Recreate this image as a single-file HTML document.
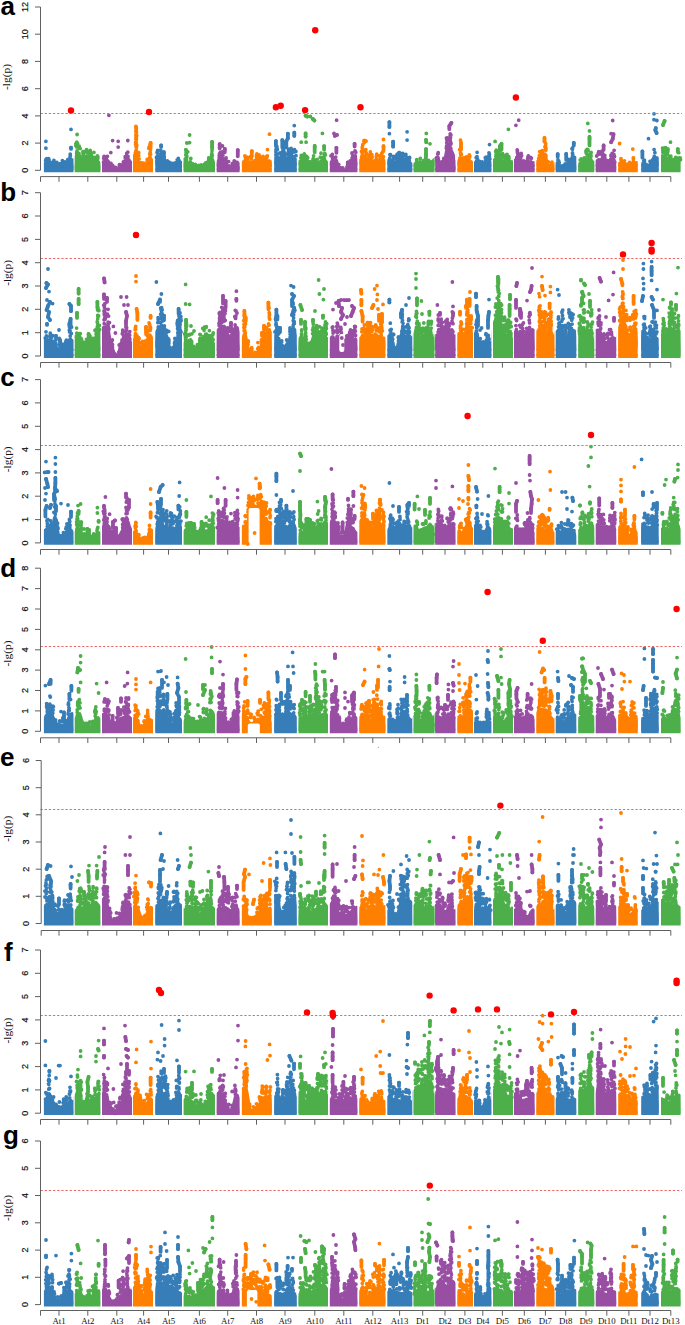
<!DOCTYPE html><html><head><meta charset="utf-8"><style>html,body{margin:0;padding:0;background:#fff;overflow:hidden;}svg{display:block}</style></head><body>
<svg width="685" height="1325" viewBox="0 0 685 1325">
<rect width="685" height="1325" fill="#fff"/>
<defs>
<clipPath id="c0"><rect x="43.9" y="0" width="29.6" height="1325"/></clipPath>
<clipPath id="c1"><rect x="74.7" y="0" width="25.7" height="1325"/></clipPath>
<clipPath id="c2"><rect x="102" y="0" width="30" height="1325"/></clipPath>
<clipPath id="c3"><rect x="133" y="0" width="20" height="1325"/></clipPath>
<clipPath id="c4"><rect x="155.3" y="0" width="26.7" height="1325"/></clipPath>
<clipPath id="c5"><rect x="183.6" y="0" width="31.4" height="1325"/></clipPath>
<clipPath id="c6"><rect x="216.7" y="0" width="22.9" height="1325"/></clipPath>
<clipPath id="c7"><rect x="241.9" y="0" width="29.9" height="1325"/></clipPath>
<clipPath id="c8"><rect x="274.2" y="0" width="22.6" height="1325"/></clipPath>
<clipPath id="c9"><rect x="298.5" y="0" width="29.5" height="1325"/></clipPath>
<clipPath id="c10"><rect x="329.8" y="0" width="27.6" height="1325"/></clipPath>
<clipPath id="c11"><rect x="359.3" y="0" width="26.1" height="1325"/></clipPath>
<clipPath id="c12"><rect x="387.3" y="0" width="25" height="1325"/></clipPath>
<clipPath id="c13"><rect x="413.5" y="0" width="21" height="1325"/></clipPath>
<clipPath id="c14"><rect x="435.2" y="0" width="20.3" height="1325"/></clipPath>
<clipPath id="c15"><rect x="457.4" y="0" width="15.6" height="1325"/></clipPath>
<clipPath id="c16"><rect x="474" y="0" width="17.4" height="1325"/></clipPath>
<clipPath id="c17"><rect x="493" y="0" width="19.9" height="1325"/></clipPath>
<clipPath id="c18"><rect x="514" y="0" width="20.6" height="1325"/></clipPath>
<clipPath id="c19"><rect x="536.3" y="0" width="18.2" height="1325"/></clipPath>
<clipPath id="c20"><rect x="555.7" y="0" width="20.6" height="1325"/></clipPath>
<clipPath id="c21"><rect x="578.2" y="0" width="16.1" height="1325"/></clipPath>
<clipPath id="c22"><rect x="595.7" y="0" width="20.5" height="1325"/></clipPath>
<clipPath id="c23"><rect x="618.2" y="0" width="19.5" height="1325"/></clipPath>
<clipPath id="c24"><rect x="641.2" y="0" width="17.5" height="1325"/></clipPath>
<clipPath id="c25"><rect x="661" y="0" width="19.6" height="1325"/></clipPath>
</defs>
<defs><path id="ea" d="M43.8 170.3L43.8 164.2L45.4 163.8L47 163.8L49.5 163.6L51.1 164.6L52.7 166.6L54.3 166.2L55.9 165.4L57.5 166.6L59.1 167L60.7 165.8L62.3 165L63.9 165.6L65.5 165.4L67.1 165L68.7 163.8L69.5 160.2L70.6 159.4L71.9 160.2L73.2 163.4L73.9 166.6L75.1 160.2L76.4 156.2L78 155.8L80 157.4L80.8 159.4L81.6 162.6L82.9 164.2L84 163.4L85.6 159.4L86.7 157.6L88 157.8L89.6 159.4L91.2 160.2L92.8 161L94.4 159.8L96 160.2L97.6 162.6L98.9 163.8L100 166.6L101.6 163.8L104.1 163L106.5 162.2L108.1 161.6L108.9 162.6L110.5 165.8L112.1 168.3L113.7 167.5L115.3 168.3L116.9 170.3L118.5 169.1L120.1 167L121.7 165.8L123.3 164.6L124.9 162.6L126.5 161L127.8 159.4L128.9 160.2L130.5 164.2L131.8 166.6L133.8 160.2L134.6 156.2L135.4 153.4L136.2 150.2L137 155.4L137.8 160.2L139.4 165.8L141 166.2L144.8 166.6L145 166.6L146.6 165.8L148.2 160.2L149.8 157.8L151.4 160.2L153 166.6L155 160.2L155.4 160.2L157 159.4L159.5 159L161.1 158.6L162.3 160.2L163.5 161.8L164.6 162.6L165.9 164.2L167.5 165.4L169.1 166.2L170.7 166.6L172.3 166.2L173.9 166.6L175.5 165.8L177.1 164.2L178.7 162.6L180 162.2L181.1 164.2L182.3 166.6L183.9 160.2L184.3 160.2L185.1 159.4L185.9 160.2L187.1 162.6L188.4 163.8L190 165L191.6 165.8L193.2 166.2L194.8 167L196.4 168.3L198 167.5L199.6 167L201.2 167L202.8 167.5L204.4 167L206 166.6L207.6 165.8L209.2 162.6L210.8 160.2L212.1 159.4L213.2 162.6L214.4 166.6L216 163.4L216.6 163.4L218.1 161.8L219.7 159.4L220.8 160.2L222.1 161L223.7 160.2L225.3 161.8L226.6 165L227.7 167.5L229.3 169.1L230.9 168.3L232.5 166.6L234.1 165L235.7 163.8L237.3 162.6L238.1 163.8L239.7 166.6L241.4 163.4L242.2 163.4L243.8 161.8L245.4 162.2L247 163.4L248.6 165L250.2 164.2L251.8 163.4L253.4 165L254.8 165.8L255 165.6L256.6 161.6L258.2 160.4L259.8 160L261.4 162L263 163.2L264.6 162.8L266.2 162.4L267.8 161.6L269.5 161.2L271.1 162.4L272.3 164.8L273.9 161.6L274.3 161.6L275.1 158.4L276.7 158L279.1 158.4L281.5 158.8L283.9 159.2L286.3 158.8L288.7 159L291.1 159.2L293.5 158.8L295.1 159.2L296.8 163.2L298 162.4L298.7 162.4L300 161.6L301.6 161.2L303.2 161.6L304.8 162.8L306.4 163.2L308 164L309.6 164.8L311.2 165.6L312.8 163.2L314.4 160.8L316 163.2L317.6 164L319.2 162.8L320.8 161.6L322.4 160.8L324.1 160L325.7 161.6L327.3 164.8L328.9 163.2L329.7 163.2L331.3 162.4L333.7 162L335.3 162.4L336.1 160.4L336.9 163.2L338.5 168.8L340.1 170.3L342.5 170.3L344.9 170.3L346.5 169.6L348.1 167.2L349.7 166.4L351 163.2L352.2 160L353.8 158.8L355.4 158L356.5 160.8L358.1 163.2L359.4 160.8L360.2 160.8L361.8 159.2L364.2 156.4L364.8 156.8L365 161.6L366.6 160.8L368.2 161.2L369.8 160.4L371.4 160.8L373 161.6L374.6 161.2L376.2 160.4L377.8 160.8L379.5 161.2L381.1 160.8L382.7 160L384.3 161.2L385.9 163.2L387.5 161.6L388 161.6L389.1 160L390.7 160.8L392.3 163.2L393.9 162.4L396.3 162L398.7 161.6L401.1 161.2L403.5 160.8L405.9 161.6L408.4 162.4L410 163.2L411.2 164.8L412.9 164.8L413.2 164.8L414.8 164.4L416.4 164.8L418.8 164L420.4 164.8L422 165.2L423.6 164.8L425.2 163.2L426.8 164L428.4 164.4L430 164.8L431.6 165.6L432.8 166.4L434.1 160L434.5 160L435.7 159.2L437.3 160L438.9 161.6L440.5 164.8L442.1 166.4L443.7 166.4L445 161.6L446.1 155.2L447.2 149.6L448.5 149.2L450.1 150.4L451.7 152L453 155.2L454.1 164.8L455.2 166.4L456.9 161.6L457.3 161.6L458.9 161.2L460.5 159.2L461.4 160L463 162.4L464.6 162.8L466.2 162L467.8 162L469.4 162.4L471 162L472.3 164.8L473.9 164L474.8 163.6L475 163.2L476.6 162.8L478.2 164L479.8 164.8L481.4 165.6L483 164.8L484.6 164L486.2 163.2L487.8 162.4L489.5 162L491.4 164.8L493 162.4L493.5 162.4L494.6 160L495.9 159.6L497.5 160.8L499.1 160.4L500.7 159.2L502.3 160.8L503.9 161.6L505.5 162L507.1 162.4L508.7 162L510.3 161.6L511.9 162.4L512.9 164.8L513.9 161.6L514.3 161.6L515.9 160L517.6 159.2L519.2 159.6L520.8 160.8L521.6 162.4L523.2 164L524.8 164L526.4 163.2L528 162.8L530.4 162.4L532 162.8L533.6 163.2L534.7 164.8L536 163.2L536.5 163.2L537.6 161.6L539.2 160.8L540.8 160L542.4 158.4L543.7 155.2L544.9 154.8L545.7 157.6L546.5 163.2L547.3 165.6L548.9 166L550.5 165.6L552.1 166L553.4 167.2L554.3 168.8L555.3 164L555.8 164L556.9 163.2L558.5 164L560.1 167.2L561.7 168L563.3 167.2L564.9 166.4L566.5 164.8L568.1 163.2L569.7 161.6L571.4 160L573 158.4L574.2 157.6L575 157.6L575.4 164.8L575.8 158.4L576.5 167.2L576.6 164.8L577.8 165.6L577.9 164.8L578.2 164.8L578.6 165.6L579.8 164L581 164L581.4 163.6L583 164.8L583.4 163.2L584.6 164L584.8 162.4L586.2 161.6L587.8 159.2L589.1 157.6L590.3 158.4L591.1 160.8L592.7 162.4L593.9 163.2L594.9 165.6L595.9 161.6L596.4 161.6L598.3 160.4L600.7 160L602.3 160.4L603.9 160L605.5 163.2L607.1 165.6L608.7 163.2L610.3 160.4L611.9 160.8L613.5 161.6L615.1 164.8L616.4 166.4L617.6 164L618.4 164L620 163.6L621.6 164L623.2 165.2L624.8 164.8L626.4 166.4L628 167.2L629.6 166.4L631.2 164.8L632.8 164L635.2 163.2L636.8 162.8L638.4 164.8L639.2 166.4L640 164.8L640.5 164.8L642.4 164L644.1 164.8L645.7 166.4L647.3 167.2L648.9 166.8L650.5 165.6L652.1 160.8L653.7 158.8L655.3 158.4L656.9 158L658.2 158.8L659.3 164.8L660.1 165.6L660.9 160L661.4 160L662.5 156L664.1 156.8L665.7 158.4L667.3 160.8L668.9 161.6L670.5 163.2L672.2 164L673.8 163.6L675.4 163.2L677 161.6L678.6 160.8L680.2 161.6L680.2 170.3Z" stroke-width="3.8" stroke-linejoin="round"/></defs>
<g clip-path="url(#c0)" fill="#377EB8" stroke="#377EB8"><use href="#ea"/></g>
<path d="M71 147.7L71 148.9" stroke="#377EB8" stroke-width="3.8" stroke-linecap="round"/>
<path d="M45.9 141.3h0M45.9 148.2h0M71 129.4h0M71 147.7h0M46.3 163.1h0M46.1 159.2h0M45.8 160.7h0M45.6 160.6h0M46.8 158.7h0M49 159.6h0M48.6 163.1h0M48.3 162.6h0M48.6 158.7h0M51.6 163.1h0M52.3 164.6h0M51.8 164.3h0M50.9 162.3h0M54.8 165.5h0M53.5 165h0M55.3 165.8h0M54.7 162.5h0M53.9 160.4h0M56.7 164.3h0M57.3 165.5h0M56.2 166.1h0M56.8 162.5h0M61.1 166h0M59.3 164.5h0M60.1 163.6h0M62.7 161.4h0M61.6 165h0M62.1 163.5h0M62.4 160.6h0M64.9 162.7h0M65.3 163.9h0M64.6 164.1h0M64.8 161.8h0M68.3 163.5h0M67.7 159.6h0M67.9 161.6h0M68.5 161.9h0M68.3 159.5h0M70.3 155.2h0M70.1 156.7h0M70.2 154.2h0" stroke="#377EB8" stroke-width="3.8" stroke-linecap="round"/>
<g clip-path="url(#c1)" fill="#4DAF4A" stroke="#4DAF4A"><use href="#ea"/></g>
<path d="M83.2 151.7L83.2 157.6" stroke="#4DAF4A" stroke-width="3.8" stroke-linecap="round"/>
<path d="M83.2 151.7h0M76.8 143h0M76.9 155.9h0M76.6 146.9h0M76.8 143.3h0M77.6 143.6h0M76.8 154h0M75.9 145.7h0M76.7 153.5h0M76.7 152.7h0M75.8 143.8h0M77.6 143.7h0M77 150.9h0M76.8 144.7h0M76.8 142.1h0M77.1 134.5h0M78.4 155.5h0M79.7 156.1h0M79.2 155.4h0M79.1 146.4h0M78.9 153.3h0M79.2 148.1h0M79.6 156.1h0M80.2 148.6h0M79.2 146.2h0M82.3 161h0M82.3 161.2h0M82.5 160h0M86.9 150.9h0M86.2 152.1h0M86.8 156.7h0M86.5 156.2h0M87.2 152.7h0M86.5 149.7h0M91.3 158.1h0M89.8 156.5h0M90.4 159h0M90.3 151.1h0M89.8 155h0M90.5 153.3h0M91.4 155.4h0M90.2 150.5h0M94.3 158.1h0M94.3 157.4h0M94.9 158.9h0M94.6 158.9h0M94 158.2h0M93.9 152.4h0M97.6 158.8h0M97.9 156.9h0M97.8 158.6h0M97.2 160.5h0M97.5 160.8h0M98.2 162.1h0M97.4 155.9h0" stroke="#4DAF4A" stroke-width="3.8" stroke-linecap="round"/>
<g clip-path="url(#c2)" fill="#984EA3" stroke="#984EA3"><use href="#ea"/></g>
<path d="M108.9 115.3h0M112.6 140.6h0M118.2 141.3h0M118.2 147.1h0M127.8 140.5h0M104.9 160.9h0M103.9 157h0M103.6 162.4h0M103.7 158.3h0M103.8 162.1h0M103.7 161.7h0M104.1 156.5h0M106.4 158.1h0M106.2 161h0M106.7 160.6h0M107.5 160.9h0M107.4 156.3h0M110.6 163.8h0M110.3 165.1h0M111 163.5h0M110.8 152.6h0M112.4 167.6h0M112.8 167.6h0M112.7 165.4h0M115.5 168h0M115.5 167.5h0M119.6 165h0M119.2 166.3h0M120.3 164.9h0M119.4 164.6h0M123.8 162.7h0M123.3 162.1h0M123.9 161.5h0M125.6 161.5h0M125.9 161.2h0M125.3 157.9h0M125.2 156.7h0M128 156.4h0M127.8 158.7h0M126.7 159.7h0M126.7 153.4h0M127.8 152.2h0" stroke="#984EA3" stroke-width="3.8" stroke-linecap="round"/>
<g clip-path="url(#c3)" fill="#FF7F00" stroke="#FF7F00"><use href="#ea"/></g>
<path d="M136.2 127.6L136.2 130M136.2 139.3L136.2 134.5M150.6 143L150.6 147.7M149 148.2L150.6 143" stroke="#FF7F00" stroke-width="3.8" stroke-linecap="round"/>
<path d="M136.2 127.6h0M136.2 134.5h0M136.2 139.3h0M150.6 143h0M149 148.2h0M136.5 132.3h0M136.3 142.8h0M136.7 135.6h0M136.3 132.8h0M136.2 135.3h0M136.3 137.9h0M136.1 145.4h0M136.3 139.7h0M135.7 144.5h0M135.6 142.5h0M136.5 147.2h0M136.3 146.8h0M136.8 145.3h0M136.3 134.7h0M136.1 138.5h0M136 146.7h0M136.4 146.1h0M135.9 131.4h0M135.9 126.3h0M139.1 159.1h0M137.9 157.7h0M138.5 161.7h0M138.3 158.1h0M138.8 159.3h0M138.2 160.8h0M138.7 155.7h0M138.7 152.7h0M141.1 162.8h0M141.9 163.4h0M141.2 162.9h0M141.9 162.8h0M144.1 165h0M142.1 163.3h0M143.9 163.2h0M147.3 160.7h0M147.5 161h0M147.5 162.4h0M147.2 159.3h0M149.7 153.9h0M150.6 154.4h0M150.5 149.5h0M150 154.2h0M149.9 157.2h0M150.3 152.1h0M150.5 149.3h0" stroke="#FF7F00" stroke-width="3.8" stroke-linecap="round"/>
<g clip-path="url(#c4)" fill="#377EB8" stroke="#377EB8"><use href="#ea"/></g>
<path d="M161.1 145.4L161.1 146.9M163.9 152.2L163.9 154" stroke="#377EB8" stroke-width="3.8" stroke-linecap="round"/>
<path d="M161.1 145.4h0M163.9 152.2h0M156.8 157.8h0M156.5 157.5h0M157.4 155.9h0M157.1 152.4h0M157.5 152.5h0M157.7 157.7h0M157.6 150.5h0M161.3 152h0M160.6 155.9h0M160.8 150.5h0M161.5 156.4h0M160.5 154.5h0M159.9 156.6h0M160.7 150.1h0M163.1 158.8h0M164.2 160h0M164 155.9h0M163.9 155.7h0M164.3 159.1h0M163.5 156.6h0M164.3 156.8h0M163.7 154.2h0M167 164.3h0M167.3 163.9h0M167.3 161h0M168.7 163.3h0M168.8 163.3h0M170.3 162.9h0M169 162.8h0M169.1 162.2h0M171.7 164.8h0M172.5 163.5h0M173.9 165.7h0M175.5 166h0M175.2 162.9h0M178.9 160.3h0M178.2 160.5h0M177.2 159.8h0M178.3 158.4h0" stroke="#377EB8" stroke-width="3.8" stroke-linecap="round"/>
<g clip-path="url(#c5)" fill="#4DAF4A" stroke="#4DAF4A"><use href="#ea"/></g>
<path d="M185.9 149.8L185.9 150.1M212.1 141.8L212.1 148.5M212.1 146.6L212.1 141.8M212.1 146.6L212.1 148.5" stroke="#4DAF4A" stroke-width="3.8" stroke-linecap="round"/>
<path d="M189.6 135h0M186.8 143h0M189.6 142.6h0M185.9 149.8h0M212.1 141.8h0M212.1 146.6h0M187.8 151.8h0M186.1 152.7h0M186.5 159.4h0M185.5 158.8h0M186.9 156.2h0M185.8 155.1h0M186.6 158.1h0M186.1 154.5h0M186.3 153.8h0M186.5 151.7h0M189.3 164.8h0M190.3 162.2h0M190.2 162h0M190.8 158.5h0M192.5 164.8h0M192.4 163.7h0M194.8 166.2h0M195.3 164.4h0M197.8 167.1h0M198.7 165.4h0M201.2 166.7h0M201.4 164.9h0M205 165.7h0M205.4 166.3h0M204.8 163.8h0M205.7 162.9h0M209.9 160.2h0M208.7 159.7h0M209 159.5h0M207.8 161.9h0M208.7 157.8h0M211.7 159.2h0M212.3 155.8h0M211.8 157.1h0M211.5 155.3h0M211.9 153.4h0M211.9 154.4h0M212 150.8h0" stroke="#4DAF4A" stroke-width="3.8" stroke-linecap="round"/>
<g clip-path="url(#c6)" fill="#984EA3" stroke="#984EA3"><use href="#ea"/></g>
<path d="M219.7 144.2L219.7 148.5M219.7 147.4L219.7 144.2M219.7 147.4L219.7 148.5M224.8 149L224.8 152.3M237.8 150.1L237.8 156.3" stroke="#984EA3" stroke-width="3.8" stroke-linecap="round"/>
<path d="M219.7 144.2h0M219.7 147.4h0M224.8 149h0M237.8 150.1h0M219.2 155.6h0M219.2 157.8h0M219.5 153.7h0M220.1 153.5h0M220.3 152.5h0M221.7 154.2h0M221.7 155.2h0M221.7 158.5h0M223.3 158.9h0M221.9 154.5h0M222.8 153.6h0M222.1 159.1h0M222.9 155.2h0M222.2 151.9h0M222.7 151.6h0M222.5 145.9h0M225.8 159.7h0M225.9 160.7h0M226 158.4h0M226.1 162.1h0M226.1 157.9h0M228.3 166.3h0M228.2 168.3h0M228.9 165.8h0M228.6 161.6h0M232.8 166.5h0M232.1 165.3h0M232.3 163.6h0M233.8 163.6h0M234.9 161.3h0M234.2 161h0" stroke="#984EA3" stroke-width="3.8" stroke-linecap="round"/>
<g clip-path="url(#c7)" fill="#FF7F00" stroke="#FF7F00"><use href="#ea"/></g>
<path d="M251.8 151.1L251.8 156.5" stroke="#FF7F00" stroke-width="3.8" stroke-linecap="round"/>
<path d="M251.8 151.1h0M269.5 134.2h0M244.8 161.1h0M245.6 159.5h0M245.3 157.4h0M244.9 155.8h0M247.5 163.6h0M247.7 161.6h0M247.4 162h0M247.6 159.8h0M247 158.9h0M247.2 157.5h0M247.6 157.3h0M250.8 162.2h0M250.4 162.2h0M251.4 162.1h0M252.5 162.3h0M251.2 158.3h0M250.5 156.7h0M254.4 164.2h0M254.2 162.2h0M255.1 162.2h0M254.2 164.1h0M254 161.2h0M254.2 160.9h0M256.4 156.1h0M257.5 155.4h0M256.6 158.6h0M257.1 154.8h0M256.8 157.5h0M256.7 154.7h0M256.9 154h0M258.9 158.3h0M260.1 156.8h0M258.8 157.1h0M259.1 154.9h0M261.9 157.8h0M262.1 158.3h0M262.1 159.2h0M261.3 157.8h0M263.6 161.5h0M262.3 159.5h0M264.6 161.1h0M263.6 158.7h0M264.2 161.1h0M263.1 156.5h0M266.5 160.1h0M266.8 156.5h0M266.8 156.4h0M266.9 157.7h0M267.3 156h0M267.5 149.6h0" stroke="#FF7F00" stroke-width="3.8" stroke-linecap="round"/>
<g clip-path="url(#c8)" fill="#377EB8" stroke="#377EB8"><use href="#ea"/></g>
<path d="M275.9 141.1L275.9 146.1M282.3 140.1L282.3 147.6M286.3 141.4L287.9 138.2M286.3 141.4L286.3 147.3M287.9 138.2L287.9 133.7M294.3 135.8L294.3 132.6M285.5 142.2L286.3 141.4M285.5 142.2L285.5 147.6" stroke="#377EB8" stroke-width="3.8" stroke-linecap="round"/>
<path d="M275.9 141.1h0M282.3 140.1h0M286.3 141.4h0M287.9 138.2h0M287.9 133.7h0M294.3 125.6h0M294.3 132.6h0M294.3 135.8h0M285.5 142.2h0M276.7 156.5h0M277 148h0M277 148.3h0M277.4 149.4h0M276.1 149.2h0M275.9 152h0M277.3 156.6h0M276 150.1h0M275.9 154.9h0M276.9 154.9h0M276.4 149.1h0M276.8 146.4h0M281.2 156h0M280.7 158.4h0M279.5 153.1h0M280.5 152.9h0M282.8 159h0M283.4 158.6h0M283.6 150.7h0M283.6 154.2h0M283.5 151.5h0M282.8 155.4h0M282.9 150.4h0M283.3 149.1h0M284.7 157.1h0M285 157.4h0M285.4 153.9h0M284.9 152.9h0M288.2 155.2h0M289.2 155h0M288.5 149.4h0M289.4 156h0M288.7 154.8h0M289 158.9h0M288.5 150.7h0M288.7 153h0M288.5 149.2h0M291.3 151.9h0M291.4 152.2h0M291.4 151.6h0M291.1 154.4h0M291.5 151.9h0M291.3 151.7h0M290.7 157.5h0M291.7 157.5h0M291.3 154.4h0M291.2 152.2h0M291.1 148.4h0M293.9 152.1h0M295.9 151.5h0M294.6 151.4h0M296 155.7h0M293.8 156.7h0M294 151.2h0M294.5 149.7h0" stroke="#377EB8" stroke-width="3.8" stroke-linecap="round"/>
<g clip-path="url(#c9)" fill="#4DAF4A" stroke="#4DAF4A"><use href="#ea"/></g>
<path d="M305.6 136.6L305.6 133.4M314.7 145.9L314.7 152.3M324.1 146.2L324.1 149.7M307.2 116.5L305.6 115.7M314.4 120.5L312.8 118.9" stroke="#4DAF4A" stroke-width="3.8" stroke-linecap="round"/>
<path d="M301.2 142.2h0M306.1 142.2h0M305.6 133.4h0M305.6 136.6h0M314.7 145.9h0M322.4 133.4h0M324.1 146.2h0M305.6 115.7h0M307.2 116.5h0M310.4 116.5h0M312.8 118.9h0M314.4 120.5h0M302.7 161h0M300.9 157.9h0M301.7 160.9h0M301.7 156.4h0M301.3 155.3h0M304.4 162.6h0M304.7 156.6h0M304.8 160.6h0M303.9 156.4h0M303.9 159.3h0M304.9 159.5h0M304.8 155.5h0M304.3 153.9h0M306.6 158.6h0M308.6 161.6h0M306.8 160.4h0M306.9 160.9h0M307 162.1h0M307.7 157.7h0M306.7 156.4h0M310.9 164.9h0M310.9 163.2h0M310.1 162h0M312.5 161.8h0M313.2 158.7h0M312.9 160h0M313.6 159.3h0M313.2 159.6h0M313.6 155.8h0M316.5 161.1h0M316.2 163.1h0M316.4 160.4h0M317.1 159.4h0M321.5 157.6h0M320.6 157.8h0M320.3 157.2h0M321 153.2h0M324.4 158.6h0M324.3 155.5h0M323.9 159.7h0M325.4 154.9h0M324.8 153.4h0" stroke="#4DAF4A" stroke-width="3.8" stroke-linecap="round"/>
<g clip-path="url(#c10)" fill="#984EA3" stroke="#984EA3"><use href="#ea"/></g>
<path d="M334.8 135.8L336.9 135M336.4 147.8L336.4 152.8M347.8 162.3L347.8 164.6M354.6 143.8L354.6 146.5" stroke="#984EA3" stroke-width="3.8" stroke-linecap="round"/>
<path d="M336.6 120.2h0M334 133.4h0M334.8 135.8h0M336.9 135h0M336.4 147.8h0M347.8 162.3h0M354.6 143.8h0M332.7 159.3h0M332.6 159.1h0M332.3 156.8h0M332.5 160.3h0M331 155.8h0M332.2 162h0M332.8 157.4h0M332.7 162.3h0M332.3 154.4h0M335.3 161.5h0M335.6 161.2h0M335.7 157.2h0M338 166.2h0M338.7 166.8h0M338.8 164.6h0M337.8 164.3h0M340.3 168.6h0M340.9 167.8h0M343 169.7h0M342.8 167.8h0M346.9 168h0M347 167h0M347.6 166.2h0M350.4 162.3h0M349.7 163h0M349.9 161.6h0M350.2 161h0M353.3 158.2h0M352.1 157.8h0M353.1 157.7h0M352.8 155.6h0M352 153.2h0M352.1 152.9h0M355.8 152.3h0M355.3 155.9h0M355.2 151.1h0M355 155.8h0M355 151h0" stroke="#984EA3" stroke-width="3.8" stroke-linecap="round"/>
<g clip-path="url(#c11)" fill="#FF7F00" stroke="#FF7F00"><use href="#ea"/></g>
<path d="M364.2 140.6L364.2 142.5M365.8 141.1L364.2 140.6M383.5 146.2L383.5 150.9" stroke="#FF7F00" stroke-width="3.8" stroke-linecap="round"/>
<path d="M364.2 140.6h0M365.8 141.1h0M383.5 139.5h0M383.5 146.2h0M362.5 151h0M361.9 152.3h0M363.5 151.4h0M362.7 151.7h0M362.3 148.2h0M362.4 153.8h0M362.3 151.7h0M362.4 150.5h0M361.6 157.5h0M362.1 155.4h0M361.5 151.3h0M362.2 152.3h0M362.3 147h0M362.8 144.7h0M366.7 160.3h0M365.3 157h0M367.3 158.6h0M366.3 154.3h0M365.8 158.7h0M366.5 158.4h0M366.2 152.9h0M365.8 149.6h0M369.8 158h0M369.3 154.9h0M369.8 160.2h0M369.8 159.3h0M370.6 153.9h0M369.2 156.9h0M370.5 156.1h0M370.3 151.9h0M371.9 156.7h0M372.1 157.3h0M371.9 156.8h0M372 156.3h0M371.9 154.6h0M376.4 159.5h0M376.3 159.2h0M376.3 156.3h0M376.7 154.2h0M380.7 158.1h0M380.4 156.8h0M378.9 159.8h0M379.6 156h0M382.4 160.2h0M382.5 158.7h0M382.7 159.1h0M381.7 153.4h0M383.4 156.7h0M382.6 152.1h0" stroke="#FF7F00" stroke-width="3.8" stroke-linecap="round"/>
<g clip-path="url(#c12)" fill="#377EB8" stroke="#377EB8"><use href="#ea"/></g>
<path d="M389.4 126.9L389.4 122.1M393.1 146.5L393.1 141.7" stroke="#377EB8" stroke-width="3.8" stroke-linecap="round"/>
<path d="M389.4 122.1h0M389.4 126.9h0M389.4 133.7h0M393.1 141.7h0M393.1 146.5h0M407.1 131.8h0M407.1 140.1h0M390.4 155.4h0M390.5 160.4h0M390.5 154.7h0M389.7 158.2h0M389.9 154.6h0M394.4 158.4h0M394 156.9h0M393.6 157.6h0M393 160h0M393.7 156.3h0M396.9 157.9h0M397.8 157.7h0M397.3 158.7h0M396.8 155.2h0M398.9 157.4h0M397.1 159.4h0M397.2 154.2h0M399.7 158h0M399.2 158.1h0M398.7 153.1h0M400.3 155.2h0M399.6 160.6h0M398.8 153.7h0M400.1 157.4h0M400 155.9h0M400.5 157.2h0M399.5 152.7h0M399 152.7h0M402.8 154.4h0M402.2 158.5h0M403.1 156.7h0M401.7 160.5h0M402.4 160.8h0M403.1 158.7h0M402.7 153.3h0M406.1 161.2h0M405.7 154.9h0M405.9 161.5h0M405.9 159.5h0M405.5 155.8h0M406.9 157.5h0M405.9 154.5h0M409.2 160.9h0M408.7 160.5h0M409.6 158h0M409.6 157.5h0" stroke="#377EB8" stroke-width="3.8" stroke-linecap="round"/>
<g clip-path="url(#c13)" fill="#4DAF4A" stroke="#4DAF4A"><use href="#ea"/></g>
<path d="M426.3 142.2L426 139.8M426 149.1L426 156.9M426 154.2L426 149.1M426 154.2L426 156.9" stroke="#4DAF4A" stroke-width="3.8" stroke-linecap="round"/>
<path d="M426.3 133.4h0M426 139.8h0M426.3 142.2h0M430 143.8h0M426 149.1h0M426 154.2h0M416.7 160h0M416.9 161.2h0M417.6 162.5h0M416.4 162.8h0M416.7 159.6h0M419.7 163h0M420 162h0M420.3 158.4h0M423.9 160.6h0M423.2 161.6h0M422.7 163.8h0M423.5 160.6h0M426 160.5h0M426.4 162.6h0M425.5 162.1h0M426.4 163.4h0M425.9 158.3h0M425.7 158h0M429.7 162h0M428.6 160.9h0M429.3 163.8h0M428.6 160.4h0M431.3 164.3h0M432.4 165.4h0M432.2 164.7h0M432.2 163.5h0M432.3 161.7h0" stroke="#4DAF4A" stroke-width="3.8" stroke-linecap="round"/>
<g clip-path="url(#c14)" fill="#984EA3" stroke="#984EA3"><use href="#ea"/></g>
<path d="M449.3 126.1L451.4 122.9M449.3 126.1L449.3 129.2" stroke="#984EA3" stroke-width="3.8" stroke-linecap="round"/>
<path d="M451.4 122.9h0M449.3 126.1h0M437.9 158.8h0M437.7 154.1h0M437.9 157.4h0M436.4 158h0M438.1 153.7h0M438.4 158.9h0M438.2 152.7h0M441.3 163.2h0M440.7 164.5h0M441.5 164.2h0M441.7 161.9h0M445.3 158.6h0M444.4 161.1h0M445.2 161.6h0M443.8 159.6h0M444.7 162.4h0M443.8 158.4h0M447.1 140.6h0M446.8 142.7h0M446.3 148.1h0M447.6 146.9h0M447.4 144.2h0M447.3 140.8h0M446.8 138.3h0M446.9 140h0M446.6 146h0M446.4 138.1h0M447.4 137.8h0M451 143.3h0M450.3 141h0M450.9 144h0M450.2 135.5h0M450.2 137.5h0M450.5 143h0M450.9 135h0M450.2 139.1h0M450.9 142.8h0M450.5 137.8h0M450.8 148.4h0M450.9 150h0M450 145.6h0M450.2 134h0" stroke="#984EA3" stroke-width="3.8" stroke-linecap="round"/>
<g clip-path="url(#c15)" fill="#FF7F00" stroke="#FF7F00"><use href="#ea"/></g>
<path d="M461 142.7L461 149.1M461 146.5L461 142.7M461 146.5L461 149.1" stroke="#FF7F00" stroke-width="3.8" stroke-linecap="round"/>
<path d="M461 142.7h0M461 146.5h0M459.9 158.2h0M460.7 153.1h0M460.9 149.7h0M461.1 154h0M461.4 154.7h0M460.5 153.1h0M459.6 149.7h0M460.8 154.9h0M460.9 158.7h0M460.9 148.8h0M460.5 140.2h0M464.9 159.6h0M463.5 160.1h0M464.4 159.1h0M463.5 158.1h0M463.8 158h0M466.4 157.5h0M466.9 159h0M466.4 160.7h0M466.3 157h0M469.6 157.2h0M468.8 158.4h0M469 159.1h0M469.8 156.2h0M468.8 157h0M468.6 159.9h0M468.8 159.3h0M469.3 154.9h0" stroke="#FF7F00" stroke-width="3.8" stroke-linecap="round"/>
<g clip-path="url(#c16)" fill="#377EB8" stroke="#377EB8"><use href="#ea"/></g>
<path d="M489.5 144.6h0M477.3 163h0M477.5 158.9h0M476.2 157.6h0M476.8 157.7h0M476.6 160.9h0M477 156.6h0M477.1 152.3h0M480.5 163.2h0M479.3 164.3h0M479.6 161.4h0M482.4 165.1h0M481.7 163.8h0M482.2 162h0M485.7 157.9h0M485.9 162.2h0M485.8 163.5h0M485.6 157.6h0M485.6 159.8h0M485.3 157.7h0M485.8 160.9h0M486.1 157.1h0M489 155.1h0M488.8 158.7h0M489.2 159.1h0M489.3 156.9h0M489.2 162h0M488.7 156.8h0M489.9 159.1h0M489.4 156.4h0M489.4 154h0M489 152.8h0" stroke="#377EB8" stroke-width="3.8" stroke-linecap="round"/>
<g clip-path="url(#c17)" fill="#4DAF4A" stroke="#4DAF4A"><use href="#ea"/></g>
<path d="M501.5 143.8L501.5 149.7M499.9 146.2L501.5 143.8M499.9 146.2L499.9 149.3" stroke="#4DAF4A" stroke-width="3.8" stroke-linecap="round"/>
<path d="M495.1 141.4h0M501.5 143.8h0M499.9 146.2h0M508.4 129.3h0M496.2 154.2h0M496.7 159.8h0M495.9 156.4h0M495.7 151.4h0M495.9 159.8h0M496.1 154.5h0M496.3 150.8h0M496.4 155.6h0M496.8 157.3h0M496.3 150.1h0M499.2 156.1h0M499.4 150.8h0M499.1 153.1h0M499.5 154.2h0M500 157h0M498.7 156.6h0M499.8 158.4h0M498.7 154.2h0M499.8 156.7h0M500.2 150.5h0M502.8 154.3h0M503.3 155.4h0M502.6 154.6h0M503.8 157.4h0M503.8 157h0M502.5 154.9h0M502.6 153.7h0M505.7 160.2h0M506.5 156.9h0M506.4 157.5h0M506.8 157h0M506.8 157.1h0M506.4 154.9h0M506.5 158.9h0M507 154.3h0M508.8 162h0M509 158.6h0M508.2 160.2h0M508.8 156.8h0M508.4 156.3h0" stroke="#4DAF4A" stroke-width="3.8" stroke-linecap="round"/>
<g clip-path="url(#c18)" fill="#984EA3" stroke="#984EA3"><use href="#ea"/></g>
<path d="M515.9 125.3h0M518.7 120.2h0M517.3 151.1h0M517.6 152.9h0M518 154.6h0M516.7 157.6h0M517.4 152.6h0M517.5 151h0M517.8 155.3h0M517 157.3h0M517.2 149.8h0M520.8 156.5h0M520 156h0M521 156.6h0M520.7 158.3h0M521 153.6h0M521.6 155.7h0M521.2 153.5h0M524.7 161.4h0M523.7 160.8h0M528.2 162.7h0M527.6 158.6h0M527.1 162.4h0M527.7 160.8h0M528 156.8h0M528.3 155.9h0M531.4 158.1h0M531.1 158.7h0M530.5 162.2h0M530.5 157.3h0" stroke="#984EA3" stroke-width="3.8" stroke-linecap="round"/>
<g clip-path="url(#c19)" fill="#FF7F00" stroke="#FF7F00"><use href="#ea"/></g>
<path d="M544.5 137.9L544.5 139.5M544.5 141.4L544.5 137.9" stroke="#FF7F00" stroke-width="3.8" stroke-linecap="round"/>
<path d="M544.5 137.9h0M544.5 141.4h0M539.6 159.7h0M539.4 156.9h0M539.4 155.6h0M538.7 158.6h0M539.7 155.7h0M540.6 159.5h0M539.9 160.4h0M540.2 152.2h0M539.7 151.6h0M541.7 153.2h0M542.3 152.6h0M542.1 155.6h0M542.3 152.5h0M542.4 151.2h0M542.2 150.7h0M544.8 156.5h0M545.9 155.6h0M545.7 143.7h0M544.9 155.2h0M545.7 148.1h0M544.9 146.8h0M545.6 147.7h0M544.8 154.1h0M546 148.5h0M545.6 145h0M545.5 149.3h0M545.8 150.2h0M545.2 155.9h0M545.5 143.4h0M547.1 165.4h0M547.4 162.2h0M547.4 163.5h0M548.3 161.9h0M552 165.2h0M551.2 165.1h0M551.7 162.7h0M552 162.2h0" stroke="#FF7F00" stroke-width="3.8" stroke-linecap="round"/>
<g clip-path="url(#c20)" fill="#377EB8" stroke="#377EB8"><use href="#ea"/></g>
<path d="M557.7 154.2L557.7 156.9M566.2 153.9L566.2 160M573.8 143L573.8 145.5" stroke="#377EB8" stroke-width="3.8" stroke-linecap="round"/>
<path d="M557.7 154.2h0M566.2 153.9h0M573.8 143h0M559.2 162.6h0M558.4 161h0M558.7 160.8h0M558 160h0M562.3 166h0M562.2 165.8h0M564.4 165.3h0M565.1 163.9h0M568.5 160.1h0M568.7 162h0M568.7 159.3h0M572.2 158.1h0M572.5 158h0M572 148.8h0M572.6 155h0M572.5 153.6h0M572.5 153h0M572.5 148.3h0M572.3 157.7h0M572 157.8h0M572.4 149.3h0M572.8 155h0M572.5 147.8h0" stroke="#377EB8" stroke-width="3.8" stroke-linecap="round"/>
<g clip-path="url(#c21)" fill="#4DAF4A" stroke="#4DAF4A"><use href="#ea"/></g>
<path d="M589.5 139L589.5 136.9M589.5 139L589.5 145.4M586.2 151L586.2 152.9" stroke="#4DAF4A" stroke-width="3.8" stroke-linecap="round"/>
<path d="M587.8 123.4h0M589.5 130.9h0M589.5 136.9h0M589.5 139h0M586.2 151h0M580.9 163.5h0M580.2 160.1h0M581 159.3h0M581.1 158.9h0M584.6 163.1h0M583.4 161.1h0M584.3 161.2h0M584.3 162.2h0M584.5 158.6h0M584.3 158h0M587.2 155.3h0M588.1 150.6h0M587.3 158.7h0M587.1 153.8h0M588 155.3h0M587 150.4h0M587.3 154.6h0M587.9 149.6h0M587.5 150.6h0M587 149.5h0M590.8 153.6h0M591.1 156h0M591.1 152.8h0M590 158.2h0M591.1 152.5h0M590.6 160.5h0M591.1 152.5h0" stroke="#4DAF4A" stroke-width="3.8" stroke-linecap="round"/>
<g clip-path="url(#c22)" fill="#984EA3" stroke="#984EA3"><use href="#ea"/></g>
<path d="M612.7 139L613.5 134.2M611.1 142.2L612.7 139M603.6 145.4L603.6 149.9" stroke="#984EA3" stroke-width="3.8" stroke-linecap="round"/>
<path d="M612.7 120.5h0M611.1 133.7h0M613.5 134.2h0M612.7 139h0M611.1 142.2h0M603.6 145.4h0M598.8 154.2h0M598.7 154.2h0M599.2 153.4h0M596.7 156h0M598.2 153.4h0M599.4 153.2h0M598.8 159.9h0M598.7 151.7h0M602.5 153.1h0M602.4 158.2h0M602.8 154.8h0M603.4 154.7h0M602.3 153.7h0M602 152.4h0M602.1 154.9h0M602.2 151.9h0M601.9 151.1h0M604.2 159.6h0M604.9 158.2h0M603.9 156.9h0M604.8 155.5h0M607.4 163.8h0M607.8 163.3h0M607.2 162.6h0M607.6 160.9h0M607.4 160.7h0M611 155.2h0M611.5 157.6h0M611 156.1h0M610.7 159.4h0M611.2 156.1h0M612.1 153.5h0M613.2 161.4h0M613.9 160.2h0M614.5 156.4h0M614.7 161.9h0M614.1 157.2h0M613.6 162.1h0M612.9 162.1h0M613.9 154.3h0M614.1 150.3h0" stroke="#984EA3" stroke-width="3.8" stroke-linecap="round"/>
<g clip-path="url(#c23)" fill="#FF7F00" stroke="#FF7F00"><use href="#ea"/></g>
<path d="M619.6 143.5h0M632.8 149.1h0M621.4 161.2h0M621 159.7h0M621.3 162.2h0M621.2 162.2h0M621 158.7h0M624.5 162.9h0M624.3 162.5h0M624.4 160.8h0M627.3 164.4h0M627.5 164.4h0M629.7 166h0M629.9 162.6h0M629.5 163.8h0M629.4 165h0M629.7 162.4h0M633.3 162.7h0M633.5 162.7h0M633.3 158h0M633.4 159.8h0M633.5 157.9h0" stroke="#FF7F00" stroke-width="3.8" stroke-linecap="round"/>
<g clip-path="url(#c24)" fill="#377EB8" stroke="#377EB8"><use href="#ea"/></g>
<path d="M642.4 151.5L642.4 157.7M656.6 133L655.3 130.1M655.3 130.1L655.8 128.2" stroke="#377EB8" stroke-width="3.8" stroke-linecap="round"/>
<path d="M642.4 151.5h0M648.5 138.7h0M654 113.8h0M654 119.7h0M656.9 120.5h0M655.8 128.2h0M656.6 133h0M655.3 130.1h0M644 163.9h0M644.3 160.5h0M644.6 162.5h0M643.7 160.8h0M644.4 160.2h0M647.2 166.1h0M647 165h0M650.4 164.4h0M651 162h0M650 161.3h0M654.3 156.5h0M654.2 157.5h0M653.8 158.4h0M654.9 152.7h0M654.1 149.6h0" stroke="#377EB8" stroke-width="3.8" stroke-linecap="round"/>
<g clip-path="url(#c25)" fill="#4DAF4A" stroke="#4DAF4A"><use href="#ea"/></g>
<path d="M663 125L664.6 121M667.8 149.1L667.8 151.8M677.8 149.1L677.8 152.1" stroke="#4DAF4A" stroke-width="3.8" stroke-linecap="round"/>
<path d="M663 125h0M664.6 121h0M670.5 142.2h0M667.8 149.1h0M677.8 149.1h0M662.8 150.5h0M663.3 152.5h0M662.6 148.2h0M663.6 151.3h0M662.9 152.3h0M663.2 148.1h0M665.9 151.5h0M665.8 155.5h0M665.2 156.6h0M666.1 154.3h0M665.4 156.2h0M665.6 147.9h0M665.6 155.6h0M666.4 154.4h0M665.8 152.9h0M665.6 147.7h0M666.7 159.3h0M668.2 159.6h0M666.6 158.1h0M667.9 158.5h0M667.7 159.3h0M667.1 153.7h0M667.3 153.4h0M669.9 158.9h0M670.7 157.7h0M670.9 162.8h0M669.9 160.5h0M670.2 163h0M670 158.5h0M669.8 156.2h0M670.8 156.1h0M672.6 162.3h0M672.4 161.6h0M672.8 163.7h0M672.5 159.3h0M675 162.7h0M675.2 160h0M675.7 158.9h0M675.7 157.4h0M680.5 159.7h0M677.7 158.2h0M679.2 158.2h0M678.8 160.6h0M680.1 158h0M678.8 158.8h0M678.7 152.7h0" stroke="#4DAF4A" stroke-width="3.8" stroke-linecap="round"/>
<line x1="40.5" y1="113.5" x2="682" y2="113.5" stroke="#ea6a6a" stroke-width="1" stroke-dasharray="2.3 1.86"/>
<circle cx="315.2" cy="30.2" r="3.2" fill="#f00"/>
<circle cx="71" cy="110.4" r="3.2" fill="#f00"/>
<circle cx="149" cy="112" r="3.2" fill="#f00"/>
<circle cx="275.9" cy="107.3" r="3.2" fill="#f00"/>
<circle cx="280.7" cy="105.7" r="3.2" fill="#f00"/>
<circle cx="305.1" cy="110.1" r="3.2" fill="#f00"/>
<circle cx="360.5" cy="107.3" r="3.2" fill="#f00"/>
<circle cx="515.9" cy="97.5" r="3.2" fill="#f00"/>
<g stroke="#606060" stroke-width="1" fill="none">
<path d="M40.5 7V170.3"/>
<path d="M35 170.3H40.5"/>
<path d="M35 143.1H40.5"/>
<path d="M35 115.9H40.5"/>
<path d="M35 88.7H40.5"/>
<path d="M35 61.4H40.5"/>
<path d="M35 34.2H40.5"/>
<path d="M35 7H40.5"/>
<path d="M40.5 176.6H670.8"/>
<path d="M40.5 176.6v5.2"/>
<path d="M59 176.6v5.2"/>
<path d="M87.8 176.6v5.2"/>
<path d="M116.8 176.6v5.2"/>
<path d="M143.6 176.6v5.2"/>
<path d="M168.5 176.6v5.2"/>
<path d="M199.4 176.6v5.2"/>
<path d="M227.7 176.6v5.2"/>
<path d="M256.5 176.6v5.2"/>
<path d="M285 176.6v5.2"/>
<path d="M314.8 176.6v5.2"/>
<path d="M343.8 176.6v5.2"/>
<path d="M372.8 176.6v5.2"/>
<path d="M399.6 176.6v5.2"/>
<path d="M422.7 176.6v5.2"/>
<path d="M445 176.6v5.2"/>
<path d="M464.9 176.6v5.2"/>
<path d="M482.8 176.6v5.2"/>
<path d="M502.4 176.6v5.2"/>
<path d="M524.3 176.6v5.2"/>
<path d="M545.4 176.6v5.2"/>
<path d="M565.7 176.6v5.2"/>
<path d="M586 176.6v5.2"/>
<path d="M606.8 176.6v5.2"/>
<path d="M628.9 176.6v5.2"/>
<path d="M650 176.6v5.2"/>
<path d="M670.8 176.6v5.2"/>
</g>
<text transform="translate(28 170.3) rotate(-90)" text-anchor="middle" font-family="Liberation Sans" font-size="9" fill="#111" stroke="#111" stroke-width="0.2">0</text>
<text transform="translate(28 143.1) rotate(-90)" text-anchor="middle" font-family="Liberation Sans" font-size="9" fill="#111" stroke="#111" stroke-width="0.2">2</text>
<text transform="translate(28 115.9) rotate(-90)" text-anchor="middle" font-family="Liberation Sans" font-size="9" fill="#111" stroke="#111" stroke-width="0.2">4</text>
<text transform="translate(28 88.7) rotate(-90)" text-anchor="middle" font-family="Liberation Sans" font-size="9" fill="#111" stroke="#111" stroke-width="0.2">6</text>
<text transform="translate(28 61.4) rotate(-90)" text-anchor="middle" font-family="Liberation Sans" font-size="9" fill="#111" stroke="#111" stroke-width="0.2">8</text>
<text transform="translate(28 34.2) rotate(-90)" text-anchor="middle" font-family="Liberation Sans" font-size="9" fill="#111" stroke="#111" stroke-width="0.2">10</text>
<text transform="translate(28 7) rotate(-90)" text-anchor="middle" font-family="Liberation Sans" font-size="9" fill="#111" stroke="#111" stroke-width="0.2">12</text>
<text transform="translate(10 77) rotate(-90)" text-anchor="middle" font-family="Liberation Serif" font-size="11.4" fill="#111">-lg(p)</text>
<text x="0.6" y="15.4" font-family="Liberation Sans" font-weight="bold" font-size="26" fill="#000">a</text>
<defs><path id="eb" d="M44 356L44 356L44.4 340.9L46 339.9L48 340.9L50 342.9L52 343.9L54 344.9L56 347.9L58 348.9L60 349.9L62 350.9L64 348.9L66 346.9L68 342.9L70 339.9L72 340.9L73.4 348.9L75 348.9L75.6 340.9L77 336.9L78.6 338.9L80 342.9L82 346.9L84 348.9L86 347.9L88 346.4L90 346.9L92 347.9L94 345.9L96 340.9L97.4 331.9L98.6 329.9L99.4 334.9L100.6 348.9L102 338.9L102.6 331.9L104 327.4L106 327.9L108 329.9L109.4 338.9L111 345.9L113 350.9L115 356L117 356L119 354.9L121 343.9L123 340.9L125 339.9L127 340.9L129 341.9L130.6 342.9L131.8 348.9L133 348.9L134 343.9L135 338.9L137 335.9L138 340.9L139 345.9L141 347.9L143 346.9L145 345.9L147 342.9L149 338.9L150.6 336.9L152 338.9L153.8 346.9L155 343.9L155.8 336.9L157 331.9L158.6 328.9L160.6 328.9L162 330.9L163.4 336.9L165.4 340.9L168 345.9L170 350.9L171.8 351.9L172 351.9L174 346.9L176 344.9L177.6 338.9L179 333.4L180 333.9L181 340.9L182.4 348.9L184 348.9L184.6 344.9L186 340.9L188 342.9L190 345.9L192 348.9L194 350.9L196 351.9L198 348.9L200 342.9L201.6 338.9L203.6 337.9L206 338.4L208 338.9L210 339.9L212 341.9L214.8 348.9L216.4 348.9L217 331.9L218.4 330.4L221 328.9L223.6 329.9L225.6 331.9L227 338.9L228.6 340.9L230 341.9L232 340.9L234 334.9L235.6 328.9L237 327.9L238 331.9L240 348.9L241 348.9L242 342.9L243.6 337.9L245 334.9L246 339.9L247.6 347.9L250 352.9L252 355.9L254 356L256 354.9L258 351.9L260 348.9L262 345.9L264 342.9L266 338.9L267.6 334.9L269 330.9L270.4 332.9L272 348.9L274 348.9L274.6 342.9L275.6 335.9L277 336.9L279 340.9L281 346.9L283 349.9L285 350.4L287 347.9L289 344.9L290.4 338.9L291.6 331.9L293 328.9L294.4 330.9L295.6 338.9L296.8 348.9L298 348.9L298.6 340.9L300 338.9L302 340.9L304 341.9L306 342.9L308.8 343.9L309 354.9L311 348.9L313 338.9L315 339.9L317 340.9L319 339.9L321 337.9L323 336.9L325 337.9L327 338.9L328.6 348.9L330 348.9L330.6 338.9L332.6 336.9L334.6 340.9L336.6 338.9L338.6 336.9L340.6 340.9L342.6 343.9L344.6 346.9L347 344.9L349 341.9L351.4 340.9L354 339.9L356.6 340.9L358 348.9L359 348.9L359.6 338.9L361 338.4L363 338.9L365 339.4L367 338.9L369 338.9L371 338.9L373 338.9L375 338.9L377 338.4L379 338.4L381 338.9L383.4 338.4L385 338.9L387 348.9L388 348.9L388.6 336.9L390 336.4L391.4 338.9L393 344.9L395 351.9L397 350.9L399 340.9L400.6 337.9L402 333.9L403 334.9L405 340.9L407 338.9L408.6 335.9L410 336.9L411.4 340.9L412.6 348.9L413.4 348.9L414 336.9L415 333.9L416.6 328.9L418 334.9L420 338.9L422 340.9L424 340.9L426 340.9L428 336.9L430 334.9L431.4 336.9L433 348.9L434 348.9L434.6 338.9L436 335.9L438 334.9L440 335.4L442 337.9L444 338.9L445.8 338.9L446 336.9L448 337.9L450 336.9L452 335.9L454 335.9L455.6 348.9L457 348.9L457.6 334.9L459 333.9L460.4 335.9L462 344.9L463.6 342.9L465 336.9L466 331.9L468 329.9L469.6 330.9L471 332.9L472.8 348.9L474 348.9L474.6 340.9L476 332.9L477 333.9L478 340.9L480 344.9L482 347.9L484 344.9L486 342.9L488 341.9L490 342.9L491.6 348.9L493 348.9L493.6 330.9L495 321.9L497 317.9L499 320.9L500.4 324.9L502 330.9L504 335.9L506 336.9L508 336.4L510 335.9L512.8 348.9L514 348.9L514.6 332.9L516 331.9L517.6 332.9L519 334.9L521 336.9L523 338.9L525 339.9L527 337.9L529 333.9L531 330.9L532.4 329.9L533.6 330.9L535.2 348.9L536.4 348.9L537 332.9L538.4 330.9L540 328.9L541.6 327.9L543 329.9L545 332.9L547 334.9L549 332.9L550.4 330.9L552 334.9L554.8 348.9L555.6 348.9L556.2 332.9L558 330.9L560 330.9L562 330.9L564 334.9L566 338.9L568 335.9L570 331.9L572 330.9L574 330.9L576.8 348.9L578.4 348.9L579 336.9L581 330.9L582.8 328.9L583 330.9L585 330.9L587 332.9L589 330.9L591 331.9L593.6 348.9L596 348.9L596.6 330.9L598 330.4L599.6 332.9L601 339.9L603 340.9L605 342.9L607 343.9L609 340.9L611 338.9L613 337.9L615 338.9L616.8 348.9L618 348.9L618.6 331.9L620 326.9L621.6 322.9L623 318.9L624.4 323.9L626 330.9L627.6 335.9L629 340.9L630.4 336.9L632 331.9L633.6 329.9L635.6 330.9L637 335.9L639.6 348.9L640.4 348.9L641 335.9L642.4 331.9L643.6 330.9L645 336.9L647 344.9L649 342.9L651 338.9L653 334.9L655 338.9L657 338.9L659.2 348.9L660.4 348.9L661 338.9L662.4 335.9L664 336.9L666 338.9L668 335.9L670 330.9L672 329.9L674 330.9L676 332.9L678 330.9L679.6 331.9L680.8 348.9L680.8 356Z" stroke-width="3.8" stroke-linejoin="round"/></defs>
<g clip-path="url(#c0)" fill="#377EB8" stroke="#377EB8"><use href="#eb"/></g>
<path d="M48 284.4L46.4 283M46 288L48 284.4M48 306L50 302M46.6 310L48 306M48 317L49 312M50 320L48 317M47 324L47 324.9M71 306L69.4 304M71 311L71 306M70.6 319L70.6 324.5M69.4 324L70.6 319M69.4 324L69.4 325.7M71.4 327L69.4 324M56 336L56 339.9M60 340L60 343.9M61 345L60 340" stroke="#377EB8" stroke-width="3.8" stroke-linecap="round"/>
<path d="M48 269h0M46.4 283h0M48 284.4h0M46 288h0M49 291.6h0M47 300h0M50 302h0M52.6 303.6h0M48 306h0M46.6 310h0M49 312h0M48 317h0M50 320h0M47 324h0M69.4 304h0M71 306h0M71 311h0M70.6 319h0M69.4 324h0M71.4 327h0M59 330h0M56 336h0M60 340h0M61 345h0M46.3 337.3h0M45.3 337.9h0M46.4 335.9h0M46.8 339.9h0M46 331.8h0M50.1 339h0M50.3 335.8h0M49.8 336.5h0M50.7 339.8h0M49.7 342.5h0M50 341.7h0M50.2 335.2h0M50.3 333.2h0M53.8 341.3h0M52.2 335.9h0M51.7 337.6h0M52.2 341.5h0M52.3 343.2h0M51.7 336.3h0M52.8 335.6h0M56 344.4h0M55.7 346.1h0M55.9 343.4h0M60.2 348.9h0M60.8 346.2h0M60.8 345.9h0M59.5 345.3h0M59.3 338.4h0M62.8 347h0M63.9 347.6h0M63.3 345.6h0M64 348.3h0M63.2 344.3h0M67 342.5h0M65.7 342.3h0M66.1 344.1h0M65.9 341.4h0M66.4 340.1h0M70.1 330.8h0M69.3 330.1h0M70 327.4h0M70.3 327.8h0M70.4 339.1h0M71.1 327.3h0M70.2 335.9h0M69.6 331.9h0M71.3 333.5h0M69.5 327.1h0" stroke="#377EB8" stroke-width="3.8" stroke-linecap="round"/>
<g clip-path="url(#c1)" fill="#4DAF4A" stroke="#4DAF4A"><use href="#eb"/></g>
<path d="M78.6 293.6L78.6 289M78.6 304L78.6 299M77 313L77 317.9M97.4 302L97.4 307.9M88.6 334L88.6 337.2" stroke="#4DAF4A" stroke-width="3.8" stroke-linecap="round"/>
<path d="M78.6 289h0M78.6 293.6h0M78.6 299h0M78.6 304h0M77 313h0M97.4 302h0M98 309h0M98.6 316h0M88.6 334h0M85 344h0M76.6 337.4h0M76.4 337.2h0M77.2 334h0M76.5 336.1h0M76.8 333.1h0M76.6 328.1h0M79.6 333.7h0M81.5 338.9h0M80.1 333.9h0M79.9 337.3h0M80 341.6h0M80.5 343.1h0M79.5 334.8h0M80.3 333.6h0M83.8 348.1h0M84 345.4h0M83.1 344.7h0M83 343.4h0M83.5 342.2h0M86.6 342.4h0M87.1 344.2h0M87 342.1h0M86.7 342h0M86.4 343.6h0M87.3 340.2h0M86.5 339.3h0M90.9 340.8h0M90.4 344.1h0M89.6 339h0M90.4 342.7h0M90.1 344.7h0M90.5 341.2h0M90.7 343.7h0M90.3 346.3h0M90.4 339.6h0M91 338.3h0M90 335.9h0M93.7 341.7h0M93.4 344.3h0M93.3 343.9h0M93.6 345.3h0M93.4 344.2h0M93.2 343.5h0M92.9 338.4h0M94.5 340.8h0M94.9 338.1h0M95 330.1h0M96.1 340.5h0M95.1 330.5h0M95.5 338.5h0M96.5 333.6h0M96.1 334.2h0M96.1 330h0M99.6 329.6h0M98 315.3h0M97.6 323.6h0M97.7 315.3h0M97.8 316.1h0M97.7 318.8h0M99.4 325.4h0M98 327.5h0M97.3 321.6h0M98 330.9h0M97.4 326.3h0M98.9 310.6h0M98.1 327.2h0M98.3 310.6h0M97.3 322.6h0M96.6 328.8h0M97.6 310h0M98 309.4h0M97.6 307.2h0" stroke="#4DAF4A" stroke-width="3.8" stroke-linecap="round"/>
<g clip-path="url(#c2)" fill="#984EA3" stroke="#984EA3"><use href="#eb"/></g>
<path d="M104.6 282.4L104 278.4M104 294.4L104 298.9M107 298L107 301.9M127 316L126 312M126 321L127 316M126 321L126 324.9" stroke="#984EA3" stroke-width="3.8" stroke-linecap="round"/>
<path d="M104 278.4h0M104.6 282.4h0M104 294.4h0M107 298h0M113.4 326.4h0M115.4 333h0M121 297h0M126.6 297h0M124 305h0M128 305h0M126 312h0M127 316h0M126 321h0M105.4 317.8h0M104.2 314.1h0M105.6 318h0M105.7 316h0M104.8 317.7h0M105 319.3h0M104.2 323.6h0M104.5 307.7h0M103.8 305.2h0M105.2 327.3h0M104.9 314.4h0M104.9 312.5h0M104.3 312.2h0M104 319.8h0M105.1 309.1h0M104.4 314.9h0M104.5 305.3h0M104 311h0M104.9 303.6h0M108.2 324.6h0M108.2 326.6h0M108.8 328.6h0M107.7 329.8h0M107.4 325.5h0M108.1 323.5h0M109 328.9h0M107.6 329.2h0M108.4 329.7h0M108.6 316.1h0M108.1 322.2h0M109.5 322.6h0M107.4 314.1h0M108.1 309.3h0M112.5 344.8h0M112.5 347.5h0M112.1 348.2h0M111.7 344.1h0M111.1 347.1h0M112.3 344.3h0M111.6 341.7h0M112.3 340h0M115.9 355.6h0M114.8 354.5h0M115.2 354.1h0M119.2 353.1h0M118.9 352.6h0M118.8 352.2h0M119.2 345h0M123.6 336h0M123.3 338.6h0M122.3 333.8h0M123.3 340.8h0M122 340.1h0M122.5 339.8h0M122.7 332.3h0M122.7 330.2h0M126.7 340.5h0M126.3 339.4h0M126.6 327.4h0M126.1 330.9h0M126.5 328.8h0M126.1 334.8h0M126.3 333.7h0M125.7 331.5h0M125.9 327.2h0M126.4 337.2h0M126.5 329.4h0M126.1 326.8h0M129.7 340.2h0M128.5 334.4h0M129.5 335.3h0M129.3 337.2h0M129.2 334.3h0M129.7 335.2h0M128.9 339.3h0M129.9 339h0M129.8 331.6h0" stroke="#984EA3" stroke-width="3.8" stroke-linecap="round"/>
<g clip-path="url(#c3)" fill="#FF7F00" stroke="#FF7F00"><use href="#eb"/></g>
<path d="M137.4 313L136.6 309M137.4 313L137.4 319.9M146 327L146 332.9M150.6 316L150.6 317.9" stroke="#FF7F00" stroke-width="3.8" stroke-linecap="round"/>
<path d="M136 276h0M136 281.6h0M136.6 309h0M137.4 313h0M146 327h0M150.6 316h0M135.4 327.9h0M135.2 335.8h0M135.2 329.7h0M135.5 333.7h0M136.6 337.3h0M135.6 329.3h0M136 334.7h0M135.7 326.5h0M137.9 342.5h0M139.5 342.6h0M139.1 338.5h0M138.7 342.3h0M137.5 339.7h0M138.5 337.6h0M142.6 346.4h0M142.2 341.8h0M142.6 344.6h0M142.5 341.5h0M144.7 342h0M144.5 342.8h0M144.7 343.1h0M145.1 341.2h0M147.3 340h0M147.3 341.5h0M147.2 335.4h0M147.5 341.2h0M146.9 333.9h0M148.1 337h0M146.7 341h0M146.2 334.4h0M147.1 332h0M150.4 335.8h0M150.5 327.4h0M150.3 330.2h0M149.4 330.5h0M149.8 325h0M150.5 328.2h0M148.9 337.4h0M149.7 329.7h0M149.7 335.1h0M149.8 335.7h0M149.9 326.9h0M149.4 324h0M149.1 323h0" stroke="#FF7F00" stroke-width="3.8" stroke-linecap="round"/>
<g clip-path="url(#c4)" fill="#377EB8" stroke="#377EB8"><use href="#eb"/></g>
<path d="M160 299.6L160 301.9M158 304L160 299.6M158 304L158 304.1M164 315.6L164 320.3M178.6 309L178.6 314M179 314L178.6 309M179.6 319L179 314" stroke="#377EB8" stroke-width="3.8" stroke-linecap="round"/>
<path d="M156.4 282h0M161.4 294h0M160 299.6h0M158 304h0M164 315.6h0M178.6 309h0M179 314h0M179.6 319h0M157.8 322.6h0M158.3 327h0M159.2 322.4h0M158.2 318.9h0M158.1 319.5h0M158.4 327.4h0M158.1 317.6h0M161.6 316.2h0M162 327.2h0M161.7 325.7h0M161.4 325.5h0M161.1 310.1h0M162.2 321.2h0M162.2 309.8h0M160.6 314.3h0M160.7 330.2h0M161.9 329h0M161.3 318.6h0M162 317.1h0M162.2 314h0M160.6 308.1h0M161 322.1h0M160.7 329.8h0M161.5 312.5h0M161.2 328.2h0M161.6 307.6h0M163.9 333.9h0M164.3 328.5h0M163.7 337.6h0M164 336.3h0M164 330.9h0M163.7 327.9h0M164.4 325.9h0M166.6 338.2h0M166.1 338h0M167.4 331.8h0M166.5 336.5h0M166.6 330.5h0M166.8 341.7h0M166.4 341.5h0M166.3 333h0M166 332.1h0M166.7 331.8h0M166.2 330.4h0M168.8 346h0M167.9 345h0M168.8 346.1h0M168.7 343.9h0M167.7 339.6h0M168.9 341.4h0M168.9 342.9h0M169 346.6h0M168.9 339.7h0M168 338.5h0M168.7 331.4h0M171.2 351.3h0M171.8 349h0M171.4 351h0M171.6 348.1h0M174.6 343.5h0M175.2 345.7h0M174.5 343.1h0M174.8 342h0M175.8 342.3h0M174.9 338.4h0M177.8 332.9h0M178.5 323.5h0M177.2 322.7h0M177.5 326h0M177.9 323.6h0M178.2 334.7h0M177.8 322.5h0M177.8 324.1h0M177.6 325.2h0M178.1 330.3h0M178.3 322.6h0M177.8 329.3h0M178.6 323h0M177.6 328.7h0M177.2 323.7h0M178.3 320.7h0M177.2 324h0M177.6 320.5h0M179.9 317.2h0M180.7 318.2h0M179.6 327.2h0M179.6 321.2h0M180.1 322.2h0M179.6 325.4h0M180.2 330h0M179.8 327.3h0M179.8 325.5h0M181 332h0M179.5 323.2h0M180.1 316.2h0M180 322.9h0M180.1 324.8h0M179.5 320.3h0M179.3 315.4h0M180.9 316.6h0M181.1 320.5h0M178.8 328.1h0M180 312.9h0" stroke="#377EB8" stroke-width="3.8" stroke-linecap="round"/>
<g clip-path="url(#c5)" fill="#4DAF4A" stroke="#4DAF4A"><use href="#eb"/></g>
<path d="M186 320L186 325.9M186.4 325L186 320M186.4 325L186.4 326.7M197 351L199 349" stroke="#4DAF4A" stroke-width="3.8" stroke-linecap="round"/>
<path d="M185.6 284.4h0M185.6 304h0M189.6 304.4h0M186 320h0M186.4 325h0M191 326h0M194 331h0M199 349h0M202 348h0M197 351h0M185.5 338.1h0M186.2 330h0M185.7 331.3h0M186.1 337.4h0M185.6 331.8h0M186.2 341.6h0M185.8 333.4h0M185.6 339.9h0M185.6 333.5h0M185.4 336.2h0M184.7 334h0M186 340.3h0M185.9 328.5h0M186.2 326h0M189.3 343.8h0M189.4 342.5h0M189.1 342.7h0M189.1 342.9h0M189.1 335h0M189.4 340.5h0M189 342.5h0M188.7 335h0M190.5 339.9h0M189.7 334.5h0M191.8 346.2h0M191.6 341.5h0M192.2 347h0M191.7 342.9h0M191.9 346h0M191.5 347.4h0M191.3 341.2h0M191.9 333.8h0M194 350.1h0M194.5 347.5h0M193.6 349.5h0M193 350.6h0M193.8 346.3h0M196.5 348.6h0M197.2 347.1h0M197.4 344.6h0M200.4 334.7h0M200.1 341.4h0M200 338.4h0M199.7 340.1h0M200.4 342.1h0M199.9 334.3h0M203.7 329.7h0M204 330.3h0M203.6 336.7h0M203.4 329.1h0M203.6 336.6h0M202.7 328.3h0M204.4 327.1h0M205.7 334.2h0M206.5 334.2h0M205 336.6h0M206.6 337.8h0M206.1 327.6h0M205 338.1h0M206 336.8h0M206.3 326.6h0M209.5 338.1h0M209.6 337.9h0M209.8 339.6h0M209.3 338.5h0M209.4 335.6h0M209.4 330.6h0M212.4 342h0M211.8 342.1h0M213.1 339.6h0M212.1 338.3h0M212.9 334.4h0M211.9 340.1h0M212.2 335.4h0M213.2 332.9h0" stroke="#4DAF4A" stroke-width="3.8" stroke-linecap="round"/>
<g clip-path="url(#c6)" fill="#984EA3" stroke="#984EA3"><use href="#eb"/></g>
<path d="M223 296L223 303.4M236.4 299L236.4 300.8M225.6 301L225.6 307.9M231 323L231 326.9" stroke="#984EA3" stroke-width="3.8" stroke-linecap="round"/>
<path d="M223 296h0M236.4 291.2h0M236.4 299h0M225.6 301h0M229 329h0M231 323h0M232 341h0M219.5 328.8h0M219.9 317h0M219.5 318.4h0M219.8 315h0M220 318.1h0M220.2 313.9h0M219.3 323.9h0M219.6 320.9h0M219.1 325.3h0M219 323.3h0M219.2 313.3h0M219.9 312.3h0M222.3 328.6h0M222.2 326.8h0M222.7 309.9h0M221.8 322.4h0M221.2 315h0M221.9 318.8h0M221.2 312.4h0M221.1 318.9h0M221.9 318.5h0M221.7 319.9h0M221.5 315.3h0M221.4 326.1h0M222.3 321h0M221.4 328h0M221.6 314.8h0M221.6 322h0M221.7 307.3h0M225 310.6h0M225.3 320.3h0M223.9 316.8h0M224.4 310.8h0M224.1 315.1h0M225 313.4h0M224.2 318.8h0M224 312.3h0M225.5 310.7h0M224.6 327.7h0M224.1 310.8h0M223.8 311.6h0M224.3 321.1h0M224 326.5h0M224.3 310.5h0M224 308.1h0M227.1 334h0M227.6 329.8h0M228 331.8h0M226.9 335.7h0M227.5 329h0M227.9 335.7h0M227.9 331h0M227.4 327.9h0M230.6 341.1h0M229.4 336.9h0M229.8 336.5h0M229.4 337.7h0M228.8 340.8h0M228.7 331.2h0M230.8 339.3h0M229.7 338.8h0M229.5 336.1h0M230.3 336.3h0M229.6 337.1h0M229.9 329h0M230.2 327.2h0M232.2 329.2h0M231.6 330.4h0M231.7 332.3h0M232 336.3h0M232.2 333.6h0M232 337.4h0M232.2 337.3h0M232.1 329.2h0M234.3 329.2h0M235.9 315.8h0M235.5 327.1h0M234.9 317.1h0M235.6 317.2h0M235.5 328.5h0M234.8 316.6h0M236.5 328.9h0M235.6 318.4h0M235.1 325h0M237 313h0M236 311h0M235.3 310.3h0" stroke="#984EA3" stroke-width="3.8" stroke-linecap="round"/>
<g clip-path="url(#c7)" fill="#FF7F00" stroke="#FF7F00"><use href="#eb"/></g>
<path d="M244.4 311L244.4 316.5M245.6 319L245.6 319.9M245.6 321L245.6 319M251.6 348L251.6 352.3M262 333L262 335.9M264 326L264 329.9M268.4 302.6L268.4 309.3" stroke="#FF7F00" stroke-width="3.8" stroke-linecap="round"/>
<path d="M244.4 311h0M245.6 319h0M245.6 321h0M251.6 348h0M262 333h0M264 326h0M268.4 302.6h0M269 308h0M244.6 324.2h0M244.8 327.1h0M244.6 318.3h0M244.2 331h0M244.3 335h0M244.8 330.9h0M245.9 317.7h0M244.6 319.5h0M244.2 335.4h0M245.3 333.1h0M245.5 324.1h0M243.7 320.6h0M243.9 327.4h0M244.9 321.7h0M244 324.2h0M244.4 325.8h0M244.7 316.8h0M245.2 320.8h0M244.2 330.1h0M245 318.8h0M244.5 315.6h0M244.6 314.8h0M248 344.4h0M248.3 341.9h0M247.3 341.8h0M247.6 343.3h0M248 341.8h0M247.8 343.5h0M248 341.3h0M248.2 340.9h0M250.5 352.3h0M250.6 353.8h0M251.4 354.3h0M251 351.6h0M254.7 355h0M254.9 353.9h0M254.9 352.5h0M257.7 348.6h0M259 348h0M258.2 349.6h0M258.7 347.3h0M257.9 342.6h0M262.4 345.2h0M261.5 344.5h0M261.5 341.3h0M262.1 345.5h0M261.7 340.4h0M261.4 339.8h0M263.7 335.1h0M263.9 335.9h0M263.1 333.2h0M264 336.4h0M263.2 335.2h0M262.7 340.6h0M263.6 336.2h0M263.4 339.2h0M263.8 332.9h0M266.2 329h0M267.1 337.1h0M267.2 332.2h0M266.2 335.9h0M266.2 335.2h0M266.1 335.4h0M266.6 327.3h0M269.3 317h0M269.4 315h0M269.5 319h0M268.6 324h0M269.2 329.9h0M269.3 329.8h0M269.1 325.1h0M268.4 330.6h0M269.1 330.8h0M269.7 319.2h0M269.6 314.7h0M269.2 312.7h0" stroke="#FF7F00" stroke-width="3.8" stroke-linecap="round"/>
<g clip-path="url(#c8)" fill="#377EB8" stroke="#377EB8"><use href="#eb"/></g>
<path d="M276.4 309.6L276.4 317M277.4 316L277.4 319.5M280 328L280 331.9M294 296L292 294M292 300L294 296M292 300L292 306.2M293 304L292 300M292 315L293.6 310" stroke="#377EB8" stroke-width="3.8" stroke-linecap="round"/>
<path d="M276.4 309.6h0M277.4 316h0M280 328h0M291 285.6h0M293.6 287h0M292 294h0M294 296h0M292 300h0M293 304h0M293.6 310h0M292 315h0M290 328h0M276.7 326.9h0M276.8 330.5h0M277.1 330.3h0M276.2 324.2h0M275.9 324.5h0M275.8 320.2h0M275.8 331.3h0M276.2 330.4h0M275 331.9h0M276.6 333.9h0M276 325.2h0M277.5 327.1h0M276.7 329.3h0M276.1 325h0M276.1 323.3h0M276.2 319.7h0M276.8 333.6h0M275.6 331.4h0M275.5 318.9h0M276.3 333h0M276 316.8h0M278.6 329.5h0M279.3 331.3h0M278.9 331h0M279.4 332.7h0M278.8 340.3h0M278.4 334.1h0M278.7 338.7h0M278.5 329.3h0M281.6 342.2h0M282.1 345.4h0M280.8 346.2h0M281.9 346.8h0M281.7 340.8h0M285.5 349.6h0M283.6 348.9h0M284.1 347.9h0M284.8 346.3h0M286.8 344.6h0M286.3 346.1h0M287.3 344.4h0M286.9 346.7h0M287.3 346h0M287.6 343h0M287.2 340.4h0M286.7 340h0M289.9 339.5h0M289.9 331.5h0M290.5 336.3h0M290.1 334.3h0M290 329.6h0M290.2 337h0M291.1 330.7h0M290.1 328.9h0M293.4 321.2h0M293.7 314.4h0M293.6 328.6h0M294.2 321.6h0M293.8 323.8h0M293.9 330h0M294.3 323.5h0M294.2 311.4h0M293.7 312.8h0M293.7 309.7h0M294.5 329.9h0M293.2 320.6h0M294.9 310.2h0M293.8 321.2h0M294.2 310.5h0M293.2 325.4h0M293.3 329.5h0M293.6 317.7h0M294.3 307.7h0" stroke="#377EB8" stroke-width="3.8" stroke-linecap="round"/>
<g clip-path="url(#c9)" fill="#4DAF4A" stroke="#4DAF4A"><use href="#eb"/></g>
<path d="M302 310L300.4 305M301 320L301 323.9M305 322L305 328.9M305.6 328L305.6 329.5M313 320L313 321.9M323 315.6L323 317.9" stroke="#4DAF4A" stroke-width="3.8" stroke-linecap="round"/>
<path d="M300.4 305h0M302 310h0M301 320h0M305 322h0M305.6 328h0M318.6 280h0M324 289h0M319.4 294h0M323.4 299.6h0M315 311h0M313 320h0M323 315.6h0M302.7 337.9h0M301.5 333.8h0M301.7 334.5h0M301.3 338h0M301.7 330.7h0M301.1 336.9h0M301.8 337.6h0M301.7 329.8h0M306 336.4h0M305.1 341.9h0M305.6 333.7h0M305.1 338.3h0M306.2 339.4h0M305.1 339.2h0M305.4 335.6h0M305.6 332.7h0M309.4 352.6h0M308.9 353.6h0M309.5 352.2h0M311 343h0M311.1 346h0M311.2 343.3h0M311.8 343.2h0M311 342.5h0M313.3 330.7h0M313.8 329.6h0M313.5 337.2h0M312.6 333.6h0M313.8 332.4h0M313.1 329.2h0M312.6 329.9h0M313.1 330.6h0M314 338.6h0M313.9 337.2h0M313.2 327.7h0M313.5 334.7h0M313.3 324.2h0M316.3 337.8h0M316.4 336.9h0M316.8 335h0M315.9 339.2h0M316.2 332.3h0M316.7 335.7h0M316.8 338.7h0M317.1 328.9h0M316 335.1h0M316.4 328.8h0M316.6 326.9h0M315.5 327.8h0M315.5 330.6h0M317 336.1h0M316.7 325.6h0M319.7 336h0M319.7 337.6h0M321.1 337.3h0M319 334.7h0M319.6 332.6h0M319.1 331.8h0M319.7 337.2h0M319.7 326.8h0M319.3 326.7h0M321.7 330.7h0M321.9 334.5h0M322.4 336.9h0M323.1 332.5h0M322.8 331.3h0M322.2 328.2h0M325 325.2h0M325.6 329.2h0M324.7 328.8h0M326.3 334h0M325 336.5h0M326.4 328.4h0M325.6 326.7h0M325.5 335.5h0M325.4 323.8h0M325.2 327.5h0M326.7 323.7h0M325.7 332.1h0M324.8 336.2h0M326.1 326h0M325.5 321.8h0" stroke="#4DAF4A" stroke-width="3.8" stroke-linecap="round"/>
<g clip-path="url(#c10)" fill="#984EA3" stroke="#984EA3"><use href="#eb"/></g>
<path d="M339 306L338.6 301M341 312L342 308M343 315L341 312M341 319L343 315M354 308L352 306M352.6 312L354 308M351 316L352.6 312" stroke="#984EA3" stroke-width="3.8" stroke-linecap="round"/>
<path d="M333 309.6h0M336 303h0M338.6 301h0M341 300h0M344 300h0M346.6 300h0M349 300h0M339 306h0M342 308h0M341 312h0M343 315h0M341 319h0M347 317h0M352 306h0M354 308h0M352.6 312h0M351 316h0M345 324h0M341.4 333h0M333 330.3h0M333.7 331.5h0M333.2 331.8h0M332.3 327.5h0M333.1 333.1h0M332.9 330.3h0M332.8 327h0M337 336.7h0M336.5 331.8h0M337 331.3h0M337.7 337.8h0M337.3 332.8h0M337.2 329.6h0M336.8 326.5h0M336.4 331.7h0M337.6 324.1h0M336.1 331.1h0M337.9 326h0M337.1 326.1h0M337.3 323.1h0M341 332h0M340.9 338h0M340.7 337.6h0M340.8 335.3h0M341 340.7h0M341.1 329.3h0M340.1 330h0M340.8 340.8h0M340.3 330.9h0M340.5 337.9h0M341.1 339.9h0M340.9 328.2h0M340.8 327.3h0M345.1 342.9h0M344.9 344.4h0M344.9 344.4h0M344.3 346.2h0M344.8 340.3h0M346.9 344.6h0M346.8 339.4h0M347.3 341.5h0M346.1 343.8h0M346.7 343.6h0M346.9 337.1h0M346.8 335.8h0M351.7 333.8h0M350.3 335.4h0M350.4 331.6h0M349.7 337.5h0M350.2 332.3h0M350.3 331.8h0M349.4 334h0M349.8 332.1h0M349 339.7h0M350.5 330h0M352.7 333h0M352.3 337.8h0M351.6 340.4h0M351.9 340.4h0M352.4 334.8h0M352.2 338.1h0M352.3 330.9h0M353.7 334.8h0M354.3 334h0M354.7 329.2h0M355.6 335.4h0M355.4 326.7h0M355.3 331.2h0M354.8 340.1h0M354.8 326.9h0M355.3 339.1h0M354.7 332.6h0M355 339.7h0M354.6 326.5h0" stroke="#984EA3" stroke-width="3.8" stroke-linecap="round"/>
<g clip-path="url(#c11)" fill="#FF7F00" stroke="#FF7F00"><use href="#eb"/></g>
<path d="M361.4 293.6L361 290M361.4 305L361.4 300M362.6 316L361.4 311M362.6 316L362.6 321.7M372 308L373.4 305M382 314L382 321.5M379 315L379 320.9" stroke="#FF7F00" stroke-width="3.8" stroke-linecap="round"/>
<path d="M361 290h0M361.4 293.6h0M361.4 300h0M361.4 305h0M361.4 311h0M362.6 316h0M377 285.6h0M374.6 289h0M377.4 294.4h0M377 300h0M373.4 305h0M372 308h0M383 304.4h0M378 309h0M382 314h0M379 315h0M362.3 330.2h0M362.2 336.8h0M361.8 331.8h0M362.2 330.9h0M362.5 335.6h0M362 329h0M365.4 334h0M364.9 331.7h0M365.7 333h0M364.8 338.8h0M363.4 328.3h0M364.7 330.8h0M364 329.9h0M364.9 337.3h0M364.7 328.8h0M364.8 332.4h0M364.3 336.9h0M364.4 325h0M368 334.3h0M367.8 329.1h0M367.7 332.7h0M367.4 323.2h0M367.2 337.5h0M367.4 322.6h0M367.9 324.5h0M367.4 330.8h0M367.7 328.1h0M368.1 323h0M367.7 330.3h0M367.7 332h0M367.5 325.3h0M367.9 332.3h0M367.8 323.9h0M368.2 322.6h0M369.9 330.5h0M369.1 330.2h0M370.3 323.3h0M369.5 333.8h0M369.3 329h0M370 326.3h0M369.7 329.9h0M368.7 330.4h0M369.9 325.7h0M370.1 324.9h0M370.4 335.4h0M370.6 330.7h0M369.8 336.5h0M370.3 329.3h0M370.5 322.7h0M372 328.2h0M371.9 331.5h0M372.7 329.4h0M372.3 335.7h0M371.5 331.3h0M372.6 336h0M372.9 326.9h0M372.2 336.8h0M372.3 326.7h0M376.4 330.5h0M375.9 337.7h0M375.4 326.3h0M376 327.4h0M376.1 326h0M375.3 326.6h0M376.3 335.2h0M375.9 327.2h0M376.1 336.2h0M375.1 334.2h0M375.7 326.7h0M375.7 324.8h0M380 330.3h0M378.1 336.4h0M379.2 329.1h0M379.5 330.1h0M379.1 331.7h0M379 328.3h0M379.3 328h0M381.3 327.4h0M381.9 328.1h0M381 330.3h0M381.3 325.4h0M381.6 330.6h0M381.9 337.8h0M382.4 330.8h0M381.6 325.5h0M381.2 328.5h0M381.3 323h0M381.2 335.2h0M381.8 330.3h0M381.3 330.5h0M380.9 338.7h0M380.7 324.1h0M381 332.9h0M382 322.4h0" stroke="#FF7F00" stroke-width="3.8" stroke-linecap="round"/>
<g clip-path="url(#c12)" fill="#377EB8" stroke="#377EB8"><use href="#eb"/></g>
<path d="M389.4 302.4L389.4 299.6M402 310L402 311.9M401 313.6L402 310M401 313.6L401 317.6" stroke="#377EB8" stroke-width="3.8" stroke-linecap="round"/>
<path d="M389.4 299.6h0M389.4 302.4h0M406 305h0M409 298h0M402 310h0M401 313.6h0M390.1 335.6h0M390.1 330.2h0M390.3 331h0M391.2 329.3h0M390.1 335h0M390.2 334.7h0M391.2 336.6h0M390.6 331h0M390.2 334.9h0M390.8 336.1h0M390.3 323.2h0M392 342.5h0M393.7 334.5h0M392 337.6h0M392.7 339.2h0M392.7 335h0M392.7 343.1h0M392.1 333.9h0M394.9 348.3h0M394.6 347.7h0M394.7 347.6h0M398.5 340.8h0M398.8 339.2h0M398.3 337.4h0M398.5 336.8h0M402.9 329.1h0M402.5 329.3h0M402.5 320.6h0M402.4 333.2h0M402.7 329.1h0M401.8 331.5h0M402.1 331.4h0M403.5 333h0M402.6 333.8h0M403.9 330.5h0M402.2 316.9h0M402.7 326.4h0M402.2 321.9h0M402.5 320.3h0M402.7 327.9h0M403 323.3h0M402.3 317.2h0M402.3 314.8h0M402.3 314.5h0M406.3 336.2h0M406 337.8h0M406.4 332.3h0M405.7 332.4h0M405.6 331.5h0M405.7 326.9h0M409.4 331.6h0M408.7 333.8h0M407.8 324.6h0M408.4 330.5h0M408.7 327.3h0M408.6 320.7h0M409.1 327.9h0M408 327.8h0M408.7 333.8h0M408.9 333.2h0M408.3 326.6h0M409.3 332.7h0M409.1 319.7h0M408.8 318.9h0" stroke="#377EB8" stroke-width="3.8" stroke-linecap="round"/>
<g clip-path="url(#c13)" fill="#4DAF4A" stroke="#4DAF4A"><use href="#eb"/></g>
<path d="M417 298.4L417 305.3M429.4 311.6L429.4 315.1" stroke="#4DAF4A" stroke-width="3.8" stroke-linecap="round"/>
<path d="M416 273.6h0M416 279h0M416 288h0M417 298.4h0M421.4 301h0M422 314h0M429.4 311.6h0M417.3 321.2h0M416.6 323.3h0M416.6 314.1h0M416.5 329.1h0M416.5 327.2h0M416.4 317h0M415.8 316.5h0M416.5 327.3h0M416.9 313.3h0M416.5 327.7h0M416.2 314h0M416.5 317.3h0M416.5 311.3h0M419.2 327.9h0M419.3 330.4h0M419.1 324.9h0M418.9 333.7h0M418.9 332.9h0M419.7 328.2h0M419 331.6h0M418.8 324.6h0M418.9 323.7h0M421.9 331.2h0M421.7 333h0M421.5 339h0M421.7 334.3h0M422.2 334.8h0M420.6 332h0M422 339.5h0M421.5 329.4h0M423.8 330h0M424 331.4h0M423.1 336.7h0M424.2 330.6h0M423.7 338.6h0M423.4 330.1h0M422.8 336.4h0M423.9 335.8h0M423.6 335.4h0M423.3 339.4h0M422.9 328.1h0M423.8 323h0M426.2 336.9h0M426.4 336.2h0M425.9 334h0M425.2 336.1h0M425.9 328.6h0M426.8 331.9h0M427.3 334.8h0M426 339.3h0M425.1 339.6h0M426.1 327.8h0M428.1 327.3h0M428.2 322.4h0M428.2 324.4h0M429.4 322.7h0M428.7 331.9h0M428 330.4h0M429.5 321.7h0M428.6 322.4h0M428.4 333.9h0M428.6 335.7h0M428.5 321.3h0M431.2 335.5h0M431.1 324h0M431 323.9h0M430.7 323.1h0M431.8 335.1h0M430.9 332.8h0M430.6 331h0M431.2 322.7h0M431.2 328.1h0M431.4 321.4h0" stroke="#4DAF4A" stroke-width="3.8" stroke-linecap="round"/>
<g clip-path="url(#c14)" fill="#984EA3" stroke="#984EA3"><use href="#eb"/></g>
<path d="M440 313L440 314.9M453 313L453 315.9" stroke="#984EA3" stroke-width="3.8" stroke-linecap="round"/>
<path d="M437.4 305h0M440 313h0M452.4 282h0M453 306.4h0M453 313h0M438.3 320.4h0M438.5 319.9h0M438.1 331.8h0M438.3 331.9h0M439.2 333.7h0M439.2 333.9h0M438.8 329.6h0M438.1 335.1h0M438.2 325.4h0M438.9 321.9h0M438.1 320.2h0M438.2 319h0M438.3 315h0M441.5 334h0M441.3 335.7h0M440.9 335.5h0M442.5 327.3h0M441.3 321.4h0M441.3 327.8h0M440.6 336.1h0M441.3 325.6h0M441.4 336.3h0M441.3 334.7h0M441.6 328.2h0M441.2 330.5h0M442.2 334.4h0M441.6 335.6h0M441.6 323.3h0M441.6 329.4h0M441.9 332.7h0M442.4 322.3h0M441.2 319.1h0M443.4 331h0M444.1 335h0M444.4 328.5h0M443.7 336h0M444.4 335.7h0M443.5 328.6h0M444 328.1h0M444.6 326.9h0M446.3 324.4h0M446.6 322.3h0M446.3 335h0M446.3 320.9h0M446 322.2h0M446.9 332.1h0M447.5 326.4h0M446.7 330.2h0M447.4 330.5h0M445.9 332.7h0M447.5 322.2h0M446.6 323.7h0M445.7 328.6h0M446.8 333.5h0M446.1 322.8h0M445.8 321h0M447.2 319.5h0M448.8 329.3h0M449.2 330.9h0M449.2 325.9h0M448.9 325.5h0M449 335.5h0M448.9 329.9h0M448.7 333.8h0M449.8 330.1h0M448.6 326.6h0M448.8 323.5h0M452 321.1h0M452.2 333.9h0M451.8 329.9h0M452.5 331h0M452.6 332.1h0M453 323.7h0M452.9 331.9h0M451.8 323.1h0M452.1 331.9h0M452.5 323.1h0M451.7 330.4h0M452.7 331.3h0M452.9 331.7h0M452 335.3h0M452.4 318h0M452.3 311.8h0" stroke="#984EA3" stroke-width="3.8" stroke-linecap="round"/>
<g clip-path="url(#c15)" fill="#FF7F00" stroke="#FF7F00"><use href="#eb"/></g>
<path d="M469.6 299L469.6 305.9M467 299.6L467 305.9M466 306L466 307.9M460 312L460 314.8" stroke="#FF7F00" stroke-width="3.8" stroke-linecap="round"/>
<path d="M470 292h0M469.6 299h0M467 299.6h0M466 306h0M460 312h0M460.8 328h0M461.8 337.2h0M461.2 329.5h0M461.1 322.9h0M461 336.8h0M461.6 324.1h0M460.9 328.3h0M460.5 335.4h0M460.5 325.9h0M459.5 334.4h0M461.3 332h0M460.7 330.6h0M460.4 328.2h0M461.2 322.3h0M461 321.8h0M464.4 333.9h0M463.6 341.4h0M463.7 341.6h0M463.7 338.6h0M464.1 333.6h0M463.2 338.8h0M463.4 339.8h0M463.4 339.2h0M463.2 341h0M463 336h0M462.1 335.3h0M464.3 337.5h0M464.1 341h0M463.5 329.4h0M467.9 310.1h0M466.9 314.9h0M468 325.7h0M466.9 323.6h0M467.6 313.5h0M468 318.8h0M467.1 320.6h0M466.6 327.9h0M468.5 315.5h0M467.1 322.5h0M466.9 326.9h0M467.4 310.9h0M466.6 323.8h0M467 312.1h0M467.5 312.6h0M466.8 313.9h0M468.2 326.9h0M467.9 312.4h0M467.4 314.2h0M467.8 326.4h0M466.9 319.6h0M467.3 307.2h0M470.8 323.5h0M470.6 327.3h0M471 330.8h0M472.2 327.7h0M471.2 319.4h0M470.6 323.4h0M470.4 332.1h0M470.4 317.1h0M470.6 321.9h0M470.2 319.5h0M471.2 317.6h0M471.2 316h0" stroke="#FF7F00" stroke-width="3.8" stroke-linecap="round"/>
<g clip-path="url(#c16)" fill="#377EB8" stroke="#377EB8"><use href="#eb"/></g>
<path d="M476 297L476 293.6M476.6 306L476.6 311.1M478 316L477 312M478 320L478 316M478 320L478 325.9M488.4 316L489 312M488 320L488.4 316M488 320L488 327.9" stroke="#377EB8" stroke-width="3.8" stroke-linecap="round"/>
<path d="M476 293.6h0M476 297h0M476.6 306h0M477 312h0M478 316h0M478 320h0M481.6 328h0M489 299.6h0M489 312h0M488.4 316h0M488 320h0M476.7 323.6h0M476.7 327.7h0M476.5 321.7h0M476.4 331h0M476.7 325.8h0M476 324.6h0M477.1 322.9h0M476.6 325.3h0M476.9 320h0M479.6 340.2h0M480 343.9h0M480.5 341.8h0M480.7 342.1h0M480.3 338.6h0M480.1 330.1h0M482.3 344.2h0M483.2 345.2h0M482.7 346h0M483.3 341.8h0M486.4 340.2h0M486 333.8h0M486.4 341.7h0M485.8 334.5h0M486 342h0M487.2 336.9h0M486 333.7h0M488.3 336.1h0M488.4 342h0M489.1 338.9h0M488.8 340.4h0M488.3 335.4h0" stroke="#377EB8" stroke-width="3.8" stroke-linecap="round"/>
<g clip-path="url(#c17)" fill="#4DAF4A" stroke="#4DAF4A"><use href="#eb"/></g>
<path d="M498 277L498 282.9M498.4 279L498 277M498.4 279L498.4 284.1M498.4 290.4L497.6 286M510 299L510 295M509.6 309L509.6 305M509.6 309L509.6 316.1" stroke="#4DAF4A" stroke-width="3.8" stroke-linecap="round"/>
<path d="M498 277h0M498.4 279h0M497.6 286h0M498.4 290.4h0M510 295h0M510 299h0M509.6 305h0M509.6 309h0M495.4 307h0M495.9 319.5h0M496.2 317.2h0M495.4 315.1h0M495.8 315.4h0M496.7 311.7h0M496.6 317.2h0M495.9 304h0M498.4 312.5h0M499.3 293.3h0M497.3 305.9h0M498.6 316.6h0M498.7 296h0M498.3 310.2h0M498.5 314h0M498 309.1h0M498.7 308.3h0M498.9 302.9h0M498.1 305.1h0M498.8 300.7h0M497.2 298.1h0M497.8 312.6h0M497.9 312.4h0M498.8 318h0M498.5 315.3h0M499.4 308.6h0M498.7 296.5h0M498.5 292.6h0M498.3 292.1h0M500.9 317.5h0M500.9 323.9h0M501.6 305h0M500.2 320.1h0M501.1 316.6h0M500.2 310.5h0M500.6 305.9h0M501.4 316.3h0M501 314.2h0M500.8 319.1h0M501.5 309.6h0M501.2 320.3h0M501.9 326.9h0M501.5 312.7h0M500.5 315.3h0M500.9 305.6h0M501 315.2h0M500.5 317.1h0M500.7 303.6h0M503.9 326.8h0M504.4 325.1h0M504.1 336h0M504.2 318.6h0M503.8 333.1h0M504.2 317.3h0M503.4 334.9h0M504.4 330.5h0M503.9 325.6h0M504.4 318.5h0M504 328.2h0M504.5 327.7h0M503.9 320.7h0M503.7 330.4h0M504.2 329.8h0M505.1 328.4h0M504 335.9h0M504.6 333.5h0M504.6 317.2h0M507.5 329.5h0M508.1 325.6h0M507.7 321.4h0M508.2 334.5h0M508.8 323.4h0M508.1 323.6h0M506.7 323.8h0M507.2 327.5h0M507.1 320.9h0M507.8 331.5h0M507.9 323.1h0M508.6 320.2h0M507.4 335.6h0M508 319.9h0M510.3 333.8h0M510.1 331.3h0M510.9 333.6h0M509.9 324h0M511.2 326.5h0M510.6 335.2h0M510.7 333.3h0M509.4 327.2h0M509.7 325.2h0M510.3 336.7h0M510.6 322.4h0" stroke="#4DAF4A" stroke-width="3.8" stroke-linecap="round"/>
<g clip-path="url(#c18)" fill="#984EA3" stroke="#984EA3"><use href="#eb"/></g>
<path d="M516.4 286L517 283M516 300L516 307.9M520 309L520 315.9M521 313L520 309M521 313L521 317.9M530 292L531 290M531 290L531.6 286" stroke="#984EA3" stroke-width="3.8" stroke-linecap="round"/>
<path d="M532 268h0M517 283h0M516.4 286h0M516 300h0M520 309h0M521 313h0M527 300.6h0M531.6 286h0M530 292h0M531 290h0M516.4 319.5h0M516.4 330.6h0M516.6 320.6h0M515.9 325.6h0M516.6 320.3h0M516.4 329.7h0M516 319.2h0M520.5 327.1h0M519.9 332.9h0M519.7 334.7h0M520.4 331.4h0M520 334.3h0M520.4 332.4h0M519.7 325.3h0M524.9 338.7h0M522.4 335.7h0M522.6 333.9h0M522.6 328.3h0M522.9 337.1h0M523 338.1h0M523.8 331.4h0M522.6 335h0M522.9 332.6h0M523.3 335h0M523 336.7h0M523.3 339h0M523.1 331.7h0M522.7 332.2h0M522.4 324.7h0M523.4 322.9h0M525.5 335.7h0M526.7 338.2h0M526.5 334.3h0M526.9 332.8h0M527.1 336.7h0M526.9 331.6h0M526.6 328.3h0M529.3 320.1h0M529.9 332h0M529.1 332.2h0M529.6 322.9h0M529.5 327.5h0M529.3 332.5h0M529.6 313.5h0M529.9 329.8h0M529.5 329h0M530.1 332.5h0M529.2 320.3h0M530.2 314.6h0M530.6 331.7h0M529.1 316.5h0M529.4 328.3h0M530 312.9h0M529.9 312.6h0" stroke="#984EA3" stroke-width="3.8" stroke-linecap="round"/>
<g clip-path="url(#c19)" fill="#FF7F00" stroke="#FF7F00"><use href="#eb"/></g>
<path d="M542.6 290L542 286M549.6 303.6L549.6 308.2" stroke="#FF7F00" stroke-width="3.8" stroke-linecap="round"/>
<path d="M542 276.6h0M542 286h0M542.6 290h0M539 293.6h0M545 295.6h0M550.4 286.6h0M550.4 292.4h0M549.6 303.6h0M539.5 315.5h0M540 318.2h0M540.3 322.5h0M539.1 311.4h0M539.2 310.2h0M539.6 328.7h0M540.1 327.9h0M539.4 306.4h0M539.3 314.4h0M539.8 328.6h0M539.7 325.6h0M539.7 308.3h0M539.5 321h0M540.3 322.4h0M538.7 310.3h0M540.2 318.2h0M539.3 308h0M539.3 310.1h0M539.4 321.9h0M540.1 305.8h0M539.6 296.7h0M541.6 326.7h0M542.2 325.5h0M541.4 317.6h0M542.3 327.2h0M541 324.1h0M541.7 315.7h0M542 313.7h0M541.4 325.1h0M541.4 321.8h0M541.6 311.8h0M544.4 331.1h0M544.6 313.7h0M544.9 313.5h0M545.3 322.4h0M544.3 325.3h0M543.7 316.8h0M544.8 319h0M545.5 312.5h0M545.4 314.7h0M543.9 321.2h0M544.3 326h0M545.1 316.5h0M544.8 328.4h0M546.4 315.6h0M544.9 326.2h0M544.6 315.4h0M544.9 312h0M544.8 312h0M548.2 327.8h0M548.3 333.3h0M547.7 323.7h0M549.1 332.6h0M548.5 325.3h0M548.7 319.1h0M548.5 327.3h0M548.4 321.3h0M548.2 326h0M549.1 329.1h0M548.7 329.6h0M549.2 327.1h0M548.7 322.6h0M547.8 330.8h0M547.8 325.3h0M548.7 314.1h0M551.2 323.9h0M550.6 318.8h0M550.4 323.5h0M551.3 325.3h0M550.7 327.2h0M550.5 318.8h0M550.6 318.8h0M551.2 312.3h0M551.2 321.3h0M550.9 323.1h0M551 315.3h0M550.8 329h0M550.2 327.9h0M550.5 317.7h0M550.9 317h0M551 311.8h0" stroke="#FF7F00" stroke-width="3.8" stroke-linecap="round"/>
<g clip-path="url(#c20)" fill="#377EB8" stroke="#377EB8"><use href="#eb"/></g>
<path d="M557.6 289.6h0M559 295h0M559.2 329.3h0M559.5 326.2h0M558.6 330.6h0M559.3 323h0M558.3 319h0M558.5 326.8h0M558.9 323.5h0M558.5 316.9h0M562.5 315.6h0M562 312.5h0M561.4 325.8h0M562.3 319.4h0M563.1 330.8h0M562.5 327.4h0M562.5 315.3h0M562 331.5h0M562.2 319.2h0M562.1 325.7h0M562 328.8h0M563.1 318.6h0M562 327.8h0M561.8 321.3h0M561.9 311.9h0M562.7 310.2h0M565.4 333.2h0M566.1 326.9h0M565.8 336.8h0M565.8 330.9h0M565.3 337.3h0M565.6 332.5h0M565.9 329h0M565.3 326.2h0M565.2 325.3h0M569.9 313h0M569.9 316.3h0M569.4 326.8h0M568.3 323.5h0M570.3 324.8h0M569.7 329.1h0M568.8 327.8h0M569.6 332.6h0M569.2 324.7h0M569.2 313.4h0M569.6 324.6h0M569.2 313.2h0M569.5 331.6h0M568.9 312.4h0M569.3 327.5h0M570.1 317.4h0M569.9 312.5h0M569.3 312.3h0M568.9 309.8h0M572.1 324.1h0M572.6 317.9h0M571.5 319h0M573.1 314.5h0M571.9 318.3h0M571.7 320.2h0M571.6 318.3h0M571.5 328.5h0M571.8 315.1h0M572.1 324.1h0M571.8 313.7h0" stroke="#377EB8" stroke-width="3.8" stroke-linecap="round"/>
<g clip-path="url(#c21)" fill="#4DAF4A" stroke="#4DAF4A"><use href="#eb"/></g>
<path d="M581 280.4L581 280M582 298L583.6 296M582 298L582 303.7M581 305L581 305.9M585 285L584 283.6M583.6 296L582 292M590 301L590 306.9" stroke="#4DAF4A" stroke-width="3.8" stroke-linecap="round"/>
<path d="M581 280.4h0M582 292h0M582 298h0M581 305h0M581 280h0M584 283.6h0M585 285h0M582.4 292h0M583.6 296h0M589 294h0M590 301h0M581 317h0M588 312h0M579.5 333.6h0M579.9 325.1h0M580.3 326.6h0M579.6 332.9h0M579.3 323.4h0M579 316.1h0M581.2 320.6h0M580.2 325.8h0M580.8 319.3h0M579.8 324.2h0M579.2 330.7h0M579.4 328.1h0M579.9 328.9h0M579.8 315.6h0M584 310.4h0M583 320.2h0M583.7 310.2h0M583.5 330.6h0M583.8 312.9h0M583.8 320.6h0M584.1 320.4h0M583.4 322.2h0M584.2 312.7h0M584.4 321.5h0M583.6 318.1h0M583.6 327.6h0M584 310.5h0M583.4 310.1h0M584 318.3h0M584.1 321.8h0M584.2 310h0M583.6 303.3h0M588.4 330.3h0M587.4 326.6h0M587.1 329h0M587 330.5h0M587.9 323.5h0M587.3 322h0M591.1 327.2h0M591 325.2h0M591.4 330.6h0M592.5 322.1h0M591.7 314.6h0M590.8 315.8h0M590.8 314.9h0M590.9 331.5h0M591.1 324.8h0M592.1 324.1h0M591.5 313.4h0M591.3 312.9h0M591.8 323.8h0M591.4 324.3h0M592.1 333.2h0M591.1 315.8h0M591.7 314.5h0M591.8 332.6h0M591.2 315.7h0M590.7 325.7h0M591.7 312.8h0M591.7 309.8h0" stroke="#4DAF4A" stroke-width="3.8" stroke-linecap="round"/>
<g clip-path="url(#c22)" fill="#984EA3" stroke="#984EA3"><use href="#eb"/></g>
<path d="M601 281.6L599.6 278M614 318L614 320.9" stroke="#984EA3" stroke-width="3.8" stroke-linecap="round"/>
<path d="M599.6 278h0M601 281.6h0M613.6 272.4h0M613 294.6h0M608.6 300.4h0M606 317h0M599 310h0M599.6 316h0M614 318h0M598.6 325.3h0M598.2 323.7h0M598.1 322.1h0M599.2 319.7h0M599 318h0M599 323.8h0M598.1 318.2h0M598.4 317.5h0M599.8 334.8h0M600.5 333.5h0M599.8 336.6h0M600.7 328.4h0M599.8 324.6h0M600.9 337.1h0M600.6 336.9h0M600 330.6h0M599.6 331.8h0M600.8 325h0M600.4 323h0M601 322.9h0M603.8 339.9h0M603.5 339.1h0M603.9 338.8h0M603.6 335.9h0M604 334h0M607.8 335.2h0M607 337.8h0M606.7 343h0M607.6 335.5h0M607.6 337.8h0M606.9 335.1h0M607.8 333.5h0M611.2 333.9h0M611.2 332.7h0M611.7 334.8h0M609.5 329.7h0M610 333.4h0M611.5 332.5h0M610.6 329.6h0" stroke="#984EA3" stroke-width="3.8" stroke-linecap="round"/>
<g clip-path="url(#c23)" fill="#FF7F00" stroke="#FF7F00"><use href="#eb"/></g>
<path d="M622.4 284L621 279M622.4 284L622.4 285.3M633.6 296L633.6 303.9M630 317.6L630 320.2" stroke="#FF7F00" stroke-width="3.8" stroke-linecap="round"/>
<path d="M623 260h0M623 269h0M621 279h0M622.4 284h0M633.6 296h0M630 317.6h0M621 312.8h0M620.7 307.6h0M620.9 317.9h0M620.1 311.9h0M619.5 309.1h0M619.7 312.4h0M620.8 312.8h0M621.4 322.2h0M620.2 315.4h0M619.6 320.7h0M620.1 307.3h0M621.2 306.3h0M623.4 311.5h0M622.7 303.5h0M623.1 293.7h0M623 303.2h0M622.4 303.5h0M622.7 297.5h0M623.1 312.4h0M622.6 298.6h0M623.4 313.5h0M622.9 298.4h0M623.7 316.6h0M622.8 294.9h0M622.3 296.7h0M622.6 306.5h0M623.6 310h0M623.3 319.8h0M622.1 311.8h0M623.5 306.4h0M622.7 304.4h0M622.6 291.8h0M626.9 320.4h0M625.8 316.6h0M625.5 315h0M626.4 316.1h0M625.9 326.8h0M626.1 329.1h0M626.6 331.4h0M626.6 319.5h0M625.8 317.3h0M625.5 326.1h0M626.7 318.4h0M626.7 314.7h0M625.9 310.4h0M629.8 337.7h0M629.1 335h0M630.3 329.4h0M629.5 329.9h0M630.3 330h0M629.7 337.3h0M630 327.3h0M630.3 327.2h0M632.3 318.9h0M632.4 318.6h0M633.1 315.3h0M633.8 326.2h0M632 318.5h0M633.9 316.7h0M632.7 314.9h0M633.5 329.8h0M633.6 318.9h0M634.1 326.9h0M633.6 314.4h0M636.4 313.9h0M636 316.3h0M635.5 328.8h0M635.7 329.1h0M634.7 329.8h0M635.9 323.1h0M635.4 317.9h0M635.3 311.6h0M635.8 315.4h0M635.4 311.7h0M634.2 311.5h0M634.9 323.4h0M635.5 324.7h0M635.3 315.5h0M635.2 323.6h0M635.8 310.3h0" stroke="#FF7F00" stroke-width="3.8" stroke-linecap="round"/>
<g clip-path="url(#c24)" fill="#377EB8" stroke="#377EB8"><use href="#eb"/></g>
<path d="M642 301L643 296M651.6 271L651.6 267M651.6 275L651.6 271M653 299.6L651.6 297M654 310L652 305M654 310L654 317.9" stroke="#377EB8" stroke-width="3.8" stroke-linecap="round"/>
<path d="M643.4 263.6h0M643.4 269h0M643 278.4h0M643.6 283.6h0M643.6 289h0M643 296h0M642 301h0M651.6 261.6h0M651.6 267h0M651.6 271h0M651.6 275h0M651.6 280.4h0M657 289.6h0M651.6 297h0M653 299.6h0M652 305h0M654 310h0M657 310.4h0M644 330.7h0M645.7 327.9h0M644.3 329.6h0M644 316.6h0M644.5 332.3h0M644.3 325.3h0M644.3 324.1h0M643.5 324.7h0M645.1 332.4h0M644.6 326.3h0M644.6 318.6h0M644 327.7h0M644.2 317.9h0M644.7 316.6h0M647.6 340.5h0M647 339.8h0M646.4 340.4h0M646.7 339.1h0M647.3 343.1h0M647.5 337.9h0M646.9 342.1h0M647.1 337.9h0M646.3 344.2h0M646.9 333.8h0M649.9 332.7h0M650.3 335.4h0M650.4 333.2h0M650.2 340.3h0M650.2 327.9h0M650.2 329.9h0M650 326.9h0M650.4 333.2h0M650.1 340.4h0M650.4 335h0M651.3 329.4h0M649.7 331.9h0M649.7 326.7h0M650.4 326.1h0M652.7 330.5h0M653.3 329.5h0M653 322.4h0M652.6 333.5h0M652.2 334.8h0M652.5 332.4h0M653.5 329.4h0M651.7 335.1h0M652.6 329.9h0M652 321.8h0M652.6 321.6h0M656.3 327.9h0M655.5 325.6h0M655.6 332.2h0M655.9 326.8h0M655.1 325.7h0M655.1 335h0M656.5 325.3h0M655.1 336.5h0M656.9 332h0M655.8 334h0M654.4 333.3h0M656 333.9h0M655.9 332.8h0M655.7 327.7h0M654.5 323h0M655.1 322.3h0M655.4 322.1h0" stroke="#377EB8" stroke-width="3.8" stroke-linecap="round"/>
<g clip-path="url(#c25)" fill="#4DAF4A" stroke="#4DAF4A"><use href="#eb"/></g>
<path d="M671 302.4L671 304.9M676 305L676 309.9" stroke="#4DAF4A" stroke-width="3.8" stroke-linecap="round"/>
<path d="M678 267.6h0M676.4 293.6h0M663 299.6h0M671 302.4h0M676 305h0M663.5 327.9h0M663.3 327.8h0M663.6 328.2h0M663.4 330.4h0M662.8 334.1h0M662.9 331.5h0M663.5 330.6h0M663.7 334.3h0M663.1 329.8h0M663 323.9h0M663.4 328.4h0M663 330.7h0M664.2 325.3h0M662.7 335.3h0M663.5 320.5h0M664.1 322.8h0M663.3 318.6h0M666.3 330h0M667.1 331.7h0M665.9 333.6h0M667.1 329.8h0M666 335.2h0M666.3 328.8h0M669.7 326h0M670.8 316.9h0M669.3 316.9h0M670.3 329.2h0M669.9 316.2h0M670 328.4h0M670 317.7h0M669.4 322.1h0M669.9 330.2h0M670.2 321.1h0M670.3 327.9h0M670.1 330h0M669.7 308.1h0M669.9 327.8h0M669.5 329.4h0M669.2 313.1h0M669.3 323.8h0M670.1 317.7h0M669.8 317h0M669.7 323.4h0M670.2 329.4h0M669.9 324.2h0M669.8 328.6h0M669.9 320.3h0M669.6 307.4h0M671.8 315.7h0M671.8 311.7h0M671.6 309.8h0M672.3 316.7h0M672.1 314.3h0M672.4 323.9h0M672.7 312.6h0M672.6 320.8h0M672 310.3h0M672 309.6h0M672.7 316.1h0M671.8 318.9h0M671.8 329.3h0M670.8 320h0M671.9 318.6h0M672.2 309h0M674.4 327.8h0M674.4 322.5h0M675.4 325.6h0M674.2 327.1h0M675.2 326.4h0M674.5 327.8h0M673.9 328.9h0M675.1 318.1h0M674.6 313.6h0M678.1 327.1h0M678.1 317.4h0M678.7 325.5h0M678.7 324.5h0M678.5 320.9h0M677.9 324.3h0M678.1 328.9h0M678.4 321.3h0M678.4 325.6h0M678.5 315.7h0" stroke="#4DAF4A" stroke-width="3.8" stroke-linecap="round"/>
<rect x="339.3" y="334" width="5" height="18" rx="2" fill="#fff"/>
<circle cx="341.8" cy="338" r="1.9" fill="#984EA3"/>
<circle cx="343" cy="345" r="1.9" fill="#984EA3"/>
<line x1="40.5" y1="258.5" x2="682" y2="258.5" stroke="#ea6a6a" stroke-width="1" stroke-dasharray="2.3 1.86"/>
<circle cx="136" cy="235" r="3.2" fill="#f00"/>
<circle cx="623" cy="254.4" r="3.2" fill="#f00"/>
<circle cx="651.6" cy="243" r="3.2" fill="#f00"/>
<circle cx="651.6" cy="249.6" r="3.2" fill="#f00"/>
<circle cx="651.6" cy="251.6" r="3.2" fill="#f00"/>
<g stroke="#606060" stroke-width="1" fill="none">
<path d="M40.5 192.7V356"/>
<path d="M35 356H40.5"/>
<path d="M35 332.7H40.5"/>
<path d="M35 309.3H40.5"/>
<path d="M35 286H40.5"/>
<path d="M35 262.7H40.5"/>
<path d="M35 239.4H40.5"/>
<path d="M35 216H40.5"/>
<path d="M35 192.7H40.5"/>
<path d="M40.5 362.5H670.8"/>
<path d="M40.5 362.5v5.2"/>
<path d="M59 362.5v5.2"/>
<path d="M87.8 362.5v5.2"/>
<path d="M116.8 362.5v5.2"/>
<path d="M143.6 362.5v5.2"/>
<path d="M168.5 362.5v5.2"/>
<path d="M199.4 362.5v5.2"/>
<path d="M227.7 362.5v5.2"/>
<path d="M256.5 362.5v5.2"/>
<path d="M285 362.5v5.2"/>
<path d="M314.8 362.5v5.2"/>
<path d="M343.8 362.5v5.2"/>
<path d="M372.8 362.5v5.2"/>
<path d="M399.6 362.5v5.2"/>
<path d="M422.7 362.5v5.2"/>
<path d="M445 362.5v5.2"/>
<path d="M464.9 362.5v5.2"/>
<path d="M482.8 362.5v5.2"/>
<path d="M502.4 362.5v5.2"/>
<path d="M524.3 362.5v5.2"/>
<path d="M545.4 362.5v5.2"/>
<path d="M565.7 362.5v5.2"/>
<path d="M586 362.5v5.2"/>
<path d="M606.8 362.5v5.2"/>
<path d="M628.9 362.5v5.2"/>
<path d="M650 362.5v5.2"/>
<path d="M670.8 362.5v5.2"/>
</g>
<text transform="translate(28 356) rotate(-90)" text-anchor="middle" font-family="Liberation Sans" font-size="9" fill="#111" stroke="#111" stroke-width="0.2">0</text>
<text transform="translate(28 332.7) rotate(-90)" text-anchor="middle" font-family="Liberation Sans" font-size="9" fill="#111" stroke="#111" stroke-width="0.2">1</text>
<text transform="translate(28 309.3) rotate(-90)" text-anchor="middle" font-family="Liberation Sans" font-size="9" fill="#111" stroke="#111" stroke-width="0.2">2</text>
<text transform="translate(28 286) rotate(-90)" text-anchor="middle" font-family="Liberation Sans" font-size="9" fill="#111" stroke="#111" stroke-width="0.2">3</text>
<text transform="translate(28 262.7) rotate(-90)" text-anchor="middle" font-family="Liberation Sans" font-size="9" fill="#111" stroke="#111" stroke-width="0.2">4</text>
<text transform="translate(28 239.4) rotate(-90)" text-anchor="middle" font-family="Liberation Sans" font-size="9" fill="#111" stroke="#111" stroke-width="0.2">5</text>
<text transform="translate(28 216) rotate(-90)" text-anchor="middle" font-family="Liberation Sans" font-size="9" fill="#111" stroke="#111" stroke-width="0.2">6</text>
<text transform="translate(28 192.7) rotate(-90)" text-anchor="middle" font-family="Liberation Sans" font-size="9" fill="#111" stroke="#111" stroke-width="0.2">7</text>
<text transform="translate(10.8 272.9) rotate(-90)" text-anchor="middle" font-family="Liberation Serif" font-size="11.4" fill="#111">-lg(p)</text>
<text x="0.3" y="201.2" font-family="Liberation Sans" font-weight="bold" font-size="26" fill="#000">b</text>
<defs><path id="ec" d="M44 542.9L44 542.9L44.4 531.1L46 530.2L48 530.2L50 532.1L52 533L53.4 526.4L54.6 518.9L56 519.9L57 530.2L58.6 537.7L60.6 539.6L62.6 538.7L64.6 536.8L66.6 532.1L68.6 531.1L70.6 530.2L72 532.1L73.8 542.9L75 542.9L75.6 533L77 530.2L78.6 529.3L80 530.2L81.4 534L83 537.7L85 538.7L87 539.6L89 539.6L91 539.1L93 538.7L95 535.9L97 534L98.6 533L100.6 542.9L102 542.9L102.6 528.3L104 526.4L105.4 528.3L107 532.1L109 534L111 534.9L113 535.9L115 537.7L117 539.6L119 540.9L121 534L123 530.2L125 522.7L126.6 520.8L128 522.7L129 526.4L130.6 530.2L131.8 542.9L133 542.9L133.6 533L135 532.1L136.6 534L138 537.7L140 539.6L142 540.1L144 540.1L146 539.6L148 537.7L150 532.1L151 530.2L152 531.1L153.8 542.9L155 542.9L155.6 530.2L157 528.3L158.6 526.4L160 526.4L161.4 524.6L163 527.4L165 528.3L167 528.3L169 528.3L171.8 529.3L172 528.3L174 529.3L176 530.2L178 527.4L179.6 526.4L181 528.3L182.4 542.9L184 542.9L184.6 532.1L186 530.2L187.6 532.1L189 534L191 534.9L193 535.9L195 536.8L197 537.7L199 536.8L201 535.9L203 534.9L205 534L207 532.1L209 530.2L211 526.4L212 525.5L213.6 528.3L214.8 542.9L216.4 542.9L217 530.2L218.4 528.3L220 527.4L222 526.4L224 524.6L225.6 525.5L227 530.2L229 534.9L231 534L233 530.2L235 528.3L237 527.4L238.4 528.3L240 542.9L241 542.9L242 528.3L243.6 526.4L245 526.4L246.4 528.3L247.6 523.6L249 519.4L252 518.9L255 518.9L257 518.9L258.4 518L260 517L261.6 520.8L263.6 522.7L265.6 521.8L267.6 521.8L269.6 523.6L272 542.9L274 542.9L274.6 528.3L276 526.4L278 524.6L280 523.6L282 523.6L284 526.4L286 528.3L288 527.4L290 526.4L292 525.5L293.6 524.6L295 528.3L296.8 542.9L298 542.9L298.6 535.9L300 534L302 533L304 534L306 534.9L308.8 535.9L309 535.9L311 534.9L313 532.1L315 531.1L317 531.1L319 533L321 530.2L323 525.5L324.6 522.7L326 523.6L327.4 530.2L328.6 542.9L330 542.9L330.6 524.6L332 521.8L333.4 522.7L335 527.4L337 530.2L339 535.9L341 537.7L343 536.8L345 537.7L346.6 530.2L348 522.7L350 526.4L352 528.3L353.4 530.2L355 532.1L356.6 534L358 542.9L359 542.9L359.6 534L360.6 521.8L362.6 518.9L364.6 522.7L366 528.3L368 530.2L370 531.1L372 532.1L374 531.1L376 528.3L378 524.6L379.4 523.6L381 526.4L383 528.3L384.6 530.2L387 542.9L388 542.9L388.6 531.1L390 529.3L391.4 528.3L393 530.2L395 533L397 531.1L399 528.3L401 530.2L403 532.1L405 531.1L407 526.4L409 525.5L411 530.2L412.6 542.9L413.4 542.9L414 528.3L415 526.4L416.6 528.3L418 532.1L420 534.9L422 534L424 531.1L426 528.3L428 527.4L430 524.6L431.4 526.4L433 542.9L434 542.9L434.6 528.3L436 524.6L438 525.5L440 527.4L442 530.2L444 533L445.8 534L446 529.3L448 526.4L450 525.5L452 526L454 527.4L455.6 542.9L457 542.9L457.6 532.1L459 531.1L460.4 533L462 534.9L464 534L466 529.3L467.6 523.6L469 521.8L470.4 527.4L471.6 529.3L472.8 542.9L474 542.9L474.6 529.3L476 525.5L477.6 528.3L479 531.1L480.4 533L482 537.7L484 536.8L486 531.1L488 527.4L489.6 529.3L491.6 542.9L493 542.9L493.6 530.2L495 525.5L497 522.7L499 518L500.4 518.9L502 523.6L504 531.1L506 532.1L508 530.2L510 529.3L511.6 530.2L512.8 542.9L514 542.9L514.6 529.3L516 528.3L517.6 531.1L519 534L521 535.9L523 534.9L525 533L527 531.1L528.4 530.2L530 528.3L531.6 529.3L533 533L535.2 542.9L536.4 542.9L537 530.2L538.4 528.3L540 528.8L542 529.3L544 531.1L546 529.3L548 528.3L549.6 527.4L551 529.3L552.4 533L554.8 542.9L555.6 542.9L556.2 533L558 532.1L560 533L562 534L564 532.1L566 531.1L568 532.1L570 533L572 532.1L574 533L576.8 542.9L578.4 542.9L579 531.1L581 529.3L582.8 529.3L583 531.1L585 529.3L587 527.4L589 525.5L590.4 524.1L592 525.5L593.6 533L595.2 542.9L596 542.9L596.6 525.5L598 524.6L599.6 525.5L601 527.4L603 530.2L605 532.1L607 533L609 531.1L611 527.4L612.4 526.4L614 529.3L615.6 533L617.2 542.9L618 542.9L618.6 529.3L620 527.4L621.6 527.4L623.6 528.3L625.6 531.1L627.6 534.9L629.6 536.8L631.6 534.9L633.6 533L635 531.1L637 534.9L639.6 542.9L640.4 542.9L641 527.4L642 524.6L643.6 525.5L645 529.3L647 531.1L649 530.2L651 527.4L653 526.4L655 525.5L657 527.4L659.2 542.9L660.4 542.9L661 530.2L662.4 529.3L664 531.1L666 532.1L668 531.1L670 529.3L672 523.6L673.6 520.8L675 520.8L677 523.6L679 529.3L680.8 542.9L680.8 542.9Z" stroke-width="3.8" stroke-linejoin="round"/></defs>
<g clip-path="url(#c0)" fill="#377EB8" stroke="#377EB8"><use href="#ec"/></g>
<path d="M47.4 484L46 479M48 487L47.4 484M45.4 510L46.6 506M45.4 510L45.4 516.6M55.4 483L55.4 478M55 488L55.4 483M55 488L55 492.5M57 491L55 488M54 494L54 499.9M55 499L54 494M56 510L56 506M50 508L51 505M71 511.6L71 517" stroke="#377EB8" stroke-width="3.8" stroke-linecap="round"/>
<path d="M46 461.6h0M44.6 472.4h0M47 472h0M48.6 472h0M46 479h0M47.4 484h0M45 488h0M48 487h0M46 493.6h0M45 500h0M46.6 506h0M45.4 510h0M55.4 457.6h0M55.4 464h0M55.4 472h0M55.4 478h0M55.4 483h0M55 488h0M57 491h0M54 494h0M55 499h0M56 506h0M56 510h0M51 505h0M50 508h0M61 503.6h0M68 505h0M71 511.6h0M56 522h0M57 532h0M46.9 520.7h0M47.5 526.7h0M47.3 526.4h0M46.9 529.3h0M47.3 523.4h0M47.7 526.4h0M47.4 526.5h0M47.8 519.5h0M50.5 528.3h0M50.7 529.6h0M50.7 520.9h0M50.7 525.2h0M51.6 525.1h0M51 524.7h0M50.7 530h0M51.5 525.3h0M50.7 524.9h0M51.6 523.8h0M51.9 524.2h0M50.7 530h0M50.4 520.8h0M54.8 507h0M55 504h0M55.1 512.8h0M54.7 518.6h0M55.1 512h0M55 517.4h0M53.9 512.3h0M56 511.2h0M55.2 507.5h0M55.3 514.3h0M55 511.9h0M54.8 500.9h0M57.1 526.1h0M57.5 532h0M55.5 523.9h0M58 528h0M58 528.8h0M57 530.6h0M57.6 523.2h0M61.4 536.9h0M59.7 536.1h0M61.1 538.8h0M60 535.7h0M62.9 535.4h0M63.4 537.8h0M63.7 535.6h0M63.8 533.8h0M63.4 532.7h0M66.8 526.8h0M65.8 528.8h0M67.8 529.6h0M66.4 529h0M66.3 527.1h0M66.9 523.8h0M69.5 526.6h0M69.4 523h0M69.8 521.6h0M69.4 528.2h0M69.8 527.6h0M70.1 525.3h0M68.7 527.3h0M69.5 520.8h0M70.2 530.8h0M69.4 519.4h0" stroke="#377EB8" stroke-width="3.8" stroke-linecap="round"/>
<g clip-path="url(#c1)" fill="#4DAF4A" stroke="#4DAF4A"><use href="#ec"/></g>
<path d="M78.6 511L78.6 513.9M87.4 529L87.4 535.9M89 530L87.4 529M89 530L89 535.9M98.6 521L98.6 521.9" stroke="#4DAF4A" stroke-width="3.8" stroke-linecap="round"/>
<path d="M78 505.6h0M80.6 504h0M78.6 511h0M97.4 507.6h0M97.4 513h0M87.4 529h0M89 530h0M98.6 521h0M76.7 524.6h0M77.9 520.4h0M76.9 524.6h0M77.4 529.8h0M77 519.2h0M77.4 526.7h0M77.3 528.9h0M77.8 524.2h0M77.5 525.5h0M76.7 522h0M77 529h0M77.2 518.5h0M77.7 518.7h0M77.3 516.1h0M77.5 512.9h0M79.9 531.8h0M81.1 524.7h0M81.4 522.3h0M80.9 526.4h0M80.8 530.5h0M81.3 528h0M81 525.3h0M80.8 524.5h0M81.1 523.8h0M80.8 522.5h0M81.2 521.9h0M84.1 534.7h0M84.3 533.9h0M84.2 534.7h0M83.7 535.2h0M84.6 533.8h0M84 529h0M86.7 539.2h0M86.1 539.1h0M87.7 537.6h0M86.2 538.6h0M86.4 535.4h0M88.6 537.7h0M88.8 537h0M88.7 535.9h0M90.3 536.5h0M90.9 536.6h0M90.6 536.2h0M93.6 536h0M94.8 535.9h0M93.7 534h0M97 530.7h0M97.3 533.4h0M97.4 528.7h0M97.8 527.5h0" stroke="#4DAF4A" stroke-width="3.8" stroke-linecap="round"/>
<g clip-path="url(#c2)" fill="#984EA3" stroke="#984EA3"><use href="#ec"/></g>
<path d="M104 506L104 507.9M113 522L115 520.4M113 522L113 527.9M116 528L116 533.9M126 493.6L126 497.4M129 500L129 507.9" stroke="#984EA3" stroke-width="3.8" stroke-linecap="round"/>
<path d="M105.4 497h0M104 506h0M115 520.4h0M113 522h0M116 528h0M114 537h0M126 493.6h0M129 500h0M128 510h0M103.9 511.4h0M104.9 513.2h0M103.3 511.3h0M104.2 511.5h0M104.5 517h0M104.2 521.1h0M104.3 518.9h0M103.8 511.2h0M103.8 512.9h0M104 513.9h0M104.2 523.8h0M104.7 525.4h0M104.8 515.7h0M104.8 511.3h0M103.8 519.9h0M104.3 525.7h0M104.8 526.9h0M104.7 509.6h0M107.2 525.2h0M106.5 528.6h0M106.1 520.4h0M105.8 522.9h0M106 530.4h0M106.7 518.3h0M105.7 519.1h0M107.2 518.4h0M107 521.2h0M106.9 522.4h0M105.9 524.5h0M106.1 518.3h0M109.6 530.3h0M109.9 533.9h0M109.4 533h0M109.7 528.6h0M109.1 533.4h0M108.7 526.6h0M109.6 514.2h0M111.3 532.9h0M111.7 531.5h0M112.2 531.3h0M112.7 526.5h0M114 537.1h0M114.5 533.1h0M114.8 533.1h0M114.3 531h0M117.3 537.6h0M117.4 539h0M117.6 536.6h0M116.8 536h0M120.2 535.8h0M120 535.5h0M123 519.9h0M123.3 525.8h0M123.5 524.8h0M124 519.4h0M123.2 521h0M122.7 524.4h0M122.6 524.5h0M122.7 527.4h0M122.2 519.2h0M123.1 518.8h0M127.1 513.4h0M126.5 510.1h0M126.4 502.2h0M126.1 513.7h0M126.5 508h0M127 512.7h0M126.5 517.9h0M126 507.4h0M127 513.5h0M127.3 519.5h0M126.7 510h0M126.6 520.7h0M126.7 510.7h0M126.3 519.3h0M126.6 501.2h0M126.9 497.9h0" stroke="#984EA3" stroke-width="3.8" stroke-linecap="round"/>
<g clip-path="url(#c3)" fill="#FF7F00" stroke="#FF7F00"><use href="#ec"/></g>
<path d="M150.6 512.4L150.6 517.5" stroke="#FF7F00" stroke-width="3.8" stroke-linecap="round"/>
<path d="M150.6 489h0M150.6 504h0M150.6 512.4h0M135.1 526.2h0M135.4 527.9h0M136.2 530.8h0M136.2 526.6h0M135.6 524.7h0M136.1 531h0M136.1 523.1h0M135.8 525.3h0M135.6 525.4h0M135.7 531.2h0M135.8 522.5h0M138.2 535h0M138.9 535.6h0M138.9 537.7h0M138.9 534.7h0M142.5 538.5h0M142.9 539.2h0M143.1 537.8h0M145.7 539.4h0M145.3 537.7h0M144.9 537.3h0M149.5 525.8h0M149.7 532.6h0M149.4 534.2h0M149.5 532.2h0M149 534h0M149.4 529.4h0M149.5 532.8h0M149.5 525.3h0" stroke="#FF7F00" stroke-width="3.8" stroke-linecap="round"/>
<g clip-path="url(#c4)" fill="#377EB8" stroke="#377EB8"><use href="#ec"/></g>
<path d="M160.6 487L162.6 485M159 492L160.6 487M161 499L161 505M158 506L157.4 502M158 506L158 509.4M178.4 505.6L178.4 509.4" stroke="#377EB8" stroke-width="3.8" stroke-linecap="round"/>
<path d="M162.6 485h0M160.6 487h0M159 492h0M157.4 502h0M161 499h0M158 506h0M179.6 482.4h0M179.2 496h0M178.4 505.6h0M157.7 521.9h0M158.4 512.8h0M157.9 526.5h0M156.1 516.5h0M157.2 524.1h0M158.3 519h0M158.2 518.3h0M157.5 526.3h0M158.2 521.4h0M157 517.9h0M157 517.5h0M157.4 512.6h0M160.6 514.1h0M160.6 513.3h0M161.5 520.9h0M160.4 521.6h0M160.1 517.8h0M160.4 512.7h0M160.5 524h0M160.6 521.9h0M160.2 524.1h0M161 516.1h0M160.8 517.4h0M160.8 523.2h0M160.7 509.6h0M160.5 506.9h0M162.4 524.4h0M164 513.5h0M163.4 520.4h0M162.3 514.4h0M163 527.1h0M163.3 516h0M163.3 515.1h0M162.9 521.2h0M163 512.3h0M162.5 511.1h0M163.1 515.6h0M163.1 513.6h0M163.7 526.6h0M163.6 516.9h0M163.1 515.3h0M162.9 515.1h0M162.8 510.1h0M163 509.7h0M167 516.5h0M166.7 521.7h0M166.6 522.2h0M167.1 520.3h0M166.6 523h0M166.9 527.7h0M166.1 518.5h0M166.7 527.1h0M166.5 518.5h0M166.7 524.8h0M166.9 517.7h0M166.6 514.1h0M166.7 510.8h0M171.3 524.3h0M170.9 522.6h0M169.9 521h0M170.7 527h0M169.9 522.2h0M170.6 513.9h0M170.3 525.5h0M171.2 528.6h0M170.9 524.4h0M170.4 515.4h0M170.8 515.4h0M171.4 513.4h0M171.4 520.6h0M171.3 517.1h0M170.1 522h0M170.4 526.2h0M170.5 512.9h0M173.7 528.7h0M174 528.8h0M173.8 521.4h0M173.1 528.1h0M174.3 516.1h0M173.1 521h0M173.2 523.5h0M174.2 521.1h0M173 516.9h0M172.9 517.7h0M173.3 516.1h0M176.9 525.7h0M176.5 528.2h0M176.8 519.2h0M177.8 517.4h0M176.9 525.6h0M177 520.3h0M177.2 522.7h0M177.2 517.4h0M180 521.1h0M180.3 511.1h0M180.4 513.4h0M179.6 514.9h0M179.5 525.8h0M181 521.1h0M179.6 515h0M180 523.3h0M180.2 514.9h0M179.9 524.1h0M179.8 514.2h0M179.4 517.3h0M178.6 524.8h0M180 510.3h0M179.7 506.8h0" stroke="#377EB8" stroke-width="3.8" stroke-linecap="round"/>
<g clip-path="url(#c5)" fill="#4DAF4A" stroke="#4DAF4A"><use href="#ec"/></g>
<path d="M186.4 512L186.4 516.9M191 523L191 525.9M194 524L194 528.9M201.6 522L201.6 527.3M204 524L204 524.9" stroke="#4DAF4A" stroke-width="3.8" stroke-linecap="round"/>
<path d="M186.4 500h0M186.4 512h0M191 523h0M194 524h0M201.6 522h0M204 524h0M201 539h0M211 496.4h0M186.3 530.1h0M186.3 525.9h0M187 524h0M187.5 528.8h0M186.7 523.4h0M188.8 532.7h0M189.3 529.3h0M189.6 528.6h0M189.8 527.4h0M190.2 531h0M189.8 525.6h0M189.9 528.1h0M189.6 529.3h0M189.2 525h0M188.9 522.9h0M192.4 535.4h0M193 532.5h0M192.6 531.2h0M193 531.6h0M192.2 529h0M192.5 531.8h0M192.4 527.8h0M195.2 532.5h0M194.9 536.6h0M195.1 534h0M195.3 533.3h0M194.8 533.6h0M195 530.6h0M194.7 527.7h0M198.4 534.3h0M197.4 534h0M198.6 533.4h0M197.9 531.9h0M198 536h0M197.2 531.9h0M199.9 530.3h0M200.4 535.1h0M200.7 534.3h0M200.5 533.6h0M201.1 528.8h0M200.9 531h0M199.8 531.7h0M200.2 531h0M200.8 528.4h0M203.5 529.6h0M203.4 531.7h0M202.2 531.3h0M202.7 530.2h0M202.9 531.9h0M203.3 527.8h0M206.2 524.2h0M205.4 525.8h0M206.5 531.2h0M206.6 532.5h0M206.2 525.3h0M205.9 523.6h0M205.4 532.2h0M206 523.3h0M206.2 517.2h0M209.7 528.9h0M209.2 525.2h0M209.1 529.4h0M208.3 526.3h0M209.4 525.4h0M209.2 520.2h0M213 520.5h0M212.6 518.2h0M212.7 519.4h0M213.6 514.5h0M212.3 521.1h0M212.2 523.6h0M213.2 515.3h0M213.2 523.3h0M212.9 516.7h0M213 513.6h0M212.4 513.1h0" stroke="#4DAF4A" stroke-width="3.8" stroke-linecap="round"/>
<g clip-path="url(#c6)" fill="#984EA3" stroke="#984EA3"><use href="#ec"/></g>
<path d="M217.6 503L217.6 500M225.6 500L225.6 505.9" stroke="#984EA3" stroke-width="3.8" stroke-linecap="round"/>
<path d="M217.6 478h0M224.4 488h0M237.6 490h0M237.6 497.6h0M217.6 500h0M217.6 503h0M225.6 500h0M231 513.6h0M218.6 524.6h0M218.8 523.5h0M218.5 520.8h0M217.2 527.6h0M218.6 525.7h0M219 527.2h0M218.9 517.4h0M218.8 515.3h0M218.3 513h0M218.7 518.3h0M218.7 518.5h0M218.8 527.2h0M219.2 514.9h0M218.6 520.1h0M219.7 520.8h0M218.2 518.6h0M218.7 511.7h0M218.7 510.8h0M220.4 520.3h0M221.6 520.7h0M221 524.1h0M221.4 516.4h0M220.9 513.9h0M221.1 513.9h0M222.2 524.3h0M221.3 525.7h0M221.2 524.4h0M222 513.5h0M221.2 512.7h0M223.4 511.4h0M223.5 508.6h0M224.2 524.2h0M223.4 524h0M224 517.8h0M224 509.6h0M224.2 510h0M223.5 521.6h0M223.5 509.7h0M223.8 515.4h0M223.7 513.3h0M224.4 513.2h0M223.8 508.1h0M227 526.8h0M226.2 528.5h0M226.4 523.5h0M226.9 527.1h0M226.7 519.6h0M226 523.1h0M226.9 527.2h0M226.4 521.1h0M227 522.9h0M227.1 522.1h0M227 517h0M229.7 529.8h0M229.1 526.6h0M229.8 528.2h0M230.9 533.1h0M230 532.3h0M229.9 529.2h0M230.8 533.4h0M229.9 533.8h0M230 529.5h0M229.7 525.3h0M229.6 522.4h0M232.6 523.5h0M232.5 528.1h0M232.4 523.1h0M232.4 526.4h0M233.2 530.2h0M232.5 521.7h0M235.1 519.1h0M235.1 525.9h0M236.6 518.3h0M235.2 528.1h0M235 524.4h0M234.5 524.3h0M235.2 523.4h0M234.8 515.8h0M234.9 515.7h0M234.9 512.6h0M237.4 524.3h0M237.5 521.6h0M237.8 513.6h0M238.1 518.7h0M237.1 518.9h0M237.5 514h0M236.6 513.9h0M237.6 519.2h0M237.5 515.7h0M237.2 517.3h0M237.8 520.4h0M237.7 513.3h0M237.4 510.4h0" stroke="#984EA3" stroke-width="3.8" stroke-linecap="round"/>
<g clip-path="url(#c7)" fill="#FF7F00" stroke="#FF7F00"><use href="#ec"/></g>
<path d="M259.6 483.6L259.6 488.4M260 487L259.6 483.6M260 487L260 487.9" stroke="#FF7F00" stroke-width="3.8" stroke-linecap="round"/>
<path d="M256 478.4h0M259.6 483.6h0M260 487h0M254.4 533h0M248 512h0M253 512.4h0M245.9 516.5h0M245.1 516.1h0M245.2 522h0M245.7 523h0M245.3 522.1h0M245.9 521.8h0M245.5 515.7h0M248.7 515h0M250.3 505.2h0M249 518.3h0M248.8 498.4h0M249.5 512.4h0M249.1 497h0M249.4 501.8h0M249.3 506.7h0M249.6 511.4h0M249.9 514.6h0M248.9 502.1h0M249.9 500.1h0M249.7 498h0M249.7 512h0M248.5 502.4h0M249.6 499h0M248 505.4h0M249.3 508.8h0M248.3 509.5h0M248.9 495.8h0M251 515.9h0M251.9 516h0M250.2 511.9h0M250.5 501.9h0M250.7 505.3h0M252.1 513.4h0M250.8 497.9h0M251.2 511.5h0M250.6 501.6h0M251.9 499.8h0M251.5 506h0M251.3 504.9h0M250.9 500.3h0M251.6 511.3h0M251.3 497.8h0M254.8 499.5h0M254.4 516h0M254.1 500.7h0M253.6 507.3h0M253.9 517.9h0M253.9 515.8h0M254.8 511.2h0M253.9 509.5h0M254.6 508.4h0M252.7 503.4h0M254 511.5h0M253.4 500.2h0M254.4 506.2h0M253.8 499.2h0M253.5 496.3h0M257.6 515.2h0M258.3 509.2h0M257.8 514.8h0M258 503h0M258.1 517.1h0M257.4 506.4h0M257.5 499.3h0M257.8 515.8h0M258.6 507.4h0M258.7 503.4h0M257.5 497.7h0M257.1 516.2h0M257.1 517.4h0M257.8 510.3h0M257.8 515.1h0M258.3 498.7h0M257.5 508.1h0M257.9 495.5h0M259.7 505.8h0M261.4 501.4h0M260.5 511.8h0M261.2 504.1h0M261.2 508.7h0M260 498.7h0M260.8 511.3h0M260.9 514.9h0M260.3 514.3h0M260.5 513h0M260.6 506.1h0M261 507.6h0M261.3 496.7h0M260.2 510.7h0M260.6 504.7h0M260.5 513.7h0M260.8 504.3h0M260.3 517.1h0M260.3 509.1h0M260.7 494.7h0M262.6 511.6h0M264 513h0M264.1 508.1h0M263.3 521.1h0M263.2 519.3h0M263.1 504.6h0M263.4 508.2h0M263.9 518.4h0M263.2 516.6h0M263.2 518.9h0M263.7 508.8h0M263.1 510.3h0M264.1 509.4h0M263.4 516.6h0M263.3 519.7h0M264.2 506.7h0M263.6 522h0M263.9 502.2h0M265.5 520.6h0M266.1 519h0M266.1 519.4h0M266 518.6h0M265.4 513.2h0M266.2 506h0M266.1 514h0M266.5 520.4h0M266.7 511.9h0M265.4 510.7h0M265.9 520.7h0M265.5 507.6h0M265.6 503.2h0M266.5 502.9h0M269.7 513.1h0M270.3 522.9h0M270.1 510.2h0M270 517.5h0M270 524.6h0M269.7 510.4h0M270.4 515.6h0M269.3 524.8h0M269.3 523.3h0M270.5 523.9h0M269.8 509.9h0M270.2 509.7h0" stroke="#FF7F00" stroke-width="3.8" stroke-linecap="round"/>
<g clip-path="url(#c8)" fill="#377EB8" stroke="#377EB8"><use href="#ec"/></g>
<path d="M276.4 476L276.4 473.6M276.4 481L276.4 476M281 500L281 501.9M286.4 505.6L286.4 511.5" stroke="#377EB8" stroke-width="3.8" stroke-linecap="round"/>
<path d="M276.4 473.6h0M276.4 476h0M276.4 481h0M276.4 495h0M281 500h0M286.4 505.6h0M293 491h0M277.3 522.5h0M276 518.7h0M276.3 519.1h0M275.8 521.6h0M277.8 516.5h0M276.7 520.2h0M277.6 519.6h0M276.3 511.2h0M276.8 518.7h0M277.1 518.4h0M277.1 511.2h0M276 510.3h0M276.5 509.7h0M280.1 515h0M279.5 509.2h0M279.9 508.6h0M280.3 523.3h0M280 509.5h0M279.9 511.3h0M278.7 508.8h0M279.5 505.8h0M280.7 516.3h0M280.4 517h0M281.6 514.1h0M281.3 508.5h0M279.6 516.7h0M280.7 504.9h0M280.2 522h0M280 508.2h0M280.3 516.3h0M280.2 516.3h0M280.7 520.2h0M279.8 512.8h0M279.5 502.5h0M284 515.8h0M283.3 518h0M283.7 514.1h0M284.4 522.9h0M282.4 522.3h0M284 517.1h0M283.4 518.1h0M283.6 521.7h0M283.2 513.2h0M283.7 511.4h0M286.1 520.3h0M286.3 515.1h0M285.9 519.3h0M286.1 516.2h0M286.8 519.9h0M286.2 518h0M286.4 517.9h0M285.9 517.1h0M285.4 516.4h0M286.5 517.6h0M286.5 528.2h0M286.3 519h0M286.3 517.9h0M286.5 514.1h0M286 526.7h0M285.8 512h0M286.7 509.8h0M290.1 524.9h0M289.2 515.4h0M290 514.9h0M289.7 520.2h0M290.1 512.2h0M289.6 514.8h0M290.3 517.2h0M289.4 521.5h0M289.2 513.5h0M289.3 519h0M289.8 511.8h0M293.3 521.9h0M292.6 523.3h0M294.1 519.4h0M293.5 517.8h0M293.7 516.6h0M292.9 521.8h0M293.1 513.2h0M293.9 511.9h0" stroke="#377EB8" stroke-width="3.8" stroke-linecap="round"/>
<g clip-path="url(#c9)" fill="#4DAF4A" stroke="#4DAF4A"><use href="#ec"/></g>
<path d="M301 456L300 453.6M300 506L300 502M300 510L300 506M300.4 515L300 510M300 520L300.4 515M300 520L300 523.9M306.4 519L306.4 526.2M325 497L325 500.5M326 502L325 497M325 507L326 502M325.4 512L325 507M310 520L308 519M310 520L310 526.9" stroke="#4DAF4A" stroke-width="3.8" stroke-linecap="round"/>
<path d="M300 453.6h0M301 456h0M300 471h0M300 502h0M300 506h0M300 510h0M300.4 515h0M300 520h0M306.4 519h0M308 519h0M317.4 501.6h0M318.6 511h0M325 497h0M326 502h0M325 507h0M325.4 512h0M310 520h0M310 528h0M300.3 530.3h0M300.8 532.4h0M301.6 525.3h0M300.8 523h0M301.2 523.5h0M301.6 525.9h0M301.7 527.4h0M300.4 524.7h0M300 526.3h0M300.7 526.1h0M301.3 522.9h0M304.9 526.5h0M303.4 527.8h0M304.7 528.9h0M304.3 527.8h0M304.7 528.5h0M304.1 532h0M304.3 530.2h0M303.6 525.5h0M304.1 525h0M307.2 530.9h0M306.6 527.3h0M307.2 528.4h0M306.8 533.7h0M307.5 534.9h0M307.2 532h0M307.3 527.2h0M307.9 533.1h0M306.9 526.7h0M309.3 534.5h0M308.3 530.6h0M309.6 531.2h0M309.6 535.5h0M309 532.7h0M309.3 532.1h0M309.3 528.2h0M309.5 526.5h0M312.4 528.2h0M311.3 530h0M312 530.7h0M311.6 532.3h0M312.5 531.3h0M312.3 531.7h0M313.2 529.4h0M312.2 525.4h0M312 526.1h0M312.4 531h0M312.5 522.9h0M313.7 525.2h0M314 528h0M314.3 527.3h0M314.4 524h0M314.1 523.6h0M317.8 527.6h0M318.7 527.9h0M317.3 520.9h0M318 529h0M318.3 529.1h0M317.4 526.7h0M317.1 529.5h0M318.5 524h0M318.1 523.5h0M318 529.5h0M318 520.3h0M317.7 514h0M321 525.3h0M320.7 526.9h0M321.3 528.1h0M321 523.9h0M321 518.7h0M320.6 524.1h0M321.5 519.9h0M321.2 518.5h0M326 520.2h0M326 517.8h0M325.5 507.3h0M325.2 512.2h0M325.9 522.4h0M325.9 516.3h0M325 510.6h0M325.3 516.7h0M325.3 514.8h0M325.4 507.6h0M325.6 516.1h0M324.8 515h0M324.8 517.2h0M325.5 504.7h0M325.5 504.6h0" stroke="#4DAF4A" stroke-width="3.8" stroke-linecap="round"/>
<g clip-path="url(#c10)" fill="#984EA3" stroke="#984EA3"><use href="#ec"/></g>
<path d="M332.6 494.4L332.6 498.8M342.6 522.4L342.6 530.3M353.4 496L353.4 491.6M348 499L348 499.9M354.6 516L354.6 518.9" stroke="#984EA3" stroke-width="3.8" stroke-linecap="round"/>
<path d="M331.4 469h0M332.6 494.4h0M342.6 522.4h0M353.4 491.6h0M353.4 496h0M348 499h0M353.4 506h0M354.6 516h0M332.6 500h0M332 504h0M332.9 503h0M333.2 521.4h0M332.6 517.5h0M332 521.3h0M332.1 516.8h0M332 509.3h0M333.3 500.1h0M332.3 513.3h0M332.2 520.7h0M333.5 521.5h0M332.9 521.5h0M332.4 515.6h0M333.1 511.8h0M333.2 502.8h0M332.5 504.8h0M332.8 506.1h0M332.7 511.3h0M332.8 507.3h0M332.4 520.8h0M333.5 506.1h0M332.4 506.6h0M332.9 499.2h0M334.1 517.9h0M334.5 517.1h0M335.3 516.1h0M334.6 525h0M334.9 522.3h0M335.1 524.1h0M335.2 517.4h0M333.8 519.8h0M334.7 526.4h0M335.2 512.9h0M334.6 512.2h0M338.8 529h0M338.3 528h0M339 526.8h0M338 526h0M338.8 530.1h0M337.6 531.3h0M337.2 526.1h0M337.6 524.4h0M337.9 530.1h0M338 523h0M341.6 536.6h0M341.3 537.3h0M341.7 533.1h0M341.6 532.6h0M344.8 533.3h0M344.9 537.2h0M343.9 536.6h0M344.8 533.6h0M344.9 532.3h0M348.7 511.6h0M347.3 522.5h0M348.7 512.1h0M347.3 518.1h0M348.7 523.1h0M348.7 520.7h0M348.5 512h0M347.9 514.5h0M349 522.8h0M348.5 509h0M348.5 505.5h0M351.1 523.1h0M350.7 512.2h0M350.3 512.7h0M350.1 520.1h0M350.1 517h0M350.5 514.2h0M350.1 519.4h0M350.1 509.2h0M351.1 513.8h0M350.7 514.1h0M350.7 515.6h0M350.7 518.5h0M350.8 522h0M351.1 509.5h0M350.7 509.9h0M351 510.6h0M350.4 511.6h0M350.9 509.1h0M353 528.6h0M353.2 522.3h0M353.2 529.9h0M353.7 519.9h0M352.9 522.7h0M352.9 529.2h0M352.5 519.9h0M353 518.6h0M353.4 518.6h0" stroke="#984EA3" stroke-width="3.8" stroke-linecap="round"/>
<g clip-path="url(#c11)" fill="#FF7F00" stroke="#FF7F00"><use href="#ec"/></g>
<path d="M363.4 495L363.4 495.1M373 513.6L373 518.9M380 499.6L380 504.2" stroke="#FF7F00" stroke-width="3.8" stroke-linecap="round"/>
<path d="M361.4 486h0M364.6 488h0M363.4 495h0M373 513.6h0M380 499.6h0M382 510h0M365 520h0M361.9 516.1h0M362.7 497.8h0M362.9 507h0M362.7 515.4h0M363 513.9h0M363.6 516h0M361.9 508.3h0M361.9 512.9h0M362.1 515.2h0M362 502.8h0M362.2 500.1h0M362.2 508.6h0M362.7 514.9h0M362.7 505.8h0M362.2 516.6h0M362.1 500.5h0M361.5 508.1h0M362.9 497.1h0M361.9 494.5h0M364.5 506.3h0M364.5 508.1h0M364.8 522.2h0M365.3 505.3h0M364.4 513h0M364.8 520.3h0M364.4 508h0M364.8 515.2h0M364.8 518.7h0M364 504.4h0M365.1 504.2h0M363.6 517.9h0M365.4 507.3h0M364.9 509.7h0M364.9 503.5h0M367.9 524.8h0M367.2 527h0M367.2 520.9h0M366.6 522.1h0M367.5 520.8h0M367.2 520h0M369.8 529.8h0M370.3 529h0M369.5 527h0M369.3 525.1h0M370.4 526.4h0M370 522.3h0M372.8 523.5h0M372.5 522.8h0M372 527.9h0M371.5 527.9h0M372.3 530.8h0M372.6 523.6h0M372.6 522.3h0M374.9 521.7h0M374.6 520.6h0M374.8 525.1h0M375.4 528.9h0M374.2 527.5h0M374.7 530.1h0M375.5 530.4h0M374.5 523.2h0M375.1 518.4h0M374.9 524.6h0M374.2 525.8h0M374.6 517.3h0M376.5 520.8h0M376.7 514.1h0M377.1 513.6h0M377.4 513.7h0M376.2 523.1h0M377.1 524.9h0M377.2 523.3h0M377 515.8h0M376.8 512.8h0M376.1 516.2h0M376 522.6h0M376.8 525.2h0M376.1 519.7h0M376.8 519.3h0M376.5 515.2h0M376.8 520.8h0M376.4 510.4h0M379 510.4h0M379.5 515.4h0M378.9 519.4h0M379.7 503.3h0M380.6 503.6h0M379.5 516.7h0M379.6 517h0M379.7 516h0M379.5 510.7h0M378.8 519.8h0M379.5 508.2h0M379.9 517.8h0M379.6 512.9h0M379.6 519.8h0M378.8 516.2h0M378.7 523.5h0M379.8 517.6h0M380.8 504.8h0M379.4 511.7h0M379.6 513.9h0M379.5 503h0M384 521.4h0M383.3 527h0M383.6 524.5h0M383.7 526.5h0M383.3 517h0M383.3 523.6h0M384.1 516.3h0M383.4 519.1h0M383.7 524.6h0M383.3 526.8h0M383.3 515.2h0M383.5 512.3h0" stroke="#FF7F00" stroke-width="3.8" stroke-linecap="round"/>
<g clip-path="url(#c12)" fill="#377EB8" stroke="#377EB8"><use href="#ec"/></g>
<path d="M399 507L399 511.9M407.4 505L409 503M407.4 505L407.4 507.5M409 503L409 505.9" stroke="#377EB8" stroke-width="3.8" stroke-linecap="round"/>
<path d="M389.4 483h0M393 506h0M399 507h0M407.4 505h0M409 503h0M406.6 511.6h0M390.3 525.2h0M390.6 520.6h0M389.5 528.8h0M390.5 527h0M390.6 523.6h0M390.8 526.4h0M390.7 525.4h0M390.2 528.8h0M390.3 526.7h0M389.9 518.6h0M390.5 516.1h0M390.7 515.1h0M393.4 528.4h0M392.7 530.1h0M392.8 522.4h0M392.8 520.3h0M392.7 526.4h0M391.9 529.5h0M392.6 527h0M393.2 522.8h0M393.1 519.5h0M392.3 518.1h0M394.7 531.8h0M395.4 531.3h0M395.2 527.6h0M394.7 532.4h0M395.2 528h0M394.8 523.4h0M395 530.5h0M395.1 523.1h0M397.2 523.2h0M397 525.7h0M397.2 524.6h0M397.3 528.8h0M398.1 522.7h0M397.5 522.2h0M400.6 528.2h0M400.4 526.2h0M398.6 521h0M400 526.8h0M400.2 528.5h0M400.5 524.9h0M399.5 523.3h0M400 517.7h0M400.8 526.2h0M400.1 519.6h0M399.9 516.3h0M403.8 531.4h0M403.4 528h0M404.2 528.6h0M404.8 526.4h0M404.3 525.2h0M403.9 524h0M403.9 526.3h0M404.1 521.5h0M407.2 514.4h0M408.7 522h0M407.6 514.9h0M408.1 511.7h0M408.1 513.4h0M407.1 516.8h0M407.7 512.8h0M407.4 510.5h0M407.7 519.2h0M407.7 520.1h0M407.8 512.3h0M407.5 520.4h0M407.4 522.9h0M408.1 520.4h0M407.3 517.4h0M408 508.6h0" stroke="#377EB8" stroke-width="3.8" stroke-linecap="round"/>
<g clip-path="url(#c13)" fill="#4DAF4A" stroke="#4DAF4A"><use href="#ec"/></g>
<path d="M414.6 504L414.6 509.5M430 498L430 503.9M425 510L425 514.9" stroke="#4DAF4A" stroke-width="3.8" stroke-linecap="round"/>
<path d="M417.4 496.4h0M414.6 504h0M419 509h0M430 498h0M425 510h0M417.4 524.4h0M416.8 521.7h0M416.3 526.3h0M417.3 522.2h0M416.7 521.2h0M420.8 531.4h0M420.2 530.5h0M420.7 532.2h0M421.1 529.9h0M423.5 528.9h0M423.2 524.4h0M422.4 531.5h0M423.4 530.8h0M422.5 523.9h0M423.3 523.6h0M425.1 528.2h0M425.9 523.3h0M426 521.7h0M425.9 520.9h0M429.1 518h0M429.2 515.2h0M429.1 517.7h0M430.2 516.6h0M429.1 518h0M429.8 514.8h0M430.1 511.9h0M432.4 533.8h0M432 532.6h0M433.3 534.3h0M432.5 533.1h0M432.1 532.2h0" stroke="#4DAF4A" stroke-width="3.8" stroke-linecap="round"/>
<g clip-path="url(#c14)" fill="#984EA3" stroke="#984EA3"><use href="#ec"/></g>
<path d="M436 480.6h0M436 488h0M452.4 486.4h0M437.9 520.7h0M438.8 514.9h0M438.1 518.1h0M438.3 514.6h0M438.4 516.1h0M438.7 511h0M438.5 511.7h0M438 525.2h0M438.2 521.7h0M438.3 521.9h0M438.9 515.1h0M437.9 514.5h0M438.3 509.4h0M441.1 523.7h0M441.4 516.8h0M441 527.4h0M441.8 517.3h0M441.5 520.3h0M440.6 524.1h0M441.3 525.2h0M441.9 525.7h0M441.5 525.9h0M442.4 520.9h0M441.8 516.1h0M444.6 531.1h0M444.3 527.9h0M444.6 530.5h0M444 527.5h0M444.7 525.4h0M448.1 519.3h0M448.9 523.1h0M447 518.6h0M448.2 521.8h0M447.2 518.1h0M450 508.7h0M450.2 524.7h0M450.5 524.1h0M450.7 513.8h0M451.4 509h0M450.7 513.7h0M449.9 520.9h0M450.7 515.3h0M450.5 519.6h0M450.9 524.9h0M450.6 509.7h0M451 516.1h0M450.6 508.7h0M450.5 518.5h0M450.5 508h0M452.7 513.5h0M452.4 518.6h0M452.8 526.3h0M452.4 514.2h0M453.1 523.6h0M453.8 524.4h0M452.9 514.8h0M453.5 514h0M452.8 516.8h0M453.8 524.2h0M453.2 512.2h0" stroke="#984EA3" stroke-width="3.8" stroke-linecap="round"/>
<g clip-path="url(#c15)" fill="#FF7F00" stroke="#FF7F00"><use href="#ec"/></g>
<path d="M469 480L468.4 476M468.4 491L468.4 486M468.4 498L468.4 499.6" stroke="#FF7F00" stroke-width="3.8" stroke-linecap="round"/>
<path d="M468.4 465h0M468.4 476h0M469 480h0M468.4 486h0M468.4 491h0M468.4 498h0M459 499h0M463 501h0M459 508h0M468 504h0M459.7 525.7h0M459.5 527.5h0M461.1 526.3h0M460.6 524.1h0M460.6 526.8h0M460.4 526.3h0M460.6 527.4h0M460.1 525.4h0M460.6 523.8h0M461.1 523.4h0M463.3 531.6h0M463.8 533.2h0M464.1 533.2h0M463.9 528.6h0M466.2 527.3h0M465.7 519.5h0M466 520.4h0M466.7 522.2h0M466.2 519.2h0M466.8 518.7h0M468.4 518.4h0M469.3 513h0M469.9 523h0M470.2 510h0M468.8 517h0M468.8 512.5h0M468.2 514.1h0M469 513.3h0M469.5 508.7h0" stroke="#FF7F00" stroke-width="3.8" stroke-linecap="round"/>
<g clip-path="url(#c16)" fill="#377EB8" stroke="#377EB8"><use href="#ec"/></g>
<path d="M477 491.6L476 487M476.4 505.6L476.4 507.4" stroke="#377EB8" stroke-width="3.8" stroke-linecap="round"/>
<path d="M476 487h0M477 491.6h0M477.6 499h0M476.4 505.6h0M488.4 496h0M482 514h0M477.4 524.3h0M477.6 517.9h0M476.6 522.4h0M477.2 516.4h0M478.2 521.1h0M477.3 522.9h0M477.5 518.1h0M476.5 522.1h0M477 520.1h0M475.9 518.4h0M477.1 513.4h0M479.2 526h0M481.1 530.8h0M479.8 528.1h0M480.8 526.9h0M480.1 525.5h0M484.5 532.1h0M483.2 533.7h0M484.4 532.5h0M484.1 531.7h0M487.8 515.3h0M487.7 524.3h0M487.2 524.1h0M487.1 521.6h0M488.2 515.7h0M487.6 526.3h0M487.9 515.5h0M487 524h0M487.5 524.1h0M487.8 514.9h0" stroke="#377EB8" stroke-width="3.8" stroke-linecap="round"/>
<g clip-path="url(#c17)" fill="#4DAF4A" stroke="#4DAF4A"><use href="#ec"/></g>
<path d="M499.6 487L499.6 490.8M499.6 492L499.6 487" stroke="#4DAF4A" stroke-width="3.8" stroke-linecap="round"/>
<path d="M495 468.6h0M499.6 487h0M499.6 492h0M509 493h0M509 503.6h0M494.7 519.2h0M495 521.6h0M495.6 522.9h0M494.8 522.3h0M494.8 519.6h0M495.6 514.6h0M497.6 506.2h0M497.6 507.4h0M497.6 505.3h0M497.9 508.5h0M496.4 510.9h0M497.8 514.2h0M498.4 508.1h0M497.6 502.6h0M496.9 518.2h0M498.2 509.7h0M497.1 514.2h0M498 517.8h0M497 507.1h0M497.2 518.8h0M498.4 501.2h0M501.5 511.8h0M501.7 510.8h0M501.9 505.4h0M501.2 511.3h0M502.5 511.8h0M501.3 519.1h0M502.6 508.6h0M501.7 520.3h0M501.7 512.2h0M501.5 518.9h0M500.9 504.8h0M504.3 529.2h0M504.9 523.4h0M506.2 527.7h0M505.4 527.8h0M505.6 525.6h0M504.2 525.1h0M504.8 521.8h0M505 521.4h0M508.8 523.5h0M508.3 517.9h0M507.5 527.4h0M507.2 521.5h0M508.9 529.8h0M508.4 527.7h0M508 523.4h0M508.8 518h0M508.1 527h0M508.1 517.8h0M508.5 517.2h0" stroke="#4DAF4A" stroke-width="3.8" stroke-linecap="round"/>
<g clip-path="url(#c18)" fill="#984EA3" stroke="#984EA3"><use href="#ec"/></g>
<path d="M516 504L517 501M516 504L516 511.9M529.6 459L529.6 456M529.6 464L529.6 459M531 496L530.4 492M532 499L531 496M531.6 504L532 499M531 509L531.6 504M531 509L531 513.1" stroke="#984EA3" stroke-width="3.8" stroke-linecap="round"/>
<path d="M516 483h0M517 501h0M516 504h0M529.6 456h0M529.6 459h0M529.6 464h0M529.6 475h0M530 480.6h0M530.4 492h0M531 496h0M532 499h0M531.6 504h0M531 509h0M517.5 529.6h0M516.4 526.7h0M516.3 518.5h0M515.8 518.3h0M516.9 526.2h0M517.1 519.9h0M517.5 520.4h0M517.2 529.6h0M517.1 517.9h0M517.3 514.9h0M519.1 531.8h0M518.5 529.3h0M519.4 531.8h0M520 529.1h0M523.4 529.1h0M521.6 532.8h0M522.3 533.2h0M522.9 531.1h0M522.2 529.1h0M525.1 529.3h0M524.9 532.8h0M525.3 523.6h0M524.7 524.4h0M524.3 530.8h0M524.7 524.3h0M524.8 523.2h0M525.9 526.2h0M524.4 523.4h0M524.9 522.6h0M527.4 524.2h0M527.7 527h0M527.8 527.8h0M527.2 527.3h0M528.2 522.2h0M527.5 522.2h0M526.6 523.1h0M527.5 529.7h0M527.8 520h0M527.5 513h0M530.6 522.7h0M530.1 524h0M529.5 520.1h0M529.8 527.2h0M530.5 526.4h0M529.3 521.7h0M529.9 518.4h0M529.7 517.6h0M532.6 527.6h0M532.7 528.3h0M532.7 524.8h0M532.2 525.3h0M532.1 524.3h0" stroke="#984EA3" stroke-width="3.8" stroke-linecap="round"/>
<g clip-path="url(#c19)" fill="#FF7F00" stroke="#FF7F00"><use href="#ec"/></g>
<path d="M549.6 509L549.6 509.9" stroke="#FF7F00" stroke-width="3.8" stroke-linecap="round"/>
<path d="M550 471.6h0M550.4 490h0M538.4 500h0M549.6 509h0M539.2 526.1h0M540.2 527.9h0M538.2 526.1h0M539.5 524h0M539.3 521.7h0M539 527.9h0M538.7 522h0M539.4 517h0M542.1 528.6h0M541.9 523.6h0M542.5 524.7h0M541.9 521.7h0M542.1 522.9h0M542.4 518.6h0M541.2 519.6h0M542.2 517.4h0M541.2 518.3h0M541.5 515.3h0M543.1 515.5h0M542.2 522.5h0M542 517.2h0M542.2 514.7h0M544.6 524.4h0M544.9 519.5h0M545.6 524.4h0M544.7 521.1h0M544.8 521.7h0M544.7 524.2h0M544.6 520.1h0M544.7 525h0M545 526.4h0M544.3 518.6h0M545.8 520.8h0M544.5 522.2h0M544.3 517.3h0M548.2 518.5h0M548 518h0M548.5 520.1h0M547.8 526.4h0M547.6 520.9h0M547.1 521.4h0M548.2 517.7h0M551 527.1h0M551.2 525h0M551.5 525.7h0M551.6 524.2h0" stroke="#FF7F00" stroke-width="3.8" stroke-linecap="round"/>
<g clip-path="url(#c20)" fill="#377EB8" stroke="#377EB8"><use href="#ec"/></g>
<path d="M573 501L572.4 497.6" stroke="#377EB8" stroke-width="3.8" stroke-linecap="round"/>
<path d="M562 492h0M565.6 492h0M567 497.6h0M572.4 497.6h0M573 501h0M567 509h0M572 511.6h0M557.8 528.6h0M556.8 529.2h0M558.9 531.4h0M558.4 525.6h0M562.4 529.5h0M561.5 532.6h0M561.5 533.4h0M561.9 527.9h0M561 527.7h0M562 527.4h0M561.2 525.7h0M561.4 522.6h0M565.1 529.1h0M565.2 530.7h0M563.8 529h0M564.7 530.5h0M564.6 528.9h0M564.8 524h0M568.1 529.4h0M567.9 523.7h0M568.1 521.5h0M567.8 531.1h0M568.1 523.2h0M568.6 520.2h0M567.7 530h0M567.2 524.8h0M568.1 530.2h0M567.9 522h0M567.9 531.5h0M569.1 523.1h0M568 519.9h0M570.6 524.3h0M571.1 529.5h0M570.4 525.9h0M571.3 527.4h0M571.7 526.5h0M571.5 531.3h0M570.3 530.2h0M571.4 523.6h0M574 530.6h0M572.4 530.4h0M572.5 526.2h0M573 530.9h0M573.4 525.2h0" stroke="#377EB8" stroke-width="3.8" stroke-linecap="round"/>
<g clip-path="url(#c21)" fill="#4DAF4A" stroke="#4DAF4A"><use href="#ec"/></g>
<path d="M580 505.6L580 505.4M582.4 512.4L582.4 513.9M590 502.4L590 503.8" stroke="#4DAF4A" stroke-width="3.8" stroke-linecap="round"/>
<path d="M580 505.6h0M591 446.6h0M591 457.4h0M588.4 466h0M589.6 486.6h0M580 505.4h0M582.4 512.4h0M590 502.4h0M580.6 518h0M581.1 529.4h0M580.2 518.4h0M581 527.4h0M580.8 523.7h0M581.1 518.3h0M580.2 524.3h0M580.6 518.3h0M580.5 522.8h0M581.1 517h0M585.7 525.5h0M584.4 528h0M584 519.7h0M584.1 517.3h0M584.4 525.7h0M584.7 527.7h0M583.8 518.5h0M584.2 517.7h0M584.7 525.6h0M584.4 522.5h0M585.5 516.5h0M585 515.5h0M588.9 516.8h0M589.7 525h0M589 519.3h0M588.2 521.2h0M587.9 516.4h0M588.1 518.5h0M588.6 518.8h0M588.6 513.7h0M591.8 509.2h0M591.1 512.1h0M590.9 513.3h0M591.3 511.3h0M591.7 513.2h0M591.8 516.7h0M590.7 523.2h0M590.8 524.4h0M590.4 524.6h0M591.5 523.4h0M591.7 509h0" stroke="#4DAF4A" stroke-width="3.8" stroke-linecap="round"/>
<g clip-path="url(#c22)" fill="#984EA3" stroke="#984EA3"><use href="#ec"/></g>
<path d="M599.2 498.4L599.2 505.4M612.4 503L612.4 507.9" stroke="#984EA3" stroke-width="3.8" stroke-linecap="round"/>
<path d="M599.2 498.4h0M612.4 503h0M598.9 517.1h0M598.8 510.5h0M598.9 521.9h0M598.6 511.3h0M599 516.1h0M598.6 513.5h0M598.1 514.3h0M598.9 515.9h0M598.5 521.1h0M599.2 515.7h0M599 509.5h0M601.3 517.4h0M601.1 520.8h0M602.2 518.5h0M600.7 518.9h0M601.8 523.2h0M600.5 515.2h0M601.1 515.9h0M600.8 514.6h0M604.5 530.3h0M602.6 523.8h0M603.6 522.8h0M603.9 530h0M603.8 527.1h0M604.3 523.5h0M603.7 528.1h0M603.5 527.2h0M603.8 519.8h0M603.4 514.4h0M606 528.2h0M606.8 531.4h0M606.9 532.3h0M606.5 530h0M606.6 526.7h0M610.5 519.6h0M609.8 528h0M610.6 528.5h0M609.8 520.8h0M610.4 528.7h0M609.7 527.3h0M609.3 527.1h0M609.8 518.2h0M610 515.4h0M612.2 524.4h0M612.6 516.2h0M611.8 518.4h0M611.8 522.9h0M611.5 518.5h0M611.8 516.5h0M611.4 516h0M612.4 507.8h0M614 529.7h0M614.2 520.2h0M614.1 521.6h0M614.7 515.5h0M614.7 522.5h0M613.4 519.6h0M613.4 529.2h0M613.8 527.1h0M614 527.1h0M614.4 515.6h0M614.6 523.8h0M614.1 516.3h0M614.4 529.7h0M615 519.9h0M615 519h0M613.9 515.3h0M614.8 512.6h0" stroke="#984EA3" stroke-width="3.8" stroke-linecap="round"/>
<g clip-path="url(#c23)" fill="#FF7F00" stroke="#FF7F00"><use href="#ec"/></g>
<path d="M621 501.6L621 499.4M625 509.6L625 516.1M634.4 516L634.4 519.6" stroke="#FF7F00" stroke-width="3.8" stroke-linecap="round"/>
<path d="M621 479.6h0M621 485.4h0M621 491.4h0M621 499.4h0M621 501.6h0M625 509.6h0M634.4 467h0M634.4 516h0M620.7 517.5h0M620.8 521.2h0M620.7 518.1h0M621.1 517.6h0M620.6 526.7h0M621.2 523.6h0M621.1 516.6h0M621.9 525.8h0M621 521.4h0M621.1 514.4h0M621 513.3h0M624.8 525.8h0M624.7 520h0M624.5 523.4h0M625.5 519.1h0M624.8 525.6h0M625.7 522.7h0M625.3 522.3h0M624.7 518.3h0M625.9 529.8h0M624.4 518.6h0M624.9 525.1h0M624.9 522.2h0M624.5 517h0M628.1 534.9h0M627.2 532.2h0M626.8 527.8h0M627.6 529.8h0M627.4 533.6h0M628.1 527.7h0M628 526.9h0M631.8 534.8h0M631.6 532.9h0M631.1 530.4h0M631.4 529.4h0M633.3 524.5h0M634.1 528.5h0M634.2 523.6h0M634.4 526.3h0M634.9 531.7h0M634.4 528.4h0M633.4 525.7h0M633.9 522.9h0" stroke="#FF7F00" stroke-width="3.8" stroke-linecap="round"/>
<g clip-path="url(#c24)" fill="#377EB8" stroke="#377EB8"><use href="#ec"/></g>
<path d="M643 495L643 492.4M653.6 504L653.6 507.3M657 503L657 509.9" stroke="#377EB8" stroke-width="3.8" stroke-linecap="round"/>
<path d="M641.6 459.4h0M643 492.4h0M643 495h0M652 492h0M653.6 504h0M657 503h0M644.9 515.2h0M644.2 525h0M644 517.6h0M644.3 526.1h0M644.4 527h0M645.3 526.6h0M644.9 523.8h0M644.1 523.5h0M644.7 513.6h0M644.6 524.2h0M644.7 513.5h0M648.5 519.4h0M648.2 527.8h0M648 528.2h0M648.4 529.6h0M647.9 527.2h0M647.9 519h0M648.1 521.9h0M648 529.5h0M648.4 518.5h0M647 520h0M648.4 523.1h0M647.4 518.1h0M648.1 515.2h0M652.1 520.2h0M651.7 519.6h0M651 519.4h0M652.7 523.9h0M651.7 516.6h0M651.5 523h0M652.1 515.8h0M652.1 509.1h0M654.7 520.3h0M654.1 521.6h0M654.2 516.9h0M654.9 520.2h0M654.3 516.8h0M656.8 521.5h0M656.6 516.9h0M656.7 516h0M656.7 512.9h0M656.9 521.8h0M656.6 525h0M656.3 523.2h0M656.4 515.8h0M657.3 525h0M656 520.5h0M656.6 516.9h0M656.4 514.1h0M655.9 519h0M657.1 519.9h0M656.1 510.6h0M656.3 506.5h0" stroke="#377EB8" stroke-width="3.8" stroke-linecap="round"/>
<g clip-path="url(#c25)" fill="#4DAF4A" stroke="#4DAF4A"><use href="#ec"/></g>
<path d="M674.4 481.6L675 479M662.4 513L662.4 513.9" stroke="#4DAF4A" stroke-width="3.8" stroke-linecap="round"/>
<path d="M678 464.4h0M678 470h0M677.6 477.6h0M675 479h0M674.4 481.6h0M666 479.6h0M664.6 485h0M662.4 513h0M663.6 524.7h0M664.2 522h0M665.1 523.8h0M663.4 524.2h0M663.6 525.9h0M663.6 528.5h0M664.1 522h0M663.6 522h0M666.7 521.7h0M667.4 530.3h0M667.8 524.3h0M667.4 523.6h0M666.7 528.3h0M668.3 525.7h0M667.4 530.2h0M667 521.3h0M670.7 509.9h0M669.3 518h0M670.4 517.4h0M671.3 518.8h0M669.9 514h0M670.2 511.7h0M670.8 523.3h0M671.2 516.7h0M670.3 524.5h0M670.5 514.1h0M670.8 519.6h0M670.2 512h0M671.8 522.4h0M671 514.7h0M670.4 524.7h0M670.7 509.7h0M670.7 507.8h0M675.1 514.4h0M674.3 519.2h0M673.9 516.6h0M673.2 504.5h0M674.8 520.6h0M674.3 509.4h0M674.1 509h0M674.4 507.8h0M674.8 502.4h0M674.9 516.1h0M673.7 505.4h0M673.2 520h0M673.7 502.4h0M673.7 497.6h0M677.3 517.1h0M677.8 515.5h0M677.4 511.6h0M677.1 521.4h0M678.2 519.8h0M676.8 523.4h0M676.2 522.5h0M676.7 522.1h0M676.6 519.5h0M676.7 524.2h0M676.9 518h0M677.5 508.6h0" stroke="#4DAF4A" stroke-width="3.8" stroke-linecap="round"/>
<rect x="248.6" y="508" width="11" height="40" rx="2" fill="#fff"/>
<circle cx="254.6" cy="533" r="1.9" fill="#FF7F00"/>
<circle cx="247.8" cy="544" r="1.9" fill="#FF7F00"/>
<line x1="40.5" y1="445.5" x2="682" y2="445.5" stroke="#ea6a6a" stroke-width="1" stroke-dasharray="2.3 1.86"/>
<circle cx="467.6" cy="416" r="3.2" fill="#f00"/>
<circle cx="591" cy="435" r="3.2" fill="#f00"/>
<g stroke="#606060" stroke-width="1" fill="none">
<path d="M40.5 379.6V542.9"/>
<path d="M35 542.9H40.5"/>
<path d="M35 519.6H40.5"/>
<path d="M35 496.2H40.5"/>
<path d="M35 472.9H40.5"/>
<path d="M35 449.6H40.5"/>
<path d="M35 426.3H40.5"/>
<path d="M35 402.9H40.5"/>
<path d="M35 379.6H40.5"/>
<path d="M40.5 549.5H670.8"/>
<path d="M40.5 549.5v5.2"/>
<path d="M59 549.5v5.2"/>
<path d="M87.8 549.5v5.2"/>
<path d="M116.8 549.5v5.2"/>
<path d="M143.6 549.5v5.2"/>
<path d="M168.5 549.5v5.2"/>
<path d="M199.4 549.5v5.2"/>
<path d="M227.7 549.5v5.2"/>
<path d="M256.5 549.5v5.2"/>
<path d="M285 549.5v5.2"/>
<path d="M314.8 549.5v5.2"/>
<path d="M343.8 549.5v5.2"/>
<path d="M372.8 549.5v5.2"/>
<path d="M399.6 549.5v5.2"/>
<path d="M422.7 549.5v5.2"/>
<path d="M445 549.5v5.2"/>
<path d="M464.9 549.5v5.2"/>
<path d="M482.8 549.5v5.2"/>
<path d="M502.4 549.5v5.2"/>
<path d="M524.3 549.5v5.2"/>
<path d="M545.4 549.5v5.2"/>
<path d="M565.7 549.5v5.2"/>
<path d="M586 549.5v5.2"/>
<path d="M606.8 549.5v5.2"/>
<path d="M628.9 549.5v5.2"/>
<path d="M650 549.5v5.2"/>
<path d="M670.8 549.5v5.2"/>
</g>
<text transform="translate(28 542.9) rotate(-90)" text-anchor="middle" font-family="Liberation Sans" font-size="9" fill="#111" stroke="#111" stroke-width="0.2">0</text>
<text transform="translate(28 519.6) rotate(-90)" text-anchor="middle" font-family="Liberation Sans" font-size="9" fill="#111" stroke="#111" stroke-width="0.2">1</text>
<text transform="translate(28 496.2) rotate(-90)" text-anchor="middle" font-family="Liberation Sans" font-size="9" fill="#111" stroke="#111" stroke-width="0.2">2</text>
<text transform="translate(28 472.9) rotate(-90)" text-anchor="middle" font-family="Liberation Sans" font-size="9" fill="#111" stroke="#111" stroke-width="0.2">3</text>
<text transform="translate(28 449.6) rotate(-90)" text-anchor="middle" font-family="Liberation Sans" font-size="9" fill="#111" stroke="#111" stroke-width="0.2">4</text>
<text transform="translate(28 426.3) rotate(-90)" text-anchor="middle" font-family="Liberation Sans" font-size="9" fill="#111" stroke="#111" stroke-width="0.2">5</text>
<text transform="translate(28 402.9) rotate(-90)" text-anchor="middle" font-family="Liberation Sans" font-size="9" fill="#111" stroke="#111" stroke-width="0.2">6</text>
<text transform="translate(28 379.6) rotate(-90)" text-anchor="middle" font-family="Liberation Sans" font-size="9" fill="#111" stroke="#111" stroke-width="0.2">7</text>
<text transform="translate(11.2 459.3) rotate(-90)" text-anchor="middle" font-family="Liberation Serif" font-size="11.4" fill="#111">-lg(p)</text>
<text x="0.2" y="386.2" font-family="Liberation Sans" font-weight="bold" font-size="26" fill="#000">c</text>
<defs><path id="ed" d="M44 731.3L44 731.3L44.4 719.8L46 719L48 717.3L49.4 713.9L50.6 711.4L52 715.6L53.4 724L55 726.5L57 725.7L59 726.5L61 727.4L63 726.5L65 725.7L67 724L69 719L70.6 714.8L72 713.9L73.8 731.3L75 731.3L75.6 720.6L77 717.3L78.6 714.8L80 715.6L81.4 720.6L83 727.4L85 728.2L87 727.4L89 726.9L91 727.4L93 725.7L95 721.5L96.6 719L98 718.1L99.4 720.6L100.6 731.3L102 731.3L102.6 715.6L104 714.8L106 715.2L108 717.3L109.4 722.3L111 726.5L113 728.2L115 729L117 725.7L119 722.3L121 719L123 718.1L125 717.3L127 716.4L129 717.3L130.6 719L131.8 731.3L133 731.3L133.6 720.6L135 719L136.6 719.8L138 723.2L140 728.2L142 728.6L144 727.4L146 724.8L148 721.5L150 719.8L151.4 720.6L153.8 731.3L155 731.3L155.6 712.2L157 710.6L159 710.6L161 712.2L163 713.9L165 715.6L167 717.3L169 721.5L171.8 724.8L172 724.8L174 724L176 720.6L178 719L180 719.8L182.4 731.3L184 731.3L184.6 722.3L186 719.8L188 722.3L190 724L192 724.8L194 725.7L196 727.4L198 725.7L200 724.8L202 722.3L204 721.5L206 720.6L208 719L210 713.9L211.6 711.4L213 713.9L214.8 731.3L216.4 731.3L217 720.6L218 713.9L220 712.7L222 713.1L223.6 714.3L225 720.6L227 725.7L229 727.4L231 728.2L233 725.7L235 719L236.4 713.9L237.6 714.8L240 731.3L241 731.3L241.6 717.3L243 714.8L244.4 715.6L246 717.3L247.6 720.6L249 723.2L251 724L253 724.8L255 724.8L257 722.3L259 719.8L261 719L263 718.1L265 717.3L267 717.3L269 718.1L272 731.3L274 731.3L274.6 719L276 715.6L277.6 716.4L279 719L281 718.1L283 716.4L285 714.8L287 712.2L289 713.1L291 714.8L293 715.6L295 717.3L296.8 731.3L298 731.3L298.6 720.6L300 719L302 719.8L304 717.3L306 716.4L308.8 717.3L309 717.3L311 720.6L313 717.3L314.6 710.6L316 708.9L317.4 719L319 717.3L321 715.6L323 714.8L325 713.9L326.6 715.6L328.6 731.3L330 731.3L330.6 715.6L332 713.9L334 713.9L336 714.8L338 720.6L340 725.7L342 728.2L344 727.4L346 725.7L348 724L350 720.6L352 719L354 718.1L356 718.1L358 731.3L359 731.3L359.6 719L361 717.3L362.6 716.4L364.6 718.1L366.6 719L368.6 719.8L371 720.6L373 719L375 716.4L377 713.9L378.6 712.2L380 714.8L382 717.3L384 717.3L387 731.3L388 731.3L388.6 719.8L390 719L391.4 724L393 726.5L395 727.4L397 726.5L398.6 719L400.6 718.1L403 718.1L405 718.1L407 717.3L409 719L411 720.6L412.6 731.3L413.4 731.3L414 719L415 716.4L416.6 716.4L418 719L420 720.6L422 721.5L424 720.6L426 718.1L428 714.8L429.4 713.9L431 716.4L433 731.3L434 731.3L434.6 717.3L436 714.8L437.4 715.6L439 719L441 720.6L443 721.5L445.8 722.3L446 719L448 718.1L450 717.3L452 717.7L454 718.1L455.6 731.3L457 731.3L457.6 718.1L459 717.3L461 718.1L463 717.3L465 715.6L467 713.9L469 712.2L470.4 710.6L471.6 712.2L472.8 731.3L474 731.3L474.6 724L476 722.7L477.6 723.2L479 724L480.4 727.4L482 729L484 727.4L486 722.3L488 721.5L489.6 722.3L491.6 731.3L493 731.3L493.6 719L495 717.7L497 717.3L499 717.3L501 719L503 722.3L505 722.3L507 719L509 717.3L510.4 716.4L511.6 717.3L512.8 731.3L514 731.3L514.6 719L516 717.3L517.6 718.1L519 720.6L521 724L523 724.8L525 722.3L527 718.1L529 716.4L531 715.6L532.4 717.3L535.2 731.3L536.4 731.3L537 715.6L538.4 712.2L540 711L542 710.6L544 710.1L546 712.2L548 715.6L550 717.3L552 719L554.8 731.3L555.6 731.3L556.2 719L557.6 717.3L559 718.1L561 723.2L563 724L565 722.3L567 719L569 717.3L571 715.6L573 714.8L575 715.6L576.8 731.3L578.4 731.3L579 719L581 717.3L582.8 715.6L583 708.9L585 710.6L587 712.2L589 713.9L591 715.6L593 717.3L595.2 731.3L596 731.3L596.6 717.3L598 715.6L599.6 716.4L601 717.3L603 719L605 722.3L607 720.6L609 717.3L611 715.6L613 717.3L615 722.3L617.2 731.3L618 731.3L618.6 717.3L620 715.6L621.6 716.4L623.6 719L625.6 722.3L627.6 725.7L629.6 720.6L631.6 717.3L633.6 716.4L635.6 716.4L637.6 719L639.6 731.3L640.4 731.3L641 720.6L642.4 719L644 719L646 720.6L648 719L650 715.6L651.6 713.9L653.6 712.2L655.6 713.1L657 715.6L659.2 731.3L660.4 731.3L661 720.6L662.4 719.8L664 722.3L666 724L668 724.8L670 724L672 720.6L674 716.4L676 713.9L678 715.6L679.6 719L680.8 731.3L680.8 731.3Z" stroke-width="3.8" stroke-linejoin="round"/></defs>
<g clip-path="url(#c0)" fill="#377EB8" stroke="#377EB8"><use href="#ed"/></g>
<path d="M49 684L50.6 680M50.6 680L50.6 683.9M64 712.4L64 718.9M71.4 686L71.4 690.8M69.4 694L69.4 699.4" stroke="#377EB8" stroke-width="3.8" stroke-linecap="round"/>
<path d="M45.4 685.6h0M49 684h0M50.6 680h0M61 711.6h0M64 712.4h0M70.6 699.6h0M71.4 686h0M69.4 694h0M46.9 715.2h0M47.6 714.6h0M45.9 717h0M45.7 717.7h0M47.3 709.3h0M46.7 705.4h0M46.4 715.9h0M46.6 707h0M47.2 711.8h0M46.9 704.4h0M46.6 703.6h0M50.3 697h0M50.4 707h0M49.8 704.1h0M48.9 705.1h0M50.3 706.1h0M48.9 708.4h0M50.5 711.7h0M49.9 706.4h0M49.6 705.7h0M50.3 705.4h0M49.9 696.1h0M53.4 706.7h0M52.5 717.3h0M53.1 717.9h0M52.8 713h0M52.7 709.6h0M51.7 710.6h0M53.2 706.9h0M52.5 710h0M53.1 709.9h0M52.2 715.1h0M52.6 707.9h0M52.9 706.2h0M54.6 720.7h0M56 723.1h0M55.7 723h0M55.3 721.8h0M55.8 724.9h0M55.8 723.7h0M55.5 719.8h0M59.5 721.1h0M59.5 726.6h0M58.8 725.8h0M59.2 724.5h0M59.8 725.3h0M59.8 720.8h0M61.9 726.5h0M62.9 726.5h0M61.8 721.4h0M62.1 725.4h0M62.1 725.7h0M61.9 720.8h0M62.8 718h0M64.9 723.1h0M66 720.6h0M65.2 720.3h0M69.2 708.7h0M69.5 716.8h0M68.3 713.3h0M68.6 710.7h0M68.6 704.7h0M68.9 718.3h0M68.9 707.6h0M68.8 718.8h0M68.3 704.5h0M68.1 714.1h0M69.2 710.4h0M68.9 709.9h0M69.6 714.9h0M69.2 718h0M68.5 702.9h0" stroke="#377EB8" stroke-width="3.8" stroke-linecap="round"/>
<g clip-path="url(#c1)" fill="#4DAF4A" stroke="#4DAF4A"><use href="#ed"/></g>
<path d="M80 670L78 668M77.4 672.4L78 668M78.6 689L78.6 691.9" stroke="#4DAF4A" stroke-width="3.8" stroke-linecap="round"/>
<path d="M80.6 656h0M80.6 662.6h0M78 668h0M80 670h0M77.4 672.4h0M80.6 682.4h0M78.6 689h0M96.6 683.6h0M98.6 693h0M83 728h0M77.6 704h0M78.1 708h0M77.4 715.3h0M77.8 704.1h0M77.5 710h0M77.2 712.3h0M77.7 705.5h0M78.2 713.6h0M77.2 709.8h0M77.7 701.9h0M80 702.8h0M80.1 707.9h0M78.6 704.4h0M79.1 700.3h0M79.6 707.4h0M79.1 714.1h0M79.5 713.8h0M79.1 706h0M79.5 702.6h0M79.1 700.1h0M79.3 699.6h0M83 723.3h0M82.8 722.6h0M83.6 725h0M81.9 722h0M85.5 726.2h0M86.7 725.2h0M85.9 724.8h0M86.2 725.3h0M85.9 723.3h0M86.1 723.3h0M88.8 723.7h0M90.2 722.6h0M89.7 723.1h0M89.2 722.4h0M89.8 722h0M92.5 722.9h0M92.6 725.8h0M92.7 721.6h0M92.9 721.5h0M95.6 720.2h0M95 712.5h0M94.8 711.2h0M95.5 711.1h0M95.4 709.3h0M95.6 713.2h0M97.2 718.9h0M95.2 715.8h0M96.3 711.6h0M95.8 713.7h0M95.6 717.1h0M95.8 706.9h0" stroke="#4DAF4A" stroke-width="3.8" stroke-linecap="round"/>
<g clip-path="url(#c2)" fill="#984EA3" stroke="#984EA3"><use href="#ed"/></g>
<path d="M121 698.4L121 701.9M118 708L118 713.9M117 717.6L117 717.9M112.6 716L112.6 723.1M114 723L114 724.9" stroke="#984EA3" stroke-width="3.8" stroke-linecap="round"/>
<path d="M106.6 682.4h0M127.6 672.4h0M127.4 683.6h0M124.6 686h0M121 698.4h0M118 708h0M117 717.6h0M112.6 716h0M114 723h0M104.1 714.1h0M104.4 709.1h0M104.9 701.5h0M105.4 712.6h0M104.7 713.9h0M104.3 710.5h0M104.1 701.9h0M104.6 700.4h0M104.9 698.8h0M107.8 703.9h0M108.7 709.9h0M108.8 710.7h0M109 701.3h0M107.3 709.6h0M107.7 701.8h0M108.1 702.4h0M107.6 700.3h0M107 702.5h0M107.2 706.1h0M108.3 711.4h0M108.1 701.1h0M108.3 703.3h0M109 714.7h0M108.2 702.8h0M107.9 699.8h0M112.4 723h0M112.4 727.2h0M111.8 723.5h0M111.9 726.9h0M111.8 722.3h0M115.2 727.1h0M115.1 727.3h0M115.1 728.7h0M115.1 725.7h0M117.9 721.7h0M117.5 717.2h0M117.6 720.9h0M118 721h0M117.2 722h0M117.9 716.9h0M120.2 714.7h0M120.7 719.3h0M120.8 713.8h0M120.6 711.3h0M120.3 712.6h0M121.1 709.9h0M124.1 711.5h0M124.2 707.2h0M124.5 707.5h0M123.7 710.3h0M124.6 713.3h0M123.8 707.1h0M126.4 715.7h0M125.1 707.1h0M125.4 710.1h0M126.6 713.1h0M125.6 701.7h0M125.8 714.6h0M126.5 706.8h0M126.7 713.4h0M126.4 709.9h0M126.9 704.5h0M125.7 708.7h0M126.2 714.9h0M126.2 708.5h0M126.1 701.8h0M126 698.3h0M126.1 702.7h0M126.1 698h0M127.5 705.9h0M128.2 706h0M126.9 712.5h0M128.1 710.4h0M128.8 711.7h0M127.8 712.5h0M128.2 713h0M129 711.5h0M127.6 716.6h0M128.3 704.4h0M128.3 709.1h0M128.5 711.6h0M129.5 711.8h0M128.7 711.8h0M128.1 713.1h0M128.6 699h0M128.6 698h0" stroke="#984EA3" stroke-width="3.8" stroke-linecap="round"/>
<g clip-path="url(#c3)" fill="#FF7F00" stroke="#FF7F00"><use href="#ed"/></g>
<path d="M136 679h0M136 684.4h0M136 689.6h0M150.6 682.4h0M135.7 716.5h0M135.6 719h0M135.1 715.3h0M135.1 717.3h0M136.3 714.8h0M136 708.4h0M135.1 717.7h0M135.6 707h0M135.2 710.6h0M135.7 707.6h0M136 705.8h0M135.1 705.2h0M137.4 716h0M137.9 712.6h0M137.4 714.5h0M138.6 713.9h0M136.6 717.3h0M138.1 712.9h0M137.8 720.8h0M137.6 715h0M138 720.9h0M138 712.4h0M137.7 710.7h0M141.8 727.2h0M141.6 726h0M144.9 724h0M144.2 726.3h0M144 721.4h0M144.6 721.2h0M144.8 724.4h0M144.2 720.9h0M145.7 716.3h0M147.6 713.5h0M147 720.4h0M148.1 716.5h0M147.7 713.4h0M147.5 722.1h0M147.8 715.5h0M147.4 722.2h0M147.6 717.9h0M147.6 720.4h0M148 718.5h0M147.6 710.5h0" stroke="#FF7F00" stroke-width="3.8" stroke-linecap="round"/>
<g clip-path="url(#c4)" fill="#377EB8" stroke="#377EB8"><use href="#ed"/></g>
<path d="M162 680L162 687.9M167.4 694L167.4 699.9M178.4 688L177.6 683.6M177 693L178.4 688M179 697L177 693M179 697L179 702.9" stroke="#377EB8" stroke-width="3.8" stroke-linecap="round"/>
<path d="M158 671.6h0M161 671h0M162 680h0M166.6 677h0M168 685h0M167.4 694h0M170 712h0M177.6 677.4h0M177.6 683.6h0M178.4 688h0M177 693h0M179 697h0M157.3 696.4h0M157.8 704h0M157.4 701h0M157.5 701.1h0M157.7 706.5h0M157.5 707.3h0M157.5 691.6h0M157.5 693.5h0M157.3 698.3h0M157.3 697.4h0M157.2 706.8h0M159 696.7h0M157.9 706.2h0M157.9 706.8h0M158 688.5h0M160.4 696.3h0M159.4 696h0M160.2 705.3h0M160.6 701.4h0M159.8 692.5h0M160.1 704h0M160 695.2h0M159.2 705.9h0M159.7 701.1h0M159.6 706.8h0M160.3 710.8h0M160.4 695.1h0M160.2 702.1h0M159.9 706.6h0M160.2 701.5h0M159.8 690.1h0M159.3 707h0M159.7 687.9h0M163.6 695.7h0M163.4 702.6h0M163.8 697.1h0M164.1 696h0M164.6 701.1h0M164.4 711.7h0M163.6 700.5h0M162.6 704.1h0M163.6 694.4h0M163.7 709.9h0M163.6 699.8h0M164.1 704.6h0M162.8 701.7h0M164.6 714.2h0M163.1 699.7h0M164.8 712h0M163.6 694.3h0M164 682.3h0M167.4 710.5h0M166.9 705.5h0M166.3 711.8h0M167 702.7h0M167 713.9h0M167.1 707.8h0M167.7 710.5h0M166.5 712.9h0M166.8 707h0M167.2 710.4h0M167.1 701.8h0M170.1 716.1h0M170.1 715.1h0M170.6 718h0M170.4 715.6h0M170.6 720.1h0M170.3 722.7h0M170.2 714.5h0M170.6 714.3h0M174.6 719.7h0M173.9 717.5h0M174.9 714.3h0M174.6 717.4h0M174.1 720.9h0M174.9 721.3h0M173.7 720.5h0M174.6 717.1h0M174.3 718.7h0M174.3 713.4h0M177.2 710.7h0M177.2 718.1h0M176.6 720.1h0M175.9 710.9h0M176.5 706.7h0M177.1 719.9h0M175.7 711h0M176.7 711.1h0M176.7 713.8h0M176.5 719.3h0M177.3 708h0M176.5 715.1h0M176.9 706.3h0M176.2 705.6h0M176.1 702.8h0M179.3 714.4h0M179.5 712.5h0M177.8 707h0M178.9 711.6h0M179.3 709.6h0M177.8 709.1h0M178.4 715.4h0M178.2 717.1h0M179 718.4h0M179.2 705.9h0M179.4 707.2h0M179.4 706h0M179.1 708.2h0M179.4 710h0M177.9 709h0M179 703.5h0" stroke="#377EB8" stroke-width="3.8" stroke-linecap="round"/>
<g clip-path="url(#c5)" fill="#4DAF4A" stroke="#4DAF4A"><use href="#ed"/></g>
<path d="M186.4 700L186.4 705.1M203 689L203 685M205 690L203 689M203 695L205 690M212 673L212 669" stroke="#4DAF4A" stroke-width="3.8" stroke-linecap="round"/>
<path d="M185.6 659h0M186 692h0M186.4 700h0M189.6 704h0M198 705h0M203 685h0M205 685h0M203 689h0M205 690h0M203 695h0M211.6 647h0M211.6 657.4h0M212 669h0M212 673h0M210.4 694h0M186.6 714.5h0M185.6 707.7h0M186.5 715h0M186.8 718.1h0M186.2 718.2h0M185.9 708.6h0M185.8 716.4h0M185.6 708.5h0M186.8 715.6h0M187.3 708.1h0M187.1 706.6h0M186.2 703.1h0M188.6 716.5h0M188.7 722.5h0M189.6 718h0M188.5 719.1h0M188.4 720.3h0M188.1 719.8h0M187.8 721.5h0M188.3 719.1h0M187.8 711.9h0M189.8 721.5h0M188.5 711.7h0M191.4 722.6h0M191.2 723.5h0M191.5 721.2h0M190.9 719h0M191.7 718.5h0M193.5 724.1h0M194.9 721.3h0M193.6 721.5h0M193.4 720.3h0M193.5 718.6h0M197.4 721.5h0M196.9 725h0M196.1 721.9h0M197.4 721.3h0M200.4 717.1h0M200.6 719.3h0M200 722.7h0M199.5 723.1h0M200.6 719.6h0M201 721.4h0M199.5 716.6h0M203.3 720.1h0M203.3 719.8h0M203.5 712.6h0M203.7 712.4h0M203 720.3h0M203.3 712.3h0M202.9 721.3h0M204.8 719.9h0M203.1 720.2h0M203.2 709.3h0M204.3 718.3h0M203.4 720.9h0M203.6 708.6h0M206.6 712.2h0M206.7 719.3h0M206.7 714.3h0M207 714.2h0M206.7 714h0M206.6 710.2h0M206.7 709.2h0M211.3 694.2h0M209.9 702.5h0M210.2 702.5h0M211.9 696.5h0M210.7 699.1h0M210.3 710.4h0M211.1 702.3h0M210.1 698.9h0M211.1 692.6h0M210.7 699.4h0M210.3 699.7h0M211.2 698h0M210.6 698.9h0M211.4 697.5h0M210.5 693.2h0M211.1 695.2h0M210.7 690.9h0M210.6 690.9h0" stroke="#4DAF4A" stroke-width="3.8" stroke-linecap="round"/>
<g clip-path="url(#c6)" fill="#984EA3" stroke="#984EA3"><use href="#ed"/></g>
<path d="M236.4 684L237 679.4M236.4 684L236.4 689.9M223 684L223 689.8" stroke="#984EA3" stroke-width="3.8" stroke-linecap="round"/>
<path d="M220 661.6h0M223 674.6h0M237 679.4h0M236.4 684h0M223 684h0M220 688h0M218.9 712.3h0M219.4 703.5h0M219.8 697.2h0M219.8 707.2h0M219.5 707.6h0M219.7 708h0M218.8 696.2h0M219.2 703h0M219.5 703.7h0M219.6 712.9h0M218.9 695.6h0M219.6 694.3h0M223.2 696.4h0M222.3 706h0M222 708.6h0M220.9 694.4h0M221.8 707.4h0M222.6 703.5h0M222.3 706.6h0M222.5 697.5h0M222.7 703.4h0M222.7 703h0M222.3 700.4h0M222.4 706.7h0M222.7 702.6h0M222.2 700.7h0M223.2 694.9h0M221.5 707.3h0M222.8 691.9h0M224.8 719.1h0M224.6 718.4h0M224.8 720.2h0M225 713.9h0M224.9 711.7h0M225.6 718.2h0M224.1 714h0M224.4 716.3h0M225.2 720.4h0M225.4 708.3h0M229.4 723.7h0M228.1 723.9h0M229.1 724.6h0M228.3 723.3h0M228.4 722.1h0M231.1 725.6h0M232.1 722.7h0M231.1 724h0M231.6 726.5h0M231.5 727.3h0M231.4 722.5h0M231.3 719.3h0M233.8 715.9h0M233.7 718.9h0M234.7 714.7h0M234 722.4h0M233.4 713h0M234 718.5h0M233.4 714.7h0M233.7 718.9h0M233.2 717.2h0M234 714.3h0M233.5 720.9h0M234.3 711h0M238 708.1h0M238.7 711.1h0M237.5 692.3h0M237.5 694.9h0M237.1 701.8h0M238.6 692.7h0M236.7 711.7h0M237.9 693.9h0M238.3 710.9h0M237.7 692.8h0M237.2 696.2h0M236.9 693h0M237.2 704.3h0M238 703h0M237.9 709.1h0M238.1 710.6h0M238.8 706.9h0M238 712.6h0M237.1 696.3h0M237.6 705.6h0M237.7 708.4h0M237.8 696.6h0M237.5 692.2h0" stroke="#984EA3" stroke-width="3.8" stroke-linecap="round"/>
<g clip-path="url(#c7)" fill="#FF7F00" stroke="#FF7F00"><use href="#ed"/></g>
<path d="M245.4 679L246.4 677M245.4 684L245.4 679M260 700L260 702.9M268.4 692.4L268.4 699.3M247.6 701L247.6 705.9" stroke="#FF7F00" stroke-width="3.8" stroke-linecap="round"/>
<path d="M245.4 655.4h0M245.4 669h0M246.4 677h0M245.4 679h0M245.4 684h0M260 700h0M268.4 692.4h0M247.6 701h0M244.1 715.2h0M244.5 714.6h0M243.7 711.5h0M244.3 706.5h0M243.9 712.2h0M243.6 708.2h0M244 706h0M244.6 701.8h0M247 713.4h0M247.5 718.1h0M247.9 711.8h0M246.9 711.9h0M246.9 717.7h0M247.6 710.1h0M250.7 717.4h0M251.2 714.6h0M250.8 716.7h0M250.6 723.6h0M251.2 714.5h0M250.7 715h0M250.5 716.3h0M250.1 723.6h0M250.3 714.1h0M254.8 720.9h0M253.7 723h0M254.2 718.1h0M253.7 723h0M254.4 718.9h0M254.2 717.5h0M257.8 720.6h0M257.2 713.3h0M257.7 719.4h0M258.4 719.9h0M257.8 714.8h0M258.1 712.8h0M258.1 711.2h0M260.5 715.7h0M262.6 717.7h0M261.6 716.8h0M261.5 717.9h0M261.3 709.3h0M264.7 704.8h0M263.5 705.3h0M265.3 711.9h0M264.3 712.5h0M265.4 706.1h0M265.9 712.3h0M265.1 714.1h0M264.6 706.7h0M263.8 707.7h0M264.4 703h0M266.3 708.9h0M266.7 715.7h0M266.9 710.2h0M266.5 706.7h0M267.2 707.5h0M266.9 706.3h0M266.8 713.4h0M267.2 711.1h0M266.9 704.2h0M269.1 712.9h0M268.8 707.5h0M269.4 712.9h0M269 707.3h0M269.6 706.5h0M269.6 718.1h0M269.5 710.2h0M268.3 713h0M269.6 706.6h0M269.5 711.5h0M269 711.6h0M268.5 704.8h0M268.4 714.9h0M269 703.8h0M269.9 715.8h0M268.6 708.7h0M269.2 702.1h0M269.3 700.2h0" stroke="#FF7F00" stroke-width="3.8" stroke-linecap="round"/>
<g clip-path="url(#c8)" fill="#377EB8" stroke="#377EB8"><use href="#ed"/></g>
<path d="M277.6 677L277 672.4M277.6 681.6L277.6 677M288 680L288 686.9M290 686L290 689.9M281 693L281 699.9" stroke="#377EB8" stroke-width="3.8" stroke-linecap="round"/>
<path d="M292.6 652.4h0M288 666.4h0M293 666.4h0M293.6 673h0M277 672.4h0M277.6 677h0M277.6 681.6h0M288 680h0M290 686h0M281 693h0M275.9 714.3h0M276.8 712.7h0M276.6 706.6h0M276.5 706.8h0M276.8 699.9h0M276.7 708.8h0M276.3 709.2h0M276 709.9h0M276.2 705.6h0M276.8 710.3h0M277 714.3h0M276.4 699.3h0M279.4 706.9h0M278.5 709.5h0M279.2 711h0M279.5 710.1h0M279.3 717.9h0M279.5 717.7h0M280.2 716.7h0M279.3 714.9h0M279.2 712h0M279.7 715.9h0M279.4 704.4h0M282.1 714.6h0M281.6 702.4h0M282.1 704h0M283.6 714.9h0M282.9 716.1h0M282.4 714.1h0M281.9 714.4h0M283.2 703.8h0M282.9 716.4h0M283 701.6h0M286.2 703.2h0M285.8 713.3h0M286 705.6h0M285.7 702.4h0M285.8 696.3h0M285.8 708.3h0M286.2 701.2h0M285.9 702.6h0M286.7 712.5h0M286.4 711h0M285.9 711.4h0M285.8 701.4h0M286.2 695.1h0M289.2 697h0M287.7 691.7h0M287.6 702.1h0M287.4 696.9h0M287.4 693.6h0M287.5 707.8h0M288 709.6h0M288.5 705.6h0M287.9 696.3h0M288.2 711.8h0M288.3 690.9h0M288.5 701.4h0M287.9 710.2h0M288.7 687.2h0M287.6 696.9h0M287.9 689h0M288.1 696.6h0M287.5 699.5h0M288.2 702.7h0M288 687.3h0M289.2 706.9h0M287.9 702.7h0M288.8 694.4h0M287.5 696.7h0M288.3 689.5h0M288 686.9h0M289.5 708.3h0M290.4 705.1h0M290.7 703.8h0M290.6 708.8h0M290 703.5h0M290.9 707.9h0M290.6 701.7h0M293.5 704.8h0M293.9 716.2h0M294.1 716h0M293.7 712.8h0M293.5 707.5h0M294.1 708.5h0M294.2 704.7h0" stroke="#377EB8" stroke-width="3.8" stroke-linecap="round"/>
<g clip-path="url(#c9)" fill="#4DAF4A" stroke="#4DAF4A"><use href="#ed"/></g>
<path d="M305.6 692L305.6 696.3M302 700L302 703.9M315.4 674L315 671.6M315.4 674L315.4 679.6M325 685L324.6 680M325 685L325 689.9M310 696L310 701.9" stroke="#4DAF4A" stroke-width="3.8" stroke-linecap="round"/>
<path d="M305.6 692h0M302 700h0M315.4 664h0M315 671.6h0M315.4 674h0M322.6 671.6h0M324.6 671.6h0M324.6 680h0M325 685h0M310 696h0M310.6 706h0M300.2 713.9h0M300.4 717.8h0M300.2 709.5h0M300.9 705.8h0M300.6 707.5h0M300.4 706.3h0M299.7 705.9h0M299.6 713h0M299.9 704.4h0M300.6 704.5h0M300.1 715.5h0M300.3 710.7h0M300.6 709.2h0M300.7 703.6h0M303.8 713.7h0M304.2 704.9h0M303.9 716.2h0M303.1 701.4h0M303.6 711.9h0M303.6 714h0M303.8 710.9h0M303.5 711.1h0M304.3 711.2h0M304 708.7h0M303.8 702.8h0M304.1 713.8h0M304 701.3h0M306.6 716h0M305.9 715.9h0M305.8 708.4h0M305.9 711.6h0M306.4 706.9h0M305.5 714.3h0M304.4 714.5h0M305.7 710.1h0M305.9 702.3h0M309.7 717.8h0M309.4 707.1h0M309.3 713.2h0M310.9 711.7h0M309.8 716.6h0M309.5 708.8h0M309.5 711.5h0M309.7 706.7h0M311.7 708.1h0M313 705.3h0M312.3 709.7h0M313 715.1h0M311.8 717.8h0M312.9 709.8h0M312.2 715.1h0M312.9 704.6h0M313.3 704.5h0M316 692.7h0M317.1 685.6h0M316.3 708.3h0M316.2 685.4h0M316.4 705.6h0M316 693h0M316 688.7h0M317 692h0M315.6 704.6h0M315.9 698.9h0M316.3 690.1h0M317 692.3h0M316 690.4h0M317 702.8h0M316.4 693h0M317.1 696.9h0M316.8 701.7h0M315.6 697.2h0M316.4 693.7h0M315.9 695.8h0M316.2 694.9h0M315.6 688.1h0M316.2 689.1h0M316.3 690.5h0M316.5 684.2h0M319.6 702.4h0M319.9 716.9h0M319.5 703.3h0M319.5 710.2h0M319.2 713h0M319 712.3h0M319 707h0M319.3 712.6h0M318.6 712.4h0M319.3 701.2h0M319 708.2h0M319.2 703.7h0M319 700.4h0M318.8 696.9h0M321.1 702.4h0M321.4 704.9h0M320.9 709.8h0M321.4 707.5h0M320.9 707.5h0M320.4 707h0M321.2 708.5h0M321.6 701.8h0M324.5 707.2h0M324.9 701.9h0M324.2 695.9h0M324.8 707.5h0M325.3 713.5h0M325.4 711.2h0M324.9 711.2h0M324.8 706.8h0M326 694.3h0M325.9 695.3h0M325.9 701.4h0M325.2 711.3h0M326.1 709.8h0M325.3 703h0M325 700.6h0M324.3 700.3h0M325 693.6h0" stroke="#4DAF4A" stroke-width="3.8" stroke-linecap="round"/>
<g clip-path="url(#c10)" fill="#984EA3" stroke="#984EA3"><use href="#ed"/></g>
<path d="M335 658L335 654.4M336 687L336 691.9M354 692.6L354 699.9M352 695.6L354 692.6M352 695.6L352 701.9" stroke="#984EA3" stroke-width="3.8" stroke-linecap="round"/>
<path d="M335 654.4h0M335 658h0M331.6 680.6h0M336 687h0M345 692.4h0M345 698h0M348 701.6h0M345 708h0M354 692.6h0M352 695.6h0M332 702.1h0M331.6 700.3h0M331.8 712.1h0M332.6 701.3h0M332.6 696.3h0M331.7 698.2h0M332.3 696.7h0M332.6 709.9h0M331.9 694.9h0M332.4 695.9h0M332.2 707.6h0M333.1 699.5h0M332.1 697h0M332.3 694.7h0M335.7 694.8h0M334.3 698.7h0M334.9 702.1h0M335 694.3h0M334.9 700.8h0M335.1 701.9h0M335.2 711.9h0M334.8 710.3h0M335.3 697.7h0M334.6 697.2h0M334 693.6h0M335.3 693.7h0M334.7 707.3h0M335.3 710.1h0M336.1 711h0M335.7 711.9h0M335 693.6h0M335.3 690.7h0M336.9 704.5h0M337.6 705.5h0M336 711.2h0M337.1 709.1h0M337.6 714.8h0M336.9 714.5h0M336.7 706.6h0M336.9 706.3h0M336.2 717.9h0M337.2 706.8h0M337 703h0M337.7 700.4h0M339.3 721.7h0M339.6 721.6h0M339.5 718.7h0M339.4 718.4h0M339.3 717.2h0M342.2 725.3h0M343 725.2h0M342.6 727.7h0M342.2 724.3h0M343 723.3h0M346.5 723.3h0M346.6 722.5h0M346.3 720.4h0M345.8 723.7h0M346.7 719.2h0M349.5 720.6h0M349 717.2h0M349.9 713.7h0M349.9 719.2h0M350.2 720.8h0M349.7 712.7h0M354.4 704.8h0M354.4 716.5h0M354.1 718.3h0M353 707.5h0M353.8 705.4h0M352.5 713.6h0M352.5 704.3h0M354.1 714.2h0M352.8 708.9h0M352.8 712.1h0M353.2 702.5h0M354 708.9h0M354 707.1h0M353.3 717h0M353.2 701.8h0" stroke="#984EA3" stroke-width="3.8" stroke-linecap="round"/>
<g clip-path="url(#c11)" fill="#FF7F00" stroke="#FF7F00"><use href="#ed"/></g>
<path d="M363 685L364.6 681.6M378 680L378 687.4M377 685.6L377 689.9M369 701L369 704.2" stroke="#FF7F00" stroke-width="3.8" stroke-linecap="round"/>
<path d="M379 649h0M364.6 669.6h0M378.6 666.4h0M364.6 681.6h0M363 685h0M378 680h0M377 685.6h0M373.4 692h0M369 701h0M361.9 714.9h0M362.2 714.4h0M362.4 708.4h0M361.4 706.3h0M361.2 709h0M361.1 708.9h0M361.9 704.7h0M365.5 716.3h0M364.8 709.5h0M364.6 710.9h0M365 715h0M364.8 711.3h0M364.3 718h0M364 706.9h0M367.6 716.4h0M366 703.2h0M367.1 716.5h0M366.9 710.2h0M366.6 705.9h0M367.4 712.3h0M367.1 715.8h0M367 705.6h0M367.3 709.9h0M366.8 706.6h0M366.6 708.7h0M366.3 717h0M367.2 709.3h0M367.1 714.5h0M367 714.2h0M367.5 711.1h0M367.2 702.4h0M369.3 711.7h0M368.3 718.2h0M369.4 710.6h0M369.5 711.9h0M368.3 718.9h0M368.1 709.6h0M369 711.9h0M369 706.5h0M368.6 716.1h0M369.6 706.6h0M369.6 715.9h0M369 708.1h0M368.8 705.7h0M372.4 705.6h0M371.3 715.7h0M372.4 717.5h0M372.4 712.7h0M372.4 709.6h0M372.9 706h0M372.2 716.2h0M372.8 706h0M372.4 710.2h0M372.9 705.7h0M372.8 717.3h0M372.5 705.4h0M374.4 706.8h0M373.6 715.3h0M374.1 707.2h0M373.8 703.1h0M373.6 708.8h0M374.8 710.6h0M373.2 699.8h0M375.1 704.8h0M374.5 707.4h0M374.4 702.4h0M375.1 714.6h0M374.7 705.4h0M374.9 703.1h0M374.2 706.8h0M374.5 699.3h0M377.4 707.9h0M376.1 712.3h0M377.4 705.3h0M377.2 705.8h0M377.4 713h0M377.2 704.5h0M377.3 708.1h0M377.5 699.1h0M376.6 712.5h0M376.5 710.9h0M377.5 707.9h0M377.4 709.3h0M376.8 695.2h0M381.2 715.3h0M381.1 714.2h0M381.1 712.1h0M380.6 708.4h0M380.7 710.7h0M380.5 703.3h0M381.4 708.8h0M381.3 702.8h0M381.3 704.7h0M381.2 701.5h0" stroke="#FF7F00" stroke-width="3.8" stroke-linecap="round"/>
<g clip-path="url(#c12)" fill="#377EB8" stroke="#377EB8"><use href="#ed"/></g>
<path d="M389.8 670L389.4 669M389.6 690L389.6 687M407 695L407 697.9" stroke="#377EB8" stroke-width="3.8" stroke-linecap="round"/>
<path d="M389.4 656h0M389.4 669h0M389.8 670h0M390 681.6h0M389.6 687h0M389.6 690h0M404.6 677h0M404.6 682.4h0M407 695h0M390 705.2h0M389.2 713.8h0M389.3 706.4h0M390.4 716h0M390 715.1h0M389.8 707.7h0M389.7 706.7h0M390 716.3h0M388.7 708h0M389.8 713.2h0M389.8 714.1h0M389.7 714.9h0M389.8 708.5h0M389.8 703.8h0M392.7 720.7h0M392.8 725.9h0M392.5 723.5h0M392.9 724.2h0M392.6 723.1h0M392.8 724.5h0M392.8 719.4h0M395.7 727h0M394.5 725.5h0M395.7 723.9h0M395 720.9h0M397.4 719.6h0M397.8 717.2h0M397 709.5h0M398.2 717.8h0M397.1 713.7h0M397.8 713.9h0M397 712.2h0M397.6 712.5h0M398.9 720.6h0M397.3 709.5h0M397.4 717.6h0M397.8 719.9h0M397.8 713.7h0M398.1 708.5h0M398 704.7h0M401.6 717.3h0M401.5 713.5h0M401.9 703.2h0M401.3 716.1h0M401.5 716.2h0M401.5 708.1h0M402.3 702.5h0M402.2 706.5h0M401.6 706.9h0M401.4 710.2h0M402.6 712.4h0M402.4 704.6h0M402.2 703.7h0M401.8 706.3h0M402.1 701.6h0M401.2 699.3h0M403 715.8h0M404.1 705.8h0M404.1 705.1h0M403.7 704.9h0M403.7 701.4h0M403 702h0M404.1 700.8h0M403.4 711.5h0M403.3 711.6h0M403.1 716.3h0M404.4 717h0M403.6 713.4h0M403.7 701h0M403.4 707.1h0M403.9 714.5h0M403.7 700.7h0M404.4 700.4h0M403.9 699.4h0M407.2 715.8h0M406.4 713.1h0M407.4 711.5h0M407.7 714.9h0M406.8 710.4h0M407.2 709.3h0M406.9 716.7h0M406.2 707h0M406.9 712.3h0M406.9 703.6h0M406.1 700.4h0M407.3 701.2h0M407.9 705.2h0M407 703.1h0M407.7 717.1h0M406.9 702.2h0M406.6 700.6h0M407 698.9h0" stroke="#377EB8" stroke-width="3.8" stroke-linecap="round"/>
<g clip-path="url(#c13)" fill="#4DAF4A" stroke="#4DAF4A"><use href="#ed"/></g>
<path d="M416.6 691L416.4 686M416.6 691L416.6 695.9M429.4 686L429.4 689.9M419 702L419 703.9" stroke="#4DAF4A" stroke-width="3.8" stroke-linecap="round"/>
<path d="M416.4 674.4h0M416.4 680h0M416.4 686h0M416.6 691h0M429.4 686h0M419 702h0M426 704h0M415.9 696.6h0M414.9 707.4h0M416.6 716.2h0M415.2 701.6h0M415.3 702.2h0M416.6 698.8h0M416 702.8h0M415.5 708.6h0M415.5 713.6h0M416.7 712.5h0M416.2 696.5h0M416.3 705.6h0M415.6 701.2h0M415.7 709.7h0M415.5 716h0M415.5 716.4h0M416.1 699.8h0M415.2 708.6h0M416.2 696.8h0M415.9 698.9h0M416.3 696h0M416 695.9h0M418.9 710.4h0M418.5 717.1h0M419 714.1h0M419.5 712h0M418.2 710.5h0M418.8 711.4h0M418.5 709.5h0M422.9 718.4h0M422.1 716.6h0M422.4 718.1h0M423 715.6h0M422.7 713.3h0M424.6 717.5h0M424.4 706.9h0M425.4 708h0M424.9 713.7h0M424.5 718.2h0M424.2 719.1h0M424.5 712.6h0M425.1 717.3h0M424.2 712h0M424.2 711h0M424.2 706.8h0M425.1 705.7h0M427 709.2h0M427.5 710.7h0M427.4 715.2h0M427.3 702.9h0M427.6 705h0M428.1 714.2h0M426.7 704.2h0M428.7 701.6h0M427.4 702.3h0M427.3 708.9h0M426.6 715.8h0M426.8 708.1h0M427.7 711h0M427.8 697.8h0M429.8 708.6h0M429.1 700.1h0M428.3 708.6h0M428.8 705.3h0M429.6 713.3h0M429.7 707.7h0M429.7 708.3h0M429.6 702.9h0M429.2 698.7h0M432.2 725.3h0M432.2 725.2h0M432.5 723.5h0M432.3 725.8h0M433 725.3h0M432.8 724.5h0M432.2 720.9h0" stroke="#4DAF4A" stroke-width="3.8" stroke-linecap="round"/>
<g clip-path="url(#c14)" fill="#984EA3" stroke="#984EA3"><use href="#ed"/></g>
<path d="M436.6 678L437 674.4M436.6 683L436.6 678M445 705L445 709.3M453.6 685.6L453 683M448 695L448 699.9" stroke="#984EA3" stroke-width="3.8" stroke-linecap="round"/>
<path d="M437 674.4h0M436.6 678h0M436.6 683h0M445 705h0M453.6 661h0M453 666.6h0M448.4 684.4h0M453 683h0M453.6 685.6h0M448.4 689.6h0M453 691h0M448 695h0M437.9 712.3h0M438.7 709.5h0M438.1 701.3h0M438.2 706.2h0M438.4 710.1h0M438 698.2h0M437.7 699.9h0M437.6 707.6h0M437.8 705h0M437.2 712.7h0M437.8 698.7h0M438 707.8h0M437.9 707.4h0M437.6 699.9h0M437.3 697.9h0M438.2 704.1h0M437.9 697.4h0M440 718.6h0M440.4 708.2h0M440 708.2h0M440 719.8h0M440.3 719.4h0M441.5 707.6h0M440 708.1h0M440.2 717.8h0M440.1 707.6h0M441.1 707.3h0M443.5 718h0M444.2 712.8h0M444.2 715.1h0M443.6 717.7h0M444.5 714.9h0M443.3 717.3h0M442.8 714.1h0M444.1 721.3h0M444.4 718.9h0M444 714.7h0M443.5 709.6h0M448.3 717h0M448.1 714.2h0M448 715.4h0M447.4 709.3h0M447.3 716.1h0M447.2 707.4h0M447.3 716.7h0M448 706.4h0M450.4 713.8h0M452.1 714.2h0M452.1 714.5h0M451.7 712.9h0M451.4 712.7h0M451.9 708.4h0M451 714.1h0M450.7 704.5h0M451 702.2h0M453.3 711.3h0M453.7 717.5h0M453.3 715.4h0M453.6 711.9h0M454.1 709h0M454.2 702.7h0M454.3 705.2h0M453.2 702.6h0M453.4 711.4h0M453.2 714.7h0M453 705.8h0M453.5 713.5h0M453.3 713.5h0M453.2 707h0M453.5 701.4h0" stroke="#984EA3" stroke-width="3.8" stroke-linecap="round"/>
<g clip-path="url(#c15)" fill="#FF7F00" stroke="#FF7F00"><use href="#ed"/></g>
<path d="M470.4 677.6L470.4 681.9" stroke="#FF7F00" stroke-width="3.8" stroke-linecap="round"/>
<path d="M459 664h0M459 675h0M459 683h0M459.6 690h0M465 683.6h0M470.4 677.6h0M460.3 715.9h0M459.8 717.1h0M459 711.3h0M460.4 716.8h0M459.8 711.2h0M459.7 707.7h0M460.3 704.3h0M463.1 704.3h0M462.8 702.6h0M464 713h0M463.8 710h0M464.3 716.4h0M464.4 714.7h0M464.2 710.1h0M463.4 702.8h0M463.5 706.3h0M463.9 702.1h0M463.1 697.8h0M466.3 695.7h0M466.8 711.4h0M466.9 708.5h0M467.6 713.2h0M467.1 705.6h0M466.7 693.7h0M467.2 709.5h0M466.3 705h0M466.3 700.1h0M466 694.1h0M467.5 708h0M466.5 708.6h0M465.9 695.8h0M467.7 700.8h0M466.9 697.3h0M467.2 701.7h0M466.9 694.8h0M468 703.2h0M466.9 692.5h0M467.3 691.5h0M469.8 705.9h0M469.3 686.3h0M469.8 696h0M469.5 693.9h0M468.8 711.4h0M469.8 706h0M470.1 703.7h0M469.5 689.2h0M469.9 690.1h0M469.1 710.4h0M469.9 706.8h0M469.8 702.1h0M469.5 688.3h0M470.3 710.8h0M469.5 701.8h0M469.6 691.2h0M469.6 702.7h0M469.7 687.9h0M469.1 702.6h0M469.7 695.9h0M470.7 691.7h0M470 687.9h0M469.4 690.1h0M469.3 706.4h0M469.7 695.9h0M469.3 684.7h0" stroke="#FF7F00" stroke-width="3.8" stroke-linecap="round"/>
<g clip-path="url(#c16)" fill="#377EB8" stroke="#377EB8"><use href="#ed"/></g>
<path d="M488 662L487.6 660M488.4 687L488 683M488.4 696L487.6 693M488.4 699.6L488.4 696" stroke="#377EB8" stroke-width="3.8" stroke-linecap="round"/>
<path d="M476 675h0M477.6 686h0M476.4 699.6h0M488 651h0M487.6 660h0M488 662h0M487.6 674h0M488 683h0M488.4 687h0M487.6 693h0M488.4 696h0M488.4 699.6h0M476.5 713.5h0M476.5 720.1h0M476.3 720.1h0M476.2 718.5h0M476.1 720.1h0M476.6 719h0M477.2 721.5h0M477 712.7h0M477.4 718h0M476.7 722.9h0M477.1 711.8h0M480.5 724.6h0M480.3 722.7h0M480.4 725.7h0M479.9 723.5h0M480.2 722.4h0M483.9 723.7h0M483.7 723.8h0M483.4 727.1h0M483.8 724.6h0M483.3 725.9h0M483.5 722.4h0M487.5 719.8h0M486.4 713.9h0M486.3 716.8h0M487.3 711.9h0M487.7 715.6h0M487.1 718h0M487.1 715.2h0M486.6 711.6h0M486.9 709.5h0M488.2 717.6h0M488.9 717.8h0M489.5 718.8h0M489.1 715.1h0M489 717h0M488.8 713.3h0M489 712.7h0" stroke="#377EB8" stroke-width="3.8" stroke-linecap="round"/>
<g clip-path="url(#c17)" fill="#4DAF4A" stroke="#4DAF4A"><use href="#ed"/></g>
<path d="M498.4 681L497 676M498.4 690L498.4 697.9M509 684L509.6 680M510 689L509 684M510 689L510 696.5M508.4 693L510 689M508.4 693L508.4 699.1" stroke="#4DAF4A" stroke-width="3.8" stroke-linecap="round"/>
<path d="M501 649h0M501 656.4h0M497 676h0M501 677.6h0M498.4 681h0M501.6 684h0M498.4 690h0M509.6 680h0M509 684h0M510 689h0M508.4 693h0M496 715.3h0M494.3 710.5h0M495.1 701.5h0M495 713h0M495.1 714.8h0M495.3 707.6h0M495.3 717h0M495 716.4h0M495.3 704.7h0M495 711.2h0M495.3 707.1h0M494.9 704.3h0M495.5 704h0M495.2 716.4h0M495 699.7h0M494.8 702.4h0M496 701.3h0M494.6 699.5h0M494.5 698.6h0M499.2 707.2h0M498.7 706.2h0M498.3 707.2h0M498.8 709.5h0M498.7 715.9h0M498.5 713.4h0M499 707.9h0M498.9 704.3h0M502.7 713.1h0M502.7 716.5h0M501.9 721.3h0M503.4 714.3h0M502.5 712.4h0M502.5 717.4h0M502.2 712.2h0M506 711.8h0M506.3 711.8h0M506.9 712.5h0M507.3 718.3h0M506.2 719.8h0M506.2 709.9h0M508.3 715.6h0M508.3 703.4h0M508.8 717.7h0M508.5 712h0M508.3 702.7h0M509 706.7h0M508.3 705h0M508.9 717.2h0M507.8 713.6h0M508.9 715.5h0M508.7 717.4h0M508.7 704.1h0M508.6 709h0M509 708.8h0M508.5 715.6h0M508.5 700.5h0M510.5 714.1h0M510.9 711.7h0M510.9 707.5h0M510.6 711.3h0M510.7 705.9h0M510.3 711h0M511.3 706.5h0M512 716.5h0M510.5 703.5h0M510.9 715.9h0M511 714.5h0M510.4 700.8h0" stroke="#4DAF4A" stroke-width="3.8" stroke-linecap="round"/>
<g clip-path="url(#c18)" fill="#984EA3" stroke="#984EA3"><use href="#ed"/></g>
<path d="M516.4 691L517.6 688M516.4 691L516.4 698.4M516.4 694.4L516.4 691M516.4 694.4L516.4 698.4M527.6 694L527.6 698.7" stroke="#984EA3" stroke-width="3.8" stroke-linecap="round"/>
<path d="M531.6 684h0M517.6 688h0M516.4 691h0M516.4 694.4h0M527.6 694h0M517.2 705.8h0M517.6 712h0M518.1 702h0M516.7 713.3h0M517 705.9h0M517.4 710h0M516.3 711.6h0M516.8 712.5h0M516.4 714.8h0M517.7 714.2h0M517.8 717.5h0M517.2 716h0M516.5 715.9h0M517.2 702h0M516.4 704.6h0M516 717.5h0M517.1 699.9h0M520.4 719.8h0M520.5 718.2h0M519.9 717.8h0M520.6 720.1h0M520.2 714.8h0M520.6 710.3h0M522.7 720.2h0M521.8 722.8h0M521.7 720.2h0M522.3 718.2h0M522.1 713.9h0M524.8 719.5h0M524.2 721.1h0M524.5 717.4h0M528 708.1h0M528 713.8h0M527.6 717.7h0M526.6 714.6h0M526.7 707.4h0M526.5 711.5h0M527 716h0M527.2 705.7h0M526.8 699.9h0M530.9 700.9h0M531.3 709.1h0M530.8 707.6h0M530.9 702.8h0M530.2 704.7h0M530.4 708.8h0M530.1 698.5h0M531.6 708.6h0M531.6 699.2h0M530.2 708.3h0M530.8 701.2h0M529.9 706.6h0M530.6 698.1h0" stroke="#984EA3" stroke-width="3.8" stroke-linecap="round"/>
<g clip-path="url(#c19)" fill="#FF7F00" stroke="#FF7F00"><use href="#ed"/></g>
<path d="M544 670L543 668.6M541.6 672.4L543 668.6M544.6 678L544.6 682.4M550.4 691L550.4 698.7M551.6 696L550.4 691M551.6 696L551.6 701.1" stroke="#FF7F00" stroke-width="3.8" stroke-linecap="round"/>
<path d="M539.6 652h0M543 668.6h0M544 670h0M541.6 672.4h0M544.6 678h0M550.4 691h0M551.6 696h0M539.7 705.4h0M539.9 702.6h0M538.6 707.7h0M539.8 695.4h0M538.8 707.2h0M540.2 692.6h0M539.5 700.9h0M538.7 710.3h0M539.5 710.9h0M540.2 697.5h0M539.9 702.7h0M539.6 704.3h0M539.7 701.5h0M539.4 694.8h0M539.7 699.4h0M539 709.8h0M539.1 689.3h0M542.6 691.1h0M541.9 694.2h0M542 709.5h0M542.6 696.6h0M542.6 699.4h0M543 702.3h0M542.6 705.1h0M542.6 701.1h0M542.6 690h0M542.2 691.7h0M541.8 693.4h0M542.3 703.6h0M542.4 690.3h0M542.7 689.7h0M545.3 705h0M546.1 711.6h0M545.7 710.1h0M544.8 690.7h0M545.8 704.9h0M545.7 700.4h0M545.3 698.3h0M545.2 692.2h0M545.9 699.8h0M545.7 696.6h0M545.6 700.5h0M546.7 711.1h0M545.8 689.5h0M546 698.9h0M544.3 706.1h0M545.9 695.3h0M546.5 698.9h0M546.2 702.6h0M546.3 692h0M545.9 688.6h0M546 688.2h0M549.7 715.5h0M549 706.6h0M550.1 699.7h0M549.3 706.9h0M549.8 701.7h0M549.5 709h0M549.3 712h0M549.7 706.6h0M550 713.5h0M549.5 706.7h0M548.7 713.8h0M549.3 701.8h0M549.8 714.3h0M549.6 699.6h0M549.8 715.9h0M549.8 698.6h0" stroke="#FF7F00" stroke-width="3.8" stroke-linecap="round"/>
<g clip-path="url(#c20)" fill="#377EB8" stroke="#377EB8"><use href="#ed"/></g>
<path d="M558.4 681L558 678M558 694L558 698.5M574 679L572 678M573 687L571 685M573 687L573 691.9M566 705L566 705.9" stroke="#377EB8" stroke-width="3.8" stroke-linecap="round"/>
<path d="M557.6 671.6h0M558 678h0M558.4 681h0M558 694h0M569 676h0M572 678h0M574 679h0M571 685h0M573 687h0M566 705h0M558 709.9h0M558.6 706.4h0M558.1 703.1h0M557 708.5h0M557.8 706.7h0M557.4 708.8h0M558 706.4h0M556.4 709.9h0M557.5 709.4h0M557.7 712.7h0M557.9 702.5h0M561.2 715.8h0M561.5 716h0M561.9 715.7h0M560.7 719.7h0M562.5 721.6h0M561.8 715h0M563.1 717h0M564.4 713.8h0M563.9 718.1h0M563.8 718.1h0M564.3 714.7h0M564.2 717.7h0M564.1 713.8h0M564.2 709.9h0M567.5 703.1h0M567.6 705.3h0M568 714.4h0M567.9 712.5h0M568.3 710.6h0M568.1 709.3h0M567.1 713.6h0M568.4 707.2h0M568.7 706.6h0M568.4 716.7h0M568.2 708.2h0M568.2 702.4h0M572.1 701.3h0M572.1 709.7h0M572.3 710.5h0M572.3 705.3h0M571.9 706.8h0M571.8 699.7h0M571.5 713.2h0M573.1 697.4h0M572 698.9h0M572.3 707.9h0M572.9 712.4h0M572.4 711.8h0M571.7 709.4h0M571.9 697h0" stroke="#377EB8" stroke-width="3.8" stroke-linecap="round"/>
<g clip-path="url(#c21)" fill="#4DAF4A" stroke="#4DAF4A"><use href="#ed"/></g>
<path d="M582 658.6L583 658.4M582 672L583.6 671M580 696L580 699.9M583.6 671L582 666.4M585 674L583.6 671M585 674L585 681.9M591 683L590 681M580 697L580 696M580 697L580 699.9M581 702L580 697" stroke="#4DAF4A" stroke-width="3.8" stroke-linecap="round"/>
<path d="M582 658.6h0M582 666.4h0M582 672h0M582 680h0M580 696h0M583 658.4h0M582.4 666.4h0M583.6 671h0M585 674h0M584 680h0M590 681h0M591 683h0M580 697h0M581 702h0M580.5 713.5h0M580.9 710.8h0M580.7 711.4h0M581.2 708.4h0M581.1 707.2h0M581.1 704.9h0M582.2 703.1h0M582.6 701.8h0M582.3 698.6h0M583.1 707.7h0M583.7 698.1h0M582.8 705.7h0M582.4 681.7h0M582.8 708.2h0M582.7 680.7h0M582.5 694.6h0M583 685h0M582.4 694.3h0M582.3 689.8h0M582.8 696.2h0M582.5 692.9h0M583.4 682.4h0M582.4 691.7h0M582.9 705.2h0M582.7 698.5h0M583.8 683.5h0M582.9 703.4h0M582.7 681.4h0M582.6 702.6h0M583.3 707h0M584.2 705.4h0M583.2 694.8h0M583.6 680.5h0M582.7 688.6h0M583.8 708.6h0M583.1 683.4h0M583.1 678.2h0M582.7 677.6h0M586.6 701.3h0M585.9 709h0M587.4 703.6h0M585.2 697.6h0M587.3 699.9h0M586.3 710.1h0M586.5 702.3h0M585.8 711h0M586.1 711.2h0M586.9 696h0M586.6 699.9h0M585.4 704.2h0M586.2 698.7h0M586.5 704.1h0M585.8 698.3h0M586.1 708.1h0M586.4 708.4h0M586.4 688.3h0M588.8 699.8h0M587.9 713.1h0M587.1 711.6h0M588.5 700.7h0M588.2 709.4h0M588.3 702.4h0M588.5 709.8h0M587.7 707.6h0M588.2 698h0M591.2 711.7h0M590.7 709.1h0M590.9 702.6h0M590.4 707.7h0M591.1 703.8h0M590.9 708.9h0M591 708.9h0M591.2 698.4h0M591.1 706.1h0M590.9 712.1h0M591.1 704.8h0M590.4 698.3h0" stroke="#4DAF4A" stroke-width="3.8" stroke-linecap="round"/>
<g clip-path="url(#c22)" fill="#984EA3" stroke="#984EA3"><use href="#ed"/></g>
<path d="M603 679L601 674M600 689L598.4 684M600 689L600 696.5M613.6 674L612 669.6M610 694L610 695.9M609 694L609 697.9" stroke="#984EA3" stroke-width="3.8" stroke-linecap="round"/>
<path d="M598 668h0M601 674h0M603 679h0M598.4 684h0M600 689h0M604 689.6h0M612 669.6h0M613.6 674h0M612 685.6h0M610 694h0M609 694h0M598.3 714.8h0M599.2 700.8h0M598.4 704.8h0M597.6 711.7h0M597.9 708.8h0M598.4 712.6h0M597.9 705.3h0M598.5 709.5h0M598.3 698.4h0M598.5 709.8h0M598.4 710.2h0M598.6 715.2h0M598.3 710.5h0M598 712.5h0M598.3 697.5h0M600.9 705.3h0M601.8 713h0M602.1 710.5h0M601 700.7h0M601.4 715.8h0M601.6 711.2h0M601.8 711.1h0M601.1 710.6h0M601.1 715.6h0M600.4 713.8h0M601.1 715.1h0M600.7 710h0M601.5 709.6h0M600.9 700.6h0M604.4 713.8h0M604.2 710.5h0M604.4 711.3h0M604.7 710.5h0M604.6 717.8h0M605 710.8h0M604.9 713.6h0M604.5 716.4h0M603.5 709.8h0M604.5 708.9h0M608.7 718.1h0M607.7 717.9h0M609.7 707.2h0M608 703.8h0M608.3 703.7h0M608.2 717h0M608.5 709.1h0M608.8 705.5h0M609.1 714.4h0M608.2 706.4h0M608.3 716.4h0M608.3 717.3h0M608 703.3h0M611.7 699.6h0M612.2 705.7h0M611.3 703.5h0M612.2 715.7h0M612.4 712.7h0M612 706.7h0M611.4 714.1h0M611.5 712.8h0M611.7 713.4h0M611.5 714.7h0M611.6 705.4h0M612 697.8h0M611.6 701h0M610.8 702.9h0M611.7 713.9h0M611.7 704.8h0M612 700.5h0M610.7 716h0M612.1 696.9h0M611.7 696.2h0" stroke="#984EA3" stroke-width="3.8" stroke-linecap="round"/>
<g clip-path="url(#c23)" fill="#FF7F00" stroke="#FF7F00"><use href="#ed"/></g>
<path d="M621.6 673.4h0M624 675h0M624.4 681.6h0M630 681.6h0M622 689h0M621 711.2h0M620.7 715.5h0M620.3 703.1h0M620.2 715.7h0M620.9 706.5h0M620.5 704h0M620.3 711.7h0M620.5 702.8h0M620.7 702.4h0M623.2 719h0M623.2 710h0M622.8 707.6h0M623.8 713.2h0M622.8 715.7h0M623.9 718h0M623.5 713.4h0M624.2 707.3h0M623.1 701.6h0M624.7 718.5h0M624.8 715.6h0M626.1 715.9h0M626.2 718h0M625.8 720.1h0M625.9 713.3h0M625.7 718.8h0M625.8 712.9h0M628.3 719.8h0M627.2 719.8h0M627.5 723.7h0M628.2 718.4h0M627.3 717.6h0M632.3 715.6h0M631.3 710.1h0M631.9 705.5h0M631 711.6h0M631.4 705.4h0M632 715.7h0M632 712.2h0M631.8 715.9h0M630.7 714.8h0M631.7 705.4h0M632.2 702.3h0M632.2 702h0M633.1 707.4h0M633.6 715.6h0M634 707.8h0M633.6 703.4h0M634.6 713.1h0M633.2 716.4h0M633.6 707.8h0M633.3 716.1h0M633.9 702.9h0" stroke="#FF7F00" stroke-width="3.8" stroke-linecap="round"/>
<g clip-path="url(#c24)" fill="#377EB8" stroke="#377EB8"><use href="#ed"/></g>
<path d="M653 654L653 649M653 664L653 660M653 668L653 664M653 671.6L653 668M657 678L655 677.6M643 690L643.6 686M646 698L646 705.9" stroke="#377EB8" stroke-width="3.8" stroke-linecap="round"/>
<path d="M644.4 648.4h0M644.4 659h0M653 649h0M653 654h0M653 660h0M653 664h0M653 668h0M653 671.6h0M655 677.6h0M657 678h0M643.6 686h0M643 690h0M646 698h0M644.9 713.8h0M644.3 710.4h0M644.4 715h0M645.3 717.8h0M644.6 712h0M644.1 710.2h0M647.4 719.4h0M647 715h0M646.6 711h0M647.3 713.4h0M647.2 711h0M647.2 710.8h0M647.1 710.8h0M650.7 695.4h0M650.7 703.3h0M650.7 710.8h0M651.5 707.9h0M651.3 696.4h0M651.2 706.9h0M650.9 712.9h0M651.2 710.6h0M652.1 702.7h0M652 710.1h0M651.4 700.9h0M650.6 704.5h0M650.8 697.8h0M651.2 704.1h0M650.2 699.1h0M651.3 704h0M650.2 699.8h0M650.8 711.3h0M650.8 693.6h0M654.3 708.5h0M653.6 704.5h0M655.1 708.3h0M654.2 709.1h0M654.4 696.2h0M654.9 699.7h0M653.2 693.7h0M654.9 703h0M654.7 690.5h0M654 693h0M653.7 710.8h0M653.3 693.7h0M653.9 691.4h0M653.7 702.5h0M654.4 690.2h0M654.3 697.1h0M653.9 703.1h0M653.5 698.3h0M654.4 689.6h0M657 701.5h0M656 699.3h0M656.7 707.9h0M656.4 703h0M656.7 708.6h0M657.1 713h0M656.9 706.9h0M656.2 701.5h0M656.4 710.5h0M657.3 709.4h0M655.5 700.1h0M656.7 696.7h0M656.9 696.6h0M656.7 694.4h0" stroke="#377EB8" stroke-width="3.8" stroke-linecap="round"/>
<g clip-path="url(#c25)" fill="#4DAF4A" stroke="#4DAF4A"><use href="#ed"/></g>
<path d="M675.6 673.6L677 669.6M677 678.4L675.6 673.6M662.4 693L663 688" stroke="#4DAF4A" stroke-width="3.8" stroke-linecap="round"/>
<path d="M677 657.6h0M677 669.6h0M675.6 673.6h0M677 678.4h0M663 682h0M663 688h0M662.4 693h0M662.3 714.4h0M663.5 710.3h0M663.2 720h0M664.2 721.5h0M663.5 717.4h0M664.5 711.1h0M664.4 718.5h0M663.5 715.9h0M663.8 710.1h0M667.9 719.2h0M666.7 721.1h0M667.9 724.3h0M667.9 717.2h0M667.5 716.2h0M668.5 719h0M668.5 719.5h0M667 722.6h0M667.3 715.7h0M667.8 715.6h0M669.5 717.6h0M670.3 720.8h0M669.2 718.9h0M668.9 721.2h0M669.5 720.7h0M670.6 722.7h0M670.1 718.1h0M670.7 723.2h0M669.6 714.9h0M672.5 711h0M672.9 718.4h0M672.4 712.9h0M672.9 707.3h0M671.6 716.2h0M672.8 715.3h0M673.3 709.8h0M672.2 713.3h0M672.5 706.9h0M676.4 700.6h0M676.2 712.3h0M676.1 704.4h0M675.3 711.4h0M675.6 704.1h0M675.9 705.3h0M675.8 705h0M675.8 696.2h0M675.1 702.5h0M675.7 700.7h0M675.1 709.7h0M675.9 695.2h0M676.2 701.4h0M674.8 704.5h0M676.1 709.9h0M676.4 700.5h0M675.7 693.6h0M675.3 690.2h0M678.3 714.2h0M677.6 715.3h0M678.2 704.1h0M678.3 697.5h0M678.7 707.7h0M677.5 703.5h0M678.1 696.1h0M677.8 699.9h0M678.7 698.9h0M678.5 707.1h0M677.2 698.5h0M677.9 703h0M678.3 698.6h0M678.6 711.4h0M677.4 714.1h0M678.1 709.9h0M677.3 713.6h0M678.3 714.7h0M678.1 706.6h0M678.7 695.2h0" stroke="#4DAF4A" stroke-width="3.8" stroke-linecap="round"/>
<rect x="247.8" y="723.5" width="12" height="12.5" rx="2" fill="#fff"/>
<line x1="40.5" y1="646.5" x2="682" y2="646.5" stroke="#ea6a6a" stroke-width="1" stroke-dasharray="2.3 1.86"/>
<circle cx="487.6" cy="592" r="3.2" fill="#f00"/>
<circle cx="542.8" cy="640.8" r="3.2" fill="#f00"/>
<circle cx="676.6" cy="609" r="3.2" fill="#f00"/>
<g stroke="#606060" stroke-width="1" fill="none">
<path d="M40.5 568.2V731.3"/>
<path d="M35 731.3H40.5"/>
<path d="M35 710.9H40.5"/>
<path d="M35 690.5H40.5"/>
<path d="M35 670.1H40.5"/>
<path d="M35 649.8H40.5"/>
<path d="M35 629.4H40.5"/>
<path d="M35 609H40.5"/>
<path d="M35 588.6H40.5"/>
<path d="M35 568.2H40.5"/>
<path d="M40.5 737.8H670.8"/>
<path d="M40.5 737.8v5.2"/>
<path d="M59 737.8v5.2"/>
<path d="M87.8 737.8v5.2"/>
<path d="M116.8 737.8v5.2"/>
<path d="M143.6 737.8v5.2"/>
<path d="M168.5 737.8v5.2"/>
<path d="M199.4 737.8v5.2"/>
<path d="M227.7 737.8v5.2"/>
<path d="M256.5 737.8v5.2"/>
<path d="M285 737.8v5.2"/>
<path d="M314.8 737.8v5.2"/>
<path d="M343.8 737.8v5.2"/>
<path d="M372.8 737.8v5.2"/>
<path d="M399.6 737.8v5.2"/>
<path d="M422.7 737.8v5.2"/>
<path d="M445 737.8v5.2"/>
<path d="M464.9 737.8v5.2"/>
<path d="M482.8 737.8v5.2"/>
<path d="M502.4 737.8v5.2"/>
<path d="M524.3 737.8v5.2"/>
<path d="M545.4 737.8v5.2"/>
<path d="M565.7 737.8v5.2"/>
<path d="M586 737.8v5.2"/>
<path d="M606.8 737.8v5.2"/>
<path d="M628.9 737.8v5.2"/>
<path d="M650 737.8v5.2"/>
<path d="M670.8 737.8v5.2"/>
</g>
<text transform="translate(28 731.3) rotate(-90)" text-anchor="middle" font-family="Liberation Sans" font-size="9" fill="#111" stroke="#111" stroke-width="0.2">0</text>
<text transform="translate(28 710.9) rotate(-90)" text-anchor="middle" font-family="Liberation Sans" font-size="9" fill="#111" stroke="#111" stroke-width="0.2">1</text>
<text transform="translate(28 690.5) rotate(-90)" text-anchor="middle" font-family="Liberation Sans" font-size="9" fill="#111" stroke="#111" stroke-width="0.2">2</text>
<text transform="translate(28 670.1) rotate(-90)" text-anchor="middle" font-family="Liberation Sans" font-size="9" fill="#111" stroke="#111" stroke-width="0.2">3</text>
<text transform="translate(28 649.8) rotate(-90)" text-anchor="middle" font-family="Liberation Sans" font-size="9" fill="#111" stroke="#111" stroke-width="0.2">4</text>
<text transform="translate(28 629.4) rotate(-90)" text-anchor="middle" font-family="Liberation Sans" font-size="9" fill="#111" stroke="#111" stroke-width="0.2">5</text>
<text transform="translate(28 609) rotate(-90)" text-anchor="middle" font-family="Liberation Sans" font-size="9" fill="#111" stroke="#111" stroke-width="0.2">6</text>
<text transform="translate(28 588.6) rotate(-90)" text-anchor="middle" font-family="Liberation Sans" font-size="9" fill="#111" stroke="#111" stroke-width="0.2">7</text>
<text transform="translate(28 568.2) rotate(-90)" text-anchor="middle" font-family="Liberation Sans" font-size="9" fill="#111" stroke="#111" stroke-width="0.2">8</text>
<text transform="translate(10.5 653.5) rotate(-90)" text-anchor="middle" font-family="Liberation Serif" font-size="11.4" fill="#111">-lg(p)</text>
<text x="0.3" y="577.4" font-family="Liberation Sans" font-weight="bold" font-size="26" fill="#000">d</text>
<defs><path id="ee" d="M44 923.5L44 923.5L44.4 907.7L46 906L48 904.3L50 905.2L52 908.5L54 912.7L56 913.6L58 914.4L60 916.1L62 917.8L64 914.4L66 911.9L68 910.2L70 908.5L72 909.4L73.8 923.5L75 923.5L75.6 911.9L77 910.2L78.6 907.7L80.6 908.5L83 911.1L85 911.9L87 908.5L88.6 906L90.6 907.7L92.6 908.5L94.6 906L96.6 904.3L98 905.2L99 907.7L100.6 923.5L102 923.5L102.6 906L104 899.3L105.4 901L107 906L108.6 912.7L110.6 919.5L112.6 922.9L114.6 921.1L117 920.7L119 920.3L121 916.9L123 914.4L125 912.7L127 909.4L128.6 906L130 907.7L131.8 923.5L133 923.5L133.6 907.7L135 906.9L136.6 907.7L138 910.2L139.4 914.4L141 919.5L143 920.3L145 919.5L147 914.4L149 910.2L150.6 907.7L152 908.5L153.8 923.5L155 923.5L155.6 906.9L157.4 906L159 906L160.6 906L162.6 907.7L164.6 909.4L166.6 911.1L168.6 912.7L171.8 914.4L172 914.4L174 907.7L176 905.2L178 904.3L180 905.2L181.6 907.7L182.8 923.5L184 923.5L184.6 911.1L186 909.4L188 911.1L190 907.7L192 906.9L194 909.4L196 911.9L198 914.4L200 915.3L202 916.1L204 914.4L206 912.7L208 911.1L210 909.4L212 907.7L213.6 909.4L214.8 923.5L216.4 923.5L217 911.1L218.4 909.4L220 908.5L222 909.4L224 909.4L226 908.5L228 909.4L230 911.9L232 911.1L234 909.4L236 908.5L237.6 909.4L240 923.5L241 923.5L241.6 911.9L243 909.4L244.4 909.4L246 912.7L248 919.5L250 921.1L252 921.1L254 920.3L256 919.5L258 916.1L260 911.9L262 909.4L264 909.4L266 910.2L268 909.4L270 908.5L272.8 923.5L274 923.5L274.6 906L276 899.3L277.6 900.1L279 907.7L281 914.4L283 919.5L285 916.1L287 906L289 901.8L291 899.3L293 897.6L294.4 898.5L296.8 923.5L298 923.5L298.6 914.4L300 911.9L302 912.7L304 912.7L306 911.9L308.8 911.1L309 911.1L311 912.7L313 911.9L315 911.1L317 912.7L319 911.1L321 909.4L323 906.9L324.6 904.3L326 906L327.4 911.1L328.6 923.5L330 923.5L330.6 906L332 903.5L333.4 904.3L335 907.7L337 911.9L339 914.4L341 916.1L343 915.3L345 916.1L347 916.9L349 915.3L351 912.7L353 910.2L355 908.5L356.6 907.7L358 923.5L359 923.5L359.6 910.2L361 907.7L362.6 908.5L364.6 909.4L366.6 911.1L368.6 911.1L370.6 910.2L372.6 909.4L374.6 908.5L376.6 908.1L378.6 907.7L380.6 907.7L382.6 907.7L384.6 906.9L387 923.5L388 923.5L388.6 911.9L390 909.4L391.4 907.7L393 914.4L395 917.8L397 918.6L399 911.1L400.6 904.3L402 901L403.4 902.7L405 901L407 900.1L409 901L411 902.7L412.6 923.5L413.4 923.5L414 907.7L415 906L416.6 907.7L418 909.4L420 911.1L422 908.5L424 908.5L426 908.5L428 907.7L430 906L431.4 907.7L433 923.5L434 923.5L434.6 907.7L436 906.9L438 906L440 906.9L442 910.2L444 911.9L445.8 912.7L446 911.9L448 910.2L450 909.4L452 909.8L454 911.1L455.6 923.5L457 923.5L457.6 908.5L459 906L460.4 905.2L462 906.9L464 903.5L465.6 901L467.6 899.3L469.6 900.1L471 903.5L472 906.9L473.6 923.5L475 923.5L475.6 910.2L477 907.7L478.4 906.9L480 908.5L482 910.2L484 910.2L486 910.2L488 911.1L490 912.7L492 923.5L493.6 923.5L494.2 901.8L495.6 900.1L497.6 898.5L499 900.1L500.4 901.8L502.4 904.3L504.4 907.7L506.4 910.2L508.4 911.1L510.4 910.2L512 908.5L513.6 923.5L515 923.5L515.6 910.2L517 909.4L518.4 910.2L520 912.7L522 915.3L524 917.8L526 920.3L528 918.6L530 915.3L531.6 911.9L533 910.2L535.2 923.5L537 923.5L537.6 907.7L539 905.2L540.4 904.3L542 905.2L544 907.7L546 910.2L548 909.4L550 908.5L552 910.2L554 911.9L555.2 923.5L556 923.5L556.6 906.9L558 905.2L559.6 906.9L561.6 911.9L563.6 915.3L565.6 915.3L567.6 912.7L569.6 908.5L571.6 903.5L573.6 901.8L575.6 905.2L577.2 923.5L578.4 923.5L579 906.9L581 905.2L582.8 904.3L583 907.7L585 908.5L587 907.7L589 906.9L591 906.9L593 907.7L595.6 923.5L596.6 923.5L597.2 907.7L598.4 903.5L599.6 901.8L601 904.3L602.4 910.2L604.4 913.6L606.4 914.4L608.4 915.3L610.4 912.7L612.4 910.2L614.4 906.9L616 908.5L617.6 923.5L619 923.5L619.6 907.7L621 906L622.4 905.2L624 906.9L626 910.2L628 913.6L630 915.3L632 914.4L634 911.9L636 910.2L638 910.2L639.6 911.9L640.8 923.5L641.6 923.5L642.2 911.9L643.6 910.2L645.6 911.9L647.6 913.6L649.6 913.6L651.6 908.5L653.6 903.5L655.6 901.8L657.6 903.5L659.6 923.5L661 923.5L661.6 901.8L663 900.1L664.4 903.5L666 906.9L668 907.7L670 908.5L672 906.9L674 906L676 905.2L678 906.9L680 908.5L680.8 923.5L680.8 923.5Z" stroke-width="3.8" stroke-linejoin="round"/></defs>
<g clip-path="url(#c0)" fill="#377EB8" stroke="#377EB8"><use href="#ee"/></g>
<path d="M46.6 869L48 865M47.4 876.4L49 876M47.4 876.4L47.4 879.1M49 876L49 878.9M51 881L49 876M51 881L51 883.9M70.6 884L70.6 888.5M59 898.4L59 903.9" stroke="#377EB8" stroke-width="3.8" stroke-linecap="round"/>
<path d="M46.6 869h0M48 865h0M50.6 866h0M47.4 876.4h0M49 876h0M46 883h0M51 881h0M71 866.4h0M72 877h0M70.6 884h0M59 898.4h0M61 911h0M44.9 891.1h0M46.7 891.7h0M46 892.2h0M47 897.9h0M45.9 891.3h0M45.7 885.4h0M46.1 905.3h0M46.2 898h0M46.9 900.9h0M46.8 904.9h0M45.5 885.8h0M46.5 888h0M46.3 893.7h0M46 890.5h0M46.3 891.2h0M45 896.9h0M46.2 884.6h0M46.3 880.1h0M50.8 897.7h0M50.1 887.8h0M50 892.1h0M51 896.5h0M49.7 898.8h0M50.4 905.2h0M49.5 901.9h0M50.3 892.3h0M50.1 886.1h0M50.1 892.1h0M49.6 896.6h0M51 886.4h0M50.6 900.9h0M50.6 889.2h0M50.1 884.9h0M52.8 901.3h0M52.1 907.5h0M52.8 897.6h0M52.3 903.2h0M51.9 903.4h0M53.1 906.2h0M52.4 895.5h0M51.4 899.6h0M52.3 908.9h0M52 900.7h0M52.5 899.8h0M52 897.5h0M52 902.3h0M51.8 891.9h0M55.6 910.6h0M54.8 911.5h0M54.6 909.3h0M55 910.7h0M55.1 905.2h0M55 904.2h0M58.9 909.4h0M58.6 913.7h0M58.2 905.7h0M58.3 913.8h0M58 906.2h0M59.3 914.7h0M60 909.8h0M59.1 912.6h0M58.8 904.9h0M61.9 916.1h0M61.1 910.4h0M60.9 910.2h0M62.2 913.6h0M62.7 913.4h0M61 911.5h0M62 909.9h0M61.8 909.7h0M64.8 906.2h0M64.3 901.2h0M65.9 904.8h0M64.9 911.8h0M64.9 904.2h0M64.8 912.8h0M64.7 903.6h0M65.1 909.5h0M65 906.8h0M64.2 904.6h0M64.8 900.4h0M64.5 900.1h0M68.5 901.5h0M68 909.3h0M68.3 905.5h0M68.7 908.1h0M67.7 906.3h0M67.6 907.5h0M67.9 900.8h0M68.3 905.2h0M67.8 899.8h0M69.3 896.3h0M68 895h0M70.4 895.9h0M70.6 897.5h0M70.8 905h0M70.6 899h0M70.3 908.1h0M70.2 899.9h0M70 895.9h0M70.7 908.6h0M71.3 900.6h0M70.2 894.1h0M70.5 884.8h0" stroke="#377EB8" stroke-width="3.8" stroke-linecap="round"/>
<g clip-path="url(#c1)" fill="#4DAF4A" stroke="#4DAF4A"><use href="#ee"/></g>
<path d="M88.6 876L88 871M88.6 876L88.6 881.9M97 876L97.4 871M97 876L97 878.5M84 892L84 894.9" stroke="#4DAF4A" stroke-width="3.8" stroke-linecap="round"/>
<path d="M79 875h0M77.4 881h0M89 865.6h0M88 871h0M88.6 876h0M96.6 865.6h0M97.4 871h0M97 876h0M99 857h0M84 892h0M90 917h0M77.6 901h0M78.7 899.5h0M78.2 907.3h0M78.5 900.2h0M77.8 899.8h0M78.2 899.4h0M77.9 896.8h0M80.8 896.6h0M80.2 897.4h0M79.7 888.7h0M80.1 895.4h0M79.9 900h0M81.5 902.2h0M80.2 902.6h0M81.2 889.6h0M80.4 907.9h0M80.1 905h0M79.9 891.9h0M81.1 908.3h0M80.9 890.3h0M79.8 896.5h0M80.3 908h0M80.3 904.6h0M80.7 891.7h0M80.9 899.2h0M79.2 891.1h0M80.6 888.2h0M84.2 898.7h0M84.8 906.5h0M85.1 903.9h0M84.5 905.1h0M84.7 900.9h0M84.6 897.8h0M84.6 910.9h0M84.1 905.1h0M84.3 905.5h0M84.4 904.7h0M83.4 910.1h0M83.8 907.5h0M84.7 901h0M83.6 903.7h0M84.5 895.9h0M87.4 902.8h0M86.4 905h0M85.6 904h0M86.9 907.1h0M86.9 906.3h0M86.1 900.2h0M86.6 897.1h0M89.1 895.9h0M89.2 889.5h0M88 894.5h0M89.1 894.8h0M90.3 897h0M89 895.7h0M88.7 893.6h0M89.4 890.4h0M89.7 898.9h0M89.2 905.1h0M88.7 903.2h0M89.5 888.7h0M88.9 886.3h0M93 903.8h0M93 896.4h0M93.5 902.5h0M92.8 896.2h0M93.9 893h0M93.6 901.8h0M91.9 893.9h0M92.3 901.1h0M92.8 903h0M93 906.6h0M93.2 887.8h0M92.6 899.5h0M93.4 893.8h0M93.5 907.6h0M94 904.2h0M93 904.2h0M92.9 891.1h0M93.1 898.1h0M92.6 904.7h0M93.1 904.9h0M93.1 886.7h0M95.8 897.7h0M96.8 889h0M96.5 903.3h0M96.5 897.7h0M95.8 902.7h0M96.2 904.3h0M95.9 904h0M96.6 891.6h0M95.7 894.3h0M96.6 888.1h0" stroke="#4DAF4A" stroke-width="3.8" stroke-linecap="round"/>
<g clip-path="url(#c2)" fill="#984EA3" stroke="#984EA3"><use href="#ee"/></g>
<path d="M104.6 862L104.6 867.6M128 870L128 866M128 875L128 870" stroke="#984EA3" stroke-width="3.8" stroke-linecap="round"/>
<path d="M105 847h0M104.6 852.4h0M104.6 862h0M105 869h0M105 875h0M130 837h0M125.4 855h0M130 855h0M128 866h0M128 870h0M128 875h0M114 920h0M104.1 886.5h0M104.4 898.3h0M104.5 875h0M104.9 892.7h0M104.2 889.3h0M104.1 870.2h0M103.2 888.3h0M104.6 879.2h0M104.8 895.1h0M104 891.7h0M104 889.9h0M104.3 887h0M104.5 873.4h0M103.2 875.1h0M104 871h0M105.3 874.1h0M104.4 877.4h0M104.5 880.8h0M104.4 882h0M103.7 869.8h0M104.3 890.8h0M104.2 875.2h0M103.6 890.1h0M103.7 870h0M104 892.3h0M103.6 894.3h0M103.9 869h0M104.2 868.6h0M107.1 897h0M107.5 887.2h0M107.7 896.7h0M106 897.2h0M107.8 902.1h0M107.4 891.2h0M107.2 905.8h0M107.5 900.8h0M108.1 900.4h0M107.1 888.4h0M106.3 888.8h0M107.5 902.1h0M107.1 894.3h0M107.1 895.6h0M107.5 897.2h0M106.6 886.8h0M109.9 916.4h0M110.7 912.9h0M109.9 914.6h0M110.4 913h0M109.9 911.3h0M109.6 908.5h0M114 921.7h0M114.1 920.5h0M114.1 919h0M113.9 918.9h0M116.4 919.7h0M117 918.2h0M116.5 912.9h0M119.6 916.5h0M118.5 918.6h0M119.6 916h0M119.4 913.5h0M122.3 908.2h0M123 912.5h0M122.9 907.9h0M123.6 908.6h0M123.1 909.4h0M122.2 910.1h0M122.7 906.4h0M122.9 909.3h0M122.9 903.3h0M122.6 913.1h0M122.8 908.2h0M123 902.5h0M123.3 902.4h0M125.6 896h0M125.9 899.7h0M125.3 895h0M126 908.7h0M126.5 908.9h0M126.1 900.9h0M126.6 907.7h0M124.9 906.6h0M125.8 905h0M126.2 894.8h0M125.6 901.6h0M126.4 897.2h0M126.2 905.8h0M126.3 904.6h0M126.2 905.7h0M125.9 894.6h0M129.9 904.7h0M129 895.8h0M129.5 892.8h0M129 897.2h0M128.8 906.5h0M130.8 892.9h0M129 894.7h0M129.2 897.7h0M128.6 895.9h0M128.6 902.1h0M129.1 891.5h0M129.9 889.2h0M129.2 887.9h0" stroke="#984EA3" stroke-width="3.8" stroke-linecap="round"/>
<g clip-path="url(#c3)" fill="#FF7F00" stroke="#FF7F00"><use href="#ee"/></g>
<path d="M151 883L149 882.4M151 883L151 886.5" stroke="#FF7F00" stroke-width="3.8" stroke-linecap="round"/>
<path d="M136 875.6h0M149 882.4h0M151 883h0M135.9 891h0M135.8 896.8h0M135.1 888.6h0M134.8 895h0M135.7 900.8h0M134.4 892.4h0M134.8 902.4h0M134.9 893.2h0M135 888.3h0M135.3 887.6h0M133.8 896.4h0M135.3 905.1h0M135.1 899.9h0M134.7 897.1h0M135.3 887.3h0M135.1 883.2h0M137.7 894.5h0M137.1 898.6h0M138.3 907.3h0M137.5 898.1h0M135.6 904.1h0M136.8 908.5h0M136.7 907.3h0M137.2 900h0M137.4 907.7h0M136.9 901.9h0M137.2 893.6h0M137.2 892.4h0M140.9 918.2h0M140.8 916.7h0M144.3 916.9h0M144.3 917.1h0M144.9 915.7h0M148.2 903.7h0M147.7 908.5h0M148.3 909.2h0M147.9 899.2h0M148.1 911.7h0M147.5 905.7h0M147.3 904.5h0M148.2 899.8h0M146.8 907.3h0M147.2 908.9h0M147.6 908.5h0M147.4 907.2h0M147.2 909.2h0M147.8 899.1h0" stroke="#FF7F00" stroke-width="3.8" stroke-linecap="round"/>
<g clip-path="url(#c4)" fill="#377EB8" stroke="#377EB8"><use href="#ee"/></g>
<path d="M160.6 860L162 855M160 875L160 870M160 875L160 881.9M167 892L167 894.7M178 869L179 866" stroke="#377EB8" stroke-width="3.8" stroke-linecap="round"/>
<path d="M160.4 833.4h0M162 855h0M160.6 860h0M164 861h0M163 869h0M160 870h0M160 875h0M168.6 886h0M167 892h0M177.6 860h0M179 866h0M178 869h0M158 898.4h0M159.4 889.2h0M158.3 905.3h0M158.5 906h0M158.5 899h0M159.2 902h0M158.9 886.6h0M158.5 897.2h0M158.5 888.4h0M159.1 888.6h0M158.9 896.4h0M158.9 893.8h0M158.3 887.6h0M159.1 903.9h0M158.8 903.1h0M158.3 893h0M158.5 902.2h0M158.9 884.6h0M161.8 888.8h0M160.7 901h0M161.8 887.6h0M161.3 900.7h0M161.5 888.6h0M161.5 900.6h0M160.6 894.2h0M161.6 905.9h0M161 891.4h0M162.3 900.1h0M161.1 904.2h0M161.3 890.8h0M160.1 902.6h0M160.9 901.6h0M161 900.7h0M160.6 905.5h0M160.8 901.1h0M160.9 885h0M163.7 900.4h0M163.5 903.3h0M163.8 906.2h0M163.4 903.6h0M164.3 900.9h0M163.3 897.3h0M165.8 906.5h0M166.1 903.6h0M166.3 906.3h0M166.3 901.7h0M165.7 899.1h0M166.6 909.3h0M165.9 906.5h0M166.6 903.4h0M166.5 900.7h0M166 897.5h0M166.7 909.9h0M165.4 899.2h0M166.4 901.6h0M166.7 897.4h0M166.3 902.1h0M166.5 893.8h0M169.6 908.8h0M170 907.2h0M170.3 912.7h0M169.7 903.8h0M170.1 903.1h0M170 908.2h0M168.8 912.2h0M169.7 907.6h0M170.1 902.1h0M173.2 901.8h0M173.3 901.5h0M173.5 908.6h0M173.9 892.3h0M174.4 907.7h0M173.4 892.1h0M174.8 907.8h0M174.2 900.6h0M174.3 901.6h0M174 896.9h0M174.1 899.3h0M174 907.4h0M174.4 898.6h0M173.9 891.4h0M177.8 899.1h0M177 896.8h0M177.5 901.4h0M176.5 896.5h0M177.1 894.8h0M177.5 901.3h0M176.7 885.7h0M176.7 891.3h0M176.6 885.4h0M177.6 901.1h0M177 893.6h0M177.3 904.5h0M177.1 897.9h0M177.8 893.3h0M178 903.3h0M176.6 895.9h0M176.8 882.8h0" stroke="#377EB8" stroke-width="3.8" stroke-linecap="round"/>
<g clip-path="url(#c5)" fill="#4DAF4A" stroke="#4DAF4A"><use href="#ee"/></g>
<path d="M189.6 867L191 862.6M190.4 881.6L190.4 885.5M193 882.4L193 886.9M211 881L211 887.9" stroke="#4DAF4A" stroke-width="3.8" stroke-linecap="round"/>
<path d="M190.4 848h0M191 855h0M191 862.6h0M189.6 867h0M190.4 881.6h0M193 882.4h0M191.6 892.4h0M196.4 897.4h0M200 892h0M202.4 891h0M208.4 871.6h0M211 881h0M201 905h0M187.3 906.5h0M187.3 894.4h0M186.9 903.2h0M186.3 899.8h0M186.8 894.1h0M187 900.3h0M187.3 896.9h0M186.7 906.3h0M186.7 900.8h0M186.9 893.6h0M186.6 895.9h0M186.5 908.8h0M186.8 899.9h0M187.1 906.1h0M187.3 902.6h0M186.5 906.9h0M186.8 894.3h0M186.8 891.9h0M188.9 898.5h0M189.4 900.1h0M189.9 899.1h0M188.5 899.6h0M188.8 900.5h0M189.6 906.6h0M189.8 897.5h0M192 903.2h0M193.1 892.6h0M191.7 899h0M192.3 903.3h0M191.7 897.1h0M192.9 899.5h0M191.6 899.8h0M192.4 895.7h0M192.3 899.6h0M191.5 895.6h0M192.7 890.3h0M195.6 907.6h0M195.5 908.5h0M196.3 901.5h0M195.8 903.1h0M195.2 907.3h0M195.3 904.6h0M195.3 899.9h0M195.7 897.2h0M198.5 908h0M198.2 903.4h0M198.5 910.2h0M197.6 908.4h0M197.9 913.9h0M198.4 908.5h0M197.8 907.4h0M198.3 913.9h0M198.2 913.3h0M197.8 913.2h0M197.2 913h0M197.4 902.5h0M201.9 908.9h0M201.8 912.5h0M201.3 908.9h0M202 911.8h0M202 908.2h0M201 906.8h0M203.5 911.1h0M204.6 908.1h0M203.8 910.8h0M204.6 909.9h0M203.5 904.2h0M204.2 912.6h0M204.3 913.4h0M204.2 913.4h0M205.1 907.2h0M203.8 903.3h0M204 899.5h0M208.5 901.8h0M207.4 907.3h0M206.5 903.5h0M208.5 906.4h0M207.6 910.6h0M207.7 899.8h0M207.6 904.2h0M207.8 898.5h0M207.4 905.4h0M207.4 901.2h0M207.1 897.2h0M206.8 896.5h0M207.5 907.4h0M208 898.4h0M207.6 900.4h0M207.4 895.5h0M207.2 890.5h0M210.9 899.8h0M211.2 903h0M210.9 899.9h0M210.6 907.3h0M210.6 904.5h0M211.1 901h0M210.7 891.6h0M211.4 903.8h0M210.6 899.9h0M211 903.4h0M211.2 894.6h0M211 908.3h0M210.5 897.8h0M211.3 891.1h0M211 888.6h0" stroke="#4DAF4A" stroke-width="3.8" stroke-linecap="round"/>
<g clip-path="url(#c6)" fill="#984EA3" stroke="#984EA3"><use href="#ee"/></g>
<path d="M219 876L218.4 873M224.4 882L224 877M224.4 882L224.4 889.5M228 887L228 889.9M237 885.6L237 889.1" stroke="#984EA3" stroke-width="3.8" stroke-linecap="round"/>
<path d="M219 867h0M218.4 873h0M219 876h0M224 877h0M224.4 882h0M228 887h0M230 911h0M230 917h0M237 885.6h0M219.5 899.9h0M219.3 908.7h0M219.4 901.8h0M220.6 901.5h0M219.4 905.4h0M220.5 897.9h0M223.2 905h0M223.1 898.9h0M222.6 898.2h0M222 901.1h0M222.6 898.9h0M222.1 903.6h0M222.4 896.7h0M222.9 904.9h0M222.1 896.2h0M222.9 908h0M223.2 909.1h0M222.9 901.6h0M222 900.4h0M222.4 902.8h0M223.3 907.1h0M223.1 893.7h0M222.5 891.2h0M226.4 896.8h0M225.3 908.5h0M225.4 901.2h0M225.5 907.8h0M225.9 895.5h0M225.2 895.6h0M225.1 899.8h0M224.6 901.2h0M225.2 901.4h0M225.7 894.1h0M225.6 893.4h0M227.9 895.1h0M227.8 895.9h0M228.4 901.7h0M227.8 895.2h0M228.1 894.2h0M228.4 895.2h0M229.5 898.9h0M227.8 899h0M229 896.6h0M228 898.8h0M228.5 902.8h0M227.5 909.3h0M229.1 894.2h0M227.8 895.3h0M227.8 902.6h0M228.3 892.2h0M232.8 904.2h0M232.3 900.6h0M232.6 910.7h0M233 906.2h0M232.5 905h0M232.6 909.6h0M232.4 906.3h0M232.2 906.2h0M231.9 906.6h0M232.5 897.4h0M236.3 895.5h0M236 905.1h0M235.3 901.2h0M235.7 897.1h0M235.3 897.2h0M235.1 907.5h0M235.9 906.4h0M236.4 906.6h0M237 896.7h0M235.7 893.6h0" stroke="#984EA3" stroke-width="3.8" stroke-linecap="round"/>
<g clip-path="url(#c7)" fill="#FF7F00" stroke="#FF7F00"><use href="#ee"/></g>
<path d="M244 874L245 869.6M245 877L244 874M243.6 882L245 877M243.6 882L243.6 889.9M270 880L270 887.9M270 884L270 880M270 884L270 887.9M253 904L254 899.6" stroke="#FF7F00" stroke-width="3.8" stroke-linecap="round"/>
<path d="M245 869.6h0M244 874h0M249 874.4h0M245 877h0M243.6 882h0M263.6 863h0M270 858.4h0M270.4 865h0M262 881h0M270 880h0M270 884h0M254 899.6h0M253 904h0M244.4 906.3h0M243.7 907.9h0M244.6 898.5h0M244.7 900.8h0M243.4 899.5h0M243.5 906.1h0M243.8 898.4h0M244.2 896.5h0M244.9 905.3h0M246.3 909.1h0M246.2 901.4h0M246.6 910.5h0M246.4 909.9h0M247 904.5h0M246.1 899.9h0M246.1 909.1h0M245.8 904.3h0M247 900.2h0M246.7 909.3h0M247 903.7h0M246.1 906.2h0M246.2 899.7h0M250.2 919.4h0M249.8 920.6h0M250.1 919.3h0M249.7 917.4h0M252.8 917.6h0M252.3 918.9h0M252.2 919.4h0M253 917.6h0M254.8 917.3h0M255.4 919.3h0M255.9 916.3h0M258.1 914.2h0M257.5 915.4h0M258 914.5h0M257.3 913.5h0M257 912.3h0M257.3 908.5h0M257.5 913.2h0M257.9 914.8h0M257.7 915.9h0M258 907.7h0M260.4 907.3h0M259.5 900.1h0M260.6 909.9h0M261.6 899.2h0M260.7 902.5h0M260.4 898.8h0M260 896.8h0M261.3 900.9h0M260.6 901h0M259.8 903.3h0M260.9 901.2h0M260 906.3h0M261.6 905.5h0M260.9 895.3h0M264.5 900.4h0M265.2 895.7h0M263.4 904h0M264.2 898.3h0M264.2 897.7h0M264.2 906.6h0M264.1 900.1h0M263.3 903.9h0M264.5 895.7h0M266.4 902.3h0M266.8 905.1h0M266.6 893.9h0M265.8 897.1h0M266.5 907.9h0M265.9 902.3h0M266.3 904.3h0M266.8 899.3h0M266.7 897.9h0M267.2 896.7h0M266.2 901h0M266.1 898h0M266.9 895.7h0M266.9 893.3h0M270 904.1h0M269.7 899.8h0M269.8 900.5h0M269.6 899.7h0M269.3 893.6h0M269.4 894.6h0M269.5 899.8h0M269.5 893.3h0M269 898.9h0M268.9 893.7h0M269.7 893.8h0M269.4 892.4h0M269.9 890.3h0" stroke="#FF7F00" stroke-width="3.8" stroke-linecap="round"/>
<g clip-path="url(#c8)" fill="#377EB8" stroke="#377EB8"><use href="#ee"/></g>
<path d="M294.4 857L294.4 863.9M277 862L277 867.1M286.4 869L285.6 864M276.4 900L276 896M276 902L276.4 900" stroke="#377EB8" stroke-width="3.8" stroke-linecap="round"/>
<path d="M291 820h0M291 834h0M276.6 852.4h0M285.4 852.4h0M292 853h0M294.4 857h0M277 862h0M285.6 864h0M286.4 869h0M276 896h0M276.4 900h0M276 902h0M276 885.4h0M275.7 884.1h0M276.2 888.1h0M275.9 895.6h0M276.4 883.4h0M274.9 881.3h0M276.3 884.2h0M275.9 885.5h0M276.6 886.2h0M276.2 886.2h0M275.9 890.6h0M277 882.7h0M276.7 878.4h0M279.2 896.4h0M279 898.2h0M279.3 896.5h0M279.8 896.1h0M278.9 900.7h0M278.6 903.1h0M278.8 895.3h0M281.6 916.6h0M282.7 916.3h0M282.9 916.1h0M282.2 915.1h0M281.8 917h0M282.6 911.6h0M285.5 910.1h0M285.3 910.6h0M285.3 906.2h0M285.1 905.8h0M284.9 907.6h0M284.4 913.2h0M283.8 907.5h0M285.3 905.4h0M287.3 899h0M287.4 889.8h0M287.4 883.4h0M287.1 885.8h0M286.8 904.3h0M286.4 903.5h0M287.5 905h0M287.2 902.5h0M286.5 889.6h0M287.5 898.7h0M287 888.7h0M287.6 893.4h0M286.9 886.2h0M287.6 897.7h0M287.3 886.3h0M287.7 890.8h0M286.9 903.9h0M287.1 898.8h0M287.5 903.6h0M287.5 882.3h0M291.4 879.1h0M290.5 890.5h0M291.8 887.2h0M290.7 889.3h0M292 885.9h0M291.2 880.3h0M290.7 895.6h0M291.3 886.8h0M291.4 882.8h0M290.8 876.3h0M291.1 875.1h0M290.8 881.9h0M291.5 875.5h0M290.8 877.1h0M291 879.7h0M291.7 889.6h0M291.6 889.9h0M291.8 873h0M291.1 871.5h0M294.1 879.9h0M294.4 891h0M293.7 884.3h0M294.7 876.5h0M294.3 886.3h0M294.3 888.1h0M294.2 881.1h0M294.3 895.3h0M294.8 883.6h0M293.5 880.5h0M294.3 886.2h0M294 879.3h0M294.6 878.1h0M294.5 897.4h0M294.5 873.8h0M294.3 873h0" stroke="#377EB8" stroke-width="3.8" stroke-linecap="round"/>
<g clip-path="url(#c9)" fill="#4DAF4A" stroke="#4DAF4A"><use href="#ee"/></g>
<path d="M301 864L300.6 860M300 894L300 895.9M324.6 847.6L324.6 843M324.6 871L324.6 877.9M324 876L324.6 871M324 876L324 880.1M316 891.6L316 895.9" stroke="#4DAF4A" stroke-width="3.8" stroke-linecap="round"/>
<path d="M300.6 837h0M300.6 852h0M300.6 860h0M301 864h0M301 886h0M307.6 882.4h0M300 894h0M324.6 835.6h0M324.6 843h0M324.6 847.6h0M324.6 854h0M324.6 871h0M324 876h0M319 883h0M316 891.6h0M309 882.4h0M300.4 903.5h0M301 898.3h0M300.7 903.4h0M300.2 906.8h0M301.2 900.5h0M300 907.6h0M300.6 906.4h0M301.2 905.3h0M300.4 910.3h0M301.2 908.5h0M301 900.9h0M300.4 901.6h0M301.3 905.5h0M300.2 901.4h0M300.6 897.1h0M302.7 911.9h0M302.1 912.4h0M302.4 903.4h0M302.9 907.6h0M302.8 902.9h0M302 903.3h0M303 902.6h0M305.2 903h0M305.2 904.3h0M304.5 910.6h0M305 903.2h0M305.2 909.4h0M305.2 909.1h0M304.5 906.9h0M305.5 901.3h0M305 899.1h0M309.2 908h0M308.3 897.6h0M309.5 901.4h0M309 907.2h0M309.7 905h0M308.4 897.4h0M307.8 896.2h0M308.3 909.1h0M308.3 907.8h0M308.7 908.4h0M308.6 898.7h0M308.7 900.5h0M309.5 901.2h0M309 895.4h0M312.7 904.5h0M313.4 905.2h0M312.6 905.7h0M313.7 897.9h0M313.7 903.8h0M313 902h0M312.7 905.3h0M312.6 908.9h0M311.7 901.6h0M312.9 897.1h0M312.1 900h0M313.1 905.9h0M313.2 904.5h0M312.1 902.3h0M313.2 900h0M313.5 900.2h0M312.3 896.2h0M316.2 909.9h0M315.6 900.2h0M315.2 909.8h0M315.5 903h0M317 910.3h0M316.6 909.5h0M315.8 910.7h0M315.4 899.9h0M318.9 900.9h0M317.5 907.7h0M319.6 902.2h0M318 904.6h0M318.6 904.2h0M317.9 911.3h0M318.3 905.9h0M318.8 910.2h0M318.8 903h0M318.2 899h0M321.3 898.8h0M321.1 893.4h0M320.6 892h0M321.1 892.6h0M321.7 901.9h0M321.1 893.6h0M320.9 909.1h0M320.7 908.5h0M320.5 894.2h0M321.6 893.9h0M321.2 901h0M320.6 900.4h0M321.7 892.6h0M321.3 906.6h0M321.3 906.6h0M320.8 891.2h0M324.2 889.9h0M324.2 891.5h0M322.9 899.1h0M323.7 888.4h0M324.2 904h0M324.3 898.5h0M323.9 892.1h0M324.2 889h0M323.4 902h0M324.6 891.3h0M323.7 890.6h0M324.5 887.3h0M323.7 886.7h0" stroke="#4DAF4A" stroke-width="3.8" stroke-linecap="round"/>
<g clip-path="url(#c10)" fill="#984EA3" stroke="#984EA3"><use href="#ee"/></g>
<path d="M332.6 869L332.6 864.4M332.6 869L332.6 876.8M354.6 860L354.6 855M354 879L355.4 876" stroke="#984EA3" stroke-width="3.8" stroke-linecap="round"/>
<path d="M332.6 864.4h0M337 864h0M332.6 869h0M346 881h0M354.6 847h0M354.6 855h0M354.6 860h0M354 867h0M355.4 876h0M354 879h0M338.6 891h0M333.7 896.1h0M332.6 898h0M333.5 899.6h0M334.1 902h0M332.9 901.4h0M332.5 898.3h0M332.9 899.2h0M333.4 890.2h0M333.8 889.7h0M334.7 907.4h0M335.6 889.9h0M335.2 889.3h0M335.3 905.7h0M335 908.1h0M335 896.1h0M335.7 906.5h0M335.6 900.6h0M335.3 906.9h0M335.3 903.7h0M335.2 897.6h0M334.8 892.3h0M335.8 892.5h0M334.8 896.2h0M335.2 889.8h0M335.7 892.4h0M335.5 891.6h0M335.2 907.6h0M335.2 898h0M335 887.5h0M337.3 911h0M338.1 907h0M337.9 908.4h0M338.1 903.4h0M337.3 900.3h0M337 906.7h0M338.8 900.5h0M337.2 904.9h0M338.7 904.9h0M336.6 907.2h0M336.9 906h0M337.6 910.4h0M337.6 898.7h0M342.1 909.6h0M341.9 907.4h0M341.4 914.9h0M341.1 912.9h0M340.6 908.7h0M341.9 915.1h0M342.4 908.1h0M341.5 907h0M343.7 907h0M343.7 913.5h0M343.2 906.4h0M342.9 912.7h0M342.4 908.1h0M342.2 914.3h0M343.5 914.9h0M343.5 905.8h0M345.7 909.1h0M347 910.9h0M346.9 916.6h0M346.2 915.8h0M345.6 911h0M346 909.9h0M346.7 908.5h0M346.4 906.6h0M348.1 912.8h0M348.8 913.1h0M348.8 912.5h0M348.7 912.5h0M349.2 907.6h0M352.9 908h0M352.3 903.3h0M352.8 908.4h0M353.2 906.9h0M352.2 907.2h0M352.3 901.2h0M351.7 901.1h0" stroke="#984EA3" stroke-width="3.8" stroke-linecap="round"/>
<g clip-path="url(#c11)" fill="#FF7F00" stroke="#FF7F00"><use href="#ee"/></g>
<path d="M362.6 879L362 874.4M384 882L383 877M384 882L384 884.5" stroke="#FF7F00" stroke-width="3.8" stroke-linecap="round"/>
<path d="M362 836h0M363 860.4h0M362.6 866h0M362 874.4h0M362.6 879h0M383.4 855h0M379.4 869.6h0M374 874.4h0M378 875h0M383 877h0M384 882h0M362.1 900h0M363.2 901.6h0M362.4 895.2h0M362 905h0M362.2 895.2h0M362.6 900.9h0M362.3 902.2h0M361.8 895.6h0M363.2 908h0M362.9 892.8h0M362.7 904.4h0M362.1 901.1h0M362.5 891.9h0M365 899.4h0M364.4 900.2h0M366.1 903.8h0M365.5 904.4h0M365.4 906.6h0M366.4 904.7h0M365.8 898.7h0M367.4 903.2h0M367 904.3h0M368.6 900.2h0M368.2 907.6h0M368.6 910.3h0M368.1 906.9h0M368.3 899.6h0M370.7 901h0M370.6 909.6h0M370.7 901.3h0M370.7 899.2h0M370.9 901.7h0M370.6 909.6h0M370.1 893.7h0M370.7 894.2h0M370.7 906.6h0M370.8 893.1h0M370.2 896.5h0M370.9 906.1h0M370.3 907.7h0M370.3 898.1h0M370.8 899.3h0M371.2 903.1h0M370.5 893h0M373.2 905.8h0M373.9 902.1h0M373.2 901.3h0M373.9 898.6h0M373.5 896.6h0M373.5 906.4h0M374 897.3h0M373.6 895.6h0M373 894.3h0M377.1 894.4h0M377.1 892.8h0M377.4 906.5h0M377.2 904.5h0M376.8 898.8h0M377.1 906.6h0M377.8 896.8h0M377.1 895.3h0M377.6 894.5h0M376.5 893.7h0M377.2 893.1h0M377.4 901h0M377.5 890.2h0M377 900.5h0M378 891.2h0M376.2 902h0M376.9 906.3h0M377.3 888.3h0M379.6 905.6h0M379.5 895.3h0M379 903.1h0M380 905.2h0M379.6 900h0M380.2 901.2h0M378.7 897.6h0M378.5 894.2h0M378.2 896.2h0M379 905.7h0M378.9 891.6h0M380.5 901.9h0M382.3 893.6h0M380.5 894.1h0M381.7 904.5h0M381.8 903.9h0M381.9 906.3h0M380.8 895.3h0M381.2 900.1h0M381.8 893.2h0M381.1 892.3h0" stroke="#FF7F00" stroke-width="3.8" stroke-linecap="round"/>
<g clip-path="url(#c12)" fill="#377EB8" stroke="#377EB8"><use href="#ee"/></g>
<path d="M389.4 881L390 876M390 886L389.4 881M390 886L390 889.9" stroke="#377EB8" stroke-width="3.8" stroke-linecap="round"/>
<path d="M406.6 856h0M409 860h0M401 864.4h0M393.4 871h0M390 876h0M389.4 881h0M390 886h0M397 894h0M389.9 905.1h0M388.8 906.5h0M389.9 901.7h0M389.9 904.6h0M390.1 901.1h0M390.1 903.8h0M388 904.8h0M389.4 909.1h0M389.7 897.4h0M389.4 892.2h0M392.4 903.8h0M393.4 907.5h0M392.7 905.6h0M392.3 903.7h0M392 901.2h0M392.6 910.1h0M393 900.4h0M395.3 915.7h0M395.8 917.3h0M395.3 913.7h0M399.1 900.6h0M398.8 907h0M398.4 907.2h0M398.6 907.3h0M399.9 900.2h0M399.5 900.5h0M398.7 899.5h0M400.2 894.8h0M401.2 902.7h0M401.2 894.1h0M401.7 881.6h0M400.3 884.4h0M401.1 878.2h0M401.4 884.7h0M401.2 879.2h0M400.8 902.3h0M401.8 898.4h0M401.5 900h0M400.6 884.5h0M402.3 877.8h0M401.3 897.2h0M401.5 878.4h0M401.2 878.6h0M401.8 900.4h0M401.5 901.3h0M400.6 888.7h0M401.6 888.6h0M401.6 889.6h0M401 901.4h0M401.5 875.9h0M402.3 887.1h0M401.9 882.6h0M400.7 875.7h0M403.4 902h0M403.8 877.9h0M403.1 876.7h0M403.2 882h0M404 886.7h0M403.4 898.8h0M403.1 884.7h0M402.6 889.8h0M403.7 883.3h0M403.9 896.7h0M404.7 876.8h0M403.8 881h0M404.8 877.8h0M403.9 893.6h0M404.3 880.9h0M402.8 886.5h0M403.8 898h0M403 879.9h0M403.2 896.3h0M403.3 891.7h0M403.9 876.7h0M408.1 890.4h0M407.3 888.3h0M408.1 900.3h0M407.3 891.5h0M407.9 898.5h0M407.6 893.1h0M407.5 892.4h0M407.9 889.9h0M406.9 886.6h0M406.7 885.2h0M407.9 873.7h0M408 898.2h0M407.1 895h0M406.9 895.7h0M407.5 884.6h0M407.6 872.3h0M406.7 900h0M407.7 895.4h0M407.9 876.3h0M407.6 888.7h0M407.6 874h0M407.3 873.7h0M407.2 878.2h0M408.8 871.5h0M407.9 893.1h0M407.8 876.5h0M408.3 875.4h0M407.1 888.2h0M407.2 869.5h0" stroke="#377EB8" stroke-width="3.8" stroke-linecap="round"/>
<g clip-path="url(#c13)" fill="#4DAF4A" stroke="#4DAF4A"><use href="#ee"/></g>
<path d="M429.6 860L430 858M430.6 874.4L431 871" stroke="#4DAF4A" stroke-width="3.8" stroke-linecap="round"/>
<path d="M429.4 841.6h0M419.4 855h0M430 858h0M429.6 860h0M417 869.6h0M416.6 876h0M431 871h0M430.6 874.4h0M415.9 900.4h0M416.3 894.2h0M416.5 903.4h0M417.3 903.5h0M415.9 898.1h0M415.6 905.6h0M416.2 903.3h0M416.2 906.4h0M416.3 892.9h0M419.1 907.2h0M418.9 907.9h0M417.6 908.7h0M418.1 894.3h0M418.5 909h0M418.9 907.3h0M419.6 901.4h0M419.2 897h0M419.2 904h0M418.6 897.6h0M419.1 896.5h0M418.3 900.5h0M420.2 896.3h0M419.7 894.2h0M422.5 900.2h0M422.2 890.1h0M421.6 905.1h0M423.2 896.9h0M421.8 902.7h0M422.9 900.1h0M421.8 892.8h0M422.1 904.6h0M422.8 902.5h0M422.3 888.9h0M421.6 907.2h0M422.4 905.6h0M422.1 890.2h0M422.7 895h0M422 895.1h0M423.3 892.5h0M422.3 892.2h0M423 890.9h0M422.3 892.6h0M422.6 888.7h0M426 894.8h0M425.9 893.9h0M426.2 894.9h0M426.6 898.9h0M425.6 895.3h0M426.7 890.7h0M426.2 906h0M426 895.1h0M426 903.5h0M425.8 907.9h0M426.7 906.9h0M425.7 893.8h0M426 893.8h0M426.3 890.8h0M425.9 890.3h0M429.9 898h0M428.8 898.3h0M430 890.7h0M430.1 893.5h0M430.2 902.6h0M429.6 900.2h0M430.2 898.6h0M429.5 889.3h0M429.4 900.3h0M429.5 903.7h0M429.5 890.3h0M430.7 893.4h0M429.8 903.2h0M430.3 894.3h0M430.6 885.7h0M429.2 900.8h0M430.4 885.3h0" stroke="#4DAF4A" stroke-width="3.8" stroke-linecap="round"/>
<g clip-path="url(#c14)" fill="#984EA3" stroke="#984EA3"><use href="#ee"/></g>
<path d="M440 860L438.6 855M451.6 882.4L453 881" stroke="#984EA3" stroke-width="3.8" stroke-linecap="round"/>
<path d="M438.6 855h0M440 860h0M440 874.4h0M453.6 837.4h0M454 873h0M453 881h0M449 882.4h0M451.6 882.4h0M437.2 902.1h0M436.7 905.4h0M437.2 895.4h0M437.1 906h0M436.9 897.2h0M437.2 894.5h0M437.6 893.8h0M437 892.4h0M438.5 902.6h0M440.1 893.4h0M438.7 894.8h0M438.9 902.1h0M439.4 899.7h0M439.3 905h0M439.7 894.4h0M439.3 901.7h0M439.3 893.2h0M439 893.5h0M438.9 902.7h0M438.9 889.2h0M442.8 910.5h0M442.9 898.1h0M442.3 901h0M442.2 906.9h0M443 908h0M443.2 906h0M442.8 908.7h0M443.1 903.8h0M442.5 898.9h0M442.4 897.3h0M445.1 906.1h0M445 912.2h0M445.4 912h0M445.2 904.7h0M445 903.2h0M448 900.2h0M448.2 908.5h0M448.9 901h0M448.6 896.9h0M449.3 895.3h0M449.5 904.8h0M448.4 901.2h0M448.8 905.8h0M448.5 898h0M448.9 898.3h0M448.7 895.2h0M451.8 896.9h0M451.3 908.4h0M452 900h0M452.4 906.4h0M451.9 907.3h0M451.4 894.7h0M452.1 902.9h0M451.6 908.8h0M450.9 900.7h0M452.1 905.2h0M451.7 902.3h0M452 894.2h0" stroke="#984EA3" stroke-width="3.8" stroke-linecap="round"/>
<g clip-path="url(#c15)" fill="#FF7F00" stroke="#FF7F00"><use href="#ee"/></g>
<path d="M469.6 841.6L469.6 837.6M466 858L466 854.4M459.6 874L461 869M459.6 874L459.6 881M471.6 877L471.6 880.7" stroke="#FF7F00" stroke-width="3.8" stroke-linecap="round"/>
<path d="M469.6 837.6h0M469.6 841.6h0M469.6 848h0M463 855h0M466 854.4h0M471 854.4h0M466 858h0M461 869h0M459.6 874h0M471.6 877h0M471 883h0M466 881h0M460.3 897.5h0M460.5 894.3h0M460.8 895.8h0M460.8 891.1h0M461.1 901.6h0M460.8 893h0M460.3 903.9h0M460.3 891.4h0M460.5 890.3h0M464.6 880.1h0M465 887.8h0M464.3 900.9h0M464.3 899.5h0M463.8 881h0M464.3 876.7h0M464.4 900.6h0M463.5 877.1h0M464.6 889.8h0M464.6 878.7h0M463.7 902.6h0M464.8 884.7h0M464.6 880.5h0M463.7 896.6h0M464.4 896h0M464.2 901.7h0M465.1 888.6h0M463.7 892.9h0M464.9 902.9h0M464.3 885.3h0M464 890.5h0M464.8 901.1h0M464.3 879.5h0M464.6 893h0M464.5 875.9h0M468.6 885.9h0M466.8 873.4h0M467.3 884.4h0M467.2 885.8h0M467.1 884.7h0M467.2 873.1h0M467.5 873.1h0M466.8 875.9h0M467.8 898.3h0M467.4 886.5h0M467.4 887.1h0M467.4 882.3h0M467.1 879.8h0M467.2 881.7h0M466.7 879.5h0M467.2 877h0M467.4 896.8h0M467.6 885.5h0M467.9 872.7h0M470.4 893h0M471.1 894.1h0M469.7 900.4h0M469.7 891.8h0M471.2 900.2h0M470.6 898.7h0M471.2 902h0M470.4 883.2h0M469.2 897.5h0M470.9 897.4h0M470 880.2h0M470.6 891.8h0M470.6 888.8h0M470.3 881.9h0M471.2 899.9h0M469.6 887.5h0M470.6 896.4h0M470.2 879.5h0M470.8 882.5h0M470 876.6h0M470.5 870.1h0" stroke="#FF7F00" stroke-width="3.8" stroke-linecap="round"/>
<g clip-path="url(#c16)" fill="#377EB8" stroke="#377EB8"><use href="#ee"/></g>
<path d="M478 847L479 842.4M479 871L479.6 867M479 874L479 871" stroke="#377EB8" stroke-width="3.8" stroke-linecap="round"/>
<path d="M479 842.4h0M478 847h0M479 855h0M479.6 867h0M479 871h0M479 874h0M490 849.6h0M490 861h0M487.6 878h0M475.9 907h0M476.3 908.1h0M476.3 907.4h0M475.5 897.6h0M475.8 894h0M476.3 904.6h0M477.1 900.9h0M475.8 892.5h0M475.4 892.6h0M477.2 900.7h0M475.9 899.9h0M476.2 897.1h0M476.1 892.5h0M479.8 895.5h0M479.1 898.2h0M479.5 907.5h0M479.1 891.3h0M478.9 901.9h0M479.4 899.9h0M478.7 899.2h0M479.4 892h0M479.1 889.8h0M479.4 905.9h0M478.8 903.3h0M479.5 891.1h0M479.2 891.2h0M480.4 889.8h0M479.9 904.6h0M479.2 893.9h0M478.6 904.9h0M478.8 895.4h0M479.5 893.2h0M479.7 887.1h0M478.9 886.8h0M482.9 898.9h0M482.3 899.1h0M482.9 908.6h0M483.2 893.7h0M482.4 900.5h0M482.4 903.7h0M482.3 899.1h0M482.8 900.4h0M483.2 901.2h0M481 904h0M482.3 898.4h0M482.5 909.6h0M481.9 900.8h0M482.4 908.1h0M482.1 893.6h0M486.5 902h0M485.6 907h0M485.5 904h0M485.8 909.4h0M485.7 899.7h0M485.5 899.2h0M486.4 898.7h0M489.1 908h0M489.6 911.5h0M490.7 910.2h0M489.5 899.8h0M489.2 911h0M490.2 909.6h0M489.3 906.4h0M490 905.3h0M489.6 906.5h0M489.3 899.4h0" stroke="#377EB8" stroke-width="3.8" stroke-linecap="round"/>
<g clip-path="url(#c17)" fill="#4DAF4A" stroke="#4DAF4A"><use href="#ee"/></g>
<path d="M497 837.6L499.2 833M499 865L499 867.9M511 883L511 890.4" stroke="#4DAF4A" stroke-width="3.8" stroke-linecap="round"/>
<path d="M499.2 833h0M497 837.6h0M497 856h0M502.4 855h0M509.6 855h0M510.4 863h0M499 865h0M511 883h0M496.2 893.3h0M495.5 875.4h0M496.3 887.3h0M496.1 884h0M495.2 889.1h0M496.5 896.8h0M496 892.7h0M496.8 879h0M496.5 889.9h0M496.8 878.5h0M496 896.2h0M496.8 875.7h0M495.5 884.2h0M495.2 899.4h0M496.4 874.7h0M496 894.6h0M495.4 878.9h0M496.7 898.6h0M496.1 873.4h0M499.8 891.9h0M499.4 900.8h0M498.8 889.2h0M499.8 897.8h0M499 894.9h0M499.1 883.1h0M499.7 894.3h0M499.6 887.6h0M500 883.3h0M500.4 891h0M499.1 888.9h0M499.8 897.4h0M500.6 888.5h0M499.7 887.3h0M500.2 900.2h0M499.3 888.4h0M499.6 876.7h0M501.3 891.2h0M502.2 901h0M502 880.7h0M502.5 900.7h0M501.6 891h0M502.4 897.5h0M502.3 894.6h0M503.5 888h0M502.5 883.6h0M502.6 891.6h0M502 891.4h0M502.7 897.6h0M502.5 880.8h0M502.4 882.7h0M502.2 901h0M503.1 902.9h0M502 881.6h0M501.6 900.6h0M502.4 881h0M502.2 880.6h0M502 869.4h0M506.1 897.9h0M505.2 905.5h0M506.4 905.8h0M505.4 898.5h0M506.4 899.7h0M506 893.6h0M505.7 893.9h0M505.6 896.6h0M506.6 900.1h0M506.2 900h0M505.3 908.4h0M505.8 894.7h0M506.1 909.1h0M505.4 898.7h0M505.6 892.6h0M508.7 899.7h0M507.7 908.9h0M508.3 907.2h0M508.3 904.1h0M508.1 898.6h0M508.4 900.9h0M509.1 902h0M508.8 895.8h0M508.1 902.9h0M508.4 897.8h0M508.4 896.5h0M507.4 896.3h0M508.6 903.5h0M507 897.6h0M508.4 894.9h0" stroke="#4DAF4A" stroke-width="3.8" stroke-linecap="round"/>
<g clip-path="url(#c18)" fill="#984EA3" stroke="#984EA3"><use href="#ee"/></g>
<path d="M517.6 859L517 855M532.4 869L531.6 864.4M532.4 872.4L532.4 869" stroke="#984EA3" stroke-width="3.8" stroke-linecap="round"/>
<path d="M517 855h0M517.6 859h0M517.6 866h0M519 878h0M531.6 855h0M531.6 864.4h0M532.4 869h0M532.4 872.4h0M530 891h0M527 891.6h0M517 906.9h0M516.7 898.6h0M516.8 908.6h0M516.8 902.2h0M517.3 907.6h0M516.5 903.1h0M516.3 898.1h0M515.8 905.5h0M516.8 903.5h0M516.4 895.9h0M516 893h0M518 897.4h0M518.8 905.9h0M520.1 902.3h0M519.2 907.1h0M518.8 905.8h0M519.3 907.2h0M518.7 907.9h0M519 900.8h0M518.5 909.1h0M519.3 907.4h0M519.9 898.4h0M519 907.7h0M518.5 896.4h0M521.9 911h0M520.6 907.5h0M520.1 908.6h0M521 903.6h0M520.7 904.5h0M520.6 906h0M520.7 910.5h0M521.5 909.8h0M521.7 912.8h0M521 903h0M523.8 913h0M524.9 912.1h0M524.7 914.1h0M524.4 913.9h0M524.7 916.1h0M524 916.6h0M524.1 914.4h0M524.3 911.6h0M527.6 917.7h0M527 916.6h0M530.6 914.3h0M530.3 906.2h0M531.1 913.3h0M530.6 914.1h0M530.9 912.8h0M530.7 906h0M529.8 905.5h0" stroke="#984EA3" stroke-width="3.8" stroke-linecap="round"/>
<g clip-path="url(#c19)" fill="#FF7F00" stroke="#FF7F00"><use href="#ee"/></g>
<path d="M539 859.6L539.6 855M543 876.4L543 882.9" stroke="#FF7F00" stroke-width="3.8" stroke-linecap="round"/>
<path d="M542.6 817h0M539.2 841.6h0M539.6 855h0M539 859.6h0M543 876.4h0M538.8 891.1h0M538.6 882.7h0M539.5 892.9h0M538.9 901.3h0M539.6 893.7h0M539.5 890.2h0M539.7 898.4h0M539.2 892.3h0M539.3 890.6h0M539.6 882.4h0M539.4 881.6h0M539.1 886.8h0M538.9 887.8h0M539.1 885.1h0M539.1 893.1h0M540.1 886.3h0M539.3 891.5h0M539 899.4h0M539.3 886.2h0M539.3 895.1h0M538.8 884.8h0M539.7 888.8h0M538.9 880.1h0M539.1 880.1h0M543.2 891.7h0M543.8 892.2h0M542.9 903.3h0M543 888h0M543 892.3h0M543.7 895.3h0M543.5 892.2h0M543.7 902.9h0M543.2 886.3h0M545 900.4h0M543.2 893h0M542.4 896.9h0M543.3 891.9h0M543.4 884.8h0M543.4 896.8h0M542.2 892.3h0M544.1 896.8h0M543.9 887.3h0M543.5 906.1h0M542.8 892.5h0M543.8 894.5h0M542.9 901.9h0M543.3 902.8h0M543.1 884.1h0M543.4 881.9h0M546.3 905.8h0M545.4 895.3h0M545.5 893.7h0M545.2 899.6h0M545.1 896.7h0M545.9 896.4h0M545.8 894.9h0M546.2 897.7h0M545.5 904.2h0M546.5 902.7h0M545.3 900.1h0M546.6 895h0M546.3 908.7h0M545.5 893.6h0M545.6 893h0M547.4 902.2h0M549.1 901.1h0M548.2 901.9h0M549 899.3h0M548.5 892.5h0M547.9 906.1h0M548.3 904.4h0M549.3 907.2h0M548.7 893.9h0M548.3 902.4h0M548.2 896.3h0M549.1 900.2h0M548.4 903.5h0M549.5 892h0M551.2 907.4h0M551.5 897.6h0M551.6 904.3h0M551.5 907.3h0M550.8 896.5h0M551.4 897.7h0M551.4 900.6h0M551.1 894.8h0M551.5 901.8h0M550.6 905.6h0M552 895.7h0M551.7 900.8h0M550.9 906.1h0M550.6 892.4h0M552 901.6h0M551.6 898.5h0M551.2 899.7h0M551.8 896.4h0M551.1 890.6h0M550.7 890.3h0" stroke="#FF7F00" stroke-width="3.8" stroke-linecap="round"/>
<g clip-path="url(#c20)" fill="#377EB8" stroke="#377EB8"><use href="#ee"/></g>
<path d="M558.4 875L558.4 880.9M572 870L572 875.1" stroke="#377EB8" stroke-width="3.8" stroke-linecap="round"/>
<path d="M573.6 849h0M573 855h0M574 855h0M573 863h0M558.4 863.6h0M558.4 875h0M572 870h0M557.5 896h0M558.5 895.1h0M558.3 894.5h0M558.4 901.1h0M558.4 899.2h0M558.4 895.9h0M558.8 894.3h0M558.1 891.6h0M561.6 910.3h0M560.8 905.1h0M561.2 905.2h0M560.3 910.4h0M561.8 907h0M561.1 899.9h0M564.5 908.9h0M564.5 912.4h0M564.4 909.3h0M564.1 909.8h0M564.7 907.8h0M568.4 912.1h0M567.4 904.6h0M567.9 901.9h0M567.5 909.3h0M566.6 906.7h0M567.9 908.5h0M567.7 905.3h0M567.2 901.7h0M570.3 891.2h0M569.9 903.5h0M570.1 887.4h0M569.6 907.1h0M570.2 903.9h0M571.6 900.3h0M569.6 905.2h0M570.8 901h0M570.4 904.9h0M570.4 890.2h0M570.4 890.3h0M570.2 895.9h0M570.3 888.6h0M571.5 906.7h0M570.6 897.8h0M570.4 894.3h0M570.2 886.8h0M572.5 879.8h0M571.7 889h0M572.6 878.4h0M572.4 898.1h0M571.7 881.2h0M572.8 894.8h0M572.9 894.6h0M571.8 899.4h0M572.7 882.2h0M571.8 893.1h0M572.3 877h0M572.8 892.6h0M571.2 886.8h0M572 881.4h0M572.1 877.8h0M571.7 879.4h0M572.4 897.5h0M571.8 882.7h0M572.5 881.9h0M572.3 893.8h0M572.4 891.9h0M572.8 879.8h0M572.6 895h0M572.6 902.6h0M571.8 876.2h0M572.1 875.5h0" stroke="#377EB8" stroke-width="3.8" stroke-linecap="round"/>
<g clip-path="url(#c21)" fill="#4DAF4A" stroke="#4DAF4A"><use href="#ee"/></g>
<path d="M582 875L582 878.8M588 884L588 884.9" stroke="#4DAF4A" stroke-width="3.8" stroke-linecap="round"/>
<path d="M581 864h0M582 875h0M581 864h0M584 875h0M587 875h0M589 868h0M592.4 872h0M588 884h0M581.6 882h0M580.6 890.8h0M581.2 893.3h0M580.7 905.4h0M579.3 886.3h0M579.9 897.7h0M580.1 888.5h0M580.1 892.5h0M580.5 903.9h0M580.7 895.6h0M581.1 891.3h0M580.5 895h0M580.2 889.3h0M580.3 893.1h0M579.7 887.2h0M580.4 885.9h0M584.2 898.4h0M584.1 896.8h0M583.6 896.9h0M583.6 889.8h0M583.6 906.7h0M583.3 901.6h0M583.9 899.3h0M583.6 890.2h0M583.7 895.4h0M582.9 895.2h0M583.6 905.8h0M583.8 897h0M583.3 890.6h0M582.7 889.7h0M583.3 889.6h0M583.1 890.3h0M584.2 887.3h0M583.4 893.1h0M584 894.9h0M583.8 899.1h0M583.4 895.2h0M583 886.6h0M583.1 879.7h0M587.8 904.1h0M587.8 900.1h0M587.2 895.4h0M586.8 903.1h0M587.4 897.4h0M587.8 900.7h0M588.3 899.9h0M587.2 895.1h0M589.3 905.1h0M588.9 903.2h0M589.4 891h0M590.1 897.9h0M588.2 890h0M588.1 900.9h0M589.9 900.2h0M589.8 890.6h0M588.9 899.6h0M589.6 889.6h0M589.3 898.9h0M589.9 899.3h0M589.8 901.4h0M589.7 888.2h0M592.1 907.1h0M591.9 901.7h0M591.6 896.9h0M591.6 900.6h0M592 906.1h0M592 897.8h0M592.3 893.8h0M591.6 903.7h0M592.4 893.2h0" stroke="#4DAF4A" stroke-width="3.8" stroke-linecap="round"/>
<g clip-path="url(#c22)" fill="#984EA3" stroke="#984EA3"><use href="#ee"/></g>
<path d="M601 844.4L599.2 839.6M599.6 848L601 844.4M600.4 852L599.6 848M600 855L600.4 852M600.4 868L600.4 875.3M614 883L614 885.5M606 895L606 901.5" stroke="#984EA3" stroke-width="3.8" stroke-linecap="round"/>
<path d="M601 819.6h0M601 827.4h0M599.2 839.6h0M601 844.4h0M599.6 848h0M600.4 852h0M600 855h0M600.4 862.4h0M600.4 868h0M612 862.4h0M614 876h0M614 883h0M606 895h0M597.4 902.9h0M598.3 897.6h0M598 903.4h0M597.5 904.7h0M597.4 901.4h0M597.5 905.5h0M597.6 894.6h0M597.9 892h0M601 894.8h0M600.7 898.9h0M600.1 900.3h0M600 891.1h0M601.9 892.1h0M599.8 893.8h0M601 895.5h0M600.1 894.8h0M600.9 887.9h0M601.8 896.6h0M602.2 897.2h0M602.9 909.3h0M603.1 898.2h0M601.9 903.7h0M602.5 902h0M603 903.4h0M602.7 896.3h0M603.4 910h0M601.7 904.8h0M602.8 910.5h0M602.7 896.3h0M605.5 912.1h0M605.6 906.1h0M605 911.6h0M605.7 912.8h0M605.5 909.8h0M606.1 908.4h0M605.1 913.7h0M605.9 904.5h0M605.1 908.1h0M605 910.4h0M605.1 912.6h0M606.1 911.8h0M605 901.3h0M609 911.9h0M608 911.3h0M609.8 907.3h0M609.1 908.6h0M609.3 906.6h0M612.1 906.3h0M611.5 907.7h0M612.7 903.8h0M611.6 906.6h0M612.7 899.9h0M612.5 899.5h0M612 896.8h0M611.9 901.4h0M611.9 908.2h0M612.9 901.3h0M612.8 908.1h0M612.5 895.8h0" stroke="#984EA3" stroke-width="3.8" stroke-linecap="round"/>
<g clip-path="url(#c23)" fill="#FF7F00" stroke="#FF7F00"><use href="#ee"/></g>
<path d="M621.6 871L621.6 867M623 878L623 881.4M627 894L627 895.9" stroke="#FF7F00" stroke-width="3.8" stroke-linecap="round"/>
<path d="M621 813h0M621.6 859h0M621.6 867h0M621.6 871h0M627 870.6h0M623 878h0M627 894h0M620.6 889.1h0M620.8 900.4h0M621.4 889.9h0M620.9 901.7h0M621 889.8h0M621.8 891.9h0M620.6 897.4h0M622.1 892.3h0M620.8 903.8h0M621 899.4h0M620.7 888.7h0M623.8 890.1h0M623.8 890h0M625.1 893.6h0M623.7 894h0M622.5 900.6h0M623.6 890.6h0M623.6 902.5h0M623.9 905.5h0M624.1 905.5h0M623.3 898.4h0M624 884.8h0M623.9 896.9h0M623.8 897.2h0M623.5 890.2h0M623.1 889.9h0M624 890h0M623.9 883.3h0M623.8 883.7h0M623.7 884.2h0M624 891.1h0M623 891.5h0M624 905h0M623.5 883.2h0M626.6 907.2h0M626.1 904.9h0M625.9 900.3h0M625.2 900.5h0M626.2 909.1h0M625.4 900h0M626.2 899.4h0M628.9 910.3h0M628.3 906.9h0M628.1 910.2h0M628.3 906.6h0M627.5 911.5h0M628.2 904.8h0M631 909.3h0M630.6 914.3h0M630.6 909.4h0M631.1 908.2h0M635.3 909.9h0M634.9 910.6h0M634.3 910.7h0M634.9 910.8h0M635.3 906.6h0M634.6 910h0M635.4 905h0M635.2 907.2h0M635 897.9h0M634.6 896.9h0" stroke="#FF7F00" stroke-width="3.8" stroke-linecap="round"/>
<g clip-path="url(#c24)" fill="#377EB8" stroke="#377EB8"><use href="#ee"/></g>
<path d="M643 879L643 876M655.6 871.6L655.6 871.9M643 888L643 893.6" stroke="#377EB8" stroke-width="3.8" stroke-linecap="round"/>
<path d="M655 832.6h0M656.4 855.6h0M643 860.4h0M643.6 868h0M646.4 868.6h0M643 876h0M643 879h0M653.6 864h0M657 864h0M655.6 871.6h0M643 888h0M650.4 899h0M644.3 910.1h0M644.2 901.7h0M644.2 902.1h0M644.1 898.3h0M644 903.6h0M644 902.7h0M645 899.1h0M643.8 907.8h0M643.8 902.3h0M644.7 904.3h0M643.2 900.9h0M644.6 901.5h0M644.4 898.2h0M644.6 894.5h0M646 911.2h0M645.9 909.4h0M646.6 904.6h0M645.8 912.1h0M647.4 909.6h0M646.1 902.6h0M646.4 902.5h0M646.2 908.1h0M645.6 908.8h0M646 905.3h0M646.4 899.8h0M649.3 905.6h0M649.7 913.2h0M649.5 910.6h0M649.2 907.9h0M648.4 904.1h0M650.6 910.8h0M648.8 903.5h0M649.8 896.5h0M653.7 895.1h0M652.5 902.3h0M653.3 885.9h0M653.1 884.2h0M652.6 905h0M653.3 889.3h0M653.9 885.5h0M652.6 886.5h0M652.5 901.4h0M653 901.1h0M652.6 897.8h0M653 904.8h0M652.9 891.9h0M652.1 898.1h0M652.5 898.5h0M652.8 899h0M652.9 884h0M652.8 879.2h0M654.7 900.3h0M656 892.1h0M655.8 888.2h0M655.9 886.7h0M655.6 893.8h0M656.3 899.6h0M656.7 888.2h0M656.4 888.9h0M655.7 891h0M655.6 893.1h0M655.5 886h0M656 882.8h0M655.7 881.9h0" stroke="#377EB8" stroke-width="3.8" stroke-linecap="round"/>
<g clip-path="url(#c25)" fill="#4DAF4A" stroke="#4DAF4A"><use href="#ee"/></g>
<path d="M673.6 871.6L672 868M674.4 878L674.4 881.5M669 880L669 886.9" stroke="#4DAF4A" stroke-width="3.8" stroke-linecap="round"/>
<path d="M677 842.4h0M678 855h0M677.6 864.4h0M675 864.4h0M672 868h0M673.6 871.6h0M674.4 878h0M669 880h0M664.1 883.8h0M663.6 885h0M663.6 901.4h0M663.5 901.9h0M664.6 896.6h0M664.4 897.2h0M663.9 882h0M663.5 882.7h0M663.8 892.5h0M663.8 887.3h0M664.9 896.6h0M664 896.9h0M663.6 882h0M667 898h0M666.8 903.5h0M666.4 898.6h0M666.5 891.9h0M666.9 899.7h0M666.2 906.6h0M666 893.5h0M666.8 894.4h0M666.2 899h0M666.6 891.3h0M666.2 887.1h0M669 905.9h0M669.2 896.8h0M669.3 895.6h0M669.6 905.7h0M669.2 892.8h0M668.2 890.7h0M669.1 892.5h0M669.6 904.3h0M668.8 892.4h0M669.4 896.2h0M669.5 906h0M669 903.1h0M669.3 899.6h0M668.5 896.7h0M668.5 900.1h0M669.1 890.5h0M669.1 889.9h0M669.5 888.5h0M671.2 885.9h0M671.8 905.8h0M672.1 885.3h0M672.1 889.3h0M672.1 902.5h0M671.3 889.3h0M670.9 897.3h0M672.5 885.7h0M671.9 905.8h0M671.8 901.9h0M672.2 887.5h0M671.8 905.2h0M672.4 898.7h0M671 894.1h0M672.3 889.4h0M672.2 892.5h0M671.3 894.8h0M672 890.7h0M671.5 887.9h0M672.2 890.1h0M672.1 885h0M675.5 903h0M675.9 902.7h0M676.5 884.3h0M675.4 894.6h0M675.5 883h0M675.1 901.2h0M675.6 900.8h0M674.9 888.7h0M675.5 893.5h0M676 886.4h0M675.8 893.2h0M675.2 899.9h0M675.1 881.2h0M675.8 891.9h0M674.5 885.1h0M675.2 892.2h0M674.9 897.7h0M676.5 885.3h0M675.3 887h0M675.2 887.3h0M675.7 884.1h0M674.7 901.2h0M674.8 900.6h0M675.3 896.7h0M675.8 880.5h0" stroke="#4DAF4A" stroke-width="3.8" stroke-linecap="round"/>
<line x1="40.5" y1="809.5" x2="682" y2="809.5" stroke="#ea6a6a" stroke-width="1" stroke-dasharray="2.3 1.86"/>
<circle cx="500.4" cy="805.6" r="3.2" fill="#f00"/>
<g stroke="#606060" stroke-width="1" fill="none">
<path d="M41.2 760.5V923.5"/>
<path d="M35.7 923.5H41.2"/>
<path d="M35.7 896.3H41.2"/>
<path d="M35.7 869.2H41.2"/>
<path d="M35.7 842H41.2"/>
<path d="M35.7 814.8H41.2"/>
<path d="M35.7 787.7H41.2"/>
<path d="M35.7 760.5H41.2"/>
<path d="M41.2 930.5H670.8"/>
<path d="M41.2 930.5v5.2"/>
<path d="M59 930.5v5.2"/>
<path d="M87.8 930.5v5.2"/>
<path d="M116.8 930.5v5.2"/>
<path d="M143.6 930.5v5.2"/>
<path d="M168.5 930.5v5.2"/>
<path d="M199.4 930.5v5.2"/>
<path d="M227.7 930.5v5.2"/>
<path d="M256.5 930.5v5.2"/>
<path d="M285 930.5v5.2"/>
<path d="M314.8 930.5v5.2"/>
<path d="M343.8 930.5v5.2"/>
<path d="M372.8 930.5v5.2"/>
<path d="M399.6 930.5v5.2"/>
<path d="M422.7 930.5v5.2"/>
<path d="M445 930.5v5.2"/>
<path d="M464.9 930.5v5.2"/>
<path d="M482.8 930.5v5.2"/>
<path d="M502.4 930.5v5.2"/>
<path d="M524.3 930.5v5.2"/>
<path d="M545.4 930.5v5.2"/>
<path d="M565.7 930.5v5.2"/>
<path d="M586 930.5v5.2"/>
<path d="M606.8 930.5v5.2"/>
<path d="M628.9 930.5v5.2"/>
<path d="M650 930.5v5.2"/>
<path d="M670.8 930.5v5.2"/>
</g>
<text transform="translate(28.7 923.5) rotate(-90)" text-anchor="middle" font-family="Liberation Sans" font-size="9" fill="#111" stroke="#111" stroke-width="0.2">0</text>
<text transform="translate(28.7 896.3) rotate(-90)" text-anchor="middle" font-family="Liberation Sans" font-size="9" fill="#111" stroke="#111" stroke-width="0.2">1</text>
<text transform="translate(28.7 869.2) rotate(-90)" text-anchor="middle" font-family="Liberation Sans" font-size="9" fill="#111" stroke="#111" stroke-width="0.2">2</text>
<text transform="translate(28.7 842) rotate(-90)" text-anchor="middle" font-family="Liberation Sans" font-size="9" fill="#111" stroke="#111" stroke-width="0.2">3</text>
<text transform="translate(28.7 814.8) rotate(-90)" text-anchor="middle" font-family="Liberation Sans" font-size="9" fill="#111" stroke="#111" stroke-width="0.2">4</text>
<text transform="translate(28.7 787.7) rotate(-90)" text-anchor="middle" font-family="Liberation Sans" font-size="9" fill="#111" stroke="#111" stroke-width="0.2">5</text>
<text transform="translate(28.7 760.5) rotate(-90)" text-anchor="middle" font-family="Liberation Sans" font-size="9" fill="#111" stroke="#111" stroke-width="0.2">6</text>
<text transform="translate(11.2 828.7) rotate(-90)" text-anchor="middle" font-family="Liberation Serif" font-size="11.4" fill="#111">-lg(p)</text>
<text x="0" y="766" font-family="Liberation Sans" font-weight="bold" font-size="26" fill="#000">e</text>
<defs><path id="ef" d="M44 1113.2L44 1113.2L44.4 1102.7L46 1100.9L48 1096.4L49.4 1094.6L51 1097.3L53 1104.5L55 1107.2L57 1109L59 1109.9L61 1108.1L63 1106.3L65 1105.4L67 1104.5L69 1102.7L70.6 1100.9L72 1101.8L73.8 1113.2L75 1113.2L75.6 1097.3L77 1093.7L78.6 1092.8L80 1095.5L81.4 1102.7L83 1108.1L85 1109L87 1104.5L88.6 1103.6L90.6 1104.5L92.6 1105.4L94.6 1100.9L96.6 1097.3L98 1095.5L99.4 1096.4L100.6 1113.2L102 1113.2L102.6 1097.3L104 1093.7L105.4 1094.6L107 1099.1L109 1104.5L111 1108.1L113 1110.9L115 1113.2L117 1109.9L119 1107.2L121 1104.5L123 1100.9L125 1096.4L127 1093.7L128.6 1094.6L130 1099.1L131.8 1113.2L133 1113.2L133.6 1097.3L135 1096.4L136.6 1098.2L138 1101.8L140 1104.5L142 1106.3L144 1106.3L146 1104.5L148 1102.7L150 1100.9L151.4 1100L153.8 1113.2L155 1113.2L155.6 1099.1L157.4 1096.4L159 1094.6L161 1093.7L163 1094.6L165 1095.5L167 1099.1L169 1104.5L171.8 1108.1L172 1108.1L174 1104.5L176 1099.1L178 1095.5L179.6 1094.6L181 1096.4L182.4 1113.2L184 1113.2L184.6 1100.9L186 1099.1L188 1100L190 1100.9L192 1102.7L194 1104.5L196 1106.3L198 1107.2L200 1108.1L202 1109L204 1108.1L206 1106.3L208 1102.7L210 1098.2L212 1094.6L213.6 1096.4L214.8 1113.2L216.4 1113.2L217 1095.5L218.4 1093.7L220 1095.5L222 1099.1L224 1100.9L226 1104.5L228 1109.9L230 1110.9L232 1109.9L234 1104.5L235.6 1097.3L237 1095.5L238 1099.1L240 1113.2L241 1113.2L241.6 1097.3L243 1093.7L244.4 1088.3L245.6 1087.4L247 1094.6L249 1108.1L251 1110.9L253 1112.9L255 1110.9L257 1108.1L259 1105.4L261 1102.7L263 1099.1L265 1097.3L267 1098.2L269 1097.3L271 1099.1L272.8 1113.2L274 1113.2L274.6 1099.1L276 1096.4L277.6 1095.5L279 1099.1L281 1102.7L283 1104.5L285 1102.7L287 1099.1L289 1096.4L291 1093.7L293 1092.8L294.4 1093.7L296.8 1113.2L298 1113.2L298.6 1097.3L300 1092.8L302 1094.6L304 1100.9L306 1102.7L308.8 1104.5L309 1104.5L311 1102.7L313 1100.9L315 1100.9L317 1097.3L319 1096.4L321 1093.7L323 1091.9L324.6 1092.8L326 1095.5L327.4 1097.3L328.6 1113.2L330 1113.2L330.6 1100.9L332 1099.1L334 1100L336 1100.9L338 1102.7L340 1104.5L342 1102.7L344 1100.9L346 1102.7L348 1104.5L350 1101.8L352 1099.1L354 1098.2L356 1099.1L358 1113.2L359 1113.2L359.6 1100.9L361 1099.1L362.6 1100L364 1102.7L366 1106.3L368 1108.1L370 1107.2L372 1106.3L374 1104.5L376 1101.8L378 1100.9L380 1100.9L382 1100.9L384 1101.8L387 1113.2L388 1113.2L388.6 1097.3L390 1096.4L391.4 1098.2L393 1100.9L395 1102.7L397 1101.8L399 1100.9L401 1102.7L403 1102.7L405 1100.9L407 1100L409 1100.9L411 1102.7L412.6 1113.2L413.4 1113.2L414 1091.9L415 1091L416.6 1093.7L418 1090.1L420 1086.5L422 1085.6L424 1084.7L426 1085.6L428 1083.8L430 1081.1L431.4 1083.8L433 1113.2L434 1113.2L434.6 1095.5L436 1093.7L438 1091L440 1090.1L442 1091.9L444 1093.7L445.8 1095.5L446 1099.1L448 1097.3L450 1095.5L452 1093.7L454 1094.6L455.6 1113.2L457 1113.2L457.6 1100L459 1099.1L461 1099.1L463 1096.4L465 1096.4L467 1098.2L469 1100L470.4 1100.9L471.6 1102.7L472.8 1113.2L474 1113.2L474.6 1102.7L476 1100.9L477.6 1101.8L479 1106.3L481 1110.9L483 1109.9L485 1106.3L487 1100.9L489 1100L490.4 1101.8L491.6 1113.2L493 1113.2L493.6 1091.9L495 1090.1L497 1088.3L499 1086.5L500.4 1088.3L502 1091L504 1093.7L506 1097.3L508 1096.4L510 1097.3L511.6 1099.1L512.8 1113.2L514 1113.2L514.6 1096.4L516 1093.7L517.6 1095.5L519 1098.2L521 1100L523 1102.7L525 1103.6L527 1101.8L529 1099.1L531 1096.4L532.4 1093.7L533.6 1095.5L535.2 1113.2L536.4 1113.2L537 1095.5L538.4 1092.8L540 1090.1L541.6 1088.3L543 1093.7L545 1095.5L547 1096.4L549 1095.5L551 1096.4L553 1097.3L554.8 1113.2L555.6 1113.2L556.2 1100.9L557.6 1099.1L559.6 1097.3L561.6 1095.5L563.6 1096.4L565.6 1099.1L567.6 1100L569.6 1100.9L571.6 1100L573.6 1099.1L575 1100L576.8 1113.2L578.4 1113.2L579 1091.9L581 1090.1L582.8 1090.1L583 1091.9L585 1090.1L587 1089.2L589 1088.3L591 1087.4L593 1088.3L595.2 1113.2L596.6 1113.2L597.2 1093.7L598.4 1086.5L599.6 1082.9L601 1084.7L602.4 1091.9L604.4 1095.5L606.4 1099.1L608.4 1095.5L610.4 1091.9L612.4 1091L614.4 1091.9L616 1095.5L617.6 1113.2L619 1113.2L619.6 1095.5L621 1094.6L622.4 1094.6L624 1095.5L626 1097.3L628 1100.9L630 1103.6L632 1102.7L634 1101.8L636 1101.8L638 1102.7L639.6 1104.5L640.8 1113.2L641.6 1113.2L642.2 1098.2L643.6 1097.3L645.6 1099.1L647.6 1100.9L649.6 1099.1L651.6 1096.4L653.6 1093.7L655.6 1090.1L657.6 1087.4L659.6 1113.2L661 1113.2L661.6 1099.1L663 1100.9L665 1103.6L667 1104.5L669 1103.6L671 1102.7L673 1100.9L675 1099.1L677 1097.3L679 1095.5L680 1097.3L680.8 1113.2L680.8 1113.2Z" stroke-width="3.8" stroke-linejoin="round"/></defs>
<g clip-path="url(#c0)" fill="#377EB8" stroke="#377EB8"><use href="#ef"/></g>
<path d="M49.4 1071L49.4 1071.9" stroke="#377EB8" stroke-width="3.8" stroke-linecap="round"/>
<path d="M45.4 1041h0M45.4 1065.4h0M58.6 1065.6h0M60 1065.6h0M56 1078h0M49.4 1071h0M71 1076.4h0M46.4 1093.8h0M45.5 1099.2h0M46 1100h0M46.4 1093.9h0M46.3 1092.9h0M45.8 1092.6h0M49.6 1088.5h0M49.2 1088.5h0M48.8 1089.2h0M49.5 1080.5h0M48.5 1083.8h0M48.9 1093.8h0M48.5 1080.5h0M48.8 1084.3h0M49.4 1081.3h0M48.8 1079.3h0M49.2 1075.4h0M52.5 1100h0M52.6 1103.8h0M52.3 1101h0M53.3 1102.9h0M53.8 1103.5h0M52.5 1097.4h0M53.6 1097h0M56.4 1105.7h0M57.4 1106.3h0M56.1 1104.3h0M58.7 1108.3h0M59.2 1107h0M59.4 1102h0M63.1 1102.8h0M63.4 1102.9h0M63.7 1100.5h0M63.5 1102.2h0M63.9 1099.9h0M63.6 1099.2h0M66.4 1104.3h0M65.6 1101.6h0M66.6 1103.7h0M66.8 1099.7h0M66.8 1098.9h0M66.2 1096.8h0M69.7 1097.8h0M69.5 1094.3h0M70.3 1092h0M69.9 1091.1h0M70.6 1091h0M69.4 1093.9h0M70.6 1100.9h0M70.2 1090.9h0M70 1087.3h0" stroke="#377EB8" stroke-width="3.8" stroke-linecap="round"/>
<g clip-path="url(#c1)" fill="#4DAF4A" stroke="#4DAF4A"><use href="#ef"/></g>
<path d="M87.4 1082L88.6 1077M88 1087L87.4 1082M88 1087L88 1092.7M98.6 1050.4L98 1049M84 1101.6L84 1102.9" stroke="#4DAF4A" stroke-width="3.8" stroke-linecap="round"/>
<path d="M80.6 1051h0M80.6 1056.4h0M88.6 1077h0M87.4 1082h0M88 1087h0M98.6 1040.6h0M98 1049h0M98.6 1050.4h0M96 1056h0M96 1061.6h0M84 1101.6h0M77.2 1087.7h0M77.4 1089h0M78.4 1084.9h0M77.4 1086.1h0M77.5 1077h0M79 1085.5h0M77.9 1086.5h0M77.1 1085.5h0M77.8 1082h0M77.2 1085.2h0M77.6 1091.3h0M76.5 1081.5h0M77.4 1075.2h0M78 1069.6h0M80.3 1085.4h0M81.3 1082.1h0M80.7 1096.1h0M79.8 1095.1h0M80.5 1093.5h0M80.7 1097.9h0M80.5 1096.9h0M81.3 1090.1h0M80.7 1090.4h0M80.5 1084.4h0M80.7 1085.9h0M80.5 1085.7h0M81.3 1089.2h0M81 1095.8h0M80.6 1097.6h0M80.5 1088h0M80.6 1080.7h0M82.9 1108h0M83.1 1107.1h0M83 1104.1h0M84 1106.2h0M83.6 1103.1h0M87.9 1103.3h0M86.6 1099.1h0M87 1102.6h0M86.7 1103.2h0M86.6 1104.4h0M87.3 1103.9h0M87.4 1096.3h0M87.1 1101.6h0M87.8 1100.1h0M87.4 1097.4h0M87.2 1097.5h0M87 1093.9h0M90.6 1102.1h0M91.2 1096.8h0M90 1101.7h0M90 1100.9h0M89.6 1100.3h0M89.7 1103.8h0M89.9 1095.7h0M93.1 1100.2h0M93 1102.6h0M92.3 1102.9h0M92.2 1100.1h0M92.1 1098h0M92.9 1097.6h0M91.8 1097.6h0M92.9 1096.7h0M92.8 1096.6h0M94.9 1089.4h0M95.3 1090.8h0M94.7 1088.5h0M95.2 1099.7h0M94.9 1099h0M95.6 1089.9h0M95.2 1094.2h0M95 1091h0M95 1088.4h0M98.4 1082.4h0M99.1 1086.2h0M98.9 1093.7h0M98.1 1081.6h0M98.7 1088.4h0M97.9 1083.5h0M97.9 1094.9h0M98 1086h0M99.2 1089.8h0M98.5 1081.4h0M98.5 1081.3h0" stroke="#4DAF4A" stroke-width="3.8" stroke-linecap="round"/>
<g clip-path="url(#c2)" fill="#984EA3" stroke="#984EA3"><use href="#ef"/></g>
<path d="M104 1044.4L104 1040.6M104 1057.6L104 1056M126 1041L125.4 1037M128 1050L126 1049M128 1057.6L126.6 1056M127 1064L127 1069.9M126 1072L126 1072.9M129 1071L129 1074.8" stroke="#984EA3" stroke-width="3.8" stroke-linecap="round"/>
<path d="M104 1028.4h0M104 1040.6h0M104 1044.4h0M104 1056h0M104 1057.6h0M108 1068.4h0M113.4 1089h0M125 1025.6h0M125.4 1037h0M126 1041h0M126 1049h0M128 1050h0M126.6 1056h0M128 1057.6h0M121 1064h0M127 1064h0M126 1072h0M129 1071h0M126 1078.4h0M104.3 1081.9h0M103.9 1083.5h0M104.5 1092.3h0M104 1088.9h0M104 1092h0M104.4 1081h0M104.2 1086.3h0M104.4 1091.7h0M104.3 1077.8h0M105.5 1084.9h0M104.5 1077.4h0M103.6 1074.6h0M107.4 1084.7h0M107.5 1089.8h0M106.7 1096h0M107.2 1083.1h0M106.2 1087.7h0M107.1 1097.3h0M106.6 1094.9h0M107.5 1083.6h0M106.8 1089.6h0M106.9 1089.5h0M106.5 1084.8h0M106.3 1090.4h0M106.5 1082.4h0M111.1 1103.4h0M109.8 1104h0M110.2 1102.7h0M113.1 1109.3h0M113 1109.3h0M113.1 1109.1h0M113.7 1102.4h0M117.9 1105.9h0M117.9 1106.1h0M115.9 1106.2h0M117.2 1107.3h0M116.6 1105.8h0M119.1 1103.6h0M120.4 1105.5h0M119.5 1103.2h0M119.2 1102.1h0M119.9 1098.5h0M120.6 1098.7h0M120.6 1105.3h0M119.8 1098.1h0M120.2 1097.4h0M122.7 1095h0M123.8 1092.3h0M123.6 1097.6h0M123 1091.3h0M123.8 1098h0M123.7 1098.4h0M123.4 1089.3h0M122.9 1084.4h0M125.7 1078.2h0M125.4 1082.8h0M126.9 1080.9h0M126.7 1094h0M125 1081.8h0M125.7 1093.1h0M125.4 1095.4h0M125.3 1089.8h0M126.5 1087.8h0M125.6 1093.4h0M125.4 1077.2h0M125 1086.1h0M126 1078h0M125.9 1083.6h0M126.4 1091h0M125.4 1077h0M126 1074.5h0M128.9 1087.9h0M128.4 1087.3h0M129.1 1086.8h0M129.4 1091.8h0M127.5 1089.1h0M128.5 1084.9h0M129 1083.4h0M129.2 1081.6h0" stroke="#984EA3" stroke-width="3.8" stroke-linecap="round"/>
<g clip-path="url(#c3)" fill="#FF7F00" stroke="#FF7F00"><use href="#ef"/></g>
<path d="M150.6 1077.6L150.6 1085" stroke="#FF7F00" stroke-width="3.8" stroke-linecap="round"/>
<path d="M136.6 1049.4h0M136 1062.4h0M151 1041.6h0M151 1068.6h0M150.6 1077.6h0M136.2 1088.3h0M136 1084.6h0M136.2 1093.1h0M136.7 1095.2h0M135.9 1088.5h0M135 1088.7h0M135.7 1094h0M136.1 1094.9h0M135.9 1083.8h0M138.2 1101.4h0M137.6 1097.8h0M138.2 1098.3h0M137.7 1098h0M137.6 1097.8h0M138.1 1094.4h0M137.8 1101.7h0M138.1 1091.1h0M137.9 1090h0M140.5 1098.6h0M140.3 1100.5h0M140.6 1101.8h0M140.8 1100.1h0M140.2 1102.2h0M140.6 1103.6h0M141.2 1101.7h0M140.3 1097.2h0M140.1 1095.3h0M143.9 1103.6h0M143.7 1104.3h0M143.2 1104.3h0M144.3 1100.6h0M147.7 1097.4h0M148.4 1096.2h0M147.4 1098.6h0M149 1100.2h0M147.7 1097.9h0M146.6 1094.5h0M151.1 1094.9h0M150.2 1098.8h0M151 1092h0M149.9 1094.2h0M150.6 1093.9h0M150.8 1100.7h0M150.3 1090.7h0M150.7 1089.6h0" stroke="#FF7F00" stroke-width="3.8" stroke-linecap="round"/>
<g clip-path="url(#c4)" fill="#377EB8" stroke="#377EB8"><use href="#ef"/></g>
<path d="M164 1069L164 1072.9M179 1066.4L179 1072.7" stroke="#377EB8" stroke-width="3.8" stroke-linecap="round"/>
<path d="M161.6 1025h0M164.6 1039h0M164.6 1045.6h0M158 1052.4h0M157.4 1059.6h0M160.6 1061h0M163 1056h0M164 1069h0M179 1020.6h0M179 1030h0M177 1060.4h0M179 1066.4h0M157.9 1084.4h0M157.8 1085.8h0M158 1084.9h0M158.4 1090.5h0M158.4 1086.5h0M157.6 1094.6h0M159 1083h0M158.4 1089.8h0M158.8 1092.5h0M158.4 1080.1h0M158 1076.6h0M161.2 1086.3h0M162.3 1093.7h0M161.2 1090.5h0M161 1080.3h0M161.7 1085.7h0M160.8 1087.8h0M161.1 1073.3h0M161.5 1072.2h0M160.5 1086.2h0M160.8 1082.7h0M160.7 1093.2h0M160.7 1091.8h0M161.5 1092.6h0M161.2 1084.6h0M161.7 1073.4h0M160.8 1083.6h0M162.1 1077.1h0M160.6 1080.4h0M160.8 1078.3h0M161.1 1088.6h0M161.1 1071.2h0M164.8 1083.1h0M165.1 1087.8h0M165 1087.6h0M165.1 1094.6h0M164.3 1086.2h0M165.4 1093.5h0M165.8 1078h0M165.2 1093.3h0M165.7 1077.7h0M164.4 1084.2h0M165.4 1080.9h0M164.3 1082.3h0M164.4 1087.2h0M164.1 1079.3h0M165 1076.9h0M165.2 1080.3h0M165.5 1076.2h0M167.4 1091.8h0M167.6 1088h0M168.1 1095.5h0M167.8 1093.7h0M167.8 1098.4h0M167.4 1085.4h0M167.4 1094.1h0M166.8 1089.7h0M167.4 1098h0M167.2 1093.4h0M167.5 1092.9h0M167.2 1085h0M166.5 1099.3h0M167.2 1091.4h0M167.8 1084.6h0M170.9 1105.9h0M171.3 1105h0M170.4 1101.4h0M173.6 1102.1h0M173.3 1104.7h0M173.1 1102.7h0M173.5 1099.8h0M176.4 1095.1h0M176.7 1094.7h0M177.6 1092.8h0M176.6 1088.1h0M177.3 1086.6h0M175.9 1092.4h0M176.7 1086.5h0M176.3 1080.4h0M179.1 1082.4h0M178.8 1088.2h0M178.9 1078.9h0M178.9 1092.9h0M179.3 1082.3h0M179.4 1083.1h0M178.9 1078.9h0M179.6 1078.3h0M179.1 1088.9h0M178.3 1092h0M179 1088.5h0M178.9 1087.4h0M179.1 1077.2h0M178.8 1075.7h0" stroke="#377EB8" stroke-width="3.8" stroke-linecap="round"/>
<g clip-path="url(#c5)" fill="#4DAF4A" stroke="#4DAF4A"><use href="#ef"/></g>
<path d="M192 1083L192 1089.9M212 1069L212 1071.9" stroke="#4DAF4A" stroke-width="3.8" stroke-linecap="round"/>
<path d="M185.6 1071.6h0M194 1071.4h0M187 1090h0M192 1083h0M201 1094h0M212 1069h0M186.4 1098.6h0M187.3 1089.6h0M186.3 1096.3h0M187.9 1088.4h0M187.3 1091.4h0M186.7 1092.1h0M187.1 1088.4h0M190.1 1093.4h0M189.4 1098h0M190.4 1095.9h0M190.8 1096.7h0M189.2 1090h0M190 1098.7h0M191.1 1089.7h0M190.5 1088.6h0M189.9 1093.5h0M191.2 1092.1h0M190 1088.1h0M190.1 1087.6h0M192.1 1095.8h0M191.7 1094h0M192.5 1097.1h0M192.4 1102.2h0M192 1095.4h0M192.9 1103h0M192.9 1096.5h0M192.8 1093.3h0M195 1102.1h0M196.8 1100.3h0M196.1 1101.3h0M195.8 1100.3h0M195.9 1095h0M198.5 1107h0M198.4 1104.8h0M198.3 1103.7h0M198.8 1102.9h0M200.4 1107.9h0M200.4 1108.4h0M201.6 1104.3h0M200.5 1106.5h0M200.9 1103.4h0M200.8 1099.9h0M203.5 1106.3h0M201.6 1105.5h0M202.8 1105.1h0M205.1 1105.6h0M205.6 1105h0M205.2 1103.1h0M205.3 1101.3h0M209.3 1096.1h0M208.5 1091.4h0M208.2 1093.9h0M209.5 1096.2h0M207.3 1094.9h0M208.9 1099.3h0M207.5 1091.7h0M209.1 1093.2h0M209.1 1092.6h0M208.3 1101.6h0M209.4 1099.8h0M207.8 1097.5h0M208.9 1099.4h0M208.6 1088.5h0M208 1086.3h0M211.3 1095.8h0M211 1089.5h0M210.5 1089.4h0M210.6 1087.2h0M211.4 1093.6h0M210.9 1095.4h0M210.2 1084.9h0M210.8 1084.7h0" stroke="#4DAF4A" stroke-width="3.8" stroke-linecap="round"/>
<g clip-path="url(#c6)" fill="#984EA3" stroke="#984EA3"><use href="#ef"/></g>
<path d="M238 1025.6h0M238 1040.6h0M237 1059.6h0M218.4 1060h0M224 1075h0M236 1067.4h0M219.2 1092.9h0M219.9 1088h0M219.2 1079.7h0M220.6 1087.9h0M220 1091.8h0M219.8 1094.2h0M220.6 1094.6h0M220.4 1087.2h0M220.1 1091.3h0M219.6 1080.2h0M219.3 1080.4h0M219.7 1078.6h0M220.3 1075.3h0M222 1088.9h0M222.7 1087.4h0M222.9 1088.2h0M223.5 1098.6h0M223.4 1086.6h0M222.8 1086.4h0M222.6 1090.1h0M221.9 1086.2h0M222.2 1089.6h0M223 1099.4h0M223.3 1095.6h0M222.8 1093.9h0M222.7 1085.4h0M223 1080.4h0M225 1096.2h0M225.2 1100.3h0M223.8 1100.7h0M225.1 1093.9h0M224.7 1099.8h0M225.2 1093.5h0M225.3 1093.4h0M227.9 1108.8h0M227.8 1109.9h0M227.7 1107.6h0M227.7 1106.8h0M228.8 1104.5h0M232.1 1107.6h0M232.5 1107.1h0M232.8 1106.5h0M232.2 1105.3h0M232.1 1091.5h0M235.1 1089.3h0M235.8 1091.1h0M235.4 1093.2h0M235.8 1090.3h0M235.3 1091.8h0M235.4 1094.4h0M235.3 1088.9h0M234.9 1085.4h0" stroke="#984EA3" stroke-width="3.8" stroke-linecap="round"/>
<g clip-path="url(#c7)" fill="#FF7F00" stroke="#FF7F00"><use href="#ef"/></g>
<path d="M245.6 1041h0M245.4 1046.4h0M269.6 1044.4h0M270 1055.6h0M267.4 1060h0M245.6 1064h0M244.5 1080.9h0M244.2 1073.5h0M243.7 1077.7h0M244.3 1084.7h0M244.2 1076.3h0M244.3 1083.5h0M244.5 1084h0M244.8 1085.1h0M243.6 1088.7h0M244.1 1071.8h0M246.7 1069.5h0M247 1072.1h0M246.4 1069.4h0M246.1 1070.9h0M245.9 1091.6h0M246.7 1076h0M246.6 1069.7h0M246.3 1081.8h0M246.2 1078.9h0M246.3 1086.1h0M246.1 1092.1h0M246.7 1072.7h0M246 1084.5h0M246.8 1072.4h0M246.5 1074.5h0M247.3 1075h0M246.6 1081.8h0M247 1080.5h0M246.1 1084h0M245.9 1085.9h0M246.6 1077.5h0M247 1068.5h0M249.6 1105.8h0M249.7 1104.8h0M248.7 1105h0M249.3 1108.6h0M249.6 1104.1h0M253.9 1111.3h0M252.9 1111.9h0M253.4 1110.2h0M253.4 1106.8h0M255.9 1108.2h0M256.3 1107.8h0M257.5 1106.8h0M255.9 1108.2h0M256.5 1103.8h0M261.3 1097.7h0M260.7 1099.5h0M259.7 1098.8h0M260.3 1101h0M259.4 1097h0M261.7 1091.7h0M263.1 1093h0M262.6 1089.8h0M262.1 1098.9h0M262.1 1089.7h0M262.9 1087.2h0M262.6 1098.9h0M261.8 1092.6h0M261.4 1098.8h0M262.4 1086.8h0M261.7 1098h0M262 1092.9h0M262.3 1086.1h0M266.4 1087.7h0M265.6 1092.2h0M266.2 1096.3h0M266.4 1086.5h0M266.3 1090.7h0M265.9 1093.4h0M266.1 1086.5h0M270.5 1087.1h0M270 1095.6h0M269.6 1092.6h0M269.4 1092.2h0M270 1090.6h0M269.4 1097h0M270.3 1087h0" stroke="#FF7F00" stroke-width="3.8" stroke-linecap="round"/>
<g clip-path="url(#c8)" fill="#377EB8" stroke="#377EB8"><use href="#ef"/></g>
<path d="M291.4 1060.6L289.4 1056M294 1063.6L294 1069.3M283 1090L283 1093.9" stroke="#377EB8" stroke-width="3.8" stroke-linecap="round"/>
<path d="M289.4 1056h0M291.4 1060.6h0M289 1066h0M294 1063.6h0M288 1083h0M283 1090h0M277.8 1094.9h0M278.9 1089.2h0M278.5 1089.4h0M277.8 1089.8h0M277.6 1089h0M276.7 1093.2h0M277.4 1082.1h0M277.4 1091.9h0M276.8 1082.6h0M277.6 1084.9h0M278.5 1092h0M277.9 1093.6h0M277.6 1078.6h0M277.4 1074.7h0M282.4 1099.3h0M281.8 1098.9h0M281 1098.2h0M282 1096.7h0M284.3 1092.1h0M284.9 1102h0M284.8 1092.4h0M284.9 1098.6h0M284.6 1097.9h0M283.6 1099.9h0M284.7 1103h0M284.2 1093.6h0M284.5 1099.1h0M283.9 1100.4h0M284.3 1099.5h0M283.5 1091.4h0M286.5 1084.8h0M286.9 1096.8h0M287.1 1098.2h0M286.5 1094.5h0M286.3 1091.1h0M286.6 1097.1h0M286.7 1089.8h0M287.3 1092.9h0M286.7 1086.4h0M286.8 1098h0M287.2 1083.9h0M287.3 1086.6h0M287.3 1083h0M286.8 1082.1h0M287.1 1094h0M286.9 1087.1h0M287 1081.8h0M287.7 1077.3h0M290.6 1078.8h0M290.7 1083.3h0M290.9 1094.1h0M290.3 1073.8h0M290.9 1085.8h0M290.9 1076.7h0M291.4 1074.2h0M289.9 1090.5h0M290.5 1090.5h0M290.5 1092h0M291.2 1089.4h0M289.9 1089.1h0M290.3 1081h0M291 1091.6h0M290.7 1080.1h0M290.7 1082.2h0M290.3 1080.5h0M290.6 1090.1h0M291.2 1074.4h0M290.7 1072.5h0M294.4 1090.5h0M293.2 1088h0M292.8 1088.8h0M293.3 1091.5h0M293.5 1088.2h0M292.8 1084.5h0M293.2 1080.4h0" stroke="#377EB8" stroke-width="3.8" stroke-linecap="round"/>
<g clip-path="url(#c9)" fill="#4DAF4A" stroke="#4DAF4A"><use href="#ef"/></g>
<path d="M300 1064L300 1067.9M305.6 1083L305.6 1089.1M324 1065L324 1067.2M318 1074L318 1076.9M309 1086L309 1093.9" stroke="#4DAF4A" stroke-width="3.8" stroke-linecap="round"/>
<path d="M300.6 1056.4h0M300 1064h0M305.6 1083h0M325 1052.4h0M322.6 1058h0M324 1065h0M318 1074h0M309 1086h0M301.8 1080.9h0M302 1076.2h0M301.9 1086.7h0M302 1090.9h0M300.8 1084.6h0M299.7 1086.6h0M301.7 1087.2h0M300.9 1077.3h0M301.8 1078h0M301.2 1091.3h0M302 1084.6h0M302.6 1083.4h0M301.4 1075h0M301.3 1083.6h0M300.6 1088.2h0M300.9 1074h0M301.7 1074h0M303.4 1090.3h0M303.4 1099.1h0M303 1091.8h0M303.7 1095h0M304.6 1086.6h0M303.9 1093.8h0M304.4 1087.7h0M302.7 1096.3h0M304.3 1092.3h0M303.8 1087.4h0M303.3 1086.1h0M302.6 1086.4h0M303.3 1085h0M303.4 1083h0M306.6 1101.5h0M306.5 1103.2h0M307.3 1100.3h0M306.8 1097.1h0M306.9 1095.5h0M307.2 1089.6h0M308.5 1097.7h0M310.2 1101.8h0M308.6 1095.7h0M309 1100.7h0M310.1 1100.2h0M309.3 1099.5h0M309 1101.7h0M309.7 1103.6h0M309.2 1094.3h0M313.1 1095.9h0M312.2 1101.4h0M312.3 1092.7h0M312.3 1091.8h0M312.4 1100.6h0M312 1092.2h0M312.2 1089.6h0M312.6 1089.1h0M312.1 1100.8h0M311.9 1098.8h0M311.4 1096.2h0M312.4 1089h0M312 1088.2h0M315 1094.3h0M314.3 1096h0M314.9 1098.3h0M314.9 1096.1h0M314.3 1092.9h0M314.4 1099.4h0M314.6 1091.5h0M314.7 1089.8h0M318.6 1078.9h0M317.8 1094.4h0M317.5 1083.4h0M317.8 1087.9h0M317.7 1087.5h0M317.1 1092h0M317.2 1096.6h0M317.2 1089.4h0M317.5 1095.8h0M317.2 1079h0M318.2 1095.7h0M318.5 1095.1h0M317.6 1093.1h0M318.1 1078.5h0M317 1087.7h0M318.2 1079.2h0M317.7 1096.9h0M318.9 1085.2h0M317.2 1077.8h0M317.6 1077.4h0M321.9 1085.9h0M321 1084.2h0M320.2 1082.9h0M319.8 1085.7h0M321.6 1078.7h0M321.2 1092.4h0M321.5 1076.7h0M320.9 1076.2h0M321.7 1075.6h0M320.5 1081.8h0M321.3 1091.5h0M321.4 1090.5h0M321.3 1075.5h0M324.7 1084h0M323.7 1084.5h0M324 1084.8h0M323.3 1092.2h0M324.1 1080.4h0M324 1081.8h0M324.2 1091.7h0M322.9 1077.9h0M323.6 1076.3h0M325.7 1091.7h0M325.7 1082.1h0M325.2 1091.9h0M325.7 1080.5h0M326 1083.2h0M326.4 1088.3h0M326.4 1080.9h0M325.9 1094.5h0M325.5 1086.4h0M325.8 1077.4h0M326 1081.8h0M325.2 1086.2h0M324.7 1083.4h0M326.2 1086.6h0M325.7 1092.9h0M325.5 1079.6h0M326 1075.7h0M325.8 1063.9h0" stroke="#4DAF4A" stroke-width="3.8" stroke-linecap="round"/>
<g clip-path="url(#c10)" fill="#984EA3" stroke="#984EA3"><use href="#ef"/></g>
<path d="M333 1032.4L333 1029M333 1036.4L333 1032.4M332.6 1057L332.6 1052.4M332.6 1060L332.6 1057M332.6 1075L332.6 1082.5M354 1077L354 1079.9M343.4 1082L343.4 1087.1" stroke="#984EA3" stroke-width="3.8" stroke-linecap="round"/>
<path d="M333 1018h0M333 1029h0M333 1032.4h0M333 1036.4h0M332.6 1045h0M332.6 1052.4h0M332.6 1057h0M332.6 1060h0M331.4 1067h0M332.6 1075h0M345 1076h0M354 1077h0M343.4 1082h0M354 1084h0M332.5 1088.6h0M332.8 1091.2h0M333.2 1090.6h0M332.9 1094.8h0M332 1092h0M332.8 1086.3h0M332.4 1097.7h0M333.3 1095.6h0M332.8 1089.9h0M332.8 1092.4h0M332 1092.8h0M332.9 1085h0M334.7 1100.3h0M335 1089h0M335.4 1090.1h0M335.1 1093.3h0M335.9 1090h0M335.7 1094.1h0M334.7 1094.8h0M335 1090h0M335.7 1096.3h0M334.9 1088.5h0M335.3 1087.2h0M339.4 1097.4h0M339.7 1098.9h0M340.2 1095.1h0M339.3 1100.2h0M338.7 1099.1h0M340.6 1096.9h0M338.2 1098.5h0M339.4 1093.9h0M342.3 1093.5h0M342.3 1094h0M341.9 1096.2h0M342.4 1095.5h0M342.9 1101h0M343.3 1091h0M342.5 1092.8h0M342.5 1101.7h0M341.9 1097.6h0M342.5 1093.7h0M342.1 1089.9h0M342 1085.9h0M345.7 1098.6h0M345.5 1096.6h0M346.2 1092.9h0M346.4 1095.1h0M346.6 1097.1h0M346.6 1101.7h0M346.3 1097h0M345.9 1092.2h0M345.4 1088.5h0M348.2 1098.2h0M348.4 1104.1h0M348.1 1104.1h0M348.2 1101.2h0M348.6 1096.7h0M347.8 1096.1h0M347.6 1101.4h0M348.3 1101.4h0M348.7 1094h0M347.7 1089.2h0M349.9 1098.2h0M350.4 1093.3h0M350.9 1091.2h0M351.5 1100.5h0M351.4 1089.4h0M350.4 1093.1h0M351.1 1093.1h0M350.1 1098.4h0M350.8 1092h0M350.9 1088.2h0M350.7 1087.6h0M354.5 1088.5h0M353.1 1095.8h0M354 1098.1h0M353.5 1088h0M354.4 1091.9h0M353.1 1082h0M353.1 1093.3h0M353.9 1096.8h0M354 1094.9h0M354 1086.2h0M354 1097h0M353.1 1089.4h0M354.3 1085.7h0M353.9 1084.9h0M353.8 1088.5h0M355.3 1096.1h0M354 1080.7h0" stroke="#984EA3" stroke-width="3.8" stroke-linecap="round"/>
<g clip-path="url(#c11)" fill="#FF7F00" stroke="#FF7F00"><use href="#ef"/></g>
<path d="M362.6 1077.6L362.6 1083.9" stroke="#FF7F00" stroke-width="3.8" stroke-linecap="round"/>
<path d="M383 1021h0M380.2 1051.6h0M376.2 1056h0M380.2 1066h0M380.6 1073h0M383 1073h0M361 1069.4h0M362.6 1077.6h0M361.9 1092.8h0M361.9 1094.1h0M362.8 1099h0M362.3 1096.8h0M362.4 1091.4h0M364.5 1100.2h0M365 1100h0M364.5 1096.4h0M364.5 1099.7h0M364.7 1096.3h0M365.1 1095.6h0M366.5 1101.5h0M367.2 1105.4h0M367.4 1101.5h0M366.9 1101h0M367.8 1102.8h0M366.1 1106.6h0M366.6 1100h0M371 1105.4h0M370.2 1105.8h0M370.5 1103h0M372.4 1100.6h0M372.7 1104.5h0M372.5 1099.4h0M372.6 1103.1h0M372 1099.4h0M372.9 1104.7h0M372.3 1098.5h0M375.1 1093.9h0M374.5 1095.1h0M374.6 1098.3h0M375.1 1096.5h0M374.8 1096h0M375.5 1099.3h0M374.8 1093.8h0M378.1 1097.4h0M378.4 1095.4h0M379 1099.9h0M377.6 1098.8h0M379.4 1093.2h0M378.7 1091.5h0M381.6 1099h0M381.4 1097.5h0M380.8 1098.4h0M380.4 1099.3h0M381.6 1091.9h0M381.7 1093.8h0M381.2 1090.9h0" stroke="#FF7F00" stroke-width="3.8" stroke-linecap="round"/>
<g clip-path="url(#c12)" fill="#377EB8" stroke="#377EB8"><use href="#ef"/></g>
<path d="M408 1038L408 1033M408 1068L406.6 1067M399 1082.6L399 1085.9" stroke="#377EB8" stroke-width="3.8" stroke-linecap="round"/>
<path d="M389.4 1055h0M408 1033h0M408 1038h0M407.4 1044.6h0M406.6 1060.6h0M406.6 1067h0M408 1068h0M407 1074h0M399 1082.6h0M389.9 1081.8h0M390.5 1083.5h0M389.8 1078.2h0M390 1094.9h0M390.4 1086.1h0M389.5 1086h0M390.2 1080.5h0M389.6 1079.4h0M389.4 1080.2h0M390.1 1082.9h0M390.4 1093.4h0M390.6 1091.5h0M389.9 1091.7h0M390.1 1078.1h0M389.5 1089.9h0M389.7 1090.4h0M390.2 1094.3h0M389.5 1086.1h0M391.5 1095.2h0M389.4 1076.6h0M389.4 1074.8h0M393 1092.4h0M392.9 1093.6h0M393.8 1100h0M393.3 1092.5h0M393.4 1087.1h0M392.7 1087.1h0M392.2 1090.8h0M394 1087.7h0M392.3 1100.4h0M393.6 1100.5h0M392.8 1091.5h0M393 1087h0M396.7 1096.5h0M396.1 1100.7h0M396.3 1095h0M396.8 1092.5h0M396 1096.8h0M396.6 1100.1h0M395.7 1099h0M396.7 1101.2h0M396.5 1092.5h0M396.7 1098h0M396.6 1089.9h0M399.2 1091.9h0M400.4 1101.6h0M399.7 1094.2h0M399.2 1096h0M400 1095.5h0M400.1 1094.9h0M399.5 1091.8h0M399.6 1089.2h0M402.8 1095.7h0M402.7 1096.5h0M403.5 1098.1h0M403.1 1099.6h0M402.8 1096.8h0M404.1 1102.5h0M402.8 1096.6h0M402.2 1098.6h0M402.9 1091.9h0M405.7 1098.4h0M406.6 1099.6h0M407.4 1098.2h0M406.3 1090.6h0M406.1 1097h0M406.2 1092.2h0M406.1 1089.6h0M409.3 1097.1h0M408 1097.8h0M409.4 1100.4h0M409.1 1093h0M409.3 1092.3h0M408.6 1090.3h0" stroke="#377EB8" stroke-width="3.8" stroke-linecap="round"/>
<g clip-path="url(#c13)" fill="#4DAF4A" stroke="#4DAF4A"><use href="#ef"/></g>
<path d="M429.8 1026L430 1021M429 1042L429 1044.9M415 1062.4L415 1063.9" stroke="#4DAF4A" stroke-width="3.8" stroke-linecap="round"/>
<path d="M430 1021h0M429.8 1026h0M429.8 1032.4h0M424.4 1035.4h0M429 1042h0M415 1062.4h0M417 1074h0M415.9 1087.8h0M416.2 1090.8h0M415.5 1083.5h0M415.3 1075.2h0M416.2 1077.4h0M415.3 1080.2h0M416.3 1087.8h0M416.3 1088.1h0M415.9 1089.5h0M416 1088.9h0M416.5 1091.1h0M416.8 1082.3h0M416.4 1073.7h0M418.5 1080.8h0M417.5 1075.4h0M418.9 1078.4h0M418.2 1086.1h0M417.5 1072.2h0M418.2 1078.1h0M417.8 1080.4h0M418.2 1069.7h0M418.1 1087.2h0M418.6 1073.1h0M418 1078.3h0M418.8 1070.8h0M418.3 1069.4h0M418.1 1064.9h0M422 1065.5h0M421.8 1082.9h0M421.4 1069.5h0M422.2 1080.5h0M421.7 1073.2h0M423.1 1069.1h0M422.2 1084.5h0M422.5 1074.2h0M422.1 1079.7h0M421.9 1073.1h0M422.2 1085.3h0M422.8 1079.1h0M421.9 1084.7h0M422.2 1085.2h0M421.9 1061.9h0M424.9 1080.8h0M425.6 1075.8h0M425.1 1076.4h0M424.8 1067.8h0M425.1 1065.8h0M425.1 1067.3h0M425.3 1060.9h0M425.4 1065.9h0M425.8 1082.8h0M424.6 1066.5h0M425.4 1080.5h0M425.1 1078.4h0M425.4 1080.3h0M424.9 1075.8h0M424.8 1079.2h0M425.4 1078.1h0M424.7 1059.9h0M427.4 1081.5h0M428.3 1063.7h0M429 1082.8h0M427.9 1069.3h0M428.3 1072.1h0M428.7 1049.8h0M428 1056.8h0M428.4 1061.5h0M427.9 1053.8h0M428.2 1067.3h0M429.3 1074.5h0M428.1 1069.8h0M428.7 1068.1h0M429.7 1053.2h0M428.5 1062.9h0M428.7 1058.8h0M428.1 1066.9h0M428.9 1074.9h0M428.3 1077.9h0M429.7 1071.8h0M429.1 1064.7h0M428.7 1063.5h0M428.7 1072.8h0M428.4 1065.1h0M428.5 1057.5h0M428.4 1053.2h0M428.8 1065.8h0M428.8 1056.3h0M428 1061.8h0M428.5 1065.4h0M428.9 1075.6h0M428.2 1053.5h0M428.9 1065.5h0M428.1 1047.5h0M431.8 1071.7h0M431.5 1064.5h0M432.9 1087.1h0M431.8 1076.5h0M431.7 1064.8h0M431.7 1086.4h0M431.1 1075.8h0M432 1077.3h0M432.1 1078.7h0M431.3 1065.2h0M432.2 1065h0M431.5 1069.6h0M431.5 1068.1h0M431.5 1063.8h0M430.6 1065.4h0M432.4 1070.8h0M432 1063.7h0" stroke="#4DAF4A" stroke-width="3.8" stroke-linecap="round"/>
<g clip-path="url(#c14)" fill="#984EA3" stroke="#984EA3"><use href="#ef"/></g>
<path d="M438 1057L438 1063.9M437 1062L438 1057M437 1062L437 1066.9M436 1068L436 1069.9M453.6 1054L453.6 1050M453 1068L453 1070.9" stroke="#984EA3" stroke-width="3.8" stroke-linecap="round"/>
<path d="M441 1039.6h0M441 1055h0M438 1057h0M437 1062h0M436 1068h0M453.6 1050h0M453.6 1054h0M453 1068h0M436.8 1071.4h0M439.2 1075.6h0M438.4 1073.7h0M437.6 1081.4h0M438.3 1084h0M438.3 1077.4h0M438.2 1070h0M438.6 1067.7h0M438.2 1082.8h0M438.6 1069.7h0M437.1 1078.8h0M438.2 1064.8h0M438.2 1065.7h0M438.2 1081.3h0M437.9 1077.3h0M438.4 1089.9h0M437.6 1073.8h0M437.9 1075.5h0M438 1087.4h0M437.9 1090h0M437.9 1088.9h0M437.5 1086h0M438.3 1078.9h0M437.8 1068.8h0M437 1086.8h0M438.9 1070.5h0M437.5 1071.6h0M437.7 1064.5h0M441.2 1079.8h0M441 1081.2h0M440.9 1089h0M441.3 1071.3h0M441.2 1082.4h0M440.6 1083.5h0M440.5 1079.8h0M440.6 1082.4h0M441.7 1084.1h0M440.5 1081.9h0M440.1 1078.1h0M441.5 1074.9h0M440.6 1071.1h0M440.9 1070.7h0M444 1083.1h0M444.1 1082.3h0M444 1089.6h0M443.8 1078.2h0M444.5 1081.7h0M443.9 1080.4h0M444 1079.6h0M443.9 1092.7h0M444.3 1075.8h0M443.8 1083.7h0M444.5 1093h0M443.1 1091.9h0M443.9 1078.5h0M444 1074.8h0M446.5 1089.6h0M447.2 1084.4h0M446.3 1098h0M446.3 1086h0M446.2 1086h0M446.8 1094.3h0M446.5 1091.8h0M447 1090.1h0M446.7 1092.4h0M446.7 1085.6h0M447 1095.2h0M447.4 1085.1h0M446.2 1083.5h0M446.2 1080.2h0M449.8 1095.5h0M449.5 1081.5h0M449.3 1093.9h0M449.4 1089.1h0M449.4 1088.4h0M450.7 1089.4h0M449.1 1084.2h0M449.9 1078.3h0M448.8 1091.8h0M449.1 1094.8h0M449.3 1095.5h0M449.1 1093.7h0M450 1077.8h0M449.7 1081.8h0M448.8 1086.4h0M450 1083.6h0M448.6 1079.5h0M449.2 1083.5h0M449.4 1076.4h0M451.9 1082.7h0M451.3 1087.5h0M452.6 1082.4h0M453.1 1088.1h0M451.4 1079.9h0M451.9 1080.1h0M452.5 1072.7h0M451.2 1090.3h0M452.5 1073.2h0M450.9 1082.5h0M451.8 1093.7h0M451.9 1081.2h0M452.5 1074h0M452.3 1080.8h0M452.2 1075.1h0M452.3 1072.9h0M451.7 1077.2h0M451.1 1087.2h0M452.2 1079.6h0M452.1 1071.8h0" stroke="#984EA3" stroke-width="3.8" stroke-linecap="round"/>
<g clip-path="url(#c15)" fill="#FF7F00" stroke="#FF7F00"><use href="#ef"/></g>
<path d="M467 1075L467 1079.9" stroke="#FF7F00" stroke-width="3.8" stroke-linecap="round"/>
<path d="M459 1050.4h0M469 1031h0M469 1052.4h0M470 1058h0M470 1072h0M467 1075h0M460 1096.6h0M460.1 1091.6h0M460.3 1091.5h0M460.8 1089h0M461.1 1086.2h0M460.6 1088.5h0M460.6 1096.8h0M460.3 1098.7h0M460.4 1093.9h0M461 1085.2h0M460.5 1085h0M463.2 1079.3h0M463.4 1080.2h0M463.4 1096h0M462.9 1095.8h0M464.4 1092.6h0M463 1079.4h0M463.5 1090.4h0M462.8 1092.8h0M463.5 1090.8h0M464.1 1078.7h0M463.9 1081.5h0M463.4 1091.1h0M463.2 1092h0M462.5 1091.3h0M463.9 1088.4h0M463.8 1078.4h0M463.5 1077.8h0M466 1090h0M465.3 1086.7h0M465.5 1084.8h0M465.2 1083h0M465.6 1080.5h0M466.6 1088.1h0M466 1082.3h0M466.2 1092.1h0M466.5 1082.5h0M466.4 1097.1h0M465.7 1089.7h0M466.2 1081.4h0M465.8 1086.2h0M465.8 1080.1h0M470.1 1094.5h0M469.5 1094.5h0M470.4 1090.8h0M470 1090.6h0M469.3 1098.2h0M470.4 1091.2h0M470.8 1100.3h0M468.3 1092.7h0M469.7 1090.9h0M469.7 1087.8h0" stroke="#FF7F00" stroke-width="3.8" stroke-linecap="round"/>
<g clip-path="url(#c16)" fill="#377EB8" stroke="#377EB8"><use href="#ef"/></g>
<path d="M476.4 1062h0M477 1070h0M477 1076.8h0M488 1066.4h0M488.4 1075.6h0M476.1 1090.7h0M475.8 1098h0M475.9 1093.9h0M475.6 1092.1h0M475.9 1097.5h0M476.2 1090.2h0M476.2 1096h0M475.1 1094.6h0M475.8 1090.8h0M476.4 1094.2h0M476.6 1088.5h0M479.8 1103.3h0M479.3 1101.4h0M479.2 1104.1h0M478.7 1105.7h0M479.6 1107.2h0M479.5 1100.7h0M479.2 1100.4h0M481.5 1108h0M482.8 1107.7h0M482.8 1107.3h0M482.5 1109.8h0M482.1 1106.8h0M484.4 1106.9h0M484.8 1105.8h0M485.2 1100.9h0M484.2 1104.6h0M484.4 1105.3h0M484.7 1103.2h0M485.9 1100.8h0M484.9 1099.8h0M488.5 1090.7h0M488.8 1093.3h0M487.6 1100h0M487.4 1087.2h0M487.8 1085.4h0M489 1097.6h0M488.2 1091.9h0M488.4 1093.1h0M489 1087.9h0M488.7 1097.2h0M489 1099.5h0M487.3 1091.9h0M488 1093.7h0M487.8 1086.8h0M488.6 1097.6h0M488.4 1084.7h0M488.3 1083.7h0" stroke="#377EB8" stroke-width="3.8" stroke-linecap="round"/>
<g clip-path="url(#c17)" fill="#4DAF4A" stroke="#4DAF4A"><use href="#ef"/></g>
<path d="M509.6 1044L509.2 1042" stroke="#4DAF4A" stroke-width="3.8" stroke-linecap="round"/>
<path d="M499 1027h0M502 1032.4h0M509.6 1029.6h0M496 1042h0M501 1043.6h0M509.2 1042h0M509.6 1044h0M509.6 1054.4h0M495 1049h0M499 1056h0M509.6 1067h0M509.6 1078h0M496.1 1084.3h0M496.2 1074.9h0M495.6 1063.4h0M496.5 1073.9h0M496.2 1081.1h0M495.2 1077.9h0M495.6 1071h0M495.7 1085.6h0M496.1 1089.2h0M495.3 1087.1h0M496.3 1088.8h0M495.8 1071.5h0M495.6 1077h0M494.8 1087.2h0M495.8 1063.7h0M495.8 1069.1h0M495.4 1083.8h0M496.2 1063.2h0M496.3 1077.9h0M495.5 1075.8h0M495.7 1067.6h0M496.7 1082.9h0M496.1 1083.7h0M496.8 1074.8h0M495.1 1071.1h0M496.7 1088.2h0M496.1 1073.4h0M495.9 1068.1h0M495.5 1060.6h0M495.4 1060.4h0M498.5 1077.2h0M497.8 1074.5h0M499.2 1085h0M498.8 1078.6h0M498.7 1086.3h0M498.7 1071h0M498.5 1072.3h0M498.5 1066h0M497.6 1081.7h0M498.5 1076.7h0M498.5 1084.4h0M499 1059.7h0M498.4 1073.2h0M498.6 1082.6h0M498.9 1078.6h0M497.5 1074h0M498.8 1082.8h0M498.2 1079.6h0M498.6 1066.9h0M498.5 1075.1h0M498.3 1082.5h0M498.5 1061.9h0M498.5 1059h0M498.1 1058h0M502.3 1079.8h0M502.2 1088.5h0M502 1089.9h0M500.9 1088h0M502.5 1085.8h0M501.9 1076.2h0M502.1 1086.3h0M501.6 1077.9h0M502.1 1074h0M502.8 1085.3h0M501.8 1075.6h0M502.6 1085h0M502.1 1072.1h0M505 1086.1h0M504.5 1091.1h0M504.4 1085.4h0M504 1089.3h0M504.8 1085.8h0M504.3 1092h0M504.8 1087.2h0M505.2 1093.5h0M503.7 1090.2h0M504.8 1081.5h0M504.7 1084.1h0M504.9 1077.6h0M504.7 1074.5h0M506.3 1088.3h0M507.6 1086.3h0M507.8 1087.7h0M507.3 1096.4h0M507.7 1090.1h0M507.2 1089.9h0M506.7 1085.3h0M510.9 1096.7h0M511.9 1097.2h0M512 1091.6h0M510.6 1089h0M510.3 1087.3h0M510.8 1097.8h0M510.8 1093.8h0M510.9 1088.3h0M511.4 1085.3h0M511.7 1096.7h0M511.4 1093.5h0M510.8 1092h0M511.6 1083h0" stroke="#4DAF4A" stroke-width="3.8" stroke-linecap="round"/>
<g clip-path="url(#c18)" fill="#984EA3" stroke="#984EA3"><use href="#ef"/></g>
<path d="M531.6 1068L531.6 1073.3M532 1072L531.6 1068M527 1081L527 1087.9M526 1085L527 1081M526 1085L526 1089.9" stroke="#984EA3" stroke-width="3.8" stroke-linecap="round"/>
<path d="M520 1050.6h0M517.6 1056h0M531.6 1068h0M532 1072h0M527 1081h0M526 1085h0M516.4 1089.5h0M517 1091.9h0M517.8 1093.3h0M517.8 1090.9h0M518.1 1081.9h0M517.1 1084.4h0M517.5 1089.2h0M516.8 1083.1h0M516.6 1083.1h0M517.2 1083.5h0M517.4 1079.3h0M521.4 1095.5h0M520.8 1095.6h0M521.5 1092.7h0M520.2 1097.4h0M521.4 1092h0M523.9 1095h0M523.8 1094.9h0M525.7 1103.2h0M523.7 1103h0M525 1092.7h0M525 1102.8h0M524.9 1101.8h0M524 1102.8h0M524 1100.3h0M524.7 1094.7h0M524.8 1092.3h0M523.8 1091.5h0M525.9 1093.8h0M526.9 1093.1h0M526.8 1099.6h0M526.7 1091.3h0M526.2 1099.7h0M526.4 1093.3h0M526.7 1094.1h0M527 1092.8h0M526.6 1091.3h0M527 1091h0M527.8 1089.3h0M528 1094.9h0M528.8 1096h0M529 1093.7h0M528.4 1091.5h0M529.6 1095.3h0M528.7 1085h0M528.2 1090.7h0M527.9 1088.1h0M529.3 1091.4h0M529.1 1095.4h0M528.7 1084.7h0M530.9 1094.2h0M532.4 1094.4h0M531.6 1081.1h0M531.2 1084.3h0M531.5 1086.9h0M532.3 1081.7h0M531 1082.6h0M532 1084.4h0M532.2 1087.1h0M532.3 1079.6h0" stroke="#984EA3" stroke-width="3.8" stroke-linecap="round"/>
<g clip-path="url(#c19)" fill="#FF7F00" stroke="#FF7F00"><use href="#ef"/></g>
<path d="M540.4 1047L542 1043M542.4 1050L540.4 1047M551 1064.6L551 1060" stroke="#FF7F00" stroke-width="3.8" stroke-linecap="round"/>
<path d="M542.6 1015.6h0M539.6 1022h0M542.6 1023.6h0M551.4 1023.6h0M538.4 1039h0M542 1043h0M540.4 1047h0M542.4 1050h0M551.6 1037h0M548.4 1041.6h0M551 1060h0M551 1064.6h0M539.7 1083.9h0M539.5 1071.9h0M538.6 1080.4h0M539.9 1074.8h0M539.5 1069.9h0M539.1 1074.9h0M540.1 1088.3h0M539 1089.1h0M539.3 1077.2h0M539.9 1086.5h0M538.9 1075.1h0M539 1070.8h0M540.6 1082.3h0M540.4 1072.9h0M540.2 1069.5h0M539.3 1070.5h0M539.5 1068.7h0M538.9 1068.3h0M538.9 1084h0M539.9 1066.9h0M539.9 1066.1h0M543.6 1077.6h0M542.1 1073.9h0M543.1 1092.5h0M542.8 1077.1h0M542.4 1077h0M542.9 1082.7h0M543.1 1091.7h0M543.1 1081.3h0M543.1 1087.2h0M542.3 1079.6h0M542.6 1072.8h0M542.1 1083.8h0M542.8 1074.1h0M542.5 1091.4h0M542.8 1083.2h0M542.1 1072.1h0M545.3 1092.1h0M544.9 1082.6h0M544.7 1089.7h0M545.1 1084.7h0M545.6 1084.3h0M546 1076.5h0M544.6 1091.7h0M544.6 1079h0M543.9 1095h0M544.7 1079.3h0M546.2 1077.2h0M545.6 1080h0M545.3 1078.8h0M545.2 1080.3h0M545.1 1091.6h0M545.6 1089.5h0M545.1 1076.1h0M544.1 1079.3h0M545 1091.8h0M544.9 1074.9h0M544.8 1074.8h0M549.1 1084.1h0M548.1 1088.9h0M548.1 1094h0M548.6 1087.9h0M548.7 1082.3h0M549.2 1082.4h0M549.3 1089.1h0M548.9 1091.1h0M548.2 1083.8h0M549.9 1094.2h0M548.8 1079.5h0" stroke="#FF7F00" stroke-width="3.8" stroke-linecap="round"/>
<g clip-path="url(#c20)" fill="#377EB8" stroke="#377EB8"><use href="#ef"/></g>
<path d="M563 1057L561.6 1056M562 1068L560.4 1064M562 1068L562 1074.3M558 1077L558 1081.1M574 1029L574 1024.4M574 1033.6L574 1029M574 1055L574 1050M572.4 1078L572.4 1083.1" stroke="#377EB8" stroke-width="3.8" stroke-linecap="round"/>
<path d="M558 1057.6h0M561.6 1056h0M563 1057h0M560.4 1064h0M562 1068h0M565.6 1073h0M558 1077h0M574 1024.4h0M574 1029h0M574 1033.6h0M574 1050h0M574 1055h0M572.4 1063.6h0M572.4 1069h0M572.4 1078h0M558.8 1087.2h0M558.2 1095.8h0M558 1093.4h0M557.7 1087h0M558 1085.2h0M558.6 1096.4h0M558.7 1089.7h0M559 1089.6h0M558.7 1086.8h0M558.2 1094.8h0M559.7 1085.4h0M558.1 1097.6h0M558.3 1087.5h0M558.5 1082.3h0M561.7 1092.7h0M562.1 1082.2h0M562.4 1095.3h0M561.7 1081.5h0M561.4 1080.2h0M561.7 1093.3h0M561.9 1093.5h0M561.7 1089.1h0M561.5 1094.3h0M562.1 1080.8h0M561.5 1079.7h0M565.8 1083.7h0M565.6 1091.2h0M565.1 1091.7h0M565.4 1088.2h0M567.1 1090h0M565.1 1084.3h0M565.4 1086.6h0M566 1086.4h0M565.6 1094.8h0M565.6 1097.1h0M565.8 1093.1h0M565.4 1098.3h0M564.5 1093.8h0M565.6 1096h0M565.4 1083h0M568.2 1088.3h0M568.5 1089.3h0M568.3 1092.9h0M567.8 1092.4h0M568.2 1089.4h0M568 1093.3h0M568.2 1093.5h0M568.1 1095.9h0M568.2 1088.1h0M571.9 1097.1h0M572.3 1091.7h0M571.6 1091.8h0M572.2 1093.8h0M572.3 1092.2h0M571.7 1090.2h0" stroke="#377EB8" stroke-width="3.8" stroke-linecap="round"/>
<g clip-path="url(#c21)" fill="#4DAF4A" stroke="#4DAF4A"><use href="#ef"/></g>
<path d="M591.6 1052.4L591.6 1056.5M589 1055L589 1057.9" stroke="#4DAF4A" stroke-width="3.8" stroke-linecap="round"/>
<path d="M592.4 1033h0M592.4 1039h0M591.6 1052.4h0M589 1055h0M584 1072h0M580.7 1090.3h0M581.5 1075.8h0M580.2 1083.3h0M581.6 1081.1h0M580.3 1075.2h0M580.6 1078.6h0M580.6 1074.6h0M580.6 1088.5h0M580.6 1078.6h0M581.2 1074.2h0M583.3 1083.4h0M584.8 1087h0M583.8 1086.4h0M584.3 1084.2h0M584.9 1076.9h0M584.3 1082.2h0M584.8 1076.7h0M588 1083.3h0M588 1080h0M588.2 1088.4h0M587.9 1083.5h0M587.8 1080.5h0M587.9 1076.3h0M588.3 1085.9h0M588.3 1078.6h0M588.1 1072.9h0M588.2 1070.7h0M590.7 1067.8h0M590.6 1079.6h0M589.9 1084.3h0M589.7 1062.2h0M589.3 1068.1h0M590.6 1077.6h0M589.8 1077h0M590.8 1061.2h0M590.5 1074.8h0M589.4 1073.2h0M590.3 1076h0M589.6 1081.5h0M589.6 1065.4h0M590.5 1073.5h0M589.8 1082.9h0M590.3 1084.4h0M590.8 1085.8h0M590.8 1070.6h0M590 1067.1h0M589.9 1073.7h0M590.8 1068.5h0M590 1065.6h0M590 1068.7h0M591.1 1078.3h0M590.2 1059.2h0" stroke="#4DAF4A" stroke-width="3.8" stroke-linecap="round"/>
<g clip-path="url(#c22)" fill="#984EA3" stroke="#984EA3"><use href="#ef"/></g>
<path d="M600.4 1044L600.4 1048.2M600.4 1048L600.4 1044M600.4 1048L600.4 1048.2M614 1061.6L614 1065.5" stroke="#984EA3" stroke-width="3.8" stroke-linecap="round"/>
<path d="M600.6 1029.6h0M600.4 1044h0M600.4 1048h0M612 1042.6h0M605 1066h0M614 1061.6h0M598.9 1070.9h0M599.1 1062.2h0M598.5 1055h0M599.1 1071.5h0M598.2 1081.7h0M598.3 1061.5h0M598.5 1058.8h0M598.6 1067.6h0M598.5 1084h0M597.6 1064h0M598 1058.5h0M597.6 1059.5h0M598.4 1074.9h0M597.8 1067h0M598 1071h0M598.5 1057.2h0M598.2 1076.2h0M598.8 1074h0M598.6 1077h0M598.8 1068h0M598.4 1084.8h0M598.3 1077h0M598.8 1066.3h0M598.4 1061.7h0M598.6 1077.7h0M598.1 1080.3h0M597.9 1063.3h0M598.5 1054.8h0M598.6 1052.6h0M600.8 1083.1h0M601 1081.7h0M601 1083.1h0M600.6 1077.7h0M600.7 1072.4h0M601.9 1063.5h0M602.3 1066h0M601.6 1066.2h0M600.5 1068.1h0M600.9 1074.1h0M601.6 1083.8h0M600.9 1061.3h0M600.8 1079.9h0M601 1080.6h0M601.3 1085.4h0M601 1066.5h0M601.2 1060.6h0M601.1 1059h0M603.1 1079.3h0M603.7 1085.7h0M604.2 1093.6h0M604.2 1092.9h0M603.8 1086.5h0M604 1079.3h0M603.8 1081.7h0M603.6 1079.5h0M604.4 1089.8h0M604.2 1084.3h0M603.7 1078.9h0M608.2 1088.2h0M607.8 1091.2h0M607.8 1086.8h0M608.1 1083.7h0M608.1 1088.9h0M606.5 1094h0M608.1 1083.6h0M608.6 1090.4h0M607.9 1082.2h0M607.5 1079.8h0M611.9 1086.6h0M609.8 1083.8h0M611.6 1084h0M610.6 1075.8h0M611.4 1071.1h0M611.6 1076.5h0M610.9 1072.7h0M611.4 1083.2h0M611.3 1084.5h0M610.8 1073.5h0M611.3 1071.4h0M610.3 1073.4h0M611.3 1079.2h0M612.2 1090.6h0M611.1 1070.9h0M613.8 1082.3h0M614.7 1076.9h0M614 1085.2h0M612.8 1077.4h0M614.9 1088.4h0M613.9 1072.1h0M614.4 1084.4h0M614.1 1086.6h0M613.6 1091.4h0M613.4 1082.1h0M614 1075h0M613.8 1076.2h0M613.9 1090.3h0M613.8 1072.1h0" stroke="#984EA3" stroke-width="3.8" stroke-linecap="round"/>
<g clip-path="url(#c23)" fill="#FF7F00" stroke="#FF7F00"><use href="#ef"/></g>
<path d="M625.6 1039h0M625.6 1046.4h0M630 1047h0M620 1051.6h0M625.4 1054h0M622 1059h0M636 1068.4h0M630 1076h0M634 1075.6h0M620.4 1094.2h0M619.7 1084.1h0M620.9 1085.6h0M621.1 1089.4h0M620.5 1087.5h0M620.2 1081.8h0M619.4 1088.3h0M620 1081.3h0M620.6 1075h0M622.9 1094.1h0M621.9 1087.1h0M622.5 1094.6h0M621.9 1094.1h0M623 1090.9h0M623.5 1081.1h0M622.8 1091.8h0M622.8 1083h0M622.6 1082.5h0M623.2 1090.9h0M623 1079.1h0M625.5 1082.4h0M625.4 1086.4h0M625.4 1088.7h0M624.8 1082.1h0M625.1 1083.7h0M625.7 1089.8h0M626.6 1095.4h0M624.8 1092.1h0M625.1 1087.3h0M624.9 1081.4h0M625 1080.9h0M627.9 1096h0M627.5 1090.4h0M627.2 1087.9h0M627 1091.2h0M627 1089.8h0M626.7 1098.8h0M628.1 1088.9h0M627.1 1087.8h0M627.1 1086.2h0M629.1 1101h0M629.8 1097h0M629.1 1098.4h0M629.4 1098.6h0M629.1 1101.5h0M630.1 1102.4h0M629.5 1101.3h0M629.7 1092.9h0M632.7 1099.5h0M632.5 1100.1h0M632.7 1102.3h0M632.5 1094.5h0M633.7 1097h0M632.1 1093.4h0M634.7 1101.4h0M634.7 1089.2h0M634.9 1094.6h0M634.7 1097.6h0M634.9 1095.6h0M634.4 1101.3h0M635 1094.5h0M635.2 1097.1h0M635.4 1100.1h0M635.2 1099.7h0M635.7 1097.7h0M634.1 1101.1h0M634.1 1099.5h0M634.8 1088.2h0M634.4 1088h0" stroke="#FF7F00" stroke-width="3.8" stroke-linecap="round"/>
<g clip-path="url(#c24)" fill="#377EB8" stroke="#377EB8"><use href="#ef"/></g>
<path d="M650.4 1075L650.4 1079.5" stroke="#377EB8" stroke-width="3.8" stroke-linecap="round"/>
<path d="M656 1018.4h0M653.6 1021.6h0M656 1045.6h0M655.6 1052.4h0M651.6 1061.6h0M651 1068h0M650.4 1075h0M644.4 1087.1h0M644.3 1093.2h0M644 1097.4h0M645.4 1088.8h0M644.4 1086.5h0M644.9 1090.1h0M645.2 1096h0M644.2 1093.9h0M644.1 1085.1h0M646.8 1090.5h0M646.4 1098.1h0M646.8 1098.5h0M646.6 1088h0M646.4 1093.5h0M646.7 1092.5h0M647.1 1091.6h0M647 1094.9h0M647.3 1085.7h0M647 1092.3h0M646.2 1086h0M647.2 1097.8h0M645.9 1090.1h0M646.6 1084.9h0M647 1083.4h0M649.3 1097.9h0M650.3 1095.5h0M650.3 1098h0M649.5 1095h0M648.7 1095.1h0M649.3 1089.2h0M650.2 1088.8h0M654 1094.2h0M653.3 1091.9h0M653.1 1091.3h0M654 1075.3h0M653.5 1078.2h0M653.3 1091.1h0M653.3 1088.8h0M652.3 1075.2h0M653 1093.8h0M653.5 1075.8h0M652.2 1087.7h0M652.3 1091.6h0M652.3 1080.5h0M652.8 1090.7h0M652.8 1072.8h0M654.1 1081.8h0M652.6 1091h0M652.3 1080.8h0M654.2 1072.8h0M651.7 1083.4h0M652.7 1072.6h0M656.5 1074.7h0M655.9 1078.7h0M656.3 1069.5h0M655.9 1076.1h0M656.6 1077.5h0M656.5 1068.5h0M656.4 1086.9h0M656.8 1088h0M655.2 1070h0M656.5 1067.6h0M656.5 1087h0M655.6 1064.8h0M656.9 1085.9h0M656 1067.2h0M656.7 1077.2h0M655.6 1085h0M655.9 1072.8h0M656.8 1073.4h0M656 1082.5h0M656.2 1068.8h0M656.5 1063.5h0" stroke="#377EB8" stroke-width="3.8" stroke-linecap="round"/>
<g clip-path="url(#c25)" fill="#4DAF4A" stroke="#4DAF4A"><use href="#ef"/></g>
<path d="M677 1033.6L677 1030.4M677 1055L677 1050M675.6 1065L674 1060M663 1078L663 1085.9" stroke="#4DAF4A" stroke-width="3.8" stroke-linecap="round"/>
<path d="M677 1030.4h0M677 1033.6h0M677 1041.6h0M677 1050h0M677 1055h0M674 1060h0M675.6 1065h0M675 1071h0M663 1078h0M664.9 1100.7h0M664.3 1100.2h0M662.8 1101.9h0M664.4 1101.6h0M664.3 1101.5h0M663.8 1099.9h0M663.9 1100.4h0M664.1 1092.1h0M667.5 1097.6h0M667.4 1103.2h0M667.6 1096h0M667.1 1102.5h0M666.9 1097.5h0M666.9 1098.9h0M667.2 1104.3h0M667.1 1095.1h0M670.4 1102.8h0M670.3 1102.8h0M669.8 1099.1h0M670.6 1097.2h0M672.5 1097.3h0M673.2 1099.4h0M672.4 1094.5h0M672.5 1099.4h0M672.8 1092.9h0M672.7 1091.3h0M676.2 1084.8h0M675.9 1097.7h0M676.5 1095.3h0M676 1088.1h0M675.7 1097.9h0M676.3 1093.2h0M676.8 1085h0M676.3 1092.3h0M676.1 1091.3h0M675.9 1096.3h0M676.3 1085.9h0M676.3 1083h0M675.6 1075.3h0" stroke="#4DAF4A" stroke-width="3.8" stroke-linecap="round"/>
<line x1="40.5" y1="1015.5" x2="682" y2="1015.5" stroke="#ea6a6a" stroke-width="1" stroke-dasharray="2.3 1.86"/>
<circle cx="159" cy="990" r="3.2" fill="#f00"/>
<circle cx="161" cy="993" r="3.2" fill="#f00"/>
<circle cx="307" cy="1012.4" r="3.2" fill="#f00"/>
<circle cx="332.6" cy="1013" r="3.2" fill="#f00"/>
<circle cx="333" cy="1015.6" r="3.2" fill="#f00"/>
<circle cx="429.6" cy="995.6" r="3.2" fill="#f00"/>
<circle cx="453.6" cy="1010.4" r="3.2" fill="#f00"/>
<circle cx="478" cy="1009.4" r="3.2" fill="#f00"/>
<circle cx="497" cy="1009.4" r="3.2" fill="#f00"/>
<circle cx="551" cy="1014.4" r="3.2" fill="#f00"/>
<circle cx="574" cy="1012" r="3.2" fill="#f00"/>
<circle cx="676.6" cy="980.6" r="3.2" fill="#f00"/>
<circle cx="676.6" cy="983" r="3.2" fill="#f00"/>
<g stroke="#606060" stroke-width="1" fill="none">
<path d="M40.5 950V1113.2"/>
<path d="M35 1113.2H40.5"/>
<path d="M35 1089.9H40.5"/>
<path d="M35 1066.6H40.5"/>
<path d="M35 1043.3H40.5"/>
<path d="M35 1019.9H40.5"/>
<path d="M35 996.6H40.5"/>
<path d="M35 973.3H40.5"/>
<path d="M35 950H40.5"/>
<path d="M40.5 1119.5H670.8"/>
<path d="M40.5 1119.5v5.2"/>
<path d="M59 1119.5v5.2"/>
<path d="M87.8 1119.5v5.2"/>
<path d="M116.8 1119.5v5.2"/>
<path d="M143.6 1119.5v5.2"/>
<path d="M168.5 1119.5v5.2"/>
<path d="M199.4 1119.5v5.2"/>
<path d="M227.7 1119.5v5.2"/>
<path d="M256.5 1119.5v5.2"/>
<path d="M285 1119.5v5.2"/>
<path d="M314.8 1119.5v5.2"/>
<path d="M343.8 1119.5v5.2"/>
<path d="M372.8 1119.5v5.2"/>
<path d="M399.6 1119.5v5.2"/>
<path d="M422.7 1119.5v5.2"/>
<path d="M445 1119.5v5.2"/>
<path d="M464.9 1119.5v5.2"/>
<path d="M482.8 1119.5v5.2"/>
<path d="M502.4 1119.5v5.2"/>
<path d="M524.3 1119.5v5.2"/>
<path d="M545.4 1119.5v5.2"/>
<path d="M565.7 1119.5v5.2"/>
<path d="M586 1119.5v5.2"/>
<path d="M606.8 1119.5v5.2"/>
<path d="M628.9 1119.5v5.2"/>
<path d="M650 1119.5v5.2"/>
<path d="M670.8 1119.5v5.2"/>
</g>
<text transform="translate(28 1113.2) rotate(-90)" text-anchor="middle" font-family="Liberation Sans" font-size="9" fill="#111" stroke="#111" stroke-width="0.2">0</text>
<text transform="translate(28 1089.9) rotate(-90)" text-anchor="middle" font-family="Liberation Sans" font-size="9" fill="#111" stroke="#111" stroke-width="0.2">1</text>
<text transform="translate(28 1066.6) rotate(-90)" text-anchor="middle" font-family="Liberation Sans" font-size="9" fill="#111" stroke="#111" stroke-width="0.2">2</text>
<text transform="translate(28 1043.3) rotate(-90)" text-anchor="middle" font-family="Liberation Sans" font-size="9" fill="#111" stroke="#111" stroke-width="0.2">3</text>
<text transform="translate(28 1019.9) rotate(-90)" text-anchor="middle" font-family="Liberation Sans" font-size="9" fill="#111" stroke="#111" stroke-width="0.2">4</text>
<text transform="translate(28 996.6) rotate(-90)" text-anchor="middle" font-family="Liberation Sans" font-size="9" fill="#111" stroke="#111" stroke-width="0.2">5</text>
<text transform="translate(28 973.3) rotate(-90)" text-anchor="middle" font-family="Liberation Sans" font-size="9" fill="#111" stroke="#111" stroke-width="0.2">6</text>
<text transform="translate(28 950) rotate(-90)" text-anchor="middle" font-family="Liberation Sans" font-size="9" fill="#111" stroke="#111" stroke-width="0.2">7</text>
<text transform="translate(11.2 1030.6) rotate(-90)" text-anchor="middle" font-family="Liberation Serif" font-size="11.4" fill="#111">-lg(p)</text>
<text x="4.1" y="961.1" font-family="Liberation Sans" font-weight="bold" font-size="26" fill="#000">f</text>
<defs><path id="eg" d="M44 1304.6L44 1304.6L44.4 1292.5L46 1291.4L48 1291.1L50 1291.8L52 1293.2L53.4 1296.7L55 1299.5L57 1300.9L59 1301.6L61 1300.9L63 1299.5L65 1298.1L67 1296L69 1292.5L70.6 1291.8L72 1292.5L73.8 1304.6L75 1304.6L75.6 1295.3L77 1293.2L78.6 1292.5L80 1293.2L81.4 1295.3L83 1299.5L85 1302.3L87 1300.9L89 1299.5L91 1299.5L93 1298.1L95 1294.6L97 1291.8L98.6 1291.1L100.6 1304.6L102 1304.6L102.6 1292.5L104 1289.7L105.4 1291.1L107 1294.6L109 1298.1L111 1302.3L113 1304.6L115 1303L117 1300.9L119 1298.1L121 1296L123 1295.3L125 1293.9L127 1291.8L128.6 1289.7L130 1291.1L131.8 1304.6L133 1304.6L133.6 1288.3L135 1287.6L136.6 1289.7L138 1293.9L140 1298.1L142 1298.8L144 1299.5L146 1293.2L148 1291.8L150 1291.8L151.4 1292.5L153.8 1304.6L155 1304.6L155.6 1289.7L157.4 1287.6L159 1286.9L160.6 1286.2L162.6 1288.3L164.6 1289.7L166.6 1291.1L168.6 1292.5L171.8 1293.9L172 1293.9L174 1293.9L176 1293.2L178 1292.5L180 1293.2L182.4 1304.6L184 1304.6L184.6 1296.7L186 1296L188 1297.4L190 1298.1L192 1299.5L194 1300.9L196 1300.9L198 1299.5L200 1296.7L202 1293.9L204 1291.1L206 1288.3L208 1286.9L210 1286.9L212 1286.9L213.6 1288.3L214.8 1304.6L216.4 1304.6L217 1295.3L218.4 1291.8L220 1290.4L222 1291.1L223.6 1294.6L225.6 1296.7L227.6 1299.5L229.6 1300.9L231.6 1300.2L233.6 1296.7L235.6 1292.5L237 1289L238 1291.1L240 1304.6L241 1304.6L241.6 1292.5L243 1289.7L244.4 1290.4L246 1291.8L248 1293.9L250 1293.9L252 1293.2L254 1293.2L256 1293.2L258 1293.2L260 1293.9L262 1294.6L264 1293.9L266 1294.6L268 1295.3L270 1296L272.8 1304.6L274 1304.6L274.6 1293.9L276 1292.5L277.6 1293.2L279 1294.6L281 1295.3L283 1294.6L285 1293.9L287 1292.5L289 1291.8L291 1292.5L293 1293.2L294.4 1293.9L296.8 1304.6L298 1304.6L298.6 1296L300 1294.6L302 1296.7L304 1296.7L306 1294.6L308.8 1292.5L309 1292.5L311 1296.7L313 1295.3L315 1291.1L317 1289.7L319 1288.3L321 1286.9L323 1285.5L324.6 1286.2L326 1288.3L327.4 1291.1L328.6 1304.6L330 1304.6L330.6 1291.1L332 1289L334 1288.3L336 1289.7L338 1293.9L340 1299.5L342 1300.9L344 1299.5L346 1298.1L348 1296L350 1293.9L352 1291.1L354 1289.7L356 1291.1L358 1304.6L359 1304.6L359.6 1292.5L361 1291.1L362.6 1292.5L364.6 1294.6L366.6 1296.7L368.6 1296.7L370.6 1295.3L372.6 1293.2L374.6 1291.1L376.6 1290.4L378.6 1290.4L380.6 1290.4L382.6 1290.4L384.6 1291.1L387 1304.6L388 1304.6L388.6 1292.5L390 1291.8L391.4 1293.9L393 1295.3L395 1293.9L397 1292.5L399 1293.2L401 1293.9L403 1293.9L405 1293.2L407 1291.8L409 1292.5L411 1293.9L412.6 1304.6L413.4 1304.6L414 1296.7L415 1295.3L416.6 1293.9L418 1293.2L420 1293.2L422 1292.5L424 1291.8L426 1292.5L428 1293.2L430 1293.9L431.4 1295.3L433 1304.6L434 1304.6L434.6 1291.1L436 1289.7L438 1288.3L440 1287.6L442 1286.9L444 1288.3L445.8 1289.7L446 1289.7L448 1288.3L450 1285.5L451.6 1282.7L453 1282L454.4 1284.1L455.6 1304.6L457 1304.6L457.6 1292.5L459 1291.1L460.4 1292.5L462 1295.3L464 1298.1L466 1296.7L467.6 1293.9L469.6 1291.1L471 1291.8L472 1294.6L473.6 1304.6L475 1304.6L475.6 1295.3L477 1293.9L478.4 1294.6L480 1298.1L482 1301.6L484 1302.3L486 1299.5L487.6 1293.2L489 1288.3L490.4 1289.7L492 1304.6L493 1304.6L493.6 1291.1L495 1289.7L497 1289.3L499 1290.4L501 1291.1L503 1292.5L505 1293.2L507 1291.8L509 1291.1L511 1291.8L512.8 1304.6L514 1304.6L514.6 1293.9L516 1293.2L517.6 1292.5L519 1293.9L521 1292.5L523 1290.4L525 1291.1L527 1293.2L529 1292.5L531 1291.8L532.4 1291.1L533.6 1292.5L535.2 1304.6L536.4 1304.6L537 1289.7L538.4 1287.6L540 1288.3L542 1289.7L544 1289.7L546 1290.4L548 1289.7L550 1286.9L551.6 1286.2L553 1289.7L554.8 1304.6L555.6 1304.6L556.2 1294.6L557.6 1292.5L559 1294.6L561 1298.1L563 1296L565 1294.6L567 1293.9L569 1293.2L571 1291.8L573 1289.7L575 1291.1L576.8 1304.6L578.4 1304.6L579 1293.2L581 1291.1L582.8 1289.7L583 1293.2L585 1292.5L587 1291.8L589 1289.7L591 1288.3L593 1291.1L595.2 1304.6L596.6 1304.6L597.2 1292.5L598.4 1291.1L599.6 1291.8L601 1292.5L603 1293.9L605 1294.6L607 1295.3L609 1293.2L611 1291.8L613 1291.8L615 1292.5L617.6 1304.6L619 1304.6L619.6 1293.2L621 1292.5L622.4 1291.8L624 1293.2L626 1295.3L628 1300.9L630 1295.3L632 1292.5L634 1291.8L636 1292.5L638 1294.6L639.6 1296.7L640.8 1304.6L641.6 1304.6L642.2 1295.3L643.6 1292.5L645.6 1293.9L647.6 1296.7L649.6 1298.1L651.6 1296.7L653.6 1295.3L655.6 1294.6L657.6 1295.3L659.6 1304.6L661 1304.6L661.6 1293.9L663 1292.5L664.4 1293.2L666 1296.7L668 1298.1L670 1295.3L672 1291.1L674 1289.7L676 1289L678 1289.7L679.6 1291.1L680.8 1304.6L680.8 1304.6Z" stroke-width="3.8" stroke-linejoin="round"/></defs>
<g clip-path="url(#c0)" fill="#377EB8" stroke="#377EB8"><use href="#eg"/></g>
<path d="M46 1257L46 1255.6M59 1283.6L61 1283" stroke="#377EB8" stroke-width="3.8" stroke-linecap="round"/>
<path d="M46 1240h0M46 1255.6h0M46 1257h0M56 1255.6h0M59 1283.6h0M61 1283h0M71.4 1253.6h0M71.4 1260.6h0M68 1276h0M46.5 1269.2h0M46.5 1289h0M46.1 1272.5h0M47.3 1289.1h0M46.4 1286.8h0M46.2 1280.6h0M48 1290.7h0M46.8 1274.9h0M47.2 1282.4h0M45.9 1283.6h0M46.3 1276.6h0M47.1 1275.1h0M45.7 1279.8h0M47 1281.8h0M46.4 1279.9h0M46.9 1289.1h0M46.8 1280.9h0M46.4 1285.3h0M47.1 1288h0M46.5 1279.6h0M46.6 1275.9h0M47.1 1267.5h0M48.5 1278.6h0M49.1 1282.8h0M48.8 1284.1h0M48.8 1280.4h0M49.1 1287.7h0M48.8 1291h0M49 1276.6h0M48.6 1282.9h0M48.5 1275.6h0M52.5 1282.7h0M52.7 1279.6h0M51.5 1287.9h0M52.3 1287.5h0M52.1 1288.9h0M52 1289.5h0M52.6 1292.7h0M51.6 1291h0M51.4 1291.9h0M52 1287h0M51.6 1277.8h0M52.2 1276.5h0M52 1274.5h0M54.2 1296.4h0M54.5 1293.9h0M54.3 1297.4h0M54.1 1291.9h0M53.8 1291.9h0M58.2 1297.1h0M57.8 1299.8h0M58.1 1300.2h0M57.6 1296.9h0M61.2 1296.4h0M61.3 1297.8h0M60.5 1300.7h0M61.3 1295.8h0M64.1 1290.9h0M64 1293.3h0M64.1 1290.1h0M64.7 1294.8h0M64 1288.1h0M64.7 1292.5h0M64.8 1290.3h0M63.9 1293.2h0M64.9 1288.9h0M63.2 1296.9h0M63.9 1287.6h0M66.2 1291.9h0M66.7 1294.4h0M66 1291.3h0M66.5 1293.9h0M67.3 1287.6h0M66 1295.2h0M66.1 1295h0M67.1 1286.9h0M66.7 1284h0M66.5 1292.2h0M66.7 1286.4h0M65.9 1282.4h0M65.8 1294h0M66.1 1282.2h0M69.3 1275.8h0M68.9 1292h0M68.1 1291.4h0M69.7 1284.1h0M69.1 1289.5h0M69.1 1270.7h0M68.9 1287.7h0M70.4 1291.1h0M68.9 1274.5h0M69.5 1291.8h0M69.4 1286.9h0M69.4 1289.4h0M69.4 1276.5h0M70.2 1279.2h0M69.5 1278.6h0M68.7 1286.6h0M69.1 1279.7h0M68.6 1284.2h0M69.5 1286.3h0M69.3 1274.9h0M68.9 1281.9h0M68.9 1270h0M69.5 1269.9h0" stroke="#377EB8" stroke-width="3.8" stroke-linecap="round"/>
<g clip-path="url(#c1)" fill="#4DAF4A" stroke="#4DAF4A"><use href="#eg"/></g>
<path d="M78.6 1250L77.4 1245M98.6 1264L98.6 1265.9" stroke="#4DAF4A" stroke-width="3.8" stroke-linecap="round"/>
<path d="M77.4 1245h0M78.6 1250h0M80.6 1263.4h0M98 1240.6h0M98.6 1264h0M76.9 1280h0M77 1291.4h0M77.7 1285.1h0M76.4 1274.1h0M77.3 1283h0M77.2 1279.6h0M76.8 1278.5h0M77.1 1291.8h0M77.6 1278.2h0M76.7 1290.7h0M76.2 1278.8h0M76.8 1278.7h0M77.3 1280h0M76.5 1285.1h0M77 1283.5h0M76.9 1274h0M77.1 1272.3h0M80.2 1290.8h0M80 1290.5h0M81 1289.4h0M79.6 1282.7h0M79.9 1292.4h0M80.2 1288.1h0M80.3 1287.3h0M80.3 1292.4h0M80 1285.5h0M80.5 1291.7h0M81.2 1278h0M84.2 1300.5h0M84.3 1301.2h0M84.1 1298.5h0M83.9 1296.9h0M87.5 1299.2h0M87.1 1295.7h0M86.7 1297.4h0M87.3 1295.6h0M90.1 1297.5h0M88.9 1292.9h0M89.3 1295h0M88.9 1297.3h0M90.2 1298.1h0M89.6 1295.7h0M89.4 1290.9h0M88.1 1291h0M90 1290.3h0M92.7 1296.1h0M93.9 1288.7h0M92.5 1286.5h0M93.2 1291.3h0M93.5 1290.7h0M93.2 1286.6h0M93.1 1286.8h0M92.6 1290.8h0M93.5 1293.9h0M94.2 1294.6h0M93.8 1285.7h0M95.8 1288.6h0M95.8 1292.1h0M95.7 1280.9h0M96.3 1283.2h0M95.7 1278.1h0M95.9 1292.5h0M96.2 1281.7h0M95.8 1274.6h0M95.9 1278.1h0M95.8 1279h0M95.1 1286h0M95.7 1281.1h0M95.7 1283.4h0M95.2 1292.1h0M95.9 1287h0M95.6 1289.4h0M95.8 1274.5h0M96.2 1274.5h0" stroke="#4DAF4A" stroke-width="3.8" stroke-linecap="round"/>
<g clip-path="url(#c2)" fill="#984EA3" stroke="#984EA3"><use href="#eg"/></g>
<path d="M105 1249L105 1245M105 1254L105 1249M105.4 1259.6L105.4 1265.9M128.6 1242.4L129 1240M129 1256L129 1263M127 1258.4L129 1256M122.6 1277.6L122.6 1278.3M118.6 1280.6L118.6 1287.5" stroke="#984EA3" stroke-width="3.8" stroke-linecap="round"/>
<path d="M105 1245h0M105 1249h0M105 1254h0M105.4 1259.6h0M129 1240h0M128.6 1242.4h0M129 1256h0M127 1258.4h0M122.6 1277.6h0M118.6 1280.6h0M105.3 1275.6h0M105.2 1285.9h0M104.6 1284.4h0M105.6 1275.9h0M104.9 1281.5h0M105 1283.8h0M105.3 1289.1h0M105.2 1276.3h0M104.4 1286.8h0M105 1279.6h0M104.8 1271.6h0M105.1 1290.4h0M105 1282.6h0M104.5 1274.2h0M105 1269.6h0M104.7 1269.4h0M109.3 1293.7h0M108.6 1293.2h0M109.4 1292.9h0M108.7 1290.9h0M108.6 1294.4h0M109.2 1292h0M108.3 1291.6h0M108 1296.5h0M108.4 1286h0M108.2 1284.7h0M111 1302.5h0M112 1301.1h0M115 1302h0M115.5 1302.9h0M114.9 1300.7h0M117.9 1296.2h0M117.3 1299.8h0M116.9 1298.9h0M117.4 1294.7h0M117.5 1294.7h0M120.3 1292.3h0M120.7 1289.1h0M119.3 1285.2h0M120.7 1291.7h0M120.5 1285.4h0M120.2 1285.9h0M119.8 1287h0M120.4 1285.7h0M120.6 1291.9h0M120.3 1284.3h0M120.2 1279.7h0M124 1290.5h0M124 1290.6h0M123.3 1290.9h0M122.7 1285.8h0M123.6 1279.3h0M123.5 1290.4h0M123.2 1290.2h0M123.7 1289.6h0M123.3 1286.6h0M123.6 1283.7h0M123.4 1281.9h0M124.3 1283.8h0M123.4 1292.3h0M123.6 1279h0M123.1 1271.2h0M126.2 1278.9h0M127.9 1278.5h0M127.4 1284.3h0M127.2 1281.2h0M127.1 1275.7h0M127.9 1287.1h0M127.1 1271.4h0M127.6 1291.4h0M126.9 1288.9h0M127.1 1285h0M127.4 1278.3h0M126.7 1279.3h0M127.1 1275.4h0M127.1 1282.7h0M126.7 1279.7h0M127 1290.7h0M126.8 1273.6h0M127 1270.5h0M127.6 1270.8h0M127.2 1283.9h0M126.5 1278.7h0M127.5 1268.1h0" stroke="#984EA3" stroke-width="3.8" stroke-linecap="round"/>
<g clip-path="url(#c3)" fill="#FF7F00" stroke="#FF7F00"><use href="#eg"/></g>
<path d="M136 1255L136 1259.7M137 1265L137 1265.3M141 1286L141 1286.9" stroke="#FF7F00" stroke-width="3.8" stroke-linecap="round"/>
<path d="M136 1249h0M136 1255h0M151 1246.6h0M151 1252.4h0M137 1265h0M141 1286h0M134.7 1267.7h0M136.4 1282.1h0M135.8 1285.7h0M135.4 1268.9h0M135.5 1273h0M135.4 1267.3h0M135.8 1284.9h0M135.6 1277.9h0M135.2 1265h0M136.4 1268h0M135.2 1273.8h0M135.4 1265.5h0M135.9 1284h0M134.9 1272.6h0M135.2 1264.1h0M136 1273h0M135.4 1282.4h0M135 1264.6h0M134.7 1267.3h0M135.7 1262.4h0M138 1278.4h0M138.2 1286.3h0M137.6 1286h0M138 1293.9h0M138.2 1283.8h0M138 1290.4h0M138.2 1291.5h0M137.9 1278.7h0M137.4 1280h0M137.8 1279.5h0M139 1288.7h0M138.1 1281.4h0M138.3 1281.3h0M138.4 1281.5h0M137.6 1283.1h0M138 1276.3h0M141.7 1293.4h0M141.1 1293h0M141.5 1295.5h0M142 1295.5h0M141.5 1290.9h0M145.8 1285.6h0M145.4 1291.5h0M144.9 1279.9h0M146 1280.4h0M144.7 1283h0M145.2 1294.5h0M145.2 1283.8h0M144.8 1287.6h0M145.1 1286.5h0M145.8 1295h0M145.6 1292.2h0M144.4 1289.7h0M145.2 1288h0M144.5 1284.7h0M145.3 1279.1h0M147.9 1286.7h0M146.9 1289.7h0M146.6 1281.9h0M147.3 1272h0M147.7 1274.9h0M147.5 1284.7h0M147.5 1278.4h0M147.3 1270.8h0M147.9 1288.1h0M147.5 1288.7h0M147.2 1288.2h0M147.8 1283h0M146.7 1287.3h0M147.3 1279.8h0M147.6 1284h0M148.2 1276.5h0M148.2 1285.9h0M148 1274.3h0M147.7 1285.8h0M147.7 1283.2h0M147.4 1281.9h0M147.2 1269.3h0M149.3 1291.1h0M149.9 1286.4h0M149.7 1288.8h0M150.1 1280h0M149.6 1281.9h0M150.4 1284.5h0M150 1290.9h0M149.5 1276.8h0M150.3 1275.3h0" stroke="#FF7F00" stroke-width="3.8" stroke-linecap="round"/>
<g clip-path="url(#c4)" fill="#377EB8" stroke="#377EB8"><use href="#eg"/></g>
<path d="M160.6 1247L160.6 1251.9M167 1260L167 1266.7M178 1249L178 1245M178.4 1262L178 1257M180 1266.4L178.4 1262M180 1266.4L180 1271.9" stroke="#377EB8" stroke-width="3.8" stroke-linecap="round"/>
<path d="M165 1232.4h0M165 1244h0M160.6 1247h0M166.6 1251h0M167 1260h0M168 1276h0M178 1237h0M178 1245h0M178 1249h0M178 1257h0M178.4 1262h0M180 1266.4h0M157.3 1272.3h0M157.9 1269.9h0M157.4 1285.7h0M157.7 1280.3h0M157.6 1258h0M158.5 1265.4h0M157.2 1257.9h0M157.9 1261.4h0M157.9 1272.4h0M158.4 1266.8h0M158.3 1258.5h0M157.8 1268.4h0M157.6 1263h0M157.6 1283.6h0M157.5 1272.8h0M158.2 1269.1h0M157.6 1267.2h0M157.7 1283.7h0M158 1278.4h0M158 1268.3h0M156.6 1277.9h0M157.2 1276.6h0M157 1268.7h0M158.7 1275.6h0M158 1280.1h0M157.9 1257.7h0M159.7 1274h0M160.7 1284h0M161 1271.5h0M161.2 1265.9h0M161.3 1268.4h0M160.7 1262.8h0M160.9 1272.8h0M159.9 1266h0M160.3 1282.6h0M160 1267.6h0M160.8 1277.4h0M160.3 1263.9h0M160.5 1274.8h0M160.7 1272.5h0M160.6 1276.9h0M160.2 1276h0M160.6 1279.4h0M160.8 1271.6h0M160.7 1277.8h0M161.3 1269.7h0M161.1 1279.1h0M161.1 1264.2h0M160.3 1278.7h0M160.8 1283.4h0M160.3 1255.6h0M164.5 1281.6h0M164 1282.3h0M163.7 1269.3h0M164 1288.2h0M164 1272.1h0M163.6 1267.6h0M163.8 1264.2h0M164.1 1277.9h0M163.9 1288.5h0M164.1 1270.6h0M163.6 1288.5h0M163.9 1284.7h0M163.5 1276.8h0M163.5 1278.8h0M164.3 1271.4h0M164.3 1287.9h0M164.2 1263.9h0M164 1282.5h0M163.5 1264.1h0M163.8 1269.3h0M164.3 1263.7h0M167.4 1282.5h0M167.2 1287h0M166.7 1271.3h0M167.4 1278.9h0M168.1 1281h0M167.3 1277.4h0M167.6 1286h0M167.4 1279.9h0M166.8 1286.4h0M166.4 1270.2h0M166.4 1280.7h0M166.8 1289.8h0M166.7 1284.9h0M167.4 1289.3h0M166.9 1286.9h0M167.7 1288.1h0M166.9 1290h0M167.5 1284.6h0M166.7 1290.7h0M166.8 1291.2h0M166.7 1276.8h0M167.1 1268.3h0M171.1 1279.4h0M170.2 1287.3h0M170.8 1290.2h0M170.2 1287.9h0M170.9 1290.2h0M170.5 1289.7h0M171 1287.5h0M170.9 1286.2h0M170.9 1278.5h0M169.6 1292.1h0M170.1 1282h0M170.4 1277h0M172.9 1287.7h0M173.5 1292.9h0M173 1283.3h0M173.1 1290.6h0M172.8 1289h0M171.9 1286.9h0M172.6 1281.6h0M173.2 1275.4h0M175.3 1284.6h0M175.3 1280.8h0M175.1 1284.3h0M175.6 1291.3h0M175.3 1281h0M174.9 1282.3h0M175.8 1290.2h0M175.2 1283.9h0M174.4 1288.7h0M175.2 1278.5h0M176.8 1276.8h0M176.7 1289.5h0M176.3 1287.9h0M176.6 1285.8h0M176.3 1280.7h0M177.5 1278.4h0M176.8 1281.4h0M176.5 1289.1h0M177.5 1274.9h0M176.4 1285.7h0M176.9 1290.3h0M177.3 1282.7h0M177 1274.7h0M179.9 1280.6h0M178.8 1281.2h0M179.7 1274.6h0M179.6 1282.4h0M179.5 1276.6h0M179.6 1286.7h0M179.1 1278.9h0M180.1 1277.1h0M179.2 1278.3h0M178.8 1280.1h0M179.4 1277.6h0M178.8 1287.9h0M179.2 1277.4h0M179.5 1277.1h0M180 1274.4h0" stroke="#377EB8" stroke-width="3.8" stroke-linecap="round"/>
<g clip-path="url(#c5)" fill="#4DAF4A" stroke="#4DAF4A"><use href="#eg"/></g>
<path d="M212.4 1220L212.4 1217M204 1252.4L205.6 1249M198 1283L198 1289.9M201.6 1303L200 1298" stroke="#4DAF4A" stroke-width="3.8" stroke-linecap="round"/>
<path d="M212.4 1217h0M212.4 1220h0M212.4 1227.4h0M212.4 1238.4h0M209.6 1242h0M188.4 1250.4h0M203 1248h0M205.6 1249h0M204 1252.4h0M189 1267.4h0M192.4 1263h0M196 1271h0M189.6 1273.6h0M198 1283h0M202 1290h0M200 1298h0M207.6 1284h0M201.6 1303h0M185.7 1282.2h0M185.1 1286.1h0M185.6 1294.1h0M185 1283.9h0M186.3 1286.5h0M186.1 1292.5h0M186 1283.7h0M186.2 1285.2h0M186.8 1288.9h0M185.8 1281.2h0M185.7 1285.9h0M185.9 1287.3h0M185.5 1289.3h0M186.4 1288.1h0M186.4 1280.8h0M189.5 1292.5h0M188.7 1290.6h0M189.2 1296.3h0M191.2 1290.8h0M189.5 1292.1h0M188.8 1290.6h0M189.1 1288.7h0M190 1287.9h0M192.6 1296.9h0M192.5 1292.3h0M192.8 1293.5h0M193 1298.8h0M193 1292.3h0M192.5 1293.9h0M193.3 1291.8h0M195.6 1298.2h0M195.7 1296.8h0M194.6 1300.8h0M194.9 1297.9h0M195.8 1295.2h0M198.4 1293.6h0M198.6 1292.7h0M197.7 1297h0M197.9 1297.2h0M198.2 1298.5h0M198.1 1291.3h0M201.2 1290.3h0M199.9 1284.7h0M200.8 1288.2h0M200.6 1283.9h0M200.4 1281.5h0M201.3 1286.9h0M200.6 1283.9h0M200.4 1292.5h0M199.7 1292.8h0M201.5 1280.9h0M200.6 1294.7h0M200.5 1289.3h0M200.2 1283.3h0M201.1 1292.6h0M200.5 1290.8h0M201 1292.1h0M200.5 1279.6h0M203.4 1284.4h0M203.8 1275.8h0M203.9 1277.7h0M202.6 1286h0M203.5 1290.8h0M203.8 1277.9h0M203.2 1279.7h0M203.8 1283.5h0M204.2 1290.2h0M203.3 1278.9h0M204 1274.3h0M206.3 1266.2h0M207 1269.8h0M207.5 1281.1h0M206.4 1272.9h0M206.4 1276.3h0M206.7 1267h0M207.7 1274h0M207.4 1276.4h0M206.9 1270.3h0M206.7 1271.5h0M207.9 1284.5h0M206.9 1283.8h0M207.4 1269h0M207.1 1283.9h0M206.7 1269.6h0M207.4 1263.4h0M210.8 1261.7h0M210.8 1269.4h0M211 1269.7h0M211.2 1271.7h0M210.7 1270.9h0M211.4 1256.2h0M210.5 1271.8h0M211.1 1272.8h0M211.3 1282h0M210.5 1269h0M210.5 1258.7h0M210.3 1272.1h0M210.6 1279.9h0M210.8 1284.8h0M210.2 1280.4h0M210.3 1278.2h0M211.1 1286.2h0M210.6 1271.4h0M210.2 1256.2h0M210.5 1272.5h0M210.6 1274.8h0M211.3 1269.9h0M210.6 1275.3h0M211.2 1260.9h0M211.2 1270.6h0M211.3 1261.7h0M211.2 1258.8h0M211.6 1255.9h0" stroke="#4DAF4A" stroke-width="3.8" stroke-linecap="round"/>
<g clip-path="url(#c6)" fill="#984EA3" stroke="#984EA3"><use href="#eg"/></g>
<path d="M219.6 1259.6L219.6 1264.9M236 1261L236 1267M235.6 1266.4L235.6 1269.9" stroke="#984EA3" stroke-width="3.8" stroke-linecap="round"/>
<path d="M219.6 1259.6h0M223.6 1262h0M236.4 1255h0M236 1261h0M235.6 1266.4h0M235.6 1272h0M230 1296h0M219.5 1275.7h0M219.3 1276.5h0M219.7 1279h0M220.9 1281h0M219.6 1275.3h0M218.7 1284.4h0M219.7 1276.1h0M220.2 1275.7h0M219.9 1287.5h0M219.7 1287h0M220.6 1283.5h0M219.6 1278.5h0M220.7 1267.8h0M220.8 1272.1h0M220.6 1267.6h0M220 1275.4h0M220.3 1275h0M220 1283.5h0M220.8 1277.6h0M219.4 1276.7h0M219.7 1283.1h0M220.4 1265.3h0M219.6 1275h0M219.9 1285h0M218.5 1266.3h0M220.1 1281.3h0M219.9 1264.4h0M223.5 1292h0M223.6 1284.5h0M222.7 1284.8h0M224.1 1284.7h0M223.5 1290.2h0M224.4 1293.9h0M223.7 1286.3h0M223.5 1282.9h0M223.3 1278h0M227.2 1296.7h0M227.5 1292.1h0M227.7 1298.9h0M227.3 1293.5h0M228.2 1294.7h0M226.5 1294.9h0M227.5 1297.9h0M227.4 1290.3h0M230.3 1299.2h0M231 1295h0M230.6 1296.5h0M230.9 1295.4h0M231 1294.6h0M234 1285.5h0M233.8 1292.6h0M233.4 1283.3h0M233 1295h0M232.8 1283.7h0M234 1294.2h0M233.8 1282.2h0M233.9 1292.6h0M234.7 1284.1h0M233.7 1282.2h0M233.9 1291h0M234.2 1289.2h0M233.9 1285.6h0M233.2 1293h0M233.7 1295.1h0M233.1 1286.5h0M234 1281h0M235.9 1288.3h0M236.7 1276.1h0M235.8 1278.1h0M236.2 1272.4h0M235.7 1270.7h0M236.8 1282.9h0M236.8 1275.9h0M236.7 1289.2h0M236.6 1282.8h0M235.7 1273.3h0M236 1273.8h0M236.2 1283.4h0M237.1 1285h0M236.1 1270.7h0" stroke="#984EA3" stroke-width="3.8" stroke-linecap="round"/>
<g clip-path="url(#c7)" fill="#FF7F00" stroke="#FF7F00"><use href="#eg"/></g>
<path d="M246.4 1249L245.6 1244M245.6 1259L245.6 1255M245.6 1259L245.6 1266.9M269.6 1269.6L268.4 1264.4" stroke="#FF7F00" stroke-width="3.8" stroke-linecap="round"/>
<path d="M245.6 1244h0M246.4 1249h0M245.6 1255h0M245.6 1259h0M264.6 1245.4h0M265 1260.6h0M268.4 1264.4h0M269.6 1269.6h0M252 1298h0M255 1301h0M244.1 1276.9h0M243.3 1289.3h0M244.2 1286.5h0M244.6 1282.4h0M244.5 1278.8h0M243.4 1280.8h0M244.1 1274.9h0M243.8 1285.5h0M243.7 1279.3h0M244.4 1274.4h0M244.1 1283.7h0M243.4 1280h0M243.6 1270.1h0M243.9 1268.1h0M247.2 1288.3h0M247.5 1283.4h0M247.1 1286.6h0M246.9 1285.7h0M248.2 1285.4h0M247.3 1279.5h0M246.5 1278.4h0M247.7 1287.3h0M247.9 1291.5h0M247.5 1277.7h0M251.3 1285.7h0M250.6 1276.5h0M251.4 1289.4h0M250.6 1291.6h0M250.5 1287.2h0M250.4 1277.6h0M251 1279.8h0M251 1277.4h0M250.8 1277.9h0M251.8 1288.6h0M252.1 1279.7h0M251 1288.9h0M251 1279.6h0M250.8 1286.1h0M250.4 1282.3h0M250.9 1293.2h0M250.2 1282.9h0M250.8 1273.9h0M251.5 1273.7h0M252.7 1282.1h0M253.4 1289h0M252.2 1289.9h0M253 1283.3h0M252.6 1280.7h0M253.6 1275.4h0M252.6 1279.7h0M253 1273.3h0M253.3 1291.3h0M253.8 1282.3h0M252 1287.9h0M253.2 1292.7h0M252.2 1273.6h0M253.2 1293.1h0M252.9 1288.9h0M254.1 1279.7h0M253.4 1290.9h0M253.3 1290.8h0M253.1 1291.7h0M252.3 1281.4h0M253.4 1272.1h0M256.9 1290.4h0M257.2 1287h0M257.1 1278.2h0M257 1288h0M255.6 1282.5h0M256.3 1281.8h0M257.6 1287.4h0M256.7 1286.3h0M256.8 1293.1h0M255.8 1284.8h0M256.5 1281.3h0M256 1276h0M257.1 1272.2h0M260 1287.2h0M259.5 1281.9h0M259.9 1291h0M259.1 1289.1h0M259.4 1290.6h0M259.5 1288.5h0M259.7 1287.1h0M259.9 1286.9h0M259.8 1279.4h0M261.3 1290.9h0M262.6 1283.1h0M261.9 1291.3h0M261.3 1287h0M261.1 1290h0M261.4 1287.6h0M261.9 1290.7h0M261.2 1281.3h0M265.5 1287.7h0M265.9 1292.1h0M265.3 1285.1h0M265.2 1289.6h0M265 1287.3h0M263.3 1281.7h0M265.4 1292.5h0M264.6 1293.7h0M265.1 1280.5h0M265.1 1279.6h0M265.5 1277.3h0M267.1 1286.6h0M267.7 1279.9h0M267 1293.5h0M267.2 1294.1h0M267.1 1279.2h0M267.7 1279.1h0M267.5 1292h0M267.2 1278.1h0M267.4 1295h0M268 1289.1h0M267 1279.8h0M267.7 1280.3h0M266.4 1279.7h0M267.4 1287.2h0M267.7 1278.1h0M269.6 1287.3h0M269.3 1287.7h0M270.2 1287.6h0M270.3 1286.5h0M269.5 1287.8h0M269.8 1285.8h0M269.8 1285.1h0M270 1284.8h0" stroke="#FF7F00" stroke-width="3.8" stroke-linecap="round"/>
<g clip-path="url(#c8)" fill="#377EB8" stroke="#377EB8"><use href="#eg"/></g>
<path d="M276.4 1264L276.4 1270.4M287.6 1266L287.6 1269.3M292 1269L292 1270.9" stroke="#377EB8" stroke-width="3.8" stroke-linecap="round"/>
<path d="M288 1257.6h0M293 1257.6h0M276.4 1264h0M287.6 1266h0M292 1269h0M276.1 1278.5h0M277.2 1281.4h0M277.4 1287.5h0M276.8 1291.4h0M277.5 1279.5h0M277.1 1281.7h0M277.2 1283.5h0M277.6 1283.7h0M277.2 1285.8h0M277.2 1277.6h0M279.8 1294.6h0M279.5 1285.1h0M278.9 1283.8h0M279.1 1277.7h0M279 1286.1h0M280 1287.7h0M279.5 1294.1h0M278.9 1289.4h0M278.3 1282.3h0M279.6 1294.3h0M279.4 1279.1h0M278.9 1285.4h0M280.4 1293.9h0M280.3 1281.2h0M279.6 1284.4h0M279.5 1277.5h0M282.6 1285.1h0M283 1289.2h0M283.1 1283.5h0M283.6 1289.6h0M283 1285.4h0M283.3 1283.3h0M286.2 1280.5h0M287 1277.9h0M286.1 1280.1h0M286.9 1284.6h0M286.5 1275.4h0M286.7 1290.4h0M286.2 1278h0M286.6 1280.9h0M287.3 1289h0M287.2 1278h0M286.8 1291.1h0M286.4 1280.6h0M286 1283.4h0M286.5 1274.5h0M286.1 1272h0M289.2 1280.2h0M289.8 1273.9h0M289.8 1287.2h0M288.9 1290.4h0M288.8 1282.5h0M289.4 1273.8h0M289.1 1280.3h0M289.6 1273.9h0M289 1276.3h0M289.4 1286.6h0M288.7 1284.6h0M289.2 1282.4h0M289.4 1273.3h0M293.3 1282.7h0M292.7 1280.1h0M291.9 1290.2h0M292.4 1284.6h0M293.3 1290.2h0M293.2 1281.3h0M292.4 1278.6h0M292.4 1287.8h0M292.6 1278.4h0" stroke="#377EB8" stroke-width="3.8" stroke-linecap="round"/>
<g clip-path="url(#c9)" fill="#4DAF4A" stroke="#4DAF4A"><use href="#eg"/></g>
<path d="M306.4 1242L304.4 1241M305.6 1253L305 1249M301 1262L301 1258M305.6 1272L305 1268M305.6 1272L305.6 1277.1M322 1246.4L322 1251.9M324 1249L322 1246.4M324 1249L324 1251.2M315 1265L315 1265.9" stroke="#4DAF4A" stroke-width="3.8" stroke-linecap="round"/>
<path d="M300.6 1236h0M304.4 1241h0M306.4 1242h0M305 1249h0M305.6 1253h0M301 1258h0M301 1262h0M305 1268h0M305.6 1272h0M300 1278h0M309 1240.4h0M315.4 1252h0M322 1246.4h0M324 1249h0M315 1265h0M301 1291.9h0M300.7 1283.5h0M300.7 1293.4h0M301.4 1287.2h0M301.5 1288.7h0M301.5 1290.4h0M300.2 1287.6h0M300.8 1283.5h0M300.8 1283h0M303.4 1296.6h0M303.3 1290.9h0M303.2 1291.8h0M303.6 1289.5h0M303.6 1292.4h0M303.2 1289.7h0M303.1 1287.7h0M302.8 1295.5h0M303.5 1296.4h0M302.9 1288.3h0M303.3 1284h0M303.2 1283.1h0M303.1 1282.9h0M306.3 1292.8h0M306.5 1290h0M305.9 1290.3h0M306.6 1284.9h0M305.9 1291.8h0M306.1 1290.3h0M306.7 1280.3h0M306.1 1284h0M306.1 1280.1h0M306.1 1278h0M310.4 1292.2h0M309.6 1277.9h0M310.2 1279.8h0M309.5 1285.8h0M310.7 1277.1h0M310.5 1280h0M309.3 1280.1h0M310.1 1279h0M310 1287.4h0M309.5 1289.4h0M309.7 1290.2h0M309.5 1279h0M310.5 1287.5h0M309.6 1280.7h0M310.4 1276.5h0M313.9 1285.3h0M313.9 1278.3h0M314.4 1290.3h0M314.1 1278.5h0M314.2 1284.3h0M314.1 1286.6h0M313.6 1287.9h0M313.3 1285.8h0M313.4 1291.2h0M314 1278.2h0M313.5 1271.9h0M315.5 1278.3h0M316.3 1281.6h0M316.7 1270.5h0M316.1 1283.3h0M316.5 1267.4h0M316.6 1286.4h0M316.3 1268.2h0M316.3 1277.8h0M316.4 1274.2h0M316.4 1283.4h0M316.5 1275.7h0M315.2 1275.4h0M316.6 1286.7h0M316.9 1269.2h0M317 1272.6h0M316.3 1281.1h0M315.8 1269h0M316.1 1267.4h0M319 1285h0M319.3 1269.2h0M319.7 1286.5h0M318.8 1265.6h0M319.4 1263.8h0M319.4 1272h0M319.5 1278.7h0M319.4 1266.9h0M319.3 1275.3h0M319.3 1270.7h0M319.4 1276.5h0M319.2 1265.5h0M319.4 1284.2h0M319.1 1271.7h0M319.1 1282.1h0M319.4 1262.7h0M319.3 1278.7h0M319.4 1268h0M319.1 1262.3h0M320.3 1260.9h0M319.7 1280.3h0M320.2 1260.9h0M319.5 1273.6h0M319.5 1267.3h0M318.7 1258.5h0M319.2 1285h0M318.9 1269.6h0M319.4 1286.9h0M319.4 1267.6h0M319.2 1257.6h0M322.5 1271.6h0M324.1 1253.9h0M323.1 1261.9h0M322.8 1272.2h0M322.9 1258.9h0M322.7 1271.8h0M322.5 1263.4h0M322.9 1275.2h0M322.3 1251.7h0M322.9 1259.4h0M322.6 1256.1h0M322.6 1285.3h0M322.6 1280.5h0M323.4 1285.4h0M323.2 1255.8h0M323 1270h0M323.5 1268.7h0M323.1 1261.3h0M323.5 1261.2h0M323 1257.2h0M323.6 1261.8h0M323.4 1270.8h0M323.5 1270.2h0M323.1 1279.7h0M323.1 1282.1h0M323.4 1260h0M322.9 1272.1h0M323.7 1272.8h0M322.4 1278.7h0M323.5 1272.1h0M323.7 1275.4h0M323.1 1251.1h0M323.4 1249h0M325.5 1271.2h0M326.3 1274.5h0M325.3 1265.5h0M325.5 1278.2h0M325.6 1271.4h0M325.3 1282.4h0M325.9 1278.9h0M325.6 1267.7h0M326.2 1273.7h0M325.1 1278.6h0M326.9 1274.6h0M326 1268h0M326.3 1282.4h0M325.9 1280.8h0M325.7 1266.6h0M325.6 1264.4h0" stroke="#4DAF4A" stroke-width="3.8" stroke-linecap="round"/>
<g clip-path="url(#c10)" fill="#984EA3" stroke="#984EA3"><use href="#eg"/></g>
<path d="M332 1257L332 1259.9M355.4 1239L354 1234.4M354 1242L355.4 1239M355 1247L354 1242M355.4 1250L355 1247M344.6 1284L344.6 1288.7" stroke="#984EA3" stroke-width="3.8" stroke-linecap="round"/>
<path d="M333.4 1235h0M336 1245h0M336 1253h0M332 1257h0M354 1234.4h0M355.4 1239h0M354 1242h0M355 1247h0M355.4 1250h0M344.6 1284h0M332.3 1287.3h0M332.7 1269.5h0M331.8 1262.8h0M332.6 1267.6h0M332.5 1282.1h0M332.7 1267.7h0M332.2 1277.7h0M332.4 1285.1h0M332.9 1270.6h0M332.4 1269.6h0M332.1 1286.1h0M332.5 1281.5h0M332.4 1268.9h0M332.1 1264.5h0M332.4 1265.4h0M332.1 1273.1h0M332.6 1262.8h0M332.8 1279.8h0M332.2 1266h0M332.1 1284.6h0M333.1 1276.2h0M332.3 1262h0M335.6 1272.6h0M333.9 1267h0M335 1279.6h0M334.7 1286.4h0M335.4 1278.3h0M335.3 1281h0M334 1269.3h0M335.1 1271h0M334.4 1273.8h0M334.9 1281.3h0M334.8 1268h0M335.1 1270.9h0M334.7 1283.6h0M335.6 1269.9h0M334.6 1283.3h0M335 1265.7h0M334.9 1260.8h0M336.8 1280.6h0M336.7 1288.8h0M337.7 1274.2h0M337.7 1288.6h0M337.7 1287.8h0M337.3 1282h0M337.4 1283.8h0M338.1 1277.6h0M337.3 1283.3h0M338.3 1280.5h0M337.2 1279.4h0M337.2 1290.3h0M337.1 1276.3h0M337.7 1279.4h0M337.8 1290.2h0M337.6 1285.9h0M337.9 1279.5h0M337.8 1289.7h0M337.7 1272.5h0M341.6 1294.5h0M340.8 1299h0M341.1 1299.2h0M341.4 1295.7h0M341.4 1294.5h0M341.9 1294h0M344.7 1292.4h0M345.3 1294.8h0M344.6 1293.9h0M344.4 1288.1h0M344.7 1296.9h0M344.6 1294.1h0M344 1296.1h0M345.1 1297.7h0M344.6 1288h0M345.5 1292h0M345.2 1288h0M348.1 1290.6h0M348 1287.4h0M348.5 1293.7h0M349.2 1288h0M347.3 1291.7h0M347.6 1295.3h0M348.2 1290.5h0M348.2 1284.1h0M348.6 1280.9h0M350.4 1281.7h0M349.9 1286.6h0M351.6 1286.6h0M351.1 1282h0M351.4 1281.3h0M350.6 1284.9h0M350.2 1288.1h0M350.2 1276.4h0M350 1292.2h0M351.3 1275.4h0M350.8 1279h0M350.1 1285.8h0M350.4 1280.8h0M350.9 1280.1h0M350.6 1274.8h0M352.9 1280.1h0M352.4 1272.8h0M353.2 1281.8h0M352.8 1278.7h0M352.8 1271h0M352.7 1278.1h0M352.8 1272.1h0M352.6 1278h0M351.8 1278.2h0M353 1282.2h0M352.9 1278.6h0M352.7 1285.5h0M352.1 1273.7h0M352.3 1289.2h0M353.1 1284.8h0M352.4 1269.4h0M355.8 1274.4h0M355.7 1276.4h0M355.8 1289.1h0M355.5 1277.5h0M356.1 1277.2h0M355.8 1289h0M355.9 1284.2h0M355.3 1284.2h0M354.7 1287.4h0M355.6 1284.4h0M354.9 1272.4h0" stroke="#984EA3" stroke-width="3.8" stroke-linecap="round"/>
<g clip-path="url(#c11)" fill="#FF7F00" stroke="#FF7F00"><use href="#eg"/></g>
<path d="M361.4 1260.4L361.4 1266.9M384 1260L384 1265.3M375 1264L375 1265.5" stroke="#FF7F00" stroke-width="3.8" stroke-linecap="round"/>
<path d="M379.4 1243.6h0M361.4 1260.4h0M384 1260h0M375 1264h0M371 1282h0M363 1291.2h0M362.6 1277.8h0M363.2 1292.5h0M362.7 1276h0M362.6 1287.2h0M363.3 1275.5h0M362.7 1288.6h0M362.7 1291.5h0M361.9 1288.5h0M362.9 1271.7h0M362.3 1270.7h0M363.3 1280.4h0M362.1 1277.7h0M362.8 1287.6h0M362.3 1291.1h0M362.5 1278.8h0M362.3 1283.3h0M362.6 1276.3h0M362.5 1278.9h0M361.9 1278.8h0M362.2 1276h0M362.9 1272h0M362.2 1270.2h0M366.1 1293.1h0M366 1293.5h0M367.3 1286.2h0M366.4 1288.4h0M365.9 1295h0M366 1287.8h0M366.6 1289h0M366.3 1291h0M367 1284.3h0M366.7 1283.6h0M369.8 1287.3h0M369.8 1292.4h0M369.9 1294.4h0M371.2 1294.2h0M370 1286.1h0M369.6 1283h0M369.9 1282.5h0M370.1 1293.5h0M369.5 1285.3h0M369.9 1282.3h0M370 1281h0M373 1288.1h0M373.9 1286.4h0M373.3 1277h0M373.4 1284.9h0M372.8 1274.3h0M374 1286.9h0M373 1289.8h0M373.6 1291.5h0M374.1 1286.9h0M374.3 1287.7h0M372.9 1288.8h0M373.7 1276.6h0M374.3 1273h0M376.7 1288.5h0M378 1276h0M377.1 1270h0M377.1 1277.6h0M376.8 1267.6h0M376.9 1275.7h0M377.9 1267.5h0M377.2 1290h0M378.2 1279.3h0M377.7 1276.7h0M377.6 1268.6h0M376.7 1270.1h0M377.8 1275.7h0M378.3 1271.1h0M377.7 1278.7h0M377.9 1289.9h0M378.1 1281.9h0M376.7 1270.3h0M377.4 1266.9h0M379.1 1283.3h0M379.3 1272.8h0M379 1287.9h0M379.1 1278.5h0M378.6 1270.5h0M379.5 1274.2h0M379.9 1279.8h0M379.2 1287.6h0M379.5 1279.3h0M378.2 1285.3h0M379.7 1280.8h0M379.1 1287.9h0M380.1 1286.7h0M379.2 1275.6h0M379.9 1269.8h0M379.5 1268h0M379.5 1266h0M383.6 1282.3h0M384.3 1289h0M384.1 1285.2h0M383.6 1289h0M382.6 1275.2h0M383.4 1284.8h0M383.5 1274.2h0M382.6 1269.9h0M382.8 1279.9h0M383.9 1276.9h0M383.3 1289.2h0M383.4 1287.5h0M382.9 1282.8h0M384.1 1275.5h0M382.8 1269.9h0M383.4 1269.3h0" stroke="#FF7F00" stroke-width="3.8" stroke-linecap="round"/>
<g clip-path="url(#c12)" fill="#377EB8" stroke="#377EB8"><use href="#eg"/></g>
<path d="M408 1251L408 1248M407 1262L408 1257M407 1262L407 1267.9M407.4 1267.6L407.4 1268.3M401.4 1272.4L401.4 1273.9" stroke="#377EB8" stroke-width="3.8" stroke-linecap="round"/>
<path d="M393 1254.4h0M408 1248h0M408 1251h0M408 1257h0M407 1262h0M407.4 1267.6h0M399 1263.4h0M401.4 1272.4h0M389.8 1289.4h0M391.1 1277.5h0M391.4 1283.3h0M390.1 1283.8h0M391.7 1281.2h0M390.1 1289.8h0M390.6 1280.3h0M390.6 1284.2h0M391.3 1280.1h0M390.4 1290.5h0M389.9 1281.8h0M390.3 1275.5h0M391.1 1272.7h0M393.4 1284.9h0M393.4 1286.7h0M393.4 1286.7h0M393.2 1286.8h0M393.2 1278.3h0M393.8 1281.1h0M392.6 1277.9h0M393.5 1292.4h0M393.9 1282.5h0M393.2 1285.6h0M394.2 1280.7h0M393.9 1290.1h0M394.2 1284.3h0M393.5 1293.2h0M394 1291.7h0M393.5 1281.1h0M393.6 1277.1h0M394 1267.7h0M395.6 1279.1h0M396.2 1281.1h0M396.6 1273.9h0M395.6 1280.9h0M395.1 1282.5h0M396.5 1284.2h0M396.4 1282.4h0M397.8 1274.8h0M396.8 1288.9h0M396.6 1282.8h0M395.7 1275.7h0M396.7 1276.1h0M395.9 1283.6h0M395.5 1274.5h0M396.3 1282.6h0M396.5 1280.4h0M396.6 1273.6h0M397.3 1275.4h0M396.2 1272.5h0M395.9 1271.1h0M399.6 1289h0M398.9 1279.7h0M399.5 1287.7h0M400.3 1277.2h0M400 1277.4h0M401 1277.1h0M399.4 1278.2h0M399.1 1278.2h0M399.7 1279.6h0M400.7 1282h0M399.8 1289.2h0M399.7 1276.9h0M400.6 1276.7h0M404.5 1290.1h0M403.4 1285h0M402.9 1287.9h0M403.4 1285.1h0M404 1283.7h0M403.5 1280.3h0M403.4 1280.6h0M404.1 1289h0M403 1278.6h0M407.3 1289.9h0M406.6 1282.1h0M407.2 1290.8h0M407 1288.5h0M407.2 1272.8h0M407.3 1271.8h0M406.9 1287.4h0M407.8 1286.2h0M407.2 1285.1h0M407.1 1285.5h0M407.6 1282.8h0M407.9 1275.8h0M407.4 1270.9h0M407 1289.1h0M407.1 1276h0M408.6 1273.6h0M407.1 1286.6h0M407.1 1270.3h0M411.1 1288h0M411.1 1280.4h0M410.3 1274.2h0M409.7 1279.4h0M410.5 1283.1h0M410.9 1274.6h0M410.9 1273.9h0M410.4 1273.9h0M410.6 1276.1h0M411.2 1287.4h0M410.2 1285.7h0M409.9 1287.8h0M410.1 1284.1h0M409.5 1275.7h0M409.9 1274.7h0M410.1 1286.9h0M409.4 1282.1h0M410.2 1274.1h0M410.8 1273.6h0M410.7 1272.9h0" stroke="#377EB8" stroke-width="3.8" stroke-linecap="round"/>
<g clip-path="url(#c13)" fill="#4DAF4A" stroke="#4DAF4A"><use href="#eg"/></g>
<path d="M430 1224L428.6 1223.6M429.4 1237L428.6 1234.4M427.4 1242L429.4 1237M429 1252L429.4 1247.6M430 1257L429 1252M425 1264L425 1268.9M429.4 1262L430 1257M415 1265L415 1262.4" stroke="#4DAF4A" stroke-width="3.8" stroke-linecap="round"/>
<path d="M428.2 1199h0M428.6 1223.6h0M430 1224h0M422 1232.4h0M428.6 1234.4h0M429.4 1237h0M422 1240h0M427.4 1242h0M429.4 1247.6h0M422.6 1248h0M429 1252h0M430 1257h0M422 1261h0M415 1262.4h0M425 1264h0M429.4 1262h0M415 1265h0M415.2 1290.9h0M415.4 1294.4h0M415.8 1284.7h0M414.6 1292.6h0M415.9 1283h0M415.2 1279.6h0M415.1 1284.5h0M415.6 1282.7h0M415.5 1277.3h0M415 1290.2h0M414.5 1288.8h0M415.5 1292.5h0M415.6 1294.6h0M414.2 1293.9h0M415.1 1277.9h0M415.2 1291.1h0M414.8 1286.6h0M414.2 1283.2h0M415.4 1277h0M415.9 1275.4h0M418.9 1279.7h0M418.9 1281.4h0M419.1 1281.7h0M418.4 1286.7h0M418.9 1287.7h0M419 1277h0M418.5 1283.1h0M418.2 1275.8h0M417.7 1291.3h0M418.7 1273.1h0M419.3 1288.5h0M418.7 1275.3h0M418.7 1289.1h0M419 1289.2h0M418.9 1290.5h0M418.8 1284.5h0M418.2 1273.5h0M418.4 1275.8h0M418.7 1282h0M418 1272.7h0M418.3 1272.4h0M423.1 1280.7h0M422.4 1287.3h0M421.8 1278.7h0M421.6 1286.6h0M421.9 1282.2h0M422.5 1278.7h0M422.1 1281.9h0M423.5 1285.4h0M423.2 1279.1h0M422.1 1290.5h0M421.9 1275.6h0M422.7 1274.7h0M422.5 1271.1h0M425.1 1275.8h0M425.2 1282.7h0M424.5 1281.1h0M425.5 1279.2h0M424.6 1282.5h0M425.6 1287.3h0M425.1 1284.7h0M425.3 1272.3h0M425.4 1288h0M425.6 1279.4h0M425.3 1275.4h0M424.6 1283.1h0M425.5 1271.2h0M424.2 1289.7h0M425.1 1280.9h0M424.5 1272h0M425.6 1290h0M424.8 1273.4h0M425.4 1277.9h0M424.8 1270.2h0M424.7 1268.9h0M429.2 1279.9h0M428.9 1282.2h0M428.3 1286.6h0M428.2 1293.3h0M429.2 1280.4h0M429.9 1275.9h0M428.9 1286.1h0M428.6 1278.7h0M429.3 1279.6h0M428.3 1279.9h0M429.9 1291.6h0M428.9 1283.2h0M428.8 1282.1h0M428.8 1275.9h0M430.7 1288.9h0M430.4 1278.9h0M431.3 1285.8h0M431.2 1276.6h0M431.2 1287.3h0M430.7 1289.3h0M430.6 1287h0M430.7 1285.8h0M431.4 1289.2h0M431.4 1292.4h0M432 1283.6h0M431.1 1284.8h0M430.5 1278h0M431.5 1277.7h0M430.3 1278.3h0M430.6 1291.7h0M430.5 1288.2h0M431.4 1290.3h0M429.6 1293.2h0M430.5 1276.2h0" stroke="#4DAF4A" stroke-width="3.8" stroke-linecap="round"/>
<g clip-path="url(#c14)" fill="#984EA3" stroke="#984EA3"><use href="#eg"/></g>
<path d="M437.4 1245.6L436 1242.4M436.6 1256.4L436.6 1260.7M452.4 1236L452.4 1232.4M452.4 1236L452.4 1240.8M453 1241L452.4 1236" stroke="#984EA3" stroke-width="3.8" stroke-linecap="round"/>
<path d="M436 1242.4h0M437.4 1245.6h0M436.6 1256.4h0M452.4 1232.4h0M452.4 1236h0M453 1241h0M438 1282.2h0M438.7 1285.9h0M439.5 1281.5h0M438.7 1269h0M438.1 1286.5h0M438.5 1284.3h0M438.9 1281.7h0M439 1281.2h0M439.1 1274.2h0M438.4 1283.9h0M438.5 1268.1h0M440.7 1261.9h0M442.6 1281.7h0M441.9 1271.9h0M441.3 1263.6h0M440.8 1260.6h0M442.3 1265.7h0M441.7 1284.8h0M440.9 1286.3h0M441.6 1272.7h0M442.4 1276.9h0M442.1 1284.3h0M441.2 1262.1h0M441.5 1269.5h0M441.3 1272.3h0M440.8 1284.2h0M440.9 1263.7h0M441.5 1285.1h0M442.3 1262.1h0M441 1269.1h0M440.6 1279.6h0M441.5 1259.6h0M444.1 1286.1h0M445.2 1280.6h0M444.7 1285.4h0M443.3 1282.8h0M444.5 1278.6h0M444.3 1269.3h0M444.3 1268.1h0M445.5 1266.7h0M444.6 1277.1h0M444.8 1275.7h0M444.9 1272.1h0M445.2 1286.1h0M444.9 1280.4h0M444.6 1266.7h0M444.1 1264.6h0M444.4 1266.5h0M444.4 1285.8h0M444.2 1277.5h0M444.1 1263.3h0M444.8 1262.7h0M448.6 1280.9h0M448.5 1281.3h0M447.6 1286.3h0M447.6 1286.4h0M447.6 1273.1h0M447.6 1278.1h0M447.4 1266.2h0M448.1 1269h0M447.7 1286.4h0M447.7 1279.7h0M448.3 1282.7h0M447.4 1272.3h0M447.8 1278.8h0M447.3 1272.9h0M448.4 1265.3h0M451.2 1258.2h0M449.6 1259.6h0M450.7 1279.4h0M450.1 1255.7h0M450.8 1254.7h0M450.4 1253.8h0M450.5 1268.9h0M450.6 1260.4h0M451.4 1274.5h0M450.9 1256h0M450.9 1263.4h0M450.6 1253.3h0M450.3 1258.7h0M450.5 1271.4h0M450.7 1250.9h0M450.8 1279.5h0M450.4 1283.6h0M450.9 1257.2h0M451 1277.6h0M450.5 1259.9h0M450.5 1265.7h0M451.2 1259.6h0M451.1 1283.6h0M451.6 1251.9h0M451.7 1262.5h0M451.2 1281.4h0M450.9 1272.6h0M450.9 1268.1h0M451.3 1248.8h0M450.7 1247.6h0" stroke="#984EA3" stroke-width="3.8" stroke-linecap="round"/>
<g clip-path="url(#c15)" fill="#FF7F00" stroke="#FF7F00"><use href="#eg"/></g>
<path d="M459 1263L459 1265.9M469.6 1265L469.6 1265.9" stroke="#FF7F00" stroke-width="3.8" stroke-linecap="round"/>
<path d="M470 1227.4h0M470 1250.6h0M459 1256.6h0M459 1263h0M469.6 1265h0M458.9 1279.5h0M460.9 1285.1h0M460.1 1275.2h0M461.1 1285.2h0M460.4 1291.9h0M461 1282.6h0M461.3 1274h0M460 1280h0M460.9 1286.3h0M460 1284.7h0M460.1 1286.2h0M460.8 1273.5h0M460.4 1276.4h0M460.3 1277.1h0M460 1290.6h0M460.4 1283.3h0M459.4 1274.9h0M460.6 1278.3h0M460.4 1280h0M460.9 1270.7h0M463.6 1285.1h0M463.1 1287.4h0M462.1 1295.2h0M463 1284.9h0M463.5 1285.5h0M463.4 1289.8h0M462.6 1294.6h0M462.5 1289.6h0M462.7 1289.3h0M463.2 1294.2h0M463 1284.6h0M467 1280.4h0M466.5 1286.4h0M466.5 1281.1h0M466.5 1284.9h0M466.9 1288.6h0M467 1285.8h0M466.2 1288.9h0M466.5 1288.8h0M466.6 1291.1h0M466 1288.4h0M467 1292.5h0M466.6 1280.1h0M470.9 1288.9h0M471.7 1281.5h0M470.7 1283.2h0M469.9 1281.7h0M470.8 1272.8h0M469.9 1281h0M470.7 1271h0M470.3 1276.3h0M470.6 1285.8h0M470.8 1283.5h0M471.2 1279.7h0M470 1278.1h0M470.7 1277.2h0M470.2 1285.2h0M471.1 1271.3h0M470.9 1279.5h0M470.2 1274.1h0M471.1 1268.8h0M470.7 1288.3h0M470.7 1284.2h0M470.4 1277.3h0M471.2 1280.3h0M470.3 1279.6h0M470.2 1285.4h0M471.1 1267.6h0" stroke="#FF7F00" stroke-width="3.8" stroke-linecap="round"/>
<g clip-path="url(#c16)" fill="#377EB8" stroke="#377EB8"><use href="#eg"/></g>
<path d="M477 1264L477 1261M488.4 1256L488.4 1251M488.4 1256L488.4 1263.9M488.4 1262L488.4 1263.9M488 1266L488.4 1262M488 1266L488 1267.9M477 1273L477 1273.9" stroke="#377EB8" stroke-width="3.8" stroke-linecap="round"/>
<path d="M488.4 1226.6h0M488.4 1236h0M477 1248.6h0M477 1261h0M477 1264h0M488.4 1251h0M488.4 1256h0M488.4 1262h0M488 1266h0M477 1273h0M477.1 1283.9h0M477.1 1291.9h0M476.6 1282.3h0M477 1284.9h0M476.4 1285h0M476.6 1289.9h0M477.8 1287h0M476.5 1288.7h0M478.3 1292.8h0M476 1283.6h0M476.1 1293.7h0M476.8 1288.2h0M476.8 1278.5h0M480.7 1297.2h0M480.5 1297.6h0M480.3 1293.5h0M480.5 1297.9h0M479.8 1290.9h0M480.4 1289.5h0M481 1294.1h0M480.4 1287.6h0M480.4 1290.2h0M480.8 1293.4h0M480.1 1293.1h0M480.3 1287h0M482.3 1301h0M482.6 1300.6h0M482.8 1301.3h0M483.4 1301h0M483 1297.5h0M482.6 1296.9h0M485.4 1294.6h0M485.2 1295.6h0M484.9 1296h0M485.3 1300h0M485.4 1296.6h0M484.5 1297.9h0M485 1295.5h0M485 1293.8h0M488.1 1267.7h0M489.2 1273.4h0M488.9 1275.7h0M488.9 1277.1h0M488.2 1274.1h0M488.8 1284.2h0M488.3 1269.8h0M488.3 1273.4h0M488 1282.6h0M488.3 1271.9h0M488.6 1282.8h0M489.3 1288.7h0M488.2 1288.4h0M488 1286.1h0M488.1 1280.1h0M488.8 1274.6h0M487.7 1284.4h0M488.6 1286.1h0M488.2 1276.3h0M488.4 1278.5h0M488 1283.7h0M488.7 1266h0" stroke="#377EB8" stroke-width="3.8" stroke-linecap="round"/>
<g clip-path="url(#c17)" fill="#4DAF4A" stroke="#4DAF4A"><use href="#eg"/></g>
<path d="M497.6 1261.6L497.6 1261.8M501 1261L501 1265.9M501.6 1264L501 1261M501.6 1264L501.6 1267.1" stroke="#4DAF4A" stroke-width="3.8" stroke-linecap="round"/>
<path d="M495 1240.4h0M498.4 1239.2h0M497.6 1261.6h0M501 1261h0M501.6 1264h0M494.7 1272.1h0M494.6 1274.4h0M495.7 1266.3h0M494.8 1278.8h0M495.3 1282.8h0M495.2 1271.9h0M494.6 1274.3h0M495.7 1270.2h0M495.7 1278.1h0M495 1282.5h0M496.2 1288.7h0M496 1280.1h0M494.6 1267.3h0M495.3 1276.6h0M495.8 1263.9h0M495.2 1274.8h0M495.2 1283.3h0M495.4 1276.5h0M494.6 1282.4h0M494.4 1288.9h0M495.8 1264h0M495.1 1267.9h0M494.6 1275.9h0M495.5 1270.5h0M495.3 1262.9h0M496.8 1269.9h0M497.3 1276.3h0M497.2 1278.8h0M497.3 1287.1h0M497 1276h0M497.4 1279.8h0M498.2 1277.3h0M497 1285.2h0M496.1 1284.1h0M497.3 1279.8h0M497.9 1285.1h0M497.5 1274.8h0M497.4 1269h0M500.2 1279.5h0M501.3 1286.6h0M501.2 1277.2h0M501.3 1272.5h0M501 1290.7h0M501.8 1280.7h0M501.2 1286.4h0M501.4 1270.9h0M501.8 1273.9h0M500.8 1279.1h0M500.8 1274.2h0M501.4 1281.3h0M502 1272.8h0M500.3 1274.2h0M500.7 1280.3h0M501.8 1270h0M504.9 1284.2h0M504.8 1287.1h0M505.5 1277.8h0M505.1 1289.8h0M505.5 1292h0M505.4 1279.9h0M504.8 1282.3h0M504.8 1288.3h0M504.1 1284.3h0M505.3 1283.7h0M504.9 1284.4h0M504.4 1277.6h0M504.1 1281.4h0M506 1281.2h0M504.5 1277h0M505.1 1274h0M508.4 1288.8h0M510 1282.2h0M508.3 1276h0M507.6 1284.9h0M508.8 1274.2h0M507.5 1289.6h0M507.1 1287h0M508.2 1275.2h0M509 1277.4h0M508.4 1274.1h0" stroke="#4DAF4A" stroke-width="3.8" stroke-linecap="round"/>
<g clip-path="url(#c18)" fill="#984EA3" stroke="#984EA3"><use href="#eg"/></g>
<path d="M532.4 1264.4L532.4 1265.9M523 1262L523 1263.9" stroke="#984EA3" stroke-width="3.8" stroke-linecap="round"/>
<path d="M517.4 1222h0M517.4 1246.4h0M517.4 1257h0M532 1239.6h0M532 1250.4h0M531.6 1258h0M532.4 1264.4h0M527 1272.4h0M523 1262h0M515.7 1292.9h0M516.3 1288h0M516.2 1283h0M515.8 1282.3h0M516.9 1288.9h0M515.5 1292.2h0M515.8 1281.9h0M515.9 1280h0M517.8 1282.6h0M517.5 1280.7h0M518 1284.2h0M518.8 1276.7h0M518.4 1276.4h0M518.3 1281.9h0M517.7 1290.6h0M517.4 1274.7h0M518.6 1284.4h0M518.5 1281.7h0M518.6 1273.8h0M517.3 1290.7h0M518.6 1289.9h0M518.6 1280.6h0M518.1 1275.8h0M518.4 1287.4h0M517.8 1273.6h0M522.2 1268.6h0M522.4 1275h0M522.6 1278.1h0M521.4 1270h0M522 1280h0M522 1276.4h0M521.6 1283.1h0M521.6 1281.4h0M522.1 1286.9h0M521.9 1277.8h0M522.7 1290.2h0M522.2 1283.4h0M523.1 1289.4h0M522.7 1268.6h0M522.1 1286.9h0M522.3 1289.6h0M521.8 1275h0M523.1 1282.3h0M522.3 1276h0M521.9 1287.3h0M522.7 1272.6h0M521.7 1268.1h0M523.7 1273.7h0M524.1 1283.1h0M523.8 1277h0M524.6 1288.8h0M524 1275h0M524 1289.4h0M524.5 1283.7h0M524.4 1285.2h0M523.4 1282.8h0M524.8 1289.1h0M524.2 1274h0M524 1286.1h0M524.6 1279.9h0M523.6 1278.1h0M524.8 1270.4h0M527.6 1274.9h0M527.6 1278h0M527 1286.4h0M527 1283.9h0M527.7 1291.8h0M526.9 1279.7h0M526.9 1279.7h0M528.4 1279.1h0M528.3 1289h0M528 1275.2h0M527.8 1285.6h0M527 1277.9h0M527.4 1289h0M527.5 1277.3h0M527.7 1282.8h0M528.2 1287.7h0M527.1 1273.4h0M529.5 1291.6h0M529.4 1272.2h0M530.1 1288.2h0M530.1 1286.8h0M530.1 1291.7h0M530.5 1287.7h0M530.7 1288.8h0M530.1 1291.5h0M530.2 1284.7h0M528.7 1282.2h0M530.3 1289h0M530.3 1278.1h0M530.3 1282h0M530.5 1275.5h0M529.5 1281.5h0M529.7 1283.4h0M530.2 1271.6h0M532.4 1285.9h0M532.5 1281.9h0M532.1 1273.7h0M532.4 1285.8h0M532.4 1285.7h0M533.1 1281.3h0M532 1282.6h0M531.6 1280.5h0M532.9 1288.6h0M533.9 1280.6h0M533.2 1274.2h0M533 1281.8h0M533.2 1290.8h0M531.8 1275.7h0M533.6 1278.7h0M532.7 1290.1h0M532.6 1269.4h0" stroke="#984EA3" stroke-width="3.8" stroke-linecap="round"/>
<g clip-path="url(#c19)" fill="#FF7F00" stroke="#FF7F00"><use href="#eg"/></g>
<path d="M538 1257L538 1257.6M551 1249L551 1252.7" stroke="#FF7F00" stroke-width="3.8" stroke-linecap="round"/>
<path d="M538 1248h0M542 1249.6h0M538 1257h0M551 1249h0M550 1284h0M551 1291h0M538.8 1259.1h0M539.3 1270.5h0M538.9 1263.8h0M539.4 1277.7h0M539.4 1275.3h0M539 1282.3h0M539.7 1272.1h0M539 1277h0M538.8 1276.9h0M539.3 1261.3h0M539.5 1274.6h0M539.5 1283.9h0M539.3 1281.3h0M539.8 1277.4h0M538.4 1257.7h0M539.3 1264.5h0M538.7 1273.8h0M539.7 1267.3h0M538.8 1286h0M539.4 1281.6h0M538 1284.9h0M539.6 1263.8h0M538.8 1266h0M539.9 1257.8h0M539.3 1273.2h0M538.7 1278.4h0M540 1286.8h0M539 1275.8h0M538.4 1264.9h0M539.5 1283.6h0M539.3 1256.9h0M540.6 1283h0M541.3 1287.6h0M541.4 1268.4h0M541.2 1278.2h0M541.3 1287h0M541.5 1280h0M541.2 1266.6h0M541.2 1272.5h0M540.9 1280.4h0M540.8 1279.9h0M540.7 1277.8h0M541.8 1262.9h0M541 1276h0M540.9 1275.3h0M540.9 1287.8h0M541.4 1281.9h0M541.5 1281.4h0M540.6 1268.6h0M540.9 1277h0M541 1269.4h0M540.9 1267.9h0M540.6 1266.4h0M541.5 1265.1h0M541.2 1262.1h0M543.8 1273.8h0M544.1 1263.8h0M544.3 1269.5h0M543.9 1266.6h0M543.5 1266.6h0M544 1275.2h0M542.8 1278.6h0M543.5 1272h0M542.9 1264.2h0M543 1271.1h0M542.5 1275.7h0M543.8 1269.6h0M542.5 1287.8h0M543 1281.9h0M542.8 1283.3h0M543.3 1284.1h0M542.7 1286.9h0M543.3 1277.7h0M543.8 1264.2h0M543.5 1273.9h0M543.2 1265.3h0M543.8 1273.7h0M543.1 1269.1h0M543.8 1283.9h0M543.6 1263.2h0M545.8 1283.2h0M546.1 1282.5h0M546.6 1275.2h0M546.4 1279.2h0M545.7 1274.6h0M547 1281.8h0M546.8 1284.9h0M547.2 1283h0M546 1275.7h0M546.6 1282.2h0M547.2 1271.1h0M546.5 1284h0M546.6 1277.4h0M546.5 1281.1h0M546.7 1274.3h0M547 1277.6h0M546.2 1282.8h0M545.7 1270.5h0M546.3 1267.1h0M546.9 1266.2h0M550 1278.8h0M548.1 1273.2h0M548.9 1281h0M549.6 1281.8h0M548.4 1285.7h0M548.9 1270.7h0M549 1279.1h0M549 1278.2h0M549.1 1282.3h0M549.1 1269.2h0M549.8 1268.5h0M549.2 1267.6h0M549 1266.9h0" stroke="#FF7F00" stroke-width="3.8" stroke-linecap="round"/>
<g clip-path="url(#c20)" fill="#377EB8" stroke="#377EB8"><use href="#eg"/></g>
<path d="M558 1264L557.6 1259.6M558 1264L558 1271.6M574 1257.6L574 1263.9M570.4 1265L570.4 1269.1M562 1275.6L562 1282.9" stroke="#377EB8" stroke-width="3.8" stroke-linecap="round"/>
<path d="M574.4 1240.6h0M557.6 1259.6h0M558 1264h0M574 1257.6h0M570.4 1265h0M562 1275.6h0M557.2 1279.5h0M558 1279.5h0M556.6 1289.1h0M557.9 1290.6h0M557.9 1278.5h0M557.8 1278.7h0M558 1290.2h0M557.8 1290.2h0M557.5 1278.6h0M557.7 1278.8h0M558.2 1287h0M558.2 1285.3h0M558.2 1275h0M557.4 1273.5h0M560.8 1284.2h0M560 1296h0M560.6 1287.6h0M561.6 1285.8h0M560 1291.5h0M559.9 1286.9h0M560.4 1289.6h0M560.6 1289.8h0M559.6 1287.2h0M560.4 1295.7h0M560.5 1296.8h0M558.8 1290h0M560.9 1284.6h0M561 1283h0M564.2 1282.7h0M564 1292.4h0M564.3 1285.8h0M563.7 1283.2h0M564 1289h0M563.6 1281.9h0M562.6 1294.5h0M562.8 1285.2h0M563.9 1294.4h0M562.8 1292.1h0M564.1 1289.1h0M563.6 1287.7h0M563.3 1280.5h0M566.2 1291h0M566.1 1282.4h0M566.4 1280.3h0M565.5 1284.1h0M566.3 1282.4h0M566.1 1282.4h0M564.9 1292h0M565.1 1290.6h0M566 1286.9h0M565.6 1279.7h0M568.9 1279.9h0M568.9 1286.6h0M568.1 1291.9h0M568 1292.7h0M569.4 1291.6h0M567.4 1281.4h0M568.3 1287.3h0M569 1285.3h0M569 1288.1h0M568.7 1283.7h0M569 1279h0M569 1273.9h0M569 1273.4h0M568.9 1287.2h0M568.8 1274.1h0M568.5 1280.9h0M568.9 1280.2h0M568.9 1277.1h0M568.5 1273.2h0M572.8 1286.7h0M571.5 1284h0M571.8 1285.5h0M572.4 1284.1h0M571.8 1282.3h0M573.2 1282h0M571.8 1275.6h0M572.5 1286.5h0M572 1282.5h0M572.3 1267.6h0M572 1287.8h0M571.8 1289.4h0M571.8 1274.3h0M571 1273.5h0M572.7 1280.3h0M573 1270.8h0M572.7 1286.9h0M571.2 1288.2h0M571.6 1287.8h0M572.2 1266.5h0M571.6 1278.4h0M572.7 1266.4h0M571.5 1265.1h0" stroke="#377EB8" stroke-width="3.8" stroke-linecap="round"/>
<g clip-path="url(#c21)" fill="#4DAF4A" stroke="#4DAF4A"><use href="#eg"/></g>
<path d="M582 1254L580 1251M591.6 1245.6L590.4 1243.6M591 1250L591.6 1245.6M591 1250L591 1257.9M582 1256L582 1254M582 1256L582 1263.7M591 1255L591 1250M591 1255L591 1257.9" stroke="#4DAF4A" stroke-width="3.8" stroke-linecap="round"/>
<path d="M580 1251h0M582 1254h0M587.6 1242.4h0M590.4 1243.6h0M591.6 1245.6h0M591 1250h0M580 1251h0M582 1256h0M591 1255h0M581.4 1271.3h0M581.4 1288.3h0M582.2 1289.1h0M581.4 1274.7h0M581.2 1269.8h0M581.8 1275.6h0M581.9 1289.5h0M581.9 1290.4h0M580.6 1270.4h0M582 1279.6h0M581.2 1274.9h0M581.1 1290.5h0M581.5 1280.9h0M581.6 1290.2h0M581.1 1277.5h0M581.6 1275.1h0M582.2 1289.4h0M581.5 1278.2h0M581.2 1267.5h0M586 1278.3h0M584.8 1277.5h0M585.3 1280.4h0M584 1278h0M584.2 1287.1h0M584.8 1284h0M585.1 1278h0M584.8 1277.5h0M585.5 1292.2h0M584.2 1275.5h0M584.7 1275.4h0M584.9 1290.1h0M584.5 1273.8h0M583.8 1273.4h0M584.1 1276.2h0M584.6 1272.9h0M587.7 1272.8h0M586.3 1274.9h0M588 1284.6h0M587.5 1279.8h0M587.3 1276.3h0M586.5 1273.4h0M586.9 1281.5h0M586.7 1274h0M587.4 1288.2h0M587.9 1274.4h0M587.8 1279.1h0M587.6 1272h0M587 1288.7h0M587.1 1271.4h0M590.3 1276.3h0M591 1267.8h0M590.5 1276.8h0M590.5 1286.5h0M591 1279.5h0M590 1270.6h0M589.5 1264.2h0M590.3 1288.4h0M590.7 1288.3h0M590.5 1285.5h0M589.5 1284.9h0M590.9 1267h0M591.9 1287.1h0M589.9 1263.4h0M589.8 1270.4h0M589.6 1265h0M591.7 1272.9h0M591.2 1262.3h0M591.2 1271h0M590.7 1261.1h0M590.5 1283h0M589.9 1271.5h0M590.5 1269.2h0M591.1 1286.6h0M590.3 1260.5h0" stroke="#4DAF4A" stroke-width="3.8" stroke-linecap="round"/>
<g clip-path="url(#c22)" fill="#984EA3" stroke="#984EA3"><use href="#eg"/></g>
<path d="M604.6 1258.6h0M599.4 1280.4h0M599.1 1279.3h0M598.5 1288.3h0M598.5 1284.9h0M599.5 1276h0M599.2 1280.4h0M598.8 1283.1h0M600.5 1275.1h0M599 1283.9h0M598.7 1274.5h0M602.9 1284.3h0M602.4 1284.6h0M601.9 1281.7h0M602.7 1290.2h0M603.1 1284.7h0M603.2 1288.8h0M601.9 1289.1h0M602.5 1276.2h0M602.2 1279.6h0M603 1287.6h0M602.9 1286.4h0M602.8 1284h0M602.2 1280.4h0M602.6 1291.7h0M601.6 1279.3h0M602.5 1280h0M602.9 1278.9h0M602.1 1276.7h0M602.2 1273.7h0M605.2 1281.5h0M604.3 1286.8h0M604.7 1278.5h0M604.8 1286h0M604.8 1294.4h0M605 1289.4h0M604.3 1284h0M605.5 1277.7h0M605.1 1285.5h0M604.5 1286.1h0M605.1 1282h0M604.7 1284h0M604.8 1285.1h0M604.5 1287.6h0M605.4 1278.8h0M605.3 1279.2h0M605.2 1276.6h0M606.5 1284.8h0M607.2 1284.6h0M606.6 1289.1h0M608.6 1291.9h0M608.5 1289.5h0M607.5 1282.9h0M610.6 1272.1h0M610.4 1289h0M610.9 1279.8h0M610.6 1281.1h0M611.1 1273.5h0M610.8 1291.5h0M611.2 1290.5h0M610.1 1273.2h0M611.7 1282h0M610.9 1275.6h0M611.3 1281h0M610.3 1272.5h0M611.4 1274.3h0M611.5 1288.5h0M611.3 1278.5h0M611.4 1276.8h0M609.7 1290.5h0M610.7 1279.8h0M611.3 1283.9h0M610.6 1278.1h0M611 1269.3h0" stroke="#984EA3" stroke-width="3.8" stroke-linecap="round"/>
<g clip-path="url(#c23)" fill="#FF7F00" stroke="#FF7F00"><use href="#eg"/></g>
<path d="M623.6 1264L623.6 1270.9M633 1265L633 1268.9" stroke="#FF7F00" stroke-width="3.8" stroke-linecap="round"/>
<path d="M624.6 1257h0M623.6 1264h0M633 1246.4h0M636.4 1246.4h0M633 1265h0M621.5 1290.4h0M621.7 1284.3h0M621.7 1275h0M621.3 1288.8h0M621 1287.6h0M620.9 1278.5h0M621.5 1284h0M621.4 1284.3h0M622.1 1276.6h0M621 1286.1h0M620.7 1277.3h0M621.4 1274.4h0M623.3 1289.3h0M623.1 1288.1h0M623 1279.2h0M623.1 1278.4h0M623.8 1290.9h0M622.9 1290.5h0M624.4 1284.7h0M623.4 1290.3h0M622.4 1286.1h0M624.4 1278.3h0M623.5 1276.1h0M623.9 1275h0M625.7 1281.5h0M625.3 1281.5h0M626.3 1294.3h0M625.2 1294.4h0M626.1 1288h0M625.7 1283.4h0M626.6 1294.5h0M625.3 1282.1h0M626.1 1285.4h0M626.1 1280.7h0M626 1280.5h0M625.4 1279.2h0M628.6 1299.2h0M628.2 1299.5h0M628.4 1297.6h0M628 1297.4h0M628.4 1298.2h0M628.5 1294h0M630.2 1282.3h0M631.8 1286.8h0M631.6 1292.3h0M631.7 1277.7h0M630.3 1290.8h0M632.4 1286.9h0M631.2 1284.1h0M630.7 1284.8h0M631.6 1290.3h0M631 1277.6h0M631.4 1275.5h0M633.2 1269.5h0M633.9 1279.2h0M634.7 1274.8h0M633.8 1276.2h0M633.9 1273.7h0M634 1273.2h0M634 1283.6h0M633.5 1287.1h0M633.9 1278.7h0M634.1 1271.9h0M634.4 1285.9h0M634.1 1287.1h0M634.3 1279.4h0M633.8 1271.7h0M634.1 1279.3h0M634.6 1269.3h0M634.2 1274.9h0M633.8 1283.6h0M634 1280.7h0M632.8 1287.5h0M633.4 1290.6h0M633.9 1275.5h0M633.8 1268.6h0" stroke="#FF7F00" stroke-width="3.8" stroke-linecap="round"/>
<g clip-path="url(#c24)" fill="#377EB8" stroke="#377EB8"><use href="#eg"/></g>
<path d="M644.4 1234L644 1229M651 1260L652 1256M652.4 1264L651 1260M651 1268L652.4 1264M656 1273L656 1276.3" stroke="#377EB8" stroke-width="3.8" stroke-linecap="round"/>
<path d="M644 1229h0M644.4 1234h0M644 1249h0M646 1255h0M648.4 1255.6h0M652 1256h0M656 1254h0M651 1260h0M657 1262h0M652.4 1264h0M651 1268h0M656 1273h0M644.4 1279h0M646 1266h0M645.3 1280.1h0M645.3 1289.5h0M643.5 1292.9h0M645.3 1283h0M644.7 1286.9h0M644.5 1275.6h0M644.6 1278.3h0M644.1 1291.6h0M644.4 1286h0M644.9 1280.9h0M644 1286.4h0M644.3 1279.9h0M644.5 1287.3h0M644.6 1292.8h0M644.4 1291.9h0M644.4 1290.7h0M644 1273.3h0M647.6 1287h0M646.6 1285.3h0M647 1295.2h0M646.8 1285.1h0M647.5 1288.8h0M646.9 1284.8h0M647.5 1282.7h0M645.5 1294.4h0M647.7 1283.9h0M646.4 1283h0M646.6 1282.3h0M651.6 1295.3h0M651.4 1285.5h0M651.5 1291.8h0M651.5 1285.6h0M650.2 1289.2h0M651.3 1285.5h0M651.2 1291.2h0M650.3 1291.2h0M651.3 1285.4h0M653.9 1287.7h0M654.5 1290.6h0M654 1282.5h0M655 1288h0M653.9 1286h0M653.6 1283.8h0M654.4 1280.8h0M655.4 1294.7h0M654.8 1279.7h0M654.4 1282h0M654.8 1278.5h0M654.1 1288.2h0M654.7 1279h0M654.8 1287.5h0M654.8 1278.4h0" stroke="#377EB8" stroke-width="3.8" stroke-linecap="round"/>
<g clip-path="url(#c25)" fill="#4DAF4A" stroke="#4DAF4A"><use href="#eg"/></g>
<path d="M664.6 1232.4L664.6 1228M663.6 1265L663.6 1260M663.6 1265L663.6 1270.8M673 1253.6L673 1250.4M677.6 1259.6L677.6 1261.5" stroke="#4DAF4A" stroke-width="3.8" stroke-linecap="round"/>
<path d="M664.6 1217h0M664.6 1228h0M664.6 1232.4h0M664.6 1244h0M663.6 1254.4h0M663.6 1260h0M663.6 1265h0M673 1250.4h0M673 1253.6h0M677.6 1259.6h0M663.2 1289.7h0M663.4 1290.5h0M663.6 1290.2h0M664 1284h0M663.3 1280.2h0M664.4 1273.8h0M663.5 1275.9h0M665.1 1283h0M663.2 1281.1h0M663.2 1279.4h0M663.4 1277.5h0M663.3 1281.1h0M664 1289.9h0M663.5 1281.2h0M662.6 1283.1h0M663.9 1274.9h0M663.3 1279h0M664.2 1286.9h0M664 1288.4h0M663.1 1277.6h0M663.2 1271.3h0M666.2 1296.4h0M666.5 1285.1h0M665.9 1294.1h0M666.3 1294.6h0M666 1283.3h0M666.8 1295.1h0M666.2 1285.9h0M666.2 1292.6h0M665.9 1286.8h0M666.5 1288.6h0M666.2 1286.1h0M666.4 1283.6h0M666.4 1289.2h0M666.8 1282.5h0M668.8 1284.7h0M668.7 1282.7h0M668.4 1285.1h0M668.6 1286.7h0M669.3 1286.4h0M668.3 1291.4h0M668.9 1286.1h0M668.7 1286.6h0M668.5 1296.3h0M668.8 1287.3h0M669 1292.5h0M668 1287.1h0M670.2 1288.3h0M668.3 1296.2h0M668.4 1283.3h0M668.9 1282.3h0M671.8 1270.9h0M672.2 1271.3h0M672.7 1270.8h0M672 1278.6h0M672.1 1286.3h0M672.2 1287.9h0M672.7 1287.7h0M672.9 1287.8h0M673.1 1281.6h0M672.8 1278.3h0M671.8 1275.1h0M672 1276.2h0M672.5 1274.2h0M672.4 1270.6h0M675.6 1273h0M675.3 1283.5h0M675.6 1269.9h0M676.1 1271.2h0M675.6 1288.8h0M675.9 1268.3h0M675.4 1277.3h0M676 1266.1h0M674.8 1283.7h0M675.4 1276.4h0M675.9 1271.2h0M676.9 1288.8h0M675.7 1281h0M675.9 1269.2h0M675.6 1269.4h0M675.7 1269.6h0M676.1 1276h0M675.6 1278.3h0M676.2 1267.7h0M675.8 1263.5h0" stroke="#4DAF4A" stroke-width="3.8" stroke-linecap="round"/>
<rect x="246.9" y="1290" width="10.5" height="19" rx="2" fill="#fff"/>
<circle cx="251.5" cy="1299" r="1.9" fill="#FF7F00"/>
<circle cx="256.2" cy="1301.8" r="1.9" fill="#FF7F00"/>
<line x1="40.5" y1="1190.5" x2="682" y2="1190.5" stroke="#ea6a6a" stroke-width="1" stroke-dasharray="2.3 1.86"/>
<circle cx="429.8" cy="1185.6" r="3.2" fill="#f00"/>
<g stroke="#606060" stroke-width="1" fill="none">
<path d="M40.5 1141V1304.6"/>
<path d="M35 1304.6H40.5"/>
<path d="M35 1277.3H40.5"/>
<path d="M35 1250.1H40.5"/>
<path d="M35 1222.8H40.5"/>
<path d="M35 1195.5H40.5"/>
<path d="M35 1168.3H40.5"/>
<path d="M35 1141H40.5"/>
<path d="M40.5 1310.5H670.8"/>
<path d="M40.5 1310.5v5.2"/>
<path d="M59 1310.5v5.2"/>
<path d="M87.8 1310.5v5.2"/>
<path d="M116.8 1310.5v5.2"/>
<path d="M143.6 1310.5v5.2"/>
<path d="M168.5 1310.5v5.2"/>
<path d="M199.4 1310.5v5.2"/>
<path d="M227.7 1310.5v5.2"/>
<path d="M256.5 1310.5v5.2"/>
<path d="M285 1310.5v5.2"/>
<path d="M314.8 1310.5v5.2"/>
<path d="M343.8 1310.5v5.2"/>
<path d="M372.8 1310.5v5.2"/>
<path d="M399.6 1310.5v5.2"/>
<path d="M422.7 1310.5v5.2"/>
<path d="M445 1310.5v5.2"/>
<path d="M464.9 1310.5v5.2"/>
<path d="M482.8 1310.5v5.2"/>
<path d="M502.4 1310.5v5.2"/>
<path d="M524.3 1310.5v5.2"/>
<path d="M545.4 1310.5v5.2"/>
<path d="M565.7 1310.5v5.2"/>
<path d="M586 1310.5v5.2"/>
<path d="M606.8 1310.5v5.2"/>
<path d="M628.9 1310.5v5.2"/>
<path d="M650 1310.5v5.2"/>
<path d="M670.8 1310.5v5.2"/>
</g>
<text transform="translate(28 1304.6) rotate(-90)" text-anchor="middle" font-family="Liberation Sans" font-size="9" fill="#111" stroke="#111" stroke-width="0.2">0</text>
<text transform="translate(28 1277.3) rotate(-90)" text-anchor="middle" font-family="Liberation Sans" font-size="9" fill="#111" stroke="#111" stroke-width="0.2">1</text>
<text transform="translate(28 1250.1) rotate(-90)" text-anchor="middle" font-family="Liberation Sans" font-size="9" fill="#111" stroke="#111" stroke-width="0.2">2</text>
<text transform="translate(28 1222.8) rotate(-90)" text-anchor="middle" font-family="Liberation Sans" font-size="9" fill="#111" stroke="#111" stroke-width="0.2">3</text>
<text transform="translate(28 1195.5) rotate(-90)" text-anchor="middle" font-family="Liberation Sans" font-size="9" fill="#111" stroke="#111" stroke-width="0.2">4</text>
<text transform="translate(28 1168.3) rotate(-90)" text-anchor="middle" font-family="Liberation Sans" font-size="9" fill="#111" stroke="#111" stroke-width="0.2">5</text>
<text transform="translate(28 1141) rotate(-90)" text-anchor="middle" font-family="Liberation Sans" font-size="9" fill="#111" stroke="#111" stroke-width="0.2">6</text>
<text transform="translate(11.2 1208) rotate(-90)" text-anchor="middle" font-family="Liberation Serif" font-size="11.4" fill="#111">-lg(p)</text>
<text x="3" y="1144.2" font-family="Liberation Sans" font-weight="bold" font-size="26" fill="#000">g</text>
<text x="59" y="1323.7" text-anchor="middle" font-family="Liberation Serif" font-size="8.8" fill="#111">At1</text>
<text x="87.8" y="1323.7" text-anchor="middle" font-family="Liberation Serif" font-size="8.8" fill="#111">At2</text>
<text x="116.8" y="1323.7" text-anchor="middle" font-family="Liberation Serif" font-size="8.8" fill="#111">At3</text>
<text x="143.6" y="1323.7" text-anchor="middle" font-family="Liberation Serif" font-size="8.8" fill="#111">At4</text>
<text x="168.5" y="1323.7" text-anchor="middle" font-family="Liberation Serif" font-size="8.8" fill="#111">At5</text>
<text x="199.4" y="1323.7" text-anchor="middle" font-family="Liberation Serif" font-size="8.8" fill="#111">At6</text>
<text x="227.7" y="1323.7" text-anchor="middle" font-family="Liberation Serif" font-size="8.8" fill="#111">At7</text>
<text x="256.5" y="1323.7" text-anchor="middle" font-family="Liberation Serif" font-size="8.8" fill="#111">At8</text>
<text x="285" y="1323.7" text-anchor="middle" font-family="Liberation Serif" font-size="8.8" fill="#111">At9</text>
<text x="314.8" y="1323.7" text-anchor="middle" font-family="Liberation Serif" font-size="8.8" fill="#111">At10</text>
<text x="343.8" y="1323.7" text-anchor="middle" font-family="Liberation Serif" font-size="8.8" fill="#111">At11</text>
<text x="372.8" y="1323.7" text-anchor="middle" font-family="Liberation Serif" font-size="8.8" fill="#111">At12</text>
<text x="399.6" y="1323.7" text-anchor="middle" font-family="Liberation Serif" font-size="8.8" fill="#111">At13</text>
<text x="422.7" y="1323.7" text-anchor="middle" font-family="Liberation Serif" font-size="8.8" fill="#111">Dt1</text>
<text x="445" y="1323.7" text-anchor="middle" font-family="Liberation Serif" font-size="8.8" fill="#111">Dt2</text>
<text x="464.9" y="1323.7" text-anchor="middle" font-family="Liberation Serif" font-size="8.8" fill="#111">Dt3</text>
<text x="482.8" y="1323.7" text-anchor="middle" font-family="Liberation Serif" font-size="8.8" fill="#111">Dt4</text>
<text x="502.4" y="1323.7" text-anchor="middle" font-family="Liberation Serif" font-size="8.8" fill="#111">Dt5</text>
<text x="524.3" y="1323.7" text-anchor="middle" font-family="Liberation Serif" font-size="8.8" fill="#111">Dt6</text>
<text x="545.4" y="1323.7" text-anchor="middle" font-family="Liberation Serif" font-size="8.8" fill="#111">Dt7</text>
<text x="565.7" y="1323.7" text-anchor="middle" font-family="Liberation Serif" font-size="8.8" fill="#111">Dt8</text>
<text x="586" y="1323.7" text-anchor="middle" font-family="Liberation Serif" font-size="8.8" fill="#111">Dt9</text>
<text x="606.8" y="1323.7" text-anchor="middle" font-family="Liberation Serif" font-size="8.8" fill="#111">Dt10</text>
<text x="628.9" y="1323.7" text-anchor="middle" font-family="Liberation Serif" font-size="8.8" fill="#111">Dt11</text>
<text x="650" y="1323.7" text-anchor="middle" font-family="Liberation Serif" font-size="8.8" fill="#111">Dt12</text>
<text x="670.8" y="1323.7" text-anchor="middle" font-family="Liberation Serif" font-size="8.8" fill="#111">Dt13</text>
<circle cx="378.4" cy="747.4" r="0.6" fill="#aaa"/>
</svg></body></html>
